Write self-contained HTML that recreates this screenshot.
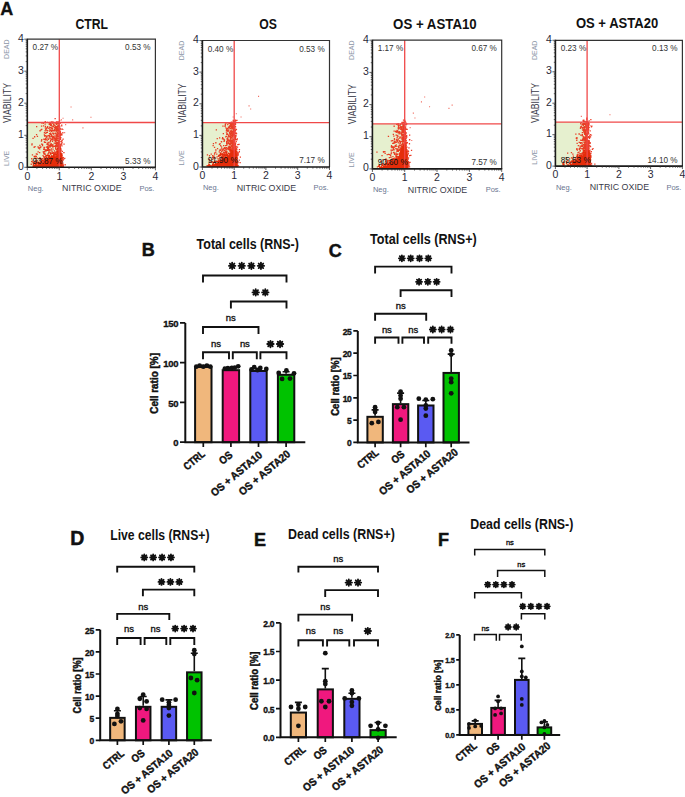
<!DOCTYPE html><html><head><meta charset="utf-8"><style>html,body{margin:0;padding:0;background:#fff;overflow:hidden;width:685px;height:797px;}svg{display:block;}</style></head><body>
<svg width="685" height="797" viewBox="0 0 685 797" font-family='"Liberation Sans", sans-serif'>
<rect width="685" height="797" fill="#fff"/>
<text x="0.3" y="14.6" font-size="18" font-weight="bold" fill="#111" stroke="#111" stroke-width="0.3">A</text>
<text x="75.4" y="28.9" textLength="32.6" lengthAdjust="spacingAndGlyphs" font-size="14.5" font-weight="bold" fill="#111">CTRL</text>
<rect x="27.3" y="122.5" width="32.0" height="44.8" fill="#e6f0cf"/>
<path d="M46.1 163.9h1.3v1.3h-1.3zM40.9 159.4h1.3v1.3h-1.3zM43.1 148.7h1.3v1.3h-1.3zM55.6 133.2h1.3v1.3h-1.3zM32.7 165.2h1.3v1.3h-1.3zM55.9 151.7h1.3v1.3h-1.3zM48.8 134.7h1.3v1.3h-1.3zM60.1 136.9h1.3v1.3h-1.3zM31.7 160.5h1.3v1.3h-1.3zM49.4 166.1h1.3v1.3h-1.3zM49.2 146.4h1.3v1.3h-1.3zM55.1 160.9h1.3v1.3h-1.3zM51.3 152.2h1.3v1.3h-1.3zM58.6 151.4h1.3v1.3h-1.3zM59.3 148.6h1.3v1.3h-1.3zM50.1 160.9h1.3v1.3h-1.3zM59.6 150.4h1.3v1.3h-1.3zM58.3 130.4h1.3v1.3h-1.3zM55.4 145.6h1.3v1.3h-1.3zM55.9 121.3h1.3v1.3h-1.3zM53.9 129.1h1.3v1.3h-1.3zM53.6 136.9h1.3v1.3h-1.3zM49.7 137.5h1.3v1.3h-1.3zM56.2 130.9h1.3v1.3h-1.3zM55.4 139.7h1.3v1.3h-1.3zM48.2 127.8h1.3v1.3h-1.3zM47.1 129.9h1.3v1.3h-1.3zM59.6 165.9h1.3v1.3h-1.3zM54.8 132.7h1.3v1.3h-1.3zM56.5 146.0h1.3v1.3h-1.3zM55.4 137.9h1.3v1.3h-1.3zM49.2 151.4h1.3v1.3h-1.3zM57.6 148.0h1.3v1.3h-1.3zM44.6 153.5h1.3v1.3h-1.3zM56.6 148.9h1.3v1.3h-1.3zM59.7 137.9h1.3v1.3h-1.3zM53.0 121.9h1.3v1.3h-1.3zM52.3 162.6h1.3v1.3h-1.3zM39.1 148.3h1.3v1.3h-1.3zM57.9 146.5h1.3v1.3h-1.3zM59.0 129.1h1.3v1.3h-1.3zM49.5 123.7h1.3v1.3h-1.3zM51.2 144.5h1.3v1.3h-1.3zM57.8 146.1h1.3v1.3h-1.3zM44.5 123.4h1.3v1.3h-1.3zM59.7 131.4h1.3v1.3h-1.3zM59.2 127.6h1.3v1.3h-1.3zM37.9 147.5h1.3v1.3h-1.3zM56.6 145.4h1.3v1.3h-1.3zM58.8 128.6h1.3v1.3h-1.3zM55.9 144.9h1.3v1.3h-1.3zM46.1 149.2h1.3v1.3h-1.3zM50.8 155.1h1.3v1.3h-1.3zM48.4 142.2h1.3v1.3h-1.3zM57.6 142.8h1.3v1.3h-1.3zM59.4 160.4h1.3v1.3h-1.3zM35.7 162.4h1.3v1.3h-1.3zM50.0 132.6h1.3v1.3h-1.3zM57.1 132.7h1.3v1.3h-1.3zM53.3 130.2h1.3v1.3h-1.3zM58.5 139.5h1.3v1.3h-1.3zM58.9 165.3h1.3v1.3h-1.3zM45.1 159.7h1.3v1.3h-1.3zM48.3 155.7h1.3v1.3h-1.3zM50.5 165.8h1.3v1.3h-1.3zM45.4 162.7h1.3v1.3h-1.3zM56.6 158.7h1.3v1.3h-1.3zM45.8 156.7h1.3v1.3h-1.3zM47.9 149.7h1.3v1.3h-1.3zM58.4 152.2h1.3v1.3h-1.3zM36.5 162.0h1.3v1.3h-1.3zM43.5 147.9h1.3v1.3h-1.3zM39.7 161.2h1.3v1.3h-1.3zM43.2 166.1h1.3v1.3h-1.3zM58.6 163.5h1.3v1.3h-1.3zM53.9 137.8h1.3v1.3h-1.3zM52.7 139.3h1.3v1.3h-1.3zM58.6 122.3h1.3v1.3h-1.3zM53.0 132.7h1.3v1.3h-1.3zM59.4 140.9h1.3v1.3h-1.3zM50.0 153.4h1.3v1.3h-1.3zM55.6 141.8h1.3v1.3h-1.3zM48.5 165.2h1.3v1.3h-1.3zM51.7 129.2h1.3v1.3h-1.3zM36.8 135.7h1.3v1.3h-1.3zM60.3 152.4h1.3v1.3h-1.3zM59.0 128.0h1.3v1.3h-1.3zM44.1 165.5h1.3v1.3h-1.3zM45.3 128.7h1.3v1.3h-1.3zM57.1 148.0h1.3v1.3h-1.3zM55.1 154.2h1.3v1.3h-1.3zM54.0 139.5h1.3v1.3h-1.3zM58.2 151.7h1.3v1.3h-1.3zM55.3 139.9h1.3v1.3h-1.3zM48.1 157.8h1.3v1.3h-1.3zM60.3 128.5h1.3v1.3h-1.3zM54.0 126.8h1.3v1.3h-1.3zM59.3 156.4h1.3v1.3h-1.3zM58.7 121.6h1.3v1.3h-1.3zM47.6 161.1h1.3v1.3h-1.3zM46.7 139.5h1.3v1.3h-1.3zM33.7 155.7h1.3v1.3h-1.3zM56.0 127.8h1.3v1.3h-1.3zM51.0 121.7h1.3v1.3h-1.3zM59.4 160.2h1.3v1.3h-1.3zM54.3 162.7h1.3v1.3h-1.3zM56.6 126.2h1.3v1.3h-1.3zM41.0 143.4h1.3v1.3h-1.3zM54.2 130.2h1.3v1.3h-1.3zM51.0 158.0h1.3v1.3h-1.3zM41.1 128.7h1.3v1.3h-1.3zM45.8 127.6h1.3v1.3h-1.3zM53.8 163.9h1.3v1.3h-1.3zM58.1 166.0h1.3v1.3h-1.3zM55.9 128.8h1.3v1.3h-1.3zM35.7 155.8h1.3v1.3h-1.3zM58.0 142.6h1.3v1.3h-1.3zM48.9 144.9h1.3v1.3h-1.3zM50.6 160.7h1.3v1.3h-1.3zM56.6 127.3h1.3v1.3h-1.3zM48.4 145.2h1.3v1.3h-1.3zM53.3 158.5h1.3v1.3h-1.3zM59.5 133.3h1.3v1.3h-1.3zM58.7 139.7h1.3v1.3h-1.3zM37.3 165.2h1.3v1.3h-1.3zM39.7 165.9h1.3v1.3h-1.3zM56.5 121.6h1.3v1.3h-1.3zM56.9 162.8h1.3v1.3h-1.3zM60.0 160.0h1.3v1.3h-1.3zM55.9 126.2h1.3v1.3h-1.3zM31.8 154.2h1.3v1.3h-1.3zM54.7 157.8h1.3v1.3h-1.3zM53.9 159.5h1.3v1.3h-1.3zM59.5 140.7h1.3v1.3h-1.3zM57.7 157.8h1.3v1.3h-1.3zM50.6 143.6h1.3v1.3h-1.3zM56.3 166.0h1.3v1.3h-1.3zM36.0 126.0h1.3v1.3h-1.3zM53.0 164.6h1.3v1.3h-1.3zM31.0 161.0h1.3v1.3h-1.3zM37.4 146.3h1.3v1.3h-1.3zM55.8 138.7h1.3v1.3h-1.3zM52.3 146.4h1.3v1.3h-1.3zM60.2 157.3h1.3v1.3h-1.3zM54.6 158.4h1.3v1.3h-1.3zM48.2 121.9h1.3v1.3h-1.3zM54.9 141.1h1.3v1.3h-1.3zM54.2 124.4h1.3v1.3h-1.3zM52.9 156.4h1.3v1.3h-1.3zM43.8 156.9h1.3v1.3h-1.3zM36.5 157.5h1.3v1.3h-1.3zM43.2 156.1h1.3v1.3h-1.3zM56.0 143.6h1.3v1.3h-1.3zM49.9 159.8h1.3v1.3h-1.3zM58.9 165.8h1.3v1.3h-1.3zM56.0 145.9h1.3v1.3h-1.3zM58.3 141.5h1.3v1.3h-1.3zM56.1 158.0h1.3v1.3h-1.3zM49.3 129.0h1.3v1.3h-1.3zM34.5 163.2h1.3v1.3h-1.3zM60.0 165.6h1.3v1.3h-1.3zM53.0 123.9h1.3v1.3h-1.3zM46.8 121.8h1.3v1.3h-1.3zM58.2 131.3h1.3v1.3h-1.3zM55.0 147.7h1.3v1.3h-1.3zM55.0 125.7h1.3v1.3h-1.3zM30.6 163.6h1.3v1.3h-1.3zM52.3 126.2h1.3v1.3h-1.3zM58.7 126.6h1.3v1.3h-1.3zM43.9 132.3h1.3v1.3h-1.3zM49.0 135.6h1.3v1.3h-1.3zM55.1 138.7h1.3v1.3h-1.3zM46.4 163.1h1.3v1.3h-1.3zM56.2 137.3h1.3v1.3h-1.3zM50.4 166.0h1.3v1.3h-1.3zM56.2 123.1h1.3v1.3h-1.3zM45.9 146.4h1.3v1.3h-1.3zM50.8 129.6h1.3v1.3h-1.3zM56.4 155.9h1.3v1.3h-1.3zM40.4 159.3h1.3v1.3h-1.3zM57.4 152.4h1.3v1.3h-1.3zM49.9 144.9h1.3v1.3h-1.3zM55.1 163.8h1.3v1.3h-1.3zM58.7 164.2h1.3v1.3h-1.3zM35.7 153.3h1.3v1.3h-1.3zM53.0 153.1h1.3v1.3h-1.3zM53.2 165.6h1.3v1.3h-1.3zM52.4 148.4h1.3v1.3h-1.3zM50.7 138.8h1.3v1.3h-1.3zM59.4 136.4h1.3v1.3h-1.3zM45.6 149.5h1.3v1.3h-1.3zM44.9 160.6h1.3v1.3h-1.3zM54.0 126.4h1.3v1.3h-1.3zM58.2 125.8h1.3v1.3h-1.3zM39.0 166.0h1.3v1.3h-1.3zM55.1 147.9h1.3v1.3h-1.3zM56.0 134.5h1.3v1.3h-1.3zM54.7 127.8h1.3v1.3h-1.3zM46.2 129.8h1.3v1.3h-1.3zM53.7 154.5h1.3v1.3h-1.3zM41.9 143.7h1.3v1.3h-1.3zM40.4 129.3h1.3v1.3h-1.3zM41.9 144.9h1.3v1.3h-1.3zM60.2 162.4h1.3v1.3h-1.3zM51.9 145.0h1.3v1.3h-1.3zM45.1 134.9h1.3v1.3h-1.3zM55.0 137.2h1.3v1.3h-1.3zM52.3 155.5h1.3v1.3h-1.3zM59.7 136.5h1.3v1.3h-1.3zM33.3 165.5h1.3v1.3h-1.3zM57.3 158.9h1.3v1.3h-1.3zM55.3 126.1h1.3v1.3h-1.3zM58.8 133.9h1.3v1.3h-1.3zM52.0 130.2h1.3v1.3h-1.3zM43.5 151.1h1.3v1.3h-1.3zM51.3 125.4h1.3v1.3h-1.3zM58.5 132.4h1.3v1.3h-1.3zM54.4 151.7h1.3v1.3h-1.3zM49.1 164.1h1.3v1.3h-1.3zM55.7 126.3h1.3v1.3h-1.3zM58.8 143.4h1.3v1.3h-1.3zM52.2 152.8h1.3v1.3h-1.3zM52.4 159.7h1.3v1.3h-1.3zM53.4 135.4h1.3v1.3h-1.3zM60.1 151.4h1.3v1.3h-1.3zM46.0 165.3h1.3v1.3h-1.3zM46.3 161.3h1.3v1.3h-1.3zM49.6 158.2h1.3v1.3h-1.3zM57.8 144.1h1.3v1.3h-1.3zM50.2 159.6h1.3v1.3h-1.3zM43.8 132.1h1.3v1.3h-1.3zM50.4 122.5h1.3v1.3h-1.3zM57.1 129.4h1.3v1.3h-1.3zM51.0 134.3h1.3v1.3h-1.3zM54.5 158.3h1.3v1.3h-1.3zM57.7 164.7h1.3v1.3h-1.3zM55.3 135.5h1.3v1.3h-1.3zM40.2 146.2h1.3v1.3h-1.3zM57.0 122.5h1.3v1.3h-1.3zM41.3 163.8h1.3v1.3h-1.3zM60.2 157.1h1.3v1.3h-1.3zM50.8 148.3h1.3v1.3h-1.3zM45.8 165.7h1.3v1.3h-1.3zM55.9 150.9h1.3v1.3h-1.3zM50.4 133.5h1.3v1.3h-1.3zM44.2 139.0h1.3v1.3h-1.3zM59.4 154.2h1.3v1.3h-1.3zM48.8 161.4h1.3v1.3h-1.3zM60.1 143.5h1.3v1.3h-1.3zM54.8 127.9h1.3v1.3h-1.3zM51.1 121.6h1.3v1.3h-1.3zM53.7 150.3h1.3v1.3h-1.3zM50.8 135.6h1.3v1.3h-1.3zM58.5 121.6h1.3v1.3h-1.3zM53.6 142.4h1.3v1.3h-1.3zM59.6 146.9h1.3v1.3h-1.3zM59.4 153.7h1.3v1.3h-1.3zM39.0 152.0h1.3v1.3h-1.3zM47.1 144.2h1.3v1.3h-1.3zM45.9 136.2h1.3v1.3h-1.3zM47.9 148.8h1.3v1.3h-1.3zM50.5 135.6h1.3v1.3h-1.3zM47.4 141.8h1.3v1.3h-1.3zM47.6 152.9h1.3v1.3h-1.3zM50.9 124.6h1.3v1.3h-1.3zM50.2 133.5h1.3v1.3h-1.3zM46.0 131.7h1.3v1.3h-1.3zM54.9 143.1h1.3v1.3h-1.3zM53.3 137.7h1.3v1.3h-1.3zM54.9 128.3h1.3v1.3h-1.3zM58.7 130.7h1.3v1.3h-1.3zM56.5 149.2h1.3v1.3h-1.3zM59.5 147.9h1.3v1.3h-1.3zM51.4 135.6h1.3v1.3h-1.3zM55.3 140.4h1.3v1.3h-1.3zM59.1 138.6h1.3v1.3h-1.3zM53.6 153.1h1.3v1.3h-1.3zM42.3 161.2h1.3v1.3h-1.3zM51.8 161.3h1.3v1.3h-1.3zM52.6 165.7h1.3v1.3h-1.3zM50.8 130.8h1.3v1.3h-1.3zM58.6 147.9h1.3v1.3h-1.3zM52.6 136.1h1.3v1.3h-1.3zM46.4 137.4h1.3v1.3h-1.3zM58.6 131.7h1.3v1.3h-1.3zM41.1 160.3h1.3v1.3h-1.3zM50.3 145.4h1.3v1.3h-1.3zM45.1 128.7h1.3v1.3h-1.3zM54.3 156.3h1.3v1.3h-1.3zM32.4 137.7h1.3v1.3h-1.3zM39.4 130.1h1.3v1.3h-1.3zM55.5 142.2h1.3v1.3h-1.3zM39.3 156.9h1.3v1.3h-1.3zM53.0 133.4h1.3v1.3h-1.3zM54.2 161.9h1.3v1.3h-1.3zM56.5 122.5h1.3v1.3h-1.3zM42.6 151.2h1.3v1.3h-1.3zM50.5 143.1h1.3v1.3h-1.3zM52.8 159.2h1.3v1.3h-1.3zM59.0 163.8h1.3v1.3h-1.3zM48.6 137.2h1.3v1.3h-1.3zM42.3 160.0h1.3v1.3h-1.3zM58.5 137.1h1.3v1.3h-1.3zM48.0 164.8h1.3v1.3h-1.3zM54.3 153.3h1.3v1.3h-1.3zM60.0 162.1h1.3v1.3h-1.3zM34.7 165.9h1.3v1.3h-1.3zM42.2 165.4h1.3v1.3h-1.3zM46.7 131.7h1.3v1.3h-1.3zM56.1 155.8h1.3v1.3h-1.3zM49.0 130.4h1.3v1.3h-1.3zM45.0 165.1h1.3v1.3h-1.3zM47.5 153.2h1.3v1.3h-1.3zM59.8 162.7h1.3v1.3h-1.3zM53.6 160.4h1.3v1.3h-1.3zM48.3 144.4h1.3v1.3h-1.3zM57.5 161.1h1.3v1.3h-1.3zM50.0 143.7h1.3v1.3h-1.3zM57.4 126.3h1.3v1.3h-1.3zM60.2 132.7h1.3v1.3h-1.3zM56.2 129.3h1.3v1.3h-1.3zM49.7 144.4h1.3v1.3h-1.3zM44.8 125.7h1.3v1.3h-1.3zM47.5 134.9h1.3v1.3h-1.3zM58.1 163.3h1.3v1.3h-1.3zM59.0 163.5h1.3v1.3h-1.3zM50.0 140.0h1.3v1.3h-1.3zM55.3 164.0h1.3v1.3h-1.3zM45.5 150.2h1.3v1.3h-1.3zM32.8 166.0h1.3v1.3h-1.3zM52.6 130.2h1.3v1.3h-1.3zM57.2 164.4h1.3v1.3h-1.3zM39.6 165.2h1.3v1.3h-1.3zM57.7 135.7h1.3v1.3h-1.3zM51.0 138.8h1.3v1.3h-1.3zM44.3 153.7h1.3v1.3h-1.3zM44.1 141.8h1.3v1.3h-1.3zM56.5 159.9h1.3v1.3h-1.3zM42.0 166.1h1.3v1.3h-1.3zM53.2 155.5h1.3v1.3h-1.3zM47.1 143.1h1.3v1.3h-1.3zM53.6 166.1h1.3v1.3h-1.3zM52.7 155.3h1.3v1.3h-1.3zM56.9 128.0h1.3v1.3h-1.3zM49.6 152.1h1.3v1.3h-1.3zM45.9 135.7h1.3v1.3h-1.3zM60.2 136.9h1.3v1.3h-1.3zM53.6 122.3h1.3v1.3h-1.3zM35.4 163.3h1.3v1.3h-1.3zM50.8 129.6h1.3v1.3h-1.3zM37.3 165.6h1.3v1.3h-1.3zM47.1 154.5h1.3v1.3h-1.3zM49.8 121.8h1.3v1.3h-1.3zM56.3 151.2h1.3v1.3h-1.3zM42.2 164.1h1.3v1.3h-1.3zM51.1 127.8h1.3v1.3h-1.3zM53.8 165.3h1.3v1.3h-1.3zM59.3 165.4h1.3v1.3h-1.3zM42.1 165.8h1.3v1.3h-1.3zM44.5 164.0h1.3v1.3h-1.3zM53.2 132.9h1.3v1.3h-1.3zM35.0 157.4h1.3v1.3h-1.3zM59.8 152.0h1.3v1.3h-1.3zM43.0 156.3h1.3v1.3h-1.3zM53.2 155.9h1.3v1.3h-1.3zM31.3 144.2h1.3v1.3h-1.3zM51.1 164.8h1.3v1.3h-1.3zM52.5 121.6h1.3v1.3h-1.3zM51.7 137.0h1.3v1.3h-1.3zM43.9 146.7h1.3v1.3h-1.3zM56.4 127.0h1.3v1.3h-1.3zM49.8 163.1h1.3v1.3h-1.3zM54.3 154.5h1.3v1.3h-1.3zM59.5 155.6h1.3v1.3h-1.3zM39.2 144.7h1.3v1.3h-1.3zM54.6 140.7h1.3v1.3h-1.3zM56.5 157.0h1.3v1.3h-1.3zM48.2 156.5h1.3v1.3h-1.3zM47.3 135.4h1.3v1.3h-1.3zM60.2 163.4h1.3v1.3h-1.3zM56.5 126.0h1.3v1.3h-1.3zM48.5 165.9h1.3v1.3h-1.3zM41.0 122.1h1.3v1.3h-1.3zM57.7 125.2h1.3v1.3h-1.3zM52.2 122.7h1.3v1.3h-1.3zM40.9 125.5h1.3v1.3h-1.3zM52.0 132.5h1.3v1.3h-1.3zM49.4 144.7h1.3v1.3h-1.3zM57.4 121.3h1.3v1.3h-1.3zM44.0 135.5h1.3v1.3h-1.3zM42.4 154.9h1.3v1.3h-1.3zM53.6 153.1h1.3v1.3h-1.3zM44.8 150.2h1.3v1.3h-1.3zM58.0 162.7h1.3v1.3h-1.3zM53.1 163.4h1.3v1.3h-1.3zM49.1 126.4h1.3v1.3h-1.3zM40.7 162.1h1.3v1.3h-1.3zM47.5 166.0h1.3v1.3h-1.3zM59.7 146.2h1.3v1.3h-1.3zM53.7 159.2h1.3v1.3h-1.3zM55.7 141.7h1.3v1.3h-1.3zM59.3 165.8h1.3v1.3h-1.3zM56.5 129.7h1.3v1.3h-1.3zM55.6 129.0h1.3v1.3h-1.3zM40.6 165.4h1.3v1.3h-1.3zM40.5 158.3h1.3v1.3h-1.3zM44.7 127.3h1.3v1.3h-1.3zM49.3 127.2h1.3v1.3h-1.3zM53.0 152.0h1.3v1.3h-1.3zM50.1 124.2h1.3v1.3h-1.3zM57.4 132.7h1.3v1.3h-1.3zM44.6 121.0h1.3v1.3h-1.3zM53.3 159.4h1.3v1.3h-1.3zM43.7 134.2h1.3v1.3h-1.3zM47.8 147.7h1.3v1.3h-1.3zM59.5 127.8h1.3v1.3h-1.3zM57.7 132.8h1.3v1.3h-1.3zM58.9 129.6h1.3v1.3h-1.3zM56.3 150.5h1.3v1.3h-1.3zM51.6 138.6h1.3v1.3h-1.3zM51.0 165.2h1.3v1.3h-1.3zM54.1 135.5h1.3v1.3h-1.3zM49.1 122.6h1.3v1.3h-1.3zM56.1 145.9h1.3v1.3h-1.3zM38.4 147.2h1.3v1.3h-1.3zM55.9 123.7h1.3v1.3h-1.3zM52.6 152.8h1.3v1.3h-1.3zM51.7 157.5h1.3v1.3h-1.3zM46.9 148.1h1.3v1.3h-1.3zM54.5 122.3h1.3v1.3h-1.3zM34.0 136.1h1.3v1.3h-1.3zM52.0 145.1h1.3v1.3h-1.3zM53.4 124.7h1.3v1.3h-1.3zM50.5 127.1h1.3v1.3h-1.3zM42.9 125.3h1.3v1.3h-1.3zM52.1 129.9h1.3v1.3h-1.3zM52.6 132.8h1.3v1.3h-1.3zM60.2 154.4h1.3v1.3h-1.3zM44.8 156.0h1.3v1.3h-1.3zM51.4 150.6h1.3v1.3h-1.3zM52.2 152.5h1.3v1.3h-1.3zM54.8 165.2h1.3v1.3h-1.3zM52.2 143.9h1.3v1.3h-1.3zM49.6 158.1h1.3v1.3h-1.3zM60.1 147.8h1.3v1.3h-1.3zM56.2 135.9h1.3v1.3h-1.3zM49.9 133.8h1.3v1.3h-1.3zM57.1 149.1h1.3v1.3h-1.3zM50.2 122.6h1.3v1.3h-1.3zM55.5 137.2h1.3v1.3h-1.3zM57.7 122.9h1.3v1.3h-1.3zM49.6 160.5h1.3v1.3h-1.3zM58.7 149.4h1.3v1.3h-1.3zM48.6 123.7h1.3v1.3h-1.3zM50.8 130.6h1.3v1.3h-1.3zM34.4 146.0h1.3v1.3h-1.3zM43.4 146.7h1.3v1.3h-1.3zM42.6 122.7h1.3v1.3h-1.3zM45.8 164.9h1.3v1.3h-1.3zM56.5 139.6h1.3v1.3h-1.3zM59.1 164.4h1.3v1.3h-1.3zM50.2 149.4h1.3v1.3h-1.3zM48.9 132.9h1.3v1.3h-1.3zM45.0 139.3h1.3v1.3h-1.3zM43.4 165.4h1.3v1.3h-1.3zM47.2 157.8h1.3v1.3h-1.3zM55.2 148.1h1.3v1.3h-1.3zM57.5 129.5h1.3v1.3h-1.3zM36.1 164.8h1.3v1.3h-1.3zM40.0 161.5h1.3v1.3h-1.3zM38.0 147.4h1.3v1.3h-1.3zM51.2 121.3h1.3v1.3h-1.3zM31.1 158.1h1.3v1.3h-1.3zM59.1 146.2h1.3v1.3h-1.3zM59.5 161.0h1.3v1.3h-1.3zM48.9 149.1h1.3v1.3h-1.3zM38.3 165.2h1.3v1.3h-1.3zM59.4 122.7h1.3v1.3h-1.3zM45.8 158.9h1.3v1.3h-1.3zM57.4 134.8h1.3v1.3h-1.3zM59.2 130.1h1.3v1.3h-1.3zM51.6 137.8h1.3v1.3h-1.3zM54.4 152.7h1.3v1.3h-1.3zM54.5 145.4h1.3v1.3h-1.3zM46.2 143.5h1.3v1.3h-1.3zM56.7 142.9h1.3v1.3h-1.3zM50.2 163.4h1.3v1.3h-1.3zM55.7 138.3h1.3v1.3h-1.3zM57.3 159.0h1.3v1.3h-1.3zM48.5 149.9h1.3v1.3h-1.3zM53.6 155.9h1.3v1.3h-1.3zM56.5 128.0h1.3v1.3h-1.3zM56.5 138.4h1.3v1.3h-1.3zM59.3 156.5h1.3v1.3h-1.3zM47.9 138.6h1.3v1.3h-1.3zM46.5 127.3h1.3v1.3h-1.3zM48.1 156.9h1.3v1.3h-1.3zM59.8 164.1h1.3v1.3h-1.3zM60.0 163.7h1.3v1.3h-1.3zM55.1 146.5h1.3v1.3h-1.3zM44.9 137.9h1.3v1.3h-1.3zM52.0 160.6h1.3v1.3h-1.3zM33.3 161.6h1.3v1.3h-1.3zM49.2 152.2h1.3v1.3h-1.3zM47.5 165.5h1.3v1.3h-1.3zM58.7 165.4h1.3v1.3h-1.3zM43.0 160.6h1.3v1.3h-1.3zM57.8 143.3h1.3v1.3h-1.3zM59.9 156.3h1.3v1.3h-1.3zM60.2 163.7h1.3v1.3h-1.3zM41.1 139.1h1.3v1.3h-1.3zM39.0 166.0h1.3v1.3h-1.3zM50.1 156.9h1.3v1.3h-1.3zM57.0 158.9h1.3v1.3h-1.3zM59.2 163.7h1.3v1.3h-1.3zM43.2 153.2h1.3v1.3h-1.3zM52.2 160.0h1.3v1.3h-1.3zM58.3 139.2h1.3v1.3h-1.3zM44.1 156.7h1.3v1.3h-1.3zM50.5 123.9h1.3v1.3h-1.3zM43.7 141.2h1.3v1.3h-1.3zM44.5 130.1h1.3v1.3h-1.3zM43.9 153.0h1.3v1.3h-1.3zM50.3 139.2h1.3v1.3h-1.3zM50.2 145.2h1.3v1.3h-1.3zM39.8 146.7h1.3v1.3h-1.3zM45.0 141.7h1.3v1.3h-1.3zM46.7 146.0h1.3v1.3h-1.3zM54.6 162.5h1.3v1.3h-1.3zM43.9 161.0h1.3v1.3h-1.3zM53.3 159.6h1.3v1.3h-1.3zM44.9 158.8h1.3v1.3h-1.3zM57.5 153.0h1.3v1.3h-1.3zM45.3 164.9h1.3v1.3h-1.3zM47.6 146.2h1.3v1.3h-1.3zM49.5 146.2h1.3v1.3h-1.3zM45.4 138.9h1.3v1.3h-1.3zM52.2 165.9h1.3v1.3h-1.3zM47.0 126.0h1.3v1.3h-1.3zM52.9 163.6h1.3v1.3h-1.3zM55.5 130.2h1.3v1.3h-1.3zM49.7 129.8h1.3v1.3h-1.3zM34.3 163.0h1.3v1.3h-1.3zM52.5 129.8h1.3v1.3h-1.3zM49.6 164.4h1.3v1.3h-1.3zM58.1 143.3h1.3v1.3h-1.3zM45.2 132.6h1.3v1.3h-1.3zM31.4 143.2h1.3v1.3h-1.3zM59.1 125.7h1.3v1.3h-1.3zM49.6 141.1h1.3v1.3h-1.3zM51.8 127.8h1.3v1.3h-1.3zM57.1 150.4h1.3v1.3h-1.3zM43.1 152.2h1.3v1.3h-1.3zM49.8 124.8h1.3v1.3h-1.3zM49.2 165.6h1.3v1.3h-1.3zM60.1 166.1h1.3v1.3h-1.3zM59.8 164.6h1.3v1.3h-1.3zM46.6 163.7h1.3v1.3h-1.3zM59.6 158.8h1.3v1.3h-1.3zM49.5 121.8h1.3v1.3h-1.3zM52.2 132.4h1.3v1.3h-1.3zM59.7 131.4h1.3v1.3h-1.3zM34.8 160.0h1.3v1.3h-1.3zM55.9 145.3h1.3v1.3h-1.3zM55.5 133.9h1.3v1.3h-1.3zM52.8 125.8h1.3v1.3h-1.3zM34.8 155.6h1.3v1.3h-1.3zM40.8 140.4h1.3v1.3h-1.3zM59.6 165.7h1.3v1.3h-1.3zM53.6 154.3h1.3v1.3h-1.3zM37.5 151.3h1.3v1.3h-1.3zM51.5 138.1h1.3v1.3h-1.3zM46.8 165.4h1.3v1.3h-1.3zM53.9 127.3h1.3v1.3h-1.3zM44.4 149.1h1.3v1.3h-1.3zM51.3 155.8h1.3v1.3h-1.3zM46.9 127.0h1.3v1.3h-1.3zM42.0 162.5h1.3v1.3h-1.3zM52.3 137.2h1.3v1.3h-1.3zM55.6 122.7h1.3v1.3h-1.3zM57.6 140.4h1.3v1.3h-1.3zM46.6 149.8h1.3v1.3h-1.3zM57.4 148.8h1.3v1.3h-1.3zM37.6 161.8h1.3v1.3h-1.3zM44.1 151.3h1.3v1.3h-1.3zM57.1 125.2h1.3v1.3h-1.3zM54.6 130.3h1.3v1.3h-1.3zM48.7 164.7h1.3v1.3h-1.3zM51.8 165.3h1.3v1.3h-1.3zM57.1 139.9h1.3v1.3h-1.3zM58.9 132.7h1.3v1.3h-1.3zM55.3 122.5h1.3v1.3h-1.3zM58.4 131.1h1.3v1.3h-1.3zM59.4 153.3h1.3v1.3h-1.3zM58.1 141.6h1.3v1.3h-1.3zM33.5 146.6h1.3v1.3h-1.3zM36.5 153.6h1.3v1.3h-1.3zM59.8 121.9h1.3v1.3h-1.3zM55.8 126.4h1.3v1.3h-1.3zM49.3 160.1h1.3v1.3h-1.3zM35.9 134.0h1.3v1.3h-1.3zM45.9 162.5h1.3v1.3h-1.3zM47.8 144.2h1.3v1.3h-1.3zM59.4 132.9h1.3v1.3h-1.3zM58.0 124.7h1.3v1.3h-1.3zM43.3 138.6h1.3v1.3h-1.3zM51.9 140.6h1.3v1.3h-1.3zM58.5 133.7h1.3v1.3h-1.3zM51.3 164.4h1.3v1.3h-1.3zM50.9 145.4h1.3v1.3h-1.3zM55.2 160.1h1.3v1.3h-1.3zM47.8 165.8h1.3v1.3h-1.3zM57.2 152.5h1.3v1.3h-1.3zM41.9 143.7h1.3v1.3h-1.3zM58.4 156.8h1.3v1.3h-1.3zM46.6 146.7h1.3v1.3h-1.3zM55.4 152.4h1.3v1.3h-1.3zM48.9 162.7h1.3v1.3h-1.3zM51.6 161.5h1.3v1.3h-1.3zM56.6 131.6h1.3v1.3h-1.3zM55.0 145.1h1.3v1.3h-1.3zM57.6 130.0h1.3v1.3h-1.3zM45.5 136.4h1.3v1.3h-1.3zM53.8 156.0h1.3v1.3h-1.3zM52.2 155.5h1.3v1.3h-1.3zM52.6 158.5h1.3v1.3h-1.3zM58.6 164.0h1.3v1.3h-1.3zM52.0 159.5h1.3v1.3h-1.3zM39.6 146.6h1.3v1.3h-1.3zM34.2 161.6h1.3v1.3h-1.3zM49.9 144.5h1.3v1.3h-1.3zM54.1 145.8h1.3v1.3h-1.3zM55.5 142.1h1.3v1.3h-1.3zM59.1 165.6h1.3v1.3h-1.3zM56.7 135.6h1.3v1.3h-1.3zM53.0 154.0h1.3v1.3h-1.3zM42.5 164.1h1.3v1.3h-1.3zM52.2 146.5h1.3v1.3h-1.3zM55.9 154.0h1.3v1.3h-1.3zM38.9 158.2h1.3v1.3h-1.3zM58.8 138.1h1.3v1.3h-1.3zM60.9 160.5h1.3v1.3h-1.3zM60.9 155.0h1.3v1.3h-1.3zM59.9 163.5h1.3v1.3h-1.3zM57.6 157.3h1.3v1.3h-1.3zM61.2 152.9h1.3v1.3h-1.3zM58.4 152.0h1.3v1.3h-1.3zM57.1 165.3h1.3v1.3h-1.3zM59.9 161.2h1.3v1.3h-1.3zM54.7 151.4h1.3v1.3h-1.3zM59.7 165.6h1.3v1.3h-1.3zM56.6 162.8h1.3v1.3h-1.3zM57.5 163.6h1.3v1.3h-1.3zM58.3 129.4h1.3v1.3h-1.3zM59.0 147.6h1.3v1.3h-1.3zM56.9 126.2h1.3v1.3h-1.3zM58.1 165.0h1.3v1.3h-1.3zM57.2 166.0h1.3v1.3h-1.3zM58.5 163.7h1.3v1.3h-1.3zM56.8 156.8h1.3v1.3h-1.3zM58.1 152.1h1.3v1.3h-1.3zM60.6 149.5h1.3v1.3h-1.3zM55.2 126.6h1.3v1.3h-1.3zM58.3 143.8h1.3v1.3h-1.3zM58.3 158.5h1.3v1.3h-1.3zM59.1 138.8h1.3v1.3h-1.3zM56.7 165.1h1.3v1.3h-1.3zM57.7 165.9h1.3v1.3h-1.3zM54.8 139.6h1.3v1.3h-1.3zM57.5 129.1h1.3v1.3h-1.3zM58.2 165.7h1.3v1.3h-1.3zM57.9 158.5h1.3v1.3h-1.3zM60.4 158.0h1.3v1.3h-1.3zM57.8 163.9h1.3v1.3h-1.3zM57.3 155.9h1.3v1.3h-1.3zM58.2 160.2h1.3v1.3h-1.3zM61.1 133.7h1.3v1.3h-1.3zM58.0 165.2h1.3v1.3h-1.3zM58.9 157.5h1.3v1.3h-1.3zM57.5 164.7h1.3v1.3h-1.3zM58.3 129.3h1.3v1.3h-1.3zM58.8 156.2h1.3v1.3h-1.3zM54.3 138.4h1.3v1.3h-1.3zM61.4 141.8h1.3v1.3h-1.3zM57.4 137.7h1.3v1.3h-1.3zM57.1 129.5h1.3v1.3h-1.3zM60.2 157.1h1.3v1.3h-1.3zM57.6 128.8h1.3v1.3h-1.3zM56.5 156.9h1.3v1.3h-1.3zM59.3 161.2h1.3v1.3h-1.3zM55.7 164.7h1.3v1.3h-1.3zM56.7 162.1h1.3v1.3h-1.3zM59.0 135.2h1.3v1.3h-1.3zM55.7 158.7h1.3v1.3h-1.3zM57.7 142.2h1.3v1.3h-1.3zM58.0 153.6h1.3v1.3h-1.3zM59.5 165.7h1.3v1.3h-1.3zM57.5 154.5h1.3v1.3h-1.3zM56.8 151.1h1.3v1.3h-1.3zM57.4 151.2h1.3v1.3h-1.3zM56.6 137.2h1.3v1.3h-1.3zM59.0 140.7h1.3v1.3h-1.3zM59.1 165.9h1.3v1.3h-1.3zM59.6 131.1h1.3v1.3h-1.3zM59.5 164.7h1.3v1.3h-1.3zM59.2 155.9h1.3v1.3h-1.3zM61.5 139.7h1.3v1.3h-1.3zM58.3 152.3h1.3v1.3h-1.3zM60.4 165.3h1.3v1.3h-1.3zM59.2 162.4h1.3v1.3h-1.3zM56.4 154.5h1.3v1.3h-1.3zM57.4 166.1h1.3v1.3h-1.3zM59.5 164.3h1.3v1.3h-1.3zM57.9 165.9h1.3v1.3h-1.3zM58.2 162.0h1.3v1.3h-1.3zM57.1 163.5h1.3v1.3h-1.3zM55.8 162.1h1.3v1.3h-1.3zM58.7 161.6h1.3v1.3h-1.3zM61.3 134.2h1.3v1.3h-1.3zM57.9 166.0h1.3v1.3h-1.3zM61.2 161.2h1.3v1.3h-1.3zM56.9 165.0h1.3v1.3h-1.3zM56.6 158.0h1.3v1.3h-1.3zM60.4 165.8h1.3v1.3h-1.3zM58.7 145.1h1.3v1.3h-1.3zM58.1 153.1h1.3v1.3h-1.3zM59.5 149.9h1.3v1.3h-1.3zM57.2 163.8h1.3v1.3h-1.3zM59.8 165.3h1.3v1.3h-1.3zM59.9 165.2h1.3v1.3h-1.3zM58.5 162.3h1.3v1.3h-1.3zM58.9 160.8h1.3v1.3h-1.3zM59.1 146.7h1.3v1.3h-1.3zM62.0 165.1h1.3v1.3h-1.3zM58.3 166.1h1.3v1.3h-1.3zM60.4 144.1h1.3v1.3h-1.3zM58.5 165.9h1.3v1.3h-1.3zM58.0 155.3h1.3v1.3h-1.3zM57.9 163.5h1.3v1.3h-1.3zM60.2 159.9h1.3v1.3h-1.3zM57.8 159.3h1.3v1.3h-1.3zM57.5 164.1h1.3v1.3h-1.3zM57.3 148.8h1.3v1.3h-1.3zM61.9 158.4h1.3v1.3h-1.3zM58.7 157.0h1.3v1.3h-1.3zM58.4 165.5h1.3v1.3h-1.3zM56.3 151.6h1.3v1.3h-1.3zM55.0 158.2h1.3v1.3h-1.3zM58.0 147.6h1.3v1.3h-1.3zM58.9 158.6h1.3v1.3h-1.3zM59.7 147.9h1.3v1.3h-1.3zM54.6 138.7h1.3v1.3h-1.3zM56.6 154.0h1.3v1.3h-1.3zM57.8 156.9h1.3v1.3h-1.3zM55.6 149.0h1.3v1.3h-1.3zM56.9 157.7h1.3v1.3h-1.3zM59.5 157.1h1.3v1.3h-1.3zM56.3 155.4h1.3v1.3h-1.3zM59.1 154.0h1.3v1.3h-1.3zM56.3 162.5h1.3v1.3h-1.3zM58.0 161.4h1.3v1.3h-1.3zM58.1 157.5h1.3v1.3h-1.3zM58.6 131.7h1.3v1.3h-1.3zM60.1 148.0h1.3v1.3h-1.3zM57.6 125.7h1.3v1.3h-1.3zM56.2 159.5h1.3v1.3h-1.3zM57.4 158.1h1.3v1.3h-1.3zM57.2 142.7h1.3v1.3h-1.3zM58.4 165.8h1.3v1.3h-1.3zM55.7 165.8h1.3v1.3h-1.3zM59.1 153.1h1.3v1.3h-1.3zM55.2 163.6h1.3v1.3h-1.3zM61.9 165.9h1.3v1.3h-1.3zM61.7 150.7h1.3v1.3h-1.3zM56.9 165.1h1.3v1.3h-1.3zM54.6 152.3h1.3v1.3h-1.3zM60.8 163.1h1.3v1.3h-1.3zM57.8 164.1h1.3v1.3h-1.3zM56.3 144.0h1.3v1.3h-1.3zM58.3 160.0h1.3v1.3h-1.3zM56.6 161.7h1.3v1.3h-1.3zM59.3 157.4h1.3v1.3h-1.3zM59.3 135.1h1.3v1.3h-1.3zM58.8 122.9h1.3v1.3h-1.3zM56.7 152.3h1.3v1.3h-1.3zM56.8 162.8h1.3v1.3h-1.3zM58.6 159.3h1.3v1.3h-1.3zM59.3 145.5h1.3v1.3h-1.3zM60.9 133.5h1.3v1.3h-1.3zM58.4 161.4h1.3v1.3h-1.3zM58.2 156.3h1.3v1.3h-1.3zM58.0 159.9h1.3v1.3h-1.3zM59.7 154.4h1.3v1.3h-1.3zM57.0 161.2h1.3v1.3h-1.3zM57.2 152.5h1.3v1.3h-1.3zM57.7 154.6h1.3v1.3h-1.3zM59.7 162.1h1.3v1.3h-1.3zM58.5 165.9h1.3v1.3h-1.3zM55.1 156.5h1.3v1.3h-1.3zM58.3 145.2h1.3v1.3h-1.3zM59.6 145.1h1.3v1.3h-1.3zM58.3 159.8h1.3v1.3h-1.3zM59.9 163.1h1.3v1.3h-1.3zM59.5 155.8h1.3v1.3h-1.3zM62.3 165.1h1.3v1.3h-1.3zM56.3 166.1h1.3v1.3h-1.3zM58.0 166.0h1.3v1.3h-1.3zM55.3 165.6h1.3v1.3h-1.3zM58.6 160.8h1.3v1.3h-1.3zM58.4 163.5h1.3v1.3h-1.3zM57.8 163.7h1.3v1.3h-1.3zM60.3 162.7h1.3v1.3h-1.3zM59.2 163.0h1.3v1.3h-1.3zM61.6 162.9h1.3v1.3h-1.3zM57.0 154.3h1.3v1.3h-1.3zM58.8 158.9h1.3v1.3h-1.3zM59.3 165.3h1.3v1.3h-1.3zM60.5 163.4h1.3v1.3h-1.3zM59.0 164.2h1.3v1.3h-1.3zM58.0 141.9h1.3v1.3h-1.3zM60.2 133.6h1.3v1.3h-1.3zM60.8 164.7h1.3v1.3h-1.3zM58.0 165.5h1.3v1.3h-1.3zM59.8 157.9h1.3v1.3h-1.3zM58.0 142.0h1.3v1.3h-1.3zM57.7 163.7h1.3v1.3h-1.3zM61.3 145.3h1.3v1.3h-1.3zM61.0 140.6h1.3v1.3h-1.3zM58.1 163.3h1.3v1.3h-1.3zM59.6 158.5h1.3v1.3h-1.3zM59.6 162.7h1.3v1.3h-1.3zM58.6 163.8h1.3v1.3h-1.3zM55.2 160.4h1.3v1.3h-1.3zM59.3 150.0h1.3v1.3h-1.3zM59.4 152.0h1.3v1.3h-1.3zM57.2 158.4h1.3v1.3h-1.3zM59.9 162.8h1.3v1.3h-1.3zM55.5 128.6h1.3v1.3h-1.3zM58.8 152.4h1.3v1.3h-1.3zM58.8 141.7h1.3v1.3h-1.3zM54.8 132.6h1.3v1.3h-1.3zM57.6 124.5h1.3v1.3h-1.3zM57.1 144.8h1.3v1.3h-1.3zM59.6 160.4h1.3v1.3h-1.3zM58.1 159.2h1.3v1.3h-1.3zM58.4 165.1h1.3v1.3h-1.3zM55.4 164.4h1.3v1.3h-1.3zM57.0 147.4h1.3v1.3h-1.3zM56.2 164.7h1.3v1.3h-1.3zM59.0 165.0h1.3v1.3h-1.3zM57.5 166.0h1.3v1.3h-1.3zM57.6 150.7h1.3v1.3h-1.3zM59.2 164.3h1.3v1.3h-1.3zM57.3 158.3h1.3v1.3h-1.3zM61.1 154.5h1.3v1.3h-1.3zM56.0 137.5h1.3v1.3h-1.3zM59.3 148.8h1.3v1.3h-1.3zM58.8 155.1h1.3v1.3h-1.3zM58.9 146.6h1.3v1.3h-1.3zM59.8 156.0h1.3v1.3h-1.3zM60.1 134.6h1.3v1.3h-1.3zM56.2 151.5h1.3v1.3h-1.3zM57.9 149.7h1.3v1.3h-1.3zM59.0 119.8h1.3v1.3h-1.3zM58.1 165.1h1.3v1.3h-1.3zM60.6 163.5h1.3v1.3h-1.3zM59.2 162.8h1.3v1.3h-1.3zM57.2 159.0h1.3v1.3h-1.3zM62.0 160.2h1.3v1.3h-1.3zM59.5 148.1h1.3v1.3h-1.3zM59.1 165.7h1.3v1.3h-1.3zM58.9 131.9h1.3v1.3h-1.3zM58.6 164.9h1.3v1.3h-1.3zM59.7 155.9h1.3v1.3h-1.3zM55.0 130.3h1.3v1.3h-1.3zM57.5 154.8h1.3v1.3h-1.3zM59.8 158.2h1.3v1.3h-1.3zM56.8 157.0h1.3v1.3h-1.3zM57.3 155.8h1.3v1.3h-1.3zM59.7 166.1h1.3v1.3h-1.3zM58.4 163.6h1.3v1.3h-1.3zM57.5 163.6h1.3v1.3h-1.3zM58.0 164.4h1.3v1.3h-1.3zM58.8 160.1h1.3v1.3h-1.3zM57.0 152.2h1.3v1.3h-1.3zM55.5 165.8h1.3v1.3h-1.3zM58.8 150.8h1.3v1.3h-1.3zM59.7 153.6h1.3v1.3h-1.3zM56.1 138.2h1.3v1.3h-1.3zM54.3 165.8h1.3v1.3h-1.3zM58.9 156.8h1.3v1.3h-1.3zM58.5 160.0h1.3v1.3h-1.3zM58.8 154.2h1.3v1.3h-1.3zM58.8 161.2h1.3v1.3h-1.3zM53.4 145.6h1.3v1.3h-1.3zM56.1 152.4h1.3v1.3h-1.3zM56.7 131.9h1.3v1.3h-1.3zM57.6 158.7h1.3v1.3h-1.3zM60.5 165.2h1.3v1.3h-1.3zM59.3 165.9h1.3v1.3h-1.3zM57.2 160.9h1.3v1.3h-1.3zM61.2 162.6h1.3v1.3h-1.3zM54.4 161.4h1.3v1.3h-1.3zM58.7 161.7h1.3v1.3h-1.3zM60.0 151.2h1.3v1.3h-1.3zM58.9 125.3h1.3v1.3h-1.3zM56.9 163.4h1.3v1.3h-1.3zM60.2 154.0h1.3v1.3h-1.3zM56.5 153.6h1.3v1.3h-1.3zM56.9 161.1h1.3v1.3h-1.3zM56.8 160.4h1.3v1.3h-1.3zM59.5 153.9h1.3v1.3h-1.3zM57.0 134.1h1.3v1.3h-1.3zM59.4 138.7h1.3v1.3h-1.3zM58.2 162.8h1.3v1.3h-1.3zM57.2 145.7h1.3v1.3h-1.3zM56.3 165.4h1.3v1.3h-1.3zM58.3 127.4h1.3v1.3h-1.3zM56.6 141.9h1.3v1.3h-1.3zM57.6 165.5h1.3v1.3h-1.3zM58.3 154.1h1.3v1.3h-1.3zM57.4 153.1h1.3v1.3h-1.3zM57.9 165.7h1.3v1.3h-1.3zM55.4 148.7h1.3v1.3h-1.3zM58.1 149.9h1.3v1.3h-1.3zM59.0 144.6h1.3v1.3h-1.3zM59.3 160.2h1.3v1.3h-1.3zM59.8 138.6h1.3v1.3h-1.3zM54.5 117.9h1.3v1.3h-1.3zM62.7 164.3h1.3v1.3h-1.3zM61.9 156.5h1.3v1.3h-1.3zM60.4 133.8h1.3v1.3h-1.3zM61.8 165.1h1.3v1.3h-1.3zM62.5 165.2h1.3v1.3h-1.3zM62.3 162.4h1.3v1.3h-1.3zM60.4 164.1h1.3v1.3h-1.3zM61.7 128.4h1.3v1.3h-1.3zM61.6 154.4h1.3v1.3h-1.3zM63.0 158.4h1.3v1.3h-1.3zM61.0 164.3h1.3v1.3h-1.3zM63.2 152.0h1.3v1.3h-1.3zM61.1 142.5h1.3v1.3h-1.3zM60.4 162.0h1.3v1.3h-1.3zM60.5 165.3h1.3v1.3h-1.3zM62.3 159.6h1.3v1.3h-1.3zM63.3 151.9h1.3v1.3h-1.3zM61.2 158.0h1.3v1.3h-1.3zM62.5 138.4h1.3v1.3h-1.3zM60.5 165.7h1.3v1.3h-1.3zM61.3 157.9h1.3v1.3h-1.3zM64.5 164.1h1.3v1.3h-1.3zM61.7 165.9h1.3v1.3h-1.3zM64.1 157.7h1.3v1.3h-1.3zM63.4 143.4h1.3v1.3h-1.3zM61.4 164.2h1.3v1.3h-1.3zM61.1 143.4h1.3v1.3h-1.3zM60.5 154.3h1.3v1.3h-1.3zM61.1 125.2h1.3v1.3h-1.3zM61.7 163.1h1.3v1.3h-1.3zM62.2 132.1h1.3v1.3h-1.3zM62.7 165.6h1.3v1.3h-1.3zM61.1 124.6h1.3v1.3h-1.3zM61.6 157.3h1.3v1.3h-1.3zM60.3 154.8h1.3v1.3h-1.3zM63.1 158.4h1.3v1.3h-1.3zM62.7 156.9h1.3v1.3h-1.3z" fill="#e8240c" opacity="0.88"/>
<path d="M62.5 117.7h1.1v1.1h-1.1zM65.1 124.1h1.1v1.1h-1.1zM70.5 106.5h1.1v1.1h-1.1zM72.1 119.3h1.1v1.1h-1.1zM82.4 127.3h1.1v1.1h-1.1zM90.4 116.7h1.1v1.1h-1.1zM60.9 119.3h1.1v1.1h-1.1zM62.5 128.9h1.1v1.1h-1.1zM64.1 132.1h1.1v1.1h-1.1z" fill="#ee4030" opacity="0.75"/>
<path d="M55.6 165.2h1.3v1.3h-1.3zM58.8 158.6h1.3v1.3h-1.3zM38.4 165.5h1.3v1.3h-1.3zM47.5 165.8h1.3v1.3h-1.3zM57.2 165.2h1.3v1.3h-1.3zM58.7 165.6h1.3v1.3h-1.3zM51.8 163.7h1.3v1.3h-1.3zM52.1 165.0h1.3v1.3h-1.3zM60.2 159.9h1.3v1.3h-1.3zM56.1 157.4h1.3v1.3h-1.3zM45.9 164.5h1.3v1.3h-1.3zM43.2 163.2h1.3v1.3h-1.3zM48.9 163.9h1.3v1.3h-1.3zM57.3 160.6h1.3v1.3h-1.3zM58.2 159.6h1.3v1.3h-1.3zM41.8 162.5h1.3v1.3h-1.3zM57.3 159.5h1.3v1.3h-1.3zM48.5 160.5h1.3v1.3h-1.3zM46.8 163.7h1.3v1.3h-1.3zM58.4 160.1h1.3v1.3h-1.3zM53.0 161.1h1.3v1.3h-1.3zM51.7 165.9h1.3v1.3h-1.3zM56.3 163.3h1.3v1.3h-1.3zM35.0 164.6h1.3v1.3h-1.3zM49.4 165.2h1.3v1.3h-1.3zM51.8 163.9h1.3v1.3h-1.3zM52.8 159.5h1.3v1.3h-1.3zM52.2 157.8h1.3v1.3h-1.3zM53.3 164.1h1.3v1.3h-1.3zM48.3 165.4h1.3v1.3h-1.3zM54.4 165.4h1.3v1.3h-1.3zM48.7 156.7h1.3v1.3h-1.3zM57.9 158.9h1.3v1.3h-1.3zM37.8 165.0h1.3v1.3h-1.3zM56.4 165.5h1.3v1.3h-1.3zM50.5 159.7h1.3v1.3h-1.3zM48.2 165.4h1.3v1.3h-1.3zM55.9 165.7h1.3v1.3h-1.3zM49.5 162.8h1.3v1.3h-1.3zM53.8 165.7h1.3v1.3h-1.3zM57.6 158.5h1.3v1.3h-1.3zM32.4 162.1h1.3v1.3h-1.3zM58.4 163.2h1.3v1.3h-1.3zM40.0 158.1h1.3v1.3h-1.3zM39.7 158.3h1.3v1.3h-1.3zM51.4 161.1h1.3v1.3h-1.3zM56.4 164.9h1.3v1.3h-1.3zM44.3 161.6h1.3v1.3h-1.3zM50.6 165.6h1.3v1.3h-1.3zM52.8 163.4h1.3v1.3h-1.3zM53.1 165.1h1.3v1.3h-1.3zM61.0 159.9h1.3v1.3h-1.3zM58.7 164.8h1.3v1.3h-1.3zM58.6 159.2h1.3v1.3h-1.3zM52.5 163.5h1.3v1.3h-1.3zM45.5 158.5h1.3v1.3h-1.3zM57.4 165.9h1.3v1.3h-1.3zM59.3 159.5h1.3v1.3h-1.3zM50.7 159.6h1.3v1.3h-1.3zM36.3 163.5h1.3v1.3h-1.3zM60.8 157.4h1.3v1.3h-1.3zM57.1 155.9h1.3v1.3h-1.3zM41.9 163.0h1.3v1.3h-1.3zM42.8 163.0h1.3v1.3h-1.3zM53.9 162.3h1.3v1.3h-1.3zM51.4 159.2h1.3v1.3h-1.3zM60.8 159.5h1.3v1.3h-1.3zM47.8 161.8h1.3v1.3h-1.3zM52.3 163.4h1.3v1.3h-1.3zM46.6 161.1h1.3v1.3h-1.3zM55.5 162.1h1.3v1.3h-1.3zM58.8 163.2h1.3v1.3h-1.3zM57.8 163.0h1.3v1.3h-1.3zM59.4 157.9h1.3v1.3h-1.3zM57.6 158.8h1.3v1.3h-1.3zM59.5 165.4h1.3v1.3h-1.3zM41.8 162.6h1.3v1.3h-1.3zM60.7 160.5h1.3v1.3h-1.3zM48.3 165.8h1.3v1.3h-1.3zM48.4 161.0h1.3v1.3h-1.3zM42.2 159.9h1.3v1.3h-1.3zM44.5 165.8h1.3v1.3h-1.3zM57.8 160.6h1.3v1.3h-1.3zM47.5 164.4h1.3v1.3h-1.3zM55.9 162.2h1.3v1.3h-1.3zM53.5 164.7h1.3v1.3h-1.3zM51.7 162.9h1.3v1.3h-1.3zM59.2 166.0h1.3v1.3h-1.3zM47.3 165.6h1.3v1.3h-1.3zM60.5 164.9h1.3v1.3h-1.3zM56.2 160.8h1.3v1.3h-1.3zM57.9 165.0h1.3v1.3h-1.3zM57.8 158.0h1.3v1.3h-1.3zM56.4 158.7h1.3v1.3h-1.3zM58.2 161.0h1.3v1.3h-1.3zM54.4 160.7h1.3v1.3h-1.3zM59.2 157.0h1.3v1.3h-1.3zM59.5 165.1h1.3v1.3h-1.3zM51.5 156.5h1.3v1.3h-1.3zM57.1 165.3h1.3v1.3h-1.3zM49.4 156.3h1.3v1.3h-1.3zM51.5 160.1h1.3v1.3h-1.3zM54.5 160.8h1.3v1.3h-1.3zM56.7 163.3h1.3v1.3h-1.3zM45.6 164.2h1.3v1.3h-1.3zM55.3 159.9h1.3v1.3h-1.3zM58.9 165.9h1.3v1.3h-1.3zM56.0 163.0h1.3v1.3h-1.3zM52.9 162.3h1.3v1.3h-1.3zM36.5 159.9h1.3v1.3h-1.3zM59.5 159.5h1.3v1.3h-1.3zM53.1 165.4h1.3v1.3h-1.3zM57.6 159.1h1.3v1.3h-1.3zM48.0 164.2h1.3v1.3h-1.3zM45.7 161.4h1.3v1.3h-1.3zM50.5 164.0h1.3v1.3h-1.3zM46.4 163.9h1.3v1.3h-1.3zM59.3 158.4h1.3v1.3h-1.3zM56.8 166.0h1.3v1.3h-1.3zM58.4 154.0h1.3v1.3h-1.3zM52.7 165.0h1.3v1.3h-1.3zM44.9 161.3h1.3v1.3h-1.3zM58.8 162.0h1.3v1.3h-1.3zM46.6 149.8h1.3v1.3h-1.3zM61.1 154.8h1.3v1.3h-1.3zM56.2 157.5h1.3v1.3h-1.3zM54.2 160.5h1.3v1.3h-1.3zM45.3 154.9h1.3v1.3h-1.3zM57.6 156.6h1.3v1.3h-1.3zM58.0 165.6h1.3v1.3h-1.3zM60.8 165.8h1.3v1.3h-1.3zM57.8 157.8h1.3v1.3h-1.3zM58.9 164.4h1.3v1.3h-1.3zM46.2 163.8h1.3v1.3h-1.3zM48.7 160.9h1.3v1.3h-1.3zM56.1 161.0h1.3v1.3h-1.3zM52.6 161.3h1.3v1.3h-1.3zM53.2 159.1h1.3v1.3h-1.3zM57.1 166.0h1.3v1.3h-1.3zM57.8 159.4h1.3v1.3h-1.3zM41.7 163.5h1.3v1.3h-1.3zM55.1 165.4h1.3v1.3h-1.3zM57.1 165.5h1.3v1.3h-1.3zM47.8 161.4h1.3v1.3h-1.3zM57.8 162.6h1.3v1.3h-1.3zM50.3 161.7h1.3v1.3h-1.3zM34.9 165.8h1.3v1.3h-1.3zM60.1 166.1h1.3v1.3h-1.3zM55.1 163.3h1.3v1.3h-1.3zM59.4 160.5h1.3v1.3h-1.3zM53.6 165.8h1.3v1.3h-1.3zM57.7 165.5h1.3v1.3h-1.3zM49.7 164.3h1.3v1.3h-1.3zM52.1 163.8h1.3v1.3h-1.3zM44.2 158.7h1.3v1.3h-1.3zM60.3 156.0h1.3v1.3h-1.3zM46.4 158.7h1.3v1.3h-1.3zM53.3 165.3h1.3v1.3h-1.3zM41.0 165.1h1.3v1.3h-1.3zM60.5 164.3h1.3v1.3h-1.3zM39.4 161.8h1.3v1.3h-1.3zM60.4 165.8h1.3v1.3h-1.3zM41.7 165.6h1.3v1.3h-1.3zM60.8 153.6h1.3v1.3h-1.3zM43.4 164.4h1.3v1.3h-1.3zM58.9 166.0h1.3v1.3h-1.3zM46.8 165.2h1.3v1.3h-1.3zM46.9 158.8h1.3v1.3h-1.3zM44.7 159.1h1.3v1.3h-1.3zM48.4 165.2h1.3v1.3h-1.3zM60.7 164.4h1.3v1.3h-1.3zM43.9 165.9h1.3v1.3h-1.3zM49.0 161.5h1.3v1.3h-1.3zM50.9 156.1h1.3v1.3h-1.3zM55.9 159.9h1.3v1.3h-1.3zM53.8 157.8h1.3v1.3h-1.3zM46.0 156.4h1.3v1.3h-1.3zM56.2 165.2h1.3v1.3h-1.3zM44.6 165.0h1.3v1.3h-1.3zM54.9 164.5h1.3v1.3h-1.3zM44.0 165.8h1.3v1.3h-1.3zM55.9 165.8h1.3v1.3h-1.3zM53.8 165.4h1.3v1.3h-1.3zM32.7 164.2h1.3v1.3h-1.3zM59.6 165.4h1.3v1.3h-1.3zM52.5 158.0h1.3v1.3h-1.3zM56.9 157.1h1.3v1.3h-1.3zM39.4 164.8h1.3v1.3h-1.3zM50.2 153.1h1.3v1.3h-1.3zM59.0 159.0h1.3v1.3h-1.3zM48.4 159.8h1.3v1.3h-1.3zM59.0 160.0h1.3v1.3h-1.3zM53.7 164.8h1.3v1.3h-1.3zM58.5 155.9h1.3v1.3h-1.3zM58.5 165.0h1.3v1.3h-1.3zM40.8 160.9h1.3v1.3h-1.3zM54.2 159.7h1.3v1.3h-1.3zM58.1 166.0h1.3v1.3h-1.3zM58.5 162.0h1.3v1.3h-1.3zM47.0 164.5h1.3v1.3h-1.3zM48.3 158.2h1.3v1.3h-1.3zM55.3 164.9h1.3v1.3h-1.3zM47.1 158.2h1.3v1.3h-1.3zM43.0 165.1h1.3v1.3h-1.3zM48.8 160.7h1.3v1.3h-1.3zM51.8 164.5h1.3v1.3h-1.3zM60.0 165.6h1.3v1.3h-1.3zM48.5 159.4h1.3v1.3h-1.3zM54.0 164.4h1.3v1.3h-1.3zM53.1 164.7h1.3v1.3h-1.3zM53.8 165.5h1.3v1.3h-1.3zM52.3 156.5h1.3v1.3h-1.3zM54.2 163.3h1.3v1.3h-1.3zM56.8 163.6h1.3v1.3h-1.3zM59.3 163.0h1.3v1.3h-1.3zM42.6 164.8h1.3v1.3h-1.3zM52.9 165.6h1.3v1.3h-1.3zM50.9 162.3h1.3v1.3h-1.3zM48.0 165.4h1.3v1.3h-1.3zM58.8 165.2h1.3v1.3h-1.3zM45.5 165.4h1.3v1.3h-1.3zM60.6 165.1h1.3v1.3h-1.3zM57.9 159.6h1.3v1.3h-1.3zM52.4 165.6h1.3v1.3h-1.3zM44.4 165.3h1.3v1.3h-1.3zM56.3 163.1h1.3v1.3h-1.3zM53.1 164.2h1.3v1.3h-1.3zM60.9 165.3h1.3v1.3h-1.3zM60.7 165.4h1.3v1.3h-1.3zM55.7 161.1h1.3v1.3h-1.3zM52.2 165.7h1.3v1.3h-1.3zM55.4 164.4h1.3v1.3h-1.3zM37.8 162.6h1.3v1.3h-1.3zM50.1 160.3h1.3v1.3h-1.3zM58.6 165.1h1.3v1.3h-1.3zM59.8 162.8h1.3v1.3h-1.3zM58.8 155.2h1.3v1.3h-1.3zM60.7 166.0h1.3v1.3h-1.3zM60.6 163.8h1.3v1.3h-1.3zM58.5 165.0h1.3v1.3h-1.3zM59.4 163.2h1.3v1.3h-1.3zM60.8 162.1h1.3v1.3h-1.3zM44.7 165.2h1.3v1.3h-1.3zM58.9 159.5h1.3v1.3h-1.3zM53.1 165.6h1.3v1.3h-1.3zM49.4 156.5h1.3v1.3h-1.3zM58.3 166.0h1.3v1.3h-1.3zM53.1 165.5h1.3v1.3h-1.3zM50.0 156.8h1.3v1.3h-1.3zM44.0 165.3h1.3v1.3h-1.3zM58.0 165.6h1.3v1.3h-1.3zM54.9 166.0h1.3v1.3h-1.3zM55.3 161.9h1.3v1.3h-1.3zM57.3 165.9h1.3v1.3h-1.3zM33.1 162.9h1.3v1.3h-1.3zM59.7 165.5h1.3v1.3h-1.3zM47.4 164.5h1.3v1.3h-1.3zM59.8 163.6h1.3v1.3h-1.3zM54.7 161.1h1.3v1.3h-1.3zM55.9 155.7h1.3v1.3h-1.3zM59.8 165.3h1.3v1.3h-1.3zM58.1 165.5h1.3v1.3h-1.3zM60.1 163.4h1.3v1.3h-1.3zM47.2 163.8h1.3v1.3h-1.3zM37.4 161.6h1.3v1.3h-1.3zM58.6 158.0h1.3v1.3h-1.3zM57.9 165.7h1.3v1.3h-1.3zM49.8 163.5h1.3v1.3h-1.3zM60.4 161.2h1.3v1.3h-1.3zM46.8 163.8h1.3v1.3h-1.3zM50.8 163.3h1.3v1.3h-1.3zM57.5 161.7h1.3v1.3h-1.3zM60.7 159.0h1.3v1.3h-1.3zM50.8 160.9h1.3v1.3h-1.3zM51.6 159.6h1.3v1.3h-1.3zM51.1 157.9h1.3v1.3h-1.3zM56.0 161.4h1.3v1.3h-1.3zM58.9 165.4h1.3v1.3h-1.3zM33.4 165.5h1.3v1.3h-1.3zM57.8 159.9h1.3v1.3h-1.3zM51.2 160.0h1.3v1.3h-1.3zM44.3 165.9h1.3v1.3h-1.3zM36.5 166.0h1.3v1.3h-1.3zM55.8 164.6h1.3v1.3h-1.3zM43.9 163.4h1.3v1.3h-1.3zM46.2 165.7h1.3v1.3h-1.3zM59.1 162.5h1.3v1.3h-1.3zM58.3 166.0h1.3v1.3h-1.3zM50.1 160.6h1.3v1.3h-1.3zM41.0 165.3h1.3v1.3h-1.3zM50.9 164.3h1.3v1.3h-1.3zM47.6 160.1h1.3v1.3h-1.3zM56.6 156.2h1.3v1.3h-1.3zM58.8 158.0h1.3v1.3h-1.3zM48.2 163.2h1.3v1.3h-1.3zM54.4 153.5h1.3v1.3h-1.3zM60.7 166.1h1.3v1.3h-1.3zM59.1 161.9h1.3v1.3h-1.3zM58.1 158.7h1.3v1.3h-1.3zM59.0 165.2h1.3v1.3h-1.3zM44.5 160.3h1.3v1.3h-1.3zM58.5 165.6h1.3v1.3h-1.3zM48.0 151.4h1.3v1.3h-1.3zM48.2 165.9h1.3v1.3h-1.3zM60.9 159.3h1.3v1.3h-1.3zM56.2 164.5h1.3v1.3h-1.3zM53.7 164.9h1.3v1.3h-1.3zM55.7 158.5h1.3v1.3h-1.3zM59.2 160.5h1.3v1.3h-1.3zM47.9 162.7h1.3v1.3h-1.3zM48.4 165.9h1.3v1.3h-1.3zM60.6 162.2h1.3v1.3h-1.3zM41.3 159.7h1.3v1.3h-1.3zM53.2 156.6h1.3v1.3h-1.3zM53.2 165.7h1.3v1.3h-1.3zM49.1 163.4h1.3v1.3h-1.3zM60.7 159.7h1.3v1.3h-1.3zM35.4 158.1h1.3v1.3h-1.3zM50.2 165.8h1.3v1.3h-1.3zM37.8 163.9h1.3v1.3h-1.3zM58.3 162.3h1.3v1.3h-1.3zM50.2 162.2h1.3v1.3h-1.3zM50.7 159.7h1.3v1.3h-1.3zM58.6 165.4h1.3v1.3h-1.3zM34.8 165.9h1.3v1.3h-1.3zM60.9 155.8h1.3v1.3h-1.3zM58.9 165.3h1.3v1.3h-1.3zM56.7 164.5h1.3v1.3h-1.3zM56.3 164.4h1.3v1.3h-1.3zM53.7 160.6h1.3v1.3h-1.3zM45.6 161.0h1.3v1.3h-1.3zM59.8 165.4h1.3v1.3h-1.3zM58.7 156.9h1.3v1.3h-1.3zM45.0 165.0h1.3v1.3h-1.3zM48.9 156.8h1.3v1.3h-1.3zM46.1 156.8h1.3v1.3h-1.3zM57.9 165.3h1.3v1.3h-1.3zM49.2 164.5h1.3v1.3h-1.3zM51.2 163.3h1.3v1.3h-1.3zM42.0 164.7h1.3v1.3h-1.3zM57.7 162.7h1.3v1.3h-1.3zM57.8 166.1h1.3v1.3h-1.3zM57.1 151.0h1.3v1.3h-1.3zM55.7 159.5h1.3v1.3h-1.3zM59.1 159.0h1.3v1.3h-1.3zM60.0 163.8h1.3v1.3h-1.3zM37.8 164.9h1.3v1.3h-1.3zM55.9 164.0h1.3v1.3h-1.3zM58.5 162.9h1.3v1.3h-1.3zM47.9 156.8h1.3v1.3h-1.3zM40.6 164.6h1.3v1.3h-1.3zM39.2 163.5h1.3v1.3h-1.3zM52.2 163.1h1.3v1.3h-1.3zM60.3 157.3h1.3v1.3h-1.3zM60.2 164.8h1.3v1.3h-1.3zM55.9 164.8h1.3v1.3h-1.3zM54.8 161.5h1.3v1.3h-1.3zM55.1 161.6h1.3v1.3h-1.3zM44.4 158.0h1.3v1.3h-1.3zM58.2 165.2h1.3v1.3h-1.3zM50.3 158.8h1.3v1.3h-1.3zM54.6 160.2h1.3v1.3h-1.3zM59.9 163.4h1.3v1.3h-1.3zM61.1 165.9h1.3v1.3h-1.3zM41.3 165.5h1.3v1.3h-1.3zM53.5 160.8h1.3v1.3h-1.3zM56.9 162.9h1.3v1.3h-1.3zM57.3 165.0h1.3v1.3h-1.3zM55.9 163.5h1.3v1.3h-1.3zM50.0 165.4h1.3v1.3h-1.3zM58.8 157.4h1.3v1.3h-1.3zM53.7 163.9h1.3v1.3h-1.3zM36.0 165.6h1.3v1.3h-1.3zM52.6 159.1h1.3v1.3h-1.3zM56.2 159.4h1.3v1.3h-1.3zM49.7 165.2h1.3v1.3h-1.3zM42.5 165.0h1.3v1.3h-1.3zM56.9 165.3h1.3v1.3h-1.3zM56.4 158.1h1.3v1.3h-1.3zM51.2 163.4h1.3v1.3h-1.3zM35.7 165.1h1.3v1.3h-1.3zM59.4 153.2h1.3v1.3h-1.3zM44.1 165.9h1.3v1.3h-1.3zM49.0 165.7h1.3v1.3h-1.3zM56.9 153.1h1.3v1.3h-1.3zM47.4 164.6h1.3v1.3h-1.3zM49.6 158.2h1.3v1.3h-1.3zM48.1 163.1h1.3v1.3h-1.3zM44.5 165.9h1.3v1.3h-1.3zM60.0 162.4h1.3v1.3h-1.3zM43.3 162.5h1.3v1.3h-1.3zM48.4 155.5h1.3v1.3h-1.3zM57.7 164.2h1.3v1.3h-1.3zM50.6 164.2h1.3v1.3h-1.3zM59.9 153.1h1.3v1.3h-1.3zM52.3 159.7h1.3v1.3h-1.3zM61.0 158.1h1.3v1.3h-1.3zM48.8 154.7h1.3v1.3h-1.3zM54.2 162.3h1.3v1.3h-1.3zM38.3 165.8h1.3v1.3h-1.3zM53.4 165.5h1.3v1.3h-1.3zM50.8 165.8h1.3v1.3h-1.3zM60.9 164.1h1.3v1.3h-1.3zM43.7 161.9h1.3v1.3h-1.3zM48.7 155.2h1.3v1.3h-1.3zM57.9 156.4h1.3v1.3h-1.3zM59.9 164.8h1.3v1.3h-1.3zM55.9 166.1h1.3v1.3h-1.3zM58.0 165.7h1.3v1.3h-1.3zM55.4 166.0h1.3v1.3h-1.3zM42.5 159.6h1.3v1.3h-1.3zM59.1 158.6h1.3v1.3h-1.3zM54.5 165.7h1.3v1.3h-1.3zM53.4 155.6h1.3v1.3h-1.3zM55.6 164.7h1.3v1.3h-1.3zM50.5 164.2h1.3v1.3h-1.3zM60.0 155.9h1.3v1.3h-1.3zM51.7 164.5h1.3v1.3h-1.3zM43.8 158.2h1.3v1.3h-1.3zM57.3 166.1h1.3v1.3h-1.3zM58.7 164.7h1.3v1.3h-1.3zM52.0 156.2h1.3v1.3h-1.3zM58.5 162.3h1.3v1.3h-1.3zM36.5 162.3h1.3v1.3h-1.3zM56.1 156.7h1.3v1.3h-1.3zM59.7 164.2h1.3v1.3h-1.3zM59.4 162.9h1.3v1.3h-1.3zM47.1 160.3h1.3v1.3h-1.3zM60.2 154.0h1.3v1.3h-1.3zM57.3 161.6h1.3v1.3h-1.3zM55.6 165.7h1.3v1.3h-1.3zM52.4 164.9h1.3v1.3h-1.3zM48.8 159.7h1.3v1.3h-1.3zM35.0 163.8h1.3v1.3h-1.3zM54.5 164.4h1.3v1.3h-1.3zM55.5 163.8h1.3v1.3h-1.3zM51.6 164.1h1.3v1.3h-1.3zM49.9 160.7h1.3v1.3h-1.3zM55.0 159.3h1.3v1.3h-1.3zM58.5 165.7h1.3v1.3h-1.3zM46.8 165.1h1.3v1.3h-1.3zM52.9 165.9h1.3v1.3h-1.3zM53.3 164.8h1.3v1.3h-1.3zM44.1 159.9h1.3v1.3h-1.3zM61.0 156.3h1.3v1.3h-1.3zM47.4 160.4h1.3v1.3h-1.3zM52.2 157.6h1.3v1.3h-1.3zM52.1 165.7h1.3v1.3h-1.3zM48.6 161.3h1.3v1.3h-1.3zM45.7 163.1h1.3v1.3h-1.3zM53.9 165.8h1.3v1.3h-1.3zM52.0 164.3h1.3v1.3h-1.3zM43.9 166.0h1.3v1.3h-1.3zM33.7 164.7h1.3v1.3h-1.3zM53.1 160.3h1.3v1.3h-1.3zM61.0 165.2h1.3v1.3h-1.3zM43.2 164.3h1.3v1.3h-1.3zM32.6 166.0h1.3v1.3h-1.3zM44.5 163.6h1.3v1.3h-1.3zM47.8 159.3h1.3v1.3h-1.3zM35.3 161.2h1.3v1.3h-1.3zM57.1 162.0h1.3v1.3h-1.3zM43.8 161.8h1.3v1.3h-1.3zM48.5 162.6h1.3v1.3h-1.3zM36.3 161.7h1.3v1.3h-1.3zM50.5 165.7h1.3v1.3h-1.3zM53.8 157.0h1.3v1.3h-1.3zM54.0 164.7h1.3v1.3h-1.3zM59.5 161.5h1.3v1.3h-1.3zM58.1 165.5h1.3v1.3h-1.3zM59.0 163.6h1.3v1.3h-1.3zM38.3 165.6h1.3v1.3h-1.3zM51.1 163.4h1.3v1.3h-1.3zM58.0 165.6h1.3v1.3h-1.3zM48.8 162.4h1.3v1.3h-1.3zM50.1 163.3h1.3v1.3h-1.3zM56.2 160.5h1.3v1.3h-1.3zM52.4 157.8h1.3v1.3h-1.3zM52.6 155.2h1.3v1.3h-1.3zM54.0 164.9h1.3v1.3h-1.3zM46.7 164.3h1.3v1.3h-1.3zM59.1 162.0h1.3v1.3h-1.3zM51.7 165.5h1.3v1.3h-1.3zM54.7 165.8h1.3v1.3h-1.3zM52.1 165.1h1.3v1.3h-1.3zM37.9 162.0h1.3v1.3h-1.3zM55.6 160.6h1.3v1.3h-1.3zM50.3 165.3h1.3v1.3h-1.3zM55.0 165.5h1.3v1.3h-1.3zM51.1 160.0h1.3v1.3h-1.3zM55.3 156.0h1.3v1.3h-1.3zM61.0 163.4h1.3v1.3h-1.3zM58.8 165.9h1.3v1.3h-1.3zM51.7 152.5h1.3v1.3h-1.3zM47.8 164.1h1.3v1.3h-1.3zM49.1 165.0h1.3v1.3h-1.3zM52.0 160.4h1.3v1.3h-1.3zM54.7 166.1h1.3v1.3h-1.3zM48.8 165.7h1.3v1.3h-1.3zM46.3 165.5h1.3v1.3h-1.3zM60.7 166.1h1.3v1.3h-1.3zM58.7 163.7h1.3v1.3h-1.3zM42.9 163.5h1.3v1.3h-1.3zM45.3 164.3h1.3v1.3h-1.3zM40.2 164.4h1.3v1.3h-1.3zM53.6 166.1h1.3v1.3h-1.3zM48.1 155.0h1.3v1.3h-1.3zM45.3 163.5h1.3v1.3h-1.3zM52.9 162.3h1.3v1.3h-1.3zM47.9 147.3h1.3v1.3h-1.3zM47.8 163.0h1.3v1.3h-1.3zM60.6 163.0h1.3v1.3h-1.3zM60.9 164.5h1.3v1.3h-1.3zM48.9 165.4h1.3v1.3h-1.3zM45.7 161.0h1.3v1.3h-1.3zM60.3 159.9h1.3v1.3h-1.3zM55.0 159.1h1.3v1.3h-1.3zM53.3 165.3h1.3v1.3h-1.3zM50.8 165.8h1.3v1.3h-1.3zM54.0 159.6h1.3v1.3h-1.3zM40.8 165.8h1.3v1.3h-1.3zM57.0 165.9h1.3v1.3h-1.3zM52.1 166.1h1.3v1.3h-1.3zM60.1 165.6h1.3v1.3h-1.3zM61.1 161.0h1.3v1.3h-1.3zM57.1 164.2h1.3v1.3h-1.3zM56.4 165.3h1.3v1.3h-1.3zM45.9 163.4h1.3v1.3h-1.3zM58.4 157.2h1.3v1.3h-1.3zM48.3 166.1h1.3v1.3h-1.3zM61.1 165.7h1.3v1.3h-1.3zM46.9 155.0h1.3v1.3h-1.3zM57.6 165.2h1.3v1.3h-1.3zM54.2 162.0h1.3v1.3h-1.3zM56.5 165.8h1.3v1.3h-1.3zM57.4 159.6h1.3v1.3h-1.3zM48.1 161.6h1.3v1.3h-1.3zM46.0 164.2h1.3v1.3h-1.3zM52.7 165.2h1.3v1.3h-1.3zM51.6 166.0h1.3v1.3h-1.3zM60.1 163.7h1.3v1.3h-1.3zM53.0 163.2h1.3v1.3h-1.3zM46.2 165.9h1.3v1.3h-1.3zM50.4 162.2h1.3v1.3h-1.3zM60.1 162.8h1.3v1.3h-1.3zM51.8 164.5h1.3v1.3h-1.3zM47.2 162.5h1.3v1.3h-1.3zM54.1 162.4h1.3v1.3h-1.3zM42.4 165.7h1.3v1.3h-1.3zM35.8 165.9h1.3v1.3h-1.3zM32.8 164.4h1.3v1.3h-1.3zM39.4 163.3h1.3v1.3h-1.3zM51.3 156.8h1.3v1.3h-1.3zM54.7 163.4h1.3v1.3h-1.3zM37.1 164.9h1.3v1.3h-1.3zM60.5 163.6h1.3v1.3h-1.3zM58.0 164.2h1.3v1.3h-1.3zM57.9 162.7h1.3v1.3h-1.3zM52.4 165.2h1.3v1.3h-1.3zM58.7 161.7h1.3v1.3h-1.3zM60.9 157.5h1.3v1.3h-1.3zM49.7 158.9h1.3v1.3h-1.3zM39.0 161.7h1.3v1.3h-1.3zM56.3 161.9h1.3v1.3h-1.3zM53.2 161.6h1.3v1.3h-1.3zM48.8 164.9h1.3v1.3h-1.3zM49.3 156.9h1.3v1.3h-1.3zM53.7 158.3h1.3v1.3h-1.3zM36.1 163.4h1.3v1.3h-1.3zM55.0 158.2h1.3v1.3h-1.3zM47.7 158.0h1.3v1.3h-1.3zM56.9 159.0h1.3v1.3h-1.3zM55.6 163.8h1.3v1.3h-1.3zM49.9 164.9h1.3v1.3h-1.3zM53.0 165.5h1.3v1.3h-1.3zM55.3 162.4h1.3v1.3h-1.3zM60.7 155.6h1.3v1.3h-1.3zM52.8 163.1h1.3v1.3h-1.3zM56.6 159.6h1.3v1.3h-1.3zM48.1 164.3h1.3v1.3h-1.3zM43.6 162.7h1.3v1.3h-1.3zM46.3 154.7h1.3v1.3h-1.3zM60.8 165.8h1.3v1.3h-1.3zM57.5 165.8h1.3v1.3h-1.3zM55.2 165.8h1.3v1.3h-1.3zM44.6 165.6h1.3v1.3h-1.3zM37.9 166.0h1.3v1.3h-1.3zM57.8 163.5h1.3v1.3h-1.3zM43.5 165.9h1.3v1.3h-1.3zM49.9 157.6h1.3v1.3h-1.3zM57.0 165.6h1.3v1.3h-1.3zM43.4 164.5h1.3v1.3h-1.3zM52.6 165.5h1.3v1.3h-1.3zM58.0 159.5h1.3v1.3h-1.3zM56.9 147.9h1.3v1.3h-1.3zM43.7 165.7h1.3v1.3h-1.3zM55.1 160.4h1.3v1.3h-1.3zM47.3 163.7h1.3v1.3h-1.3zM55.9 159.8h1.3v1.3h-1.3zM55.2 160.0h1.3v1.3h-1.3zM55.4 160.0h1.3v1.3h-1.3zM48.2 157.5h1.3v1.3h-1.3zM48.5 165.7h1.3v1.3h-1.3zM57.1 161.4h1.3v1.3h-1.3zM33.8 156.3h1.3v1.3h-1.3zM55.6 153.8h1.3v1.3h-1.3zM60.2 154.6h1.3v1.3h-1.3zM58.0 158.1h1.3v1.3h-1.3zM59.1 161.2h1.3v1.3h-1.3zM54.3 164.9h1.3v1.3h-1.3zM59.9 162.1h1.3v1.3h-1.3zM44.7 165.0h1.3v1.3h-1.3zM38.3 164.8h1.3v1.3h-1.3zM56.8 163.4h1.3v1.3h-1.3zM57.5 163.3h1.3v1.3h-1.3zM49.5 163.4h1.3v1.3h-1.3zM58.2 163.3h1.3v1.3h-1.3zM50.9 165.6h1.3v1.3h-1.3zM52.8 166.0h1.3v1.3h-1.3zM60.1 156.5h1.3v1.3h-1.3zM52.9 165.1h1.3v1.3h-1.3zM53.3 161.3h1.3v1.3h-1.3zM60.3 165.6h1.3v1.3h-1.3zM60.1 159.2h1.3v1.3h-1.3zM53.1 154.2h1.3v1.3h-1.3zM54.7 161.6h1.3v1.3h-1.3zM58.4 159.8h1.3v1.3h-1.3zM60.6 158.3h1.3v1.3h-1.3zM58.2 158.2h1.3v1.3h-1.3zM39.7 163.5h1.3v1.3h-1.3zM57.6 155.2h1.3v1.3h-1.3zM46.8 159.2h1.3v1.3h-1.3zM54.8 165.7h1.3v1.3h-1.3zM45.4 165.4h1.3v1.3h-1.3zM60.9 164.9h1.3v1.3h-1.3zM55.9 155.7h1.3v1.3h-1.3zM58.6 165.7h1.3v1.3h-1.3zM57.3 151.8h1.3v1.3h-1.3zM54.0 165.2h1.3v1.3h-1.3zM59.8 161.5h1.3v1.3h-1.3zM36.5 162.4h1.3v1.3h-1.3zM43.2 162.0h1.3v1.3h-1.3zM49.7 158.5h1.3v1.3h-1.3zM33.4 166.0h1.3v1.3h-1.3zM54.7 165.3h1.3v1.3h-1.3zM60.4 156.5h1.3v1.3h-1.3zM57.4 165.3h1.3v1.3h-1.3zM59.9 163.3h1.3v1.3h-1.3zM58.4 160.9h1.3v1.3h-1.3zM50.3 162.2h1.3v1.3h-1.3zM42.3 164.7h1.3v1.3h-1.3zM44.2 157.7h1.3v1.3h-1.3zM56.9 161.8h1.3v1.3h-1.3zM60.2 163.2h1.3v1.3h-1.3zM50.8 157.4h1.3v1.3h-1.3zM55.5 161.8h1.3v1.3h-1.3zM60.8 162.9h1.3v1.3h-1.3zM45.9 159.8h1.3v1.3h-1.3zM57.3 165.3h1.3v1.3h-1.3zM41.6 164.2h1.3v1.3h-1.3zM53.8 165.9h1.3v1.3h-1.3zM49.8 165.8h1.3v1.3h-1.3zM60.4 165.3h1.3v1.3h-1.3zM60.4 163.3h1.3v1.3h-1.3zM57.2 151.1h1.3v1.3h-1.3zM57.7 156.2h1.3v1.3h-1.3zM58.6 154.0h1.3v1.3h-1.3zM57.9 157.4h1.3v1.3h-1.3zM59.8 148.3h1.3v1.3h-1.3zM56.5 163.0h1.3v1.3h-1.3zM52.5 161.7h1.3v1.3h-1.3zM54.7 163.2h1.3v1.3h-1.3zM57.0 163.1h1.3v1.3h-1.3zM60.0 160.5h1.3v1.3h-1.3zM59.8 165.9h1.3v1.3h-1.3zM41.8 165.3h1.3v1.3h-1.3zM58.1 164.1h1.3v1.3h-1.3zM53.4 155.3h1.3v1.3h-1.3zM42.1 157.9h1.3v1.3h-1.3zM59.6 155.0h1.3v1.3h-1.3zM55.3 155.2h1.3v1.3h-1.3zM55.7 165.4h1.3v1.3h-1.3zM48.5 161.0h1.3v1.3h-1.3zM59.3 163.2h1.3v1.3h-1.3zM45.8 158.6h1.3v1.3h-1.3zM56.8 164.9h1.3v1.3h-1.3zM59.3 162.2h1.3v1.3h-1.3zM59.6 166.0h1.3v1.3h-1.3z" fill="#e52a08"/>
<polygon points="35.3,167.3 38.5,165.1 43.3,162.8 49.7,160.9 54.5,157.7 58.4,154.5 60.9,156.1 61.6,167.3" fill="#e52d0a"/>
<line x1="59.3" y1="39.2" x2="59.3" y2="167.3" stroke="#f04848" stroke-width="1.3"/>
<line x1="27.3" y1="122.5" x2="155.4" y2="122.5" stroke="#f04848" stroke-width="1.3"/>
<path d="M27.3 39.2H155.4V167.3" fill="none" stroke="#333" stroke-width="1.2"/>
<path d="M27.3 38.7V167.3H155.9" fill="none" stroke="#1a1a1a" stroke-width="1.6"/>
<path d="M24.3 167.3H27.3M27.3 167.3V170.3M24.3 135.3H27.3M59.3 167.3V170.3M24.3 103.2H27.3M91.3 167.3V170.3M24.3 71.2H27.3M123.4 167.3V170.3M24.3 39.2H27.3M155.4 167.3V170.3M25.7 157.7H27.3M36.9 167.3V168.9M25.7 152.0H27.3M42.6 167.3V168.9M25.7 148.0H27.3M46.6 167.3V168.9M25.7 144.9H27.3M49.7 167.3V168.9M25.7 142.4H27.3M52.2 167.3V168.9M25.7 140.2H27.3M54.4 167.3V168.9M25.7 138.4H27.3M56.2 167.3V168.9M25.7 136.7H27.3M57.9 167.3V168.9M25.7 125.6H27.3M69.0 167.3V168.9M25.7 120.0H27.3M74.6 167.3V168.9M25.7 116.0H27.3M78.6 167.3V168.9M25.7 112.9H27.3M81.7 167.3V168.9M25.7 110.4H27.3M84.2 167.3V168.9M25.7 108.2H27.3M86.4 167.3V168.9M25.7 106.4H27.3M88.2 167.3V168.9M25.7 104.7H27.3M89.9 167.3V168.9M25.7 93.6H27.3M101.0 167.3V168.9M25.7 88.0H27.3M106.6 167.3V168.9M25.7 84.0H27.3M110.6 167.3V168.9M25.7 80.9H27.3M113.7 167.3V168.9M25.7 78.3H27.3M116.3 167.3V168.9M25.7 76.2H27.3M118.4 167.3V168.9M25.7 74.3H27.3M120.3 167.3V168.9M25.7 72.7H27.3M121.9 167.3V168.9M25.7 61.6H27.3M133.0 167.3V168.9M25.7 55.9H27.3M138.7 167.3V168.9M25.7 51.9H27.3M142.7 167.3V168.9M25.7 48.8H27.3M145.8 167.3V168.9M25.7 46.3H27.3M148.3 167.3V168.9M25.7 44.2H27.3M150.4 167.3V168.9M25.7 42.3H27.3M152.3 167.3V168.9M25.7 40.7H27.3M153.9 167.3V168.9" stroke="#333" stroke-width="0.8" fill="none"/>
<text x="23.8" y="169.8" font-size="10.5" text-anchor="end" fill="#2a2a38">0</text>
<text x="27.3" y="179.6" font-size="10.5" text-anchor="middle" fill="#2a2a38">0</text>
<text x="23.8" y="137.8" font-size="10.5" text-anchor="end" fill="#2a2a38">1</text>
<text x="59.3" y="179.6" font-size="10.5" text-anchor="middle" fill="#2a2a38">1</text>
<text x="23.8" y="105.8" font-size="10.5" text-anchor="end" fill="#2a2a38">2</text>
<text x="91.3" y="179.6" font-size="10.5" text-anchor="middle" fill="#2a2a38">2</text>
<text x="23.8" y="73.7" font-size="10.5" text-anchor="end" fill="#2a2a38">3</text>
<text x="123.4" y="179.6" font-size="10.5" text-anchor="middle" fill="#2a2a38">3</text>
<text x="23.8" y="41.7" font-size="10.5" text-anchor="end" fill="#2a2a38">4</text>
<text x="155.4" y="179.6" font-size="10.5" text-anchor="middle" fill="#2a2a38">4</text>
<text transform="translate(10.8,103.1) rotate(-90)" font-size="10.5" text-anchor="middle" textLength="40" lengthAdjust="spacingAndGlyphs" fill="#3a3a48">VIABILITY</text>
<text transform="translate(8.8,49.2) rotate(-90)" font-size="7" text-anchor="middle" fill="#8c96a8">DEAD</text>
<text transform="translate(8.8,158.3) rotate(-90)" font-size="7" text-anchor="middle" fill="#8c96a8">LIVE</text>
<text x="27.8" y="190.7" font-size="7.5" fill="#6a7690">Neg.</text>
<text x="154.4" y="190.7" font-size="7.5" text-anchor="end" fill="#6a7690">Pos.</text>
<text x="91.8" y="190.9" font-size="9.8" text-anchor="middle" textLength="59.5" lengthAdjust="spacingAndGlyphs" fill="#3a3a48">NITRIC OXIDE</text>
<text x="32.6" y="50.2" font-size="8.2" fill="#333">0.27 %</text>
<text x="150.6" y="50.2" font-size="8.2" text-anchor="end" fill="#333">0.53 %</text>
<text x="32.6" y="163.7" font-size="8.2" fill="#111">93.87 %</text>
<text x="150.6" y="163.7" font-size="8.2" text-anchor="end" fill="#333">5.33 %</text>
<text x="259.2" y="28.9" textLength="17.6" lengthAdjust="spacingAndGlyphs" font-size="14.5" font-weight="bold" fill="#111">OS</text>
<rect x="202.4" y="122.7" width="31.8" height="44.3" fill="#e6f0cf"/>
<path d="M233.5 123.7h1.3v1.3h-1.3zM233.8 165.1h1.3v1.3h-1.3zM234.3 130.7h1.3v1.3h-1.3zM219.3 157.1h1.3v1.3h-1.3zM226.6 143.1h1.3v1.3h-1.3zM225.6 162.8h1.3v1.3h-1.3zM222.9 151.7h1.3v1.3h-1.3zM230.7 121.5h1.3v1.3h-1.3zM229.9 124.1h1.3v1.3h-1.3zM231.9 158.7h1.3v1.3h-1.3zM221.6 165.5h1.3v1.3h-1.3zM233.2 154.0h1.3v1.3h-1.3zM228.1 127.5h1.3v1.3h-1.3zM232.8 160.0h1.3v1.3h-1.3zM232.1 165.3h1.3v1.3h-1.3zM233.0 121.2h1.3v1.3h-1.3zM228.4 139.5h1.3v1.3h-1.3zM222.7 132.9h1.3v1.3h-1.3zM225.1 136.3h1.3v1.3h-1.3zM229.0 133.3h1.3v1.3h-1.3zM208.9 155.1h1.3v1.3h-1.3zM231.6 162.7h1.3v1.3h-1.3zM233.5 135.2h1.3v1.3h-1.3zM225.5 146.9h1.3v1.3h-1.3zM225.4 148.9h1.3v1.3h-1.3zM231.8 130.9h1.3v1.3h-1.3zM218.7 155.1h1.3v1.3h-1.3zM221.5 150.2h1.3v1.3h-1.3zM223.0 145.0h1.3v1.3h-1.3zM228.0 149.0h1.3v1.3h-1.3zM227.2 160.5h1.3v1.3h-1.3zM219.1 162.6h1.3v1.3h-1.3zM233.8 126.6h1.3v1.3h-1.3zM211.8 157.0h1.3v1.3h-1.3zM233.6 123.7h1.3v1.3h-1.3zM224.8 147.5h1.3v1.3h-1.3zM229.4 140.7h1.3v1.3h-1.3zM230.0 161.1h1.3v1.3h-1.3zM223.5 147.8h1.3v1.3h-1.3zM228.3 165.4h1.3v1.3h-1.3zM233.1 131.5h1.3v1.3h-1.3zM210.4 161.7h1.3v1.3h-1.3zM225.7 135.7h1.3v1.3h-1.3zM229.4 158.5h1.3v1.3h-1.3zM231.3 160.3h1.3v1.3h-1.3zM232.1 147.3h1.3v1.3h-1.3zM235.0 129.7h1.3v1.3h-1.3zM231.2 128.1h1.3v1.3h-1.3zM234.6 152.0h1.3v1.3h-1.3zM232.6 154.7h1.3v1.3h-1.3zM232.9 162.4h1.3v1.3h-1.3zM233.3 123.8h1.3v1.3h-1.3zM234.8 165.5h1.3v1.3h-1.3zM233.8 131.9h1.3v1.3h-1.3zM227.9 162.9h1.3v1.3h-1.3zM221.0 153.7h1.3v1.3h-1.3zM228.1 165.8h1.3v1.3h-1.3zM234.8 155.5h1.3v1.3h-1.3zM234.9 142.6h1.3v1.3h-1.3zM230.0 155.8h1.3v1.3h-1.3zM215.2 165.1h1.3v1.3h-1.3zM232.2 126.9h1.3v1.3h-1.3zM228.2 135.1h1.3v1.3h-1.3zM224.0 149.7h1.3v1.3h-1.3zM229.9 160.4h1.3v1.3h-1.3zM226.3 164.6h1.3v1.3h-1.3zM231.6 150.9h1.3v1.3h-1.3zM232.0 144.2h1.3v1.3h-1.3zM229.6 153.4h1.3v1.3h-1.3zM234.9 123.5h1.3v1.3h-1.3zM226.1 159.1h1.3v1.3h-1.3zM227.2 165.2h1.3v1.3h-1.3zM232.2 163.4h1.3v1.3h-1.3zM234.1 162.7h1.3v1.3h-1.3zM225.7 164.8h1.3v1.3h-1.3zM231.0 122.1h1.3v1.3h-1.3zM231.4 125.0h1.3v1.3h-1.3zM234.9 151.0h1.3v1.3h-1.3zM222.1 159.4h1.3v1.3h-1.3zM230.2 132.7h1.3v1.3h-1.3zM234.8 137.6h1.3v1.3h-1.3zM225.8 147.1h1.3v1.3h-1.3zM222.7 165.7h1.3v1.3h-1.3zM233.5 136.9h1.3v1.3h-1.3zM229.4 159.8h1.3v1.3h-1.3zM231.0 160.2h1.3v1.3h-1.3zM222.6 160.7h1.3v1.3h-1.3zM233.6 157.0h1.3v1.3h-1.3zM231.1 141.2h1.3v1.3h-1.3zM224.9 123.3h1.3v1.3h-1.3zM227.3 136.6h1.3v1.3h-1.3zM231.0 144.4h1.3v1.3h-1.3zM222.1 165.6h1.3v1.3h-1.3zM227.9 164.9h1.3v1.3h-1.3zM229.9 132.5h1.3v1.3h-1.3zM230.4 125.8h1.3v1.3h-1.3zM229.3 142.9h1.3v1.3h-1.3zM206.8 154.3h1.3v1.3h-1.3zM232.9 165.5h1.3v1.3h-1.3zM232.6 130.4h1.3v1.3h-1.3zM226.8 139.6h1.3v1.3h-1.3zM234.1 152.6h1.3v1.3h-1.3zM231.9 149.1h1.3v1.3h-1.3zM219.5 165.5h1.3v1.3h-1.3zM217.4 158.1h1.3v1.3h-1.3zM214.8 165.4h1.3v1.3h-1.3zM232.0 135.2h1.3v1.3h-1.3zM222.9 153.4h1.3v1.3h-1.3zM234.9 150.1h1.3v1.3h-1.3zM223.2 164.0h1.3v1.3h-1.3zM214.9 164.0h1.3v1.3h-1.3zM227.6 141.3h1.3v1.3h-1.3zM234.7 123.5h1.3v1.3h-1.3zM233.5 140.3h1.3v1.3h-1.3zM233.8 134.0h1.3v1.3h-1.3zM223.2 155.0h1.3v1.3h-1.3zM232.9 150.4h1.3v1.3h-1.3zM228.4 147.1h1.3v1.3h-1.3zM218.9 149.5h1.3v1.3h-1.3zM232.5 125.2h1.3v1.3h-1.3zM233.8 130.7h1.3v1.3h-1.3zM228.7 148.9h1.3v1.3h-1.3zM220.2 159.1h1.3v1.3h-1.3zM231.6 125.9h1.3v1.3h-1.3zM233.6 144.1h1.3v1.3h-1.3zM230.9 155.0h1.3v1.3h-1.3zM232.3 121.3h1.3v1.3h-1.3zM225.1 165.6h1.3v1.3h-1.3zM206.5 165.1h1.3v1.3h-1.3zM220.7 140.9h1.3v1.3h-1.3zM232.7 163.8h1.3v1.3h-1.3zM229.8 139.7h1.3v1.3h-1.3zM226.6 139.2h1.3v1.3h-1.3zM229.7 164.3h1.3v1.3h-1.3zM221.0 146.4h1.3v1.3h-1.3zM228.9 164.8h1.3v1.3h-1.3zM233.6 147.6h1.3v1.3h-1.3zM231.0 127.3h1.3v1.3h-1.3zM232.3 150.2h1.3v1.3h-1.3zM230.7 121.4h1.3v1.3h-1.3zM231.8 133.6h1.3v1.3h-1.3zM232.7 151.2h1.3v1.3h-1.3zM214.1 165.6h1.3v1.3h-1.3zM224.6 147.9h1.3v1.3h-1.3zM223.0 149.2h1.3v1.3h-1.3zM230.6 124.9h1.3v1.3h-1.3zM216.6 137.9h1.3v1.3h-1.3zM230.5 156.1h1.3v1.3h-1.3zM228.7 135.7h1.3v1.3h-1.3zM226.7 129.8h1.3v1.3h-1.3zM226.9 160.4h1.3v1.3h-1.3zM229.7 139.9h1.3v1.3h-1.3zM234.7 122.5h1.3v1.3h-1.3zM234.0 150.1h1.3v1.3h-1.3zM227.3 137.5h1.3v1.3h-1.3zM229.0 131.8h1.3v1.3h-1.3zM216.4 165.2h1.3v1.3h-1.3zM232.1 126.7h1.3v1.3h-1.3zM226.8 127.9h1.3v1.3h-1.3zM227.8 134.5h1.3v1.3h-1.3zM234.6 161.4h1.3v1.3h-1.3zM219.9 161.7h1.3v1.3h-1.3zM229.4 132.5h1.3v1.3h-1.3zM224.9 151.5h1.3v1.3h-1.3zM223.8 159.3h1.3v1.3h-1.3zM230.0 161.2h1.3v1.3h-1.3zM234.8 123.1h1.3v1.3h-1.3zM234.8 149.1h1.3v1.3h-1.3zM229.6 130.6h1.3v1.3h-1.3zM222.1 149.1h1.3v1.3h-1.3zM232.1 139.5h1.3v1.3h-1.3zM228.9 148.2h1.3v1.3h-1.3zM217.0 165.6h1.3v1.3h-1.3zM229.6 135.4h1.3v1.3h-1.3zM227.0 133.6h1.3v1.3h-1.3zM229.6 133.4h1.3v1.3h-1.3zM232.8 129.1h1.3v1.3h-1.3zM230.6 153.9h1.3v1.3h-1.3zM234.7 150.1h1.3v1.3h-1.3zM233.9 145.5h1.3v1.3h-1.3zM231.2 123.1h1.3v1.3h-1.3zM225.8 153.9h1.3v1.3h-1.3zM229.4 151.1h1.3v1.3h-1.3zM230.2 140.9h1.3v1.3h-1.3zM215.1 149.2h1.3v1.3h-1.3zM228.7 165.4h1.3v1.3h-1.3zM232.1 131.3h1.3v1.3h-1.3zM226.3 132.9h1.3v1.3h-1.3zM223.4 140.6h1.3v1.3h-1.3zM220.8 164.9h1.3v1.3h-1.3zM227.5 141.7h1.3v1.3h-1.3zM230.5 129.8h1.3v1.3h-1.3zM231.3 132.8h1.3v1.3h-1.3zM228.2 160.1h1.3v1.3h-1.3zM234.3 150.4h1.3v1.3h-1.3zM231.2 123.6h1.3v1.3h-1.3zM230.3 164.3h1.3v1.3h-1.3zM226.0 154.6h1.3v1.3h-1.3zM224.8 156.6h1.3v1.3h-1.3zM229.1 162.5h1.3v1.3h-1.3zM229.8 151.1h1.3v1.3h-1.3zM224.4 125.8h1.3v1.3h-1.3zM220.9 151.1h1.3v1.3h-1.3zM216.5 156.3h1.3v1.3h-1.3zM234.5 164.7h1.3v1.3h-1.3zM230.2 139.3h1.3v1.3h-1.3zM223.9 154.2h1.3v1.3h-1.3zM219.5 160.1h1.3v1.3h-1.3zM230.8 132.2h1.3v1.3h-1.3zM230.5 131.4h1.3v1.3h-1.3zM217.9 155.6h1.3v1.3h-1.3zM220.7 148.3h1.3v1.3h-1.3zM223.4 138.7h1.3v1.3h-1.3zM231.5 135.4h1.3v1.3h-1.3zM226.3 128.8h1.3v1.3h-1.3zM232.1 122.4h1.3v1.3h-1.3zM223.6 157.8h1.3v1.3h-1.3zM224.5 154.5h1.3v1.3h-1.3zM223.7 153.3h1.3v1.3h-1.3zM212.0 155.1h1.3v1.3h-1.3zM230.4 149.5h1.3v1.3h-1.3zM233.2 123.5h1.3v1.3h-1.3zM224.3 163.9h1.3v1.3h-1.3zM233.5 154.9h1.3v1.3h-1.3zM228.5 126.0h1.3v1.3h-1.3zM224.1 151.4h1.3v1.3h-1.3zM233.7 146.3h1.3v1.3h-1.3zM216.1 153.5h1.3v1.3h-1.3zM231.1 158.0h1.3v1.3h-1.3zM230.5 156.7h1.3v1.3h-1.3zM232.7 125.5h1.3v1.3h-1.3zM231.6 161.2h1.3v1.3h-1.3zM227.8 159.4h1.3v1.3h-1.3zM231.3 155.6h1.3v1.3h-1.3zM234.2 159.6h1.3v1.3h-1.3zM220.8 155.9h1.3v1.3h-1.3zM234.7 154.3h1.3v1.3h-1.3zM231.0 163.3h1.3v1.3h-1.3zM225.8 129.8h1.3v1.3h-1.3zM226.4 163.7h1.3v1.3h-1.3zM230.5 147.3h1.3v1.3h-1.3zM230.1 134.5h1.3v1.3h-1.3zM212.8 142.9h1.3v1.3h-1.3zM213.9 153.4h1.3v1.3h-1.3zM229.1 149.6h1.3v1.3h-1.3zM231.5 130.6h1.3v1.3h-1.3zM226.3 143.5h1.3v1.3h-1.3zM232.1 122.0h1.3v1.3h-1.3zM232.4 121.8h1.3v1.3h-1.3zM226.0 152.5h1.3v1.3h-1.3zM231.0 147.2h1.3v1.3h-1.3zM234.5 121.4h1.3v1.3h-1.3zM218.6 163.8h1.3v1.3h-1.3zM232.1 126.1h1.3v1.3h-1.3zM227.7 165.4h1.3v1.3h-1.3zM214.3 165.7h1.3v1.3h-1.3zM232.4 155.3h1.3v1.3h-1.3zM231.3 139.8h1.3v1.3h-1.3zM218.0 164.9h1.3v1.3h-1.3zM232.0 164.9h1.3v1.3h-1.3zM221.0 159.8h1.3v1.3h-1.3zM233.4 163.5h1.3v1.3h-1.3zM229.5 148.3h1.3v1.3h-1.3zM233.8 125.9h1.3v1.3h-1.3zM225.8 131.5h1.3v1.3h-1.3zM233.9 128.4h1.3v1.3h-1.3zM228.9 163.4h1.3v1.3h-1.3zM234.8 164.2h1.3v1.3h-1.3zM234.2 164.5h1.3v1.3h-1.3zM231.5 160.8h1.3v1.3h-1.3zM220.7 154.0h1.3v1.3h-1.3zM227.7 126.8h1.3v1.3h-1.3zM219.0 137.2h1.3v1.3h-1.3zM234.0 162.7h1.3v1.3h-1.3zM228.2 164.5h1.3v1.3h-1.3zM220.6 161.0h1.3v1.3h-1.3zM232.0 154.1h1.3v1.3h-1.3zM225.2 151.8h1.3v1.3h-1.3zM229.7 153.1h1.3v1.3h-1.3zM220.1 145.3h1.3v1.3h-1.3zM231.7 149.7h1.3v1.3h-1.3zM227.5 121.9h1.3v1.3h-1.3zM230.1 160.2h1.3v1.3h-1.3zM223.6 140.4h1.3v1.3h-1.3zM227.3 165.6h1.3v1.3h-1.3zM233.3 144.4h1.3v1.3h-1.3zM226.0 141.1h1.3v1.3h-1.3zM226.5 138.0h1.3v1.3h-1.3zM219.7 149.6h1.3v1.3h-1.3zM232.0 131.4h1.3v1.3h-1.3zM233.7 130.7h1.3v1.3h-1.3zM233.3 161.5h1.3v1.3h-1.3zM225.3 164.4h1.3v1.3h-1.3zM224.3 161.8h1.3v1.3h-1.3zM224.7 123.8h1.3v1.3h-1.3zM232.3 150.1h1.3v1.3h-1.3zM230.0 157.8h1.3v1.3h-1.3zM221.8 138.1h1.3v1.3h-1.3zM223.6 158.3h1.3v1.3h-1.3zM227.8 152.5h1.3v1.3h-1.3zM233.1 152.4h1.3v1.3h-1.3zM226.7 140.3h1.3v1.3h-1.3zM232.3 164.0h1.3v1.3h-1.3zM231.0 126.4h1.3v1.3h-1.3zM228.1 160.8h1.3v1.3h-1.3zM224.3 153.4h1.3v1.3h-1.3zM229.8 147.1h1.3v1.3h-1.3zM233.1 134.2h1.3v1.3h-1.3zM233.3 138.5h1.3v1.3h-1.3zM225.0 150.5h1.3v1.3h-1.3zM227.3 155.5h1.3v1.3h-1.3zM233.7 161.7h1.3v1.3h-1.3zM231.4 149.5h1.3v1.3h-1.3zM226.1 144.8h1.3v1.3h-1.3zM228.2 157.0h1.3v1.3h-1.3zM228.1 129.3h1.3v1.3h-1.3zM222.8 160.5h1.3v1.3h-1.3zM229.7 127.9h1.3v1.3h-1.3zM233.3 139.1h1.3v1.3h-1.3zM231.2 130.6h1.3v1.3h-1.3zM213.5 157.4h1.3v1.3h-1.3zM233.3 161.4h1.3v1.3h-1.3zM231.7 156.9h1.3v1.3h-1.3zM230.1 136.9h1.3v1.3h-1.3zM225.0 155.6h1.3v1.3h-1.3zM232.8 130.8h1.3v1.3h-1.3zM229.4 165.6h1.3v1.3h-1.3zM233.0 143.0h1.3v1.3h-1.3zM222.7 154.2h1.3v1.3h-1.3zM232.3 126.2h1.3v1.3h-1.3zM220.9 141.1h1.3v1.3h-1.3zM234.9 126.1h1.3v1.3h-1.3zM225.9 163.1h1.3v1.3h-1.3zM222.3 125.5h1.3v1.3h-1.3zM228.5 161.2h1.3v1.3h-1.3zM218.8 143.8h1.3v1.3h-1.3zM229.8 138.0h1.3v1.3h-1.3zM233.9 160.9h1.3v1.3h-1.3zM231.8 165.8h1.3v1.3h-1.3zM231.3 142.3h1.3v1.3h-1.3zM210.6 153.5h1.3v1.3h-1.3zM224.7 153.4h1.3v1.3h-1.3zM230.4 149.6h1.3v1.3h-1.3zM229.8 160.4h1.3v1.3h-1.3zM233.5 146.8h1.3v1.3h-1.3zM233.1 124.4h1.3v1.3h-1.3zM223.8 139.5h1.3v1.3h-1.3zM229.9 153.0h1.3v1.3h-1.3zM226.4 147.7h1.3v1.3h-1.3zM228.8 147.4h1.3v1.3h-1.3zM226.1 133.7h1.3v1.3h-1.3zM229.8 136.3h1.3v1.3h-1.3zM222.4 160.6h1.3v1.3h-1.3zM233.0 163.8h1.3v1.3h-1.3zM228.8 163.4h1.3v1.3h-1.3zM226.0 142.6h1.3v1.3h-1.3zM231.7 141.0h1.3v1.3h-1.3zM233.7 145.5h1.3v1.3h-1.3zM228.9 165.1h1.3v1.3h-1.3zM224.1 163.4h1.3v1.3h-1.3zM228.7 157.0h1.3v1.3h-1.3zM230.3 124.4h1.3v1.3h-1.3zM222.6 155.1h1.3v1.3h-1.3zM219.4 143.1h1.3v1.3h-1.3zM232.7 164.5h1.3v1.3h-1.3zM230.5 124.2h1.3v1.3h-1.3zM229.4 141.5h1.3v1.3h-1.3zM216.9 147.9h1.3v1.3h-1.3zM230.8 123.1h1.3v1.3h-1.3zM234.2 130.6h1.3v1.3h-1.3zM213.3 165.1h1.3v1.3h-1.3zM215.7 129.2h1.3v1.3h-1.3zM219.0 165.4h1.3v1.3h-1.3zM231.8 151.4h1.3v1.3h-1.3zM233.7 152.2h1.3v1.3h-1.3zM228.1 165.2h1.3v1.3h-1.3zM231.8 123.1h1.3v1.3h-1.3zM220.9 157.6h1.3v1.3h-1.3zM231.2 126.8h1.3v1.3h-1.3zM233.9 133.4h1.3v1.3h-1.3zM225.2 127.3h1.3v1.3h-1.3zM220.1 164.4h1.3v1.3h-1.3zM229.6 143.6h1.3v1.3h-1.3zM231.7 161.7h1.3v1.3h-1.3zM223.1 165.5h1.3v1.3h-1.3zM230.0 140.7h1.3v1.3h-1.3zM220.2 165.4h1.3v1.3h-1.3zM234.4 126.2h1.3v1.3h-1.3zM223.3 163.9h1.3v1.3h-1.3zM230.1 154.3h1.3v1.3h-1.3zM230.0 122.7h1.3v1.3h-1.3zM230.0 151.2h1.3v1.3h-1.3zM218.6 151.3h1.3v1.3h-1.3zM230.9 140.9h1.3v1.3h-1.3zM230.1 162.7h1.3v1.3h-1.3zM232.1 155.2h1.3v1.3h-1.3zM225.7 165.2h1.3v1.3h-1.3zM212.5 144.9h1.3v1.3h-1.3zM223.5 159.4h1.3v1.3h-1.3zM231.3 152.0h1.3v1.3h-1.3zM231.6 158.7h1.3v1.3h-1.3zM227.1 124.0h1.3v1.3h-1.3zM234.1 131.5h1.3v1.3h-1.3zM233.4 157.3h1.3v1.3h-1.3zM227.6 130.4h1.3v1.3h-1.3zM233.3 145.0h1.3v1.3h-1.3zM234.9 138.9h1.3v1.3h-1.3zM219.0 154.6h1.3v1.3h-1.3zM226.5 130.0h1.3v1.3h-1.3zM232.1 145.6h1.3v1.3h-1.3zM213.9 146.7h1.3v1.3h-1.3zM231.0 135.2h1.3v1.3h-1.3zM214.2 152.2h1.3v1.3h-1.3zM234.6 135.6h1.3v1.3h-1.3zM231.4 140.6h1.3v1.3h-1.3zM234.1 143.5h1.3v1.3h-1.3zM215.2 142.1h1.3v1.3h-1.3zM231.7 123.1h1.3v1.3h-1.3zM222.4 153.5h1.3v1.3h-1.3zM226.7 138.4h1.3v1.3h-1.3zM232.3 154.7h1.3v1.3h-1.3zM224.8 163.2h1.3v1.3h-1.3zM230.4 140.0h1.3v1.3h-1.3zM227.5 148.4h1.3v1.3h-1.3zM233.5 121.9h1.3v1.3h-1.3zM230.0 126.3h1.3v1.3h-1.3zM224.9 144.9h1.3v1.3h-1.3zM229.8 133.6h1.3v1.3h-1.3zM231.2 127.2h1.3v1.3h-1.3zM222.1 153.0h1.3v1.3h-1.3zM229.3 164.9h1.3v1.3h-1.3zM233.7 154.7h1.3v1.3h-1.3zM234.6 143.1h1.3v1.3h-1.3zM231.3 130.8h1.3v1.3h-1.3zM222.6 156.3h1.3v1.3h-1.3zM228.6 153.0h1.3v1.3h-1.3zM232.9 125.9h1.3v1.3h-1.3zM233.3 165.8h1.3v1.3h-1.3zM234.5 148.7h1.3v1.3h-1.3zM231.8 156.2h1.3v1.3h-1.3zM215.3 149.4h1.3v1.3h-1.3zM226.0 128.4h1.3v1.3h-1.3zM230.1 141.4h1.3v1.3h-1.3zM232.5 142.8h1.3v1.3h-1.3zM227.9 162.6h1.3v1.3h-1.3zM219.9 145.0h1.3v1.3h-1.3zM229.5 136.7h1.3v1.3h-1.3zM233.5 148.2h1.3v1.3h-1.3zM234.3 144.8h1.3v1.3h-1.3zM226.2 122.3h1.3v1.3h-1.3zM234.1 162.0h1.3v1.3h-1.3zM222.0 137.0h1.3v1.3h-1.3zM228.0 160.4h1.3v1.3h-1.3zM232.9 129.1h1.3v1.3h-1.3zM230.1 144.0h1.3v1.3h-1.3zM234.7 152.8h1.3v1.3h-1.3zM231.3 149.7h1.3v1.3h-1.3zM229.6 161.4h1.3v1.3h-1.3zM222.4 138.1h1.3v1.3h-1.3zM228.0 142.6h1.3v1.3h-1.3zM232.1 133.2h1.3v1.3h-1.3zM231.4 138.0h1.3v1.3h-1.3zM216.5 165.6h1.3v1.3h-1.3zM225.1 161.9h1.3v1.3h-1.3zM234.4 153.3h1.3v1.3h-1.3zM234.4 128.3h1.3v1.3h-1.3zM224.2 157.2h1.3v1.3h-1.3zM229.3 164.0h1.3v1.3h-1.3zM231.2 123.6h1.3v1.3h-1.3zM226.0 128.2h1.3v1.3h-1.3zM231.8 150.6h1.3v1.3h-1.3zM234.1 163.2h1.3v1.3h-1.3zM220.1 149.2h1.3v1.3h-1.3zM227.8 147.1h1.3v1.3h-1.3zM234.8 132.8h1.3v1.3h-1.3zM233.9 127.6h1.3v1.3h-1.3zM230.0 161.0h1.3v1.3h-1.3zM233.0 144.1h1.3v1.3h-1.3zM234.3 150.1h1.3v1.3h-1.3zM232.3 155.8h1.3v1.3h-1.3zM232.4 133.6h1.3v1.3h-1.3zM230.3 142.4h1.3v1.3h-1.3zM231.3 141.6h1.3v1.3h-1.3zM227.0 129.9h1.3v1.3h-1.3zM232.6 162.9h1.3v1.3h-1.3zM233.8 164.1h1.3v1.3h-1.3zM232.9 164.6h1.3v1.3h-1.3zM229.0 125.8h1.3v1.3h-1.3zM228.9 122.6h1.3v1.3h-1.3zM230.9 155.2h1.3v1.3h-1.3zM234.8 123.7h1.3v1.3h-1.3zM229.4 145.8h1.3v1.3h-1.3zM217.6 165.1h1.3v1.3h-1.3zM234.2 129.2h1.3v1.3h-1.3zM227.8 135.3h1.3v1.3h-1.3zM229.4 122.3h1.3v1.3h-1.3zM228.8 139.4h1.3v1.3h-1.3zM233.9 165.7h1.3v1.3h-1.3zM231.3 142.1h1.3v1.3h-1.3zM234.4 131.5h1.3v1.3h-1.3zM228.8 127.1h1.3v1.3h-1.3zM217.0 162.9h1.3v1.3h-1.3zM215.0 157.4h1.3v1.3h-1.3zM227.7 146.6h1.3v1.3h-1.3zM220.9 165.0h1.3v1.3h-1.3zM231.4 133.9h1.3v1.3h-1.3zM232.7 160.2h1.3v1.3h-1.3zM230.8 161.8h1.3v1.3h-1.3zM223.1 151.4h1.3v1.3h-1.3zM230.4 130.8h1.3v1.3h-1.3zM221.5 156.0h1.3v1.3h-1.3zM228.3 155.5h1.3v1.3h-1.3zM218.9 161.9h1.3v1.3h-1.3zM230.2 165.1h1.3v1.3h-1.3zM219.9 154.1h1.3v1.3h-1.3zM226.0 160.5h1.3v1.3h-1.3zM212.1 158.7h1.3v1.3h-1.3zM228.6 165.1h1.3v1.3h-1.3zM234.4 130.8h1.3v1.3h-1.3zM230.4 140.2h1.3v1.3h-1.3zM232.6 142.3h1.3v1.3h-1.3zM222.4 156.8h1.3v1.3h-1.3zM234.4 148.3h1.3v1.3h-1.3zM224.2 152.8h1.3v1.3h-1.3zM233.9 164.5h1.3v1.3h-1.3zM226.0 153.4h1.3v1.3h-1.3zM235.0 145.3h1.3v1.3h-1.3zM228.4 145.7h1.3v1.3h-1.3zM234.3 155.8h1.3v1.3h-1.3zM232.5 123.5h1.3v1.3h-1.3zM233.6 125.1h1.3v1.3h-1.3zM228.9 163.1h1.3v1.3h-1.3zM231.2 164.6h1.3v1.3h-1.3zM222.7 165.4h1.3v1.3h-1.3zM232.7 138.7h1.3v1.3h-1.3zM228.2 165.0h1.3v1.3h-1.3zM232.8 154.0h1.3v1.3h-1.3zM229.3 158.7h1.3v1.3h-1.3zM234.8 158.8h1.3v1.3h-1.3zM228.6 147.5h1.3v1.3h-1.3zM232.8 132.0h1.3v1.3h-1.3zM226.1 149.2h1.3v1.3h-1.3zM233.3 130.3h1.3v1.3h-1.3zM232.8 132.4h1.3v1.3h-1.3zM223.9 147.1h1.3v1.3h-1.3zM233.7 144.7h1.3v1.3h-1.3zM230.8 164.9h1.3v1.3h-1.3zM232.8 127.8h1.3v1.3h-1.3zM234.5 130.5h1.3v1.3h-1.3zM222.3 148.3h1.3v1.3h-1.3zM232.0 162.8h1.3v1.3h-1.3zM227.9 160.6h1.3v1.3h-1.3zM228.2 122.1h1.3v1.3h-1.3zM215.1 151.5h1.3v1.3h-1.3zM231.8 148.0h1.3v1.3h-1.3zM234.0 127.5h1.3v1.3h-1.3zM233.1 131.9h1.3v1.3h-1.3zM216.0 163.4h1.3v1.3h-1.3zM233.9 139.3h1.3v1.3h-1.3zM234.4 160.6h1.3v1.3h-1.3zM232.6 145.3h1.3v1.3h-1.3zM230.7 127.1h1.3v1.3h-1.3zM234.0 121.3h1.3v1.3h-1.3zM231.2 136.7h1.3v1.3h-1.3zM224.6 125.0h1.3v1.3h-1.3zM230.6 144.7h1.3v1.3h-1.3zM223.5 159.2h1.3v1.3h-1.3zM234.9 158.3h1.3v1.3h-1.3zM233.3 142.4h1.3v1.3h-1.3zM232.4 153.1h1.3v1.3h-1.3zM234.0 133.6h1.3v1.3h-1.3zM230.9 161.5h1.3v1.3h-1.3zM231.5 123.7h1.3v1.3h-1.3zM230.2 141.0h1.3v1.3h-1.3zM233.5 165.4h1.3v1.3h-1.3zM228.5 122.7h1.3v1.3h-1.3zM232.2 128.1h1.3v1.3h-1.3zM229.6 165.6h1.3v1.3h-1.3zM225.6 153.8h1.3v1.3h-1.3zM227.4 139.1h1.3v1.3h-1.3zM222.7 157.6h1.3v1.3h-1.3zM228.8 140.4h1.3v1.3h-1.3zM219.7 152.2h1.3v1.3h-1.3zM227.2 130.9h1.3v1.3h-1.3zM231.8 165.4h1.3v1.3h-1.3zM230.6 122.6h1.3v1.3h-1.3zM222.2 149.5h1.3v1.3h-1.3zM229.3 124.7h1.3v1.3h-1.3zM228.7 143.9h1.3v1.3h-1.3zM227.0 164.6h1.3v1.3h-1.3zM234.9 137.0h1.3v1.3h-1.3zM233.6 130.0h1.3v1.3h-1.3zM209.6 165.8h1.3v1.3h-1.3zM220.6 159.2h1.3v1.3h-1.3zM234.3 125.3h1.3v1.3h-1.3zM228.8 127.1h1.3v1.3h-1.3zM228.1 139.7h1.3v1.3h-1.3zM230.3 140.4h1.3v1.3h-1.3zM233.0 127.8h1.3v1.3h-1.3zM232.8 130.0h1.3v1.3h-1.3zM231.3 165.5h1.3v1.3h-1.3zM233.3 162.7h1.3v1.3h-1.3zM234.3 149.6h1.3v1.3h-1.3zM234.8 149.0h1.3v1.3h-1.3zM236.3 164.8h1.3v1.3h-1.3zM232.4 153.2h1.3v1.3h-1.3zM232.2 148.4h1.3v1.3h-1.3zM233.5 133.9h1.3v1.3h-1.3zM234.0 142.5h1.3v1.3h-1.3zM234.7 162.5h1.3v1.3h-1.3zM234.4 163.7h1.3v1.3h-1.3zM233.1 163.2h1.3v1.3h-1.3zM233.9 140.0h1.3v1.3h-1.3zM232.5 153.8h1.3v1.3h-1.3zM232.1 143.4h1.3v1.3h-1.3zM233.0 165.3h1.3v1.3h-1.3zM233.9 150.1h1.3v1.3h-1.3zM230.7 152.2h1.3v1.3h-1.3zM236.5 151.5h1.3v1.3h-1.3zM232.8 158.2h1.3v1.3h-1.3zM232.6 154.9h1.3v1.3h-1.3zM233.5 150.6h1.3v1.3h-1.3zM235.4 164.8h1.3v1.3h-1.3zM231.8 157.2h1.3v1.3h-1.3zM232.1 164.4h1.3v1.3h-1.3zM231.6 163.7h1.3v1.3h-1.3zM234.9 158.0h1.3v1.3h-1.3zM232.5 163.5h1.3v1.3h-1.3zM234.4 164.7h1.3v1.3h-1.3zM231.8 152.9h1.3v1.3h-1.3zM233.5 164.9h1.3v1.3h-1.3zM234.2 165.0h1.3v1.3h-1.3zM234.1 123.4h1.3v1.3h-1.3zM234.0 144.5h1.3v1.3h-1.3zM236.1 165.7h1.3v1.3h-1.3zM231.3 165.1h1.3v1.3h-1.3zM232.4 151.4h1.3v1.3h-1.3zM233.3 120.2h1.3v1.3h-1.3zM230.6 164.0h1.3v1.3h-1.3zM235.8 128.8h1.3v1.3h-1.3zM231.8 165.7h1.3v1.3h-1.3zM231.3 147.2h1.3v1.3h-1.3zM233.0 162.1h1.3v1.3h-1.3zM234.2 143.6h1.3v1.3h-1.3zM230.7 161.3h1.3v1.3h-1.3zM235.3 145.9h1.3v1.3h-1.3zM234.5 165.8h1.3v1.3h-1.3zM230.6 165.3h1.3v1.3h-1.3zM229.5 157.0h1.3v1.3h-1.3zM230.6 150.6h1.3v1.3h-1.3zM231.6 140.1h1.3v1.3h-1.3zM236.2 160.6h1.3v1.3h-1.3zM234.7 161.8h1.3v1.3h-1.3zM233.9 144.5h1.3v1.3h-1.3zM232.5 163.6h1.3v1.3h-1.3zM235.0 158.3h1.3v1.3h-1.3zM230.6 162.0h1.3v1.3h-1.3zM234.3 151.6h1.3v1.3h-1.3zM232.1 153.0h1.3v1.3h-1.3zM234.3 163.0h1.3v1.3h-1.3zM231.9 156.5h1.3v1.3h-1.3zM232.0 150.1h1.3v1.3h-1.3zM235.9 157.3h1.3v1.3h-1.3zM232.9 158.1h1.3v1.3h-1.3zM230.9 147.4h1.3v1.3h-1.3zM233.8 134.1h1.3v1.3h-1.3zM231.7 150.7h1.3v1.3h-1.3zM235.4 135.5h1.3v1.3h-1.3zM234.0 155.1h1.3v1.3h-1.3zM234.2 158.8h1.3v1.3h-1.3zM234.1 145.1h1.3v1.3h-1.3zM235.9 132.9h1.3v1.3h-1.3zM233.0 133.5h1.3v1.3h-1.3zM234.5 139.3h1.3v1.3h-1.3zM235.3 134.8h1.3v1.3h-1.3zM232.8 145.0h1.3v1.3h-1.3zM235.7 159.2h1.3v1.3h-1.3zM232.9 158.0h1.3v1.3h-1.3zM230.9 164.7h1.3v1.3h-1.3zM234.2 150.8h1.3v1.3h-1.3zM233.6 139.5h1.3v1.3h-1.3zM233.2 128.4h1.3v1.3h-1.3zM235.9 163.8h1.3v1.3h-1.3zM232.8 156.1h1.3v1.3h-1.3zM233.8 158.0h1.3v1.3h-1.3zM233.7 154.3h1.3v1.3h-1.3zM232.6 161.6h1.3v1.3h-1.3zM233.5 165.0h1.3v1.3h-1.3zM234.4 122.9h1.3v1.3h-1.3zM231.3 163.2h1.3v1.3h-1.3zM233.4 156.3h1.3v1.3h-1.3zM234.8 119.6h1.3v1.3h-1.3zM233.6 155.1h1.3v1.3h-1.3zM230.3 150.4h1.3v1.3h-1.3zM232.7 165.4h1.3v1.3h-1.3zM233.7 157.2h1.3v1.3h-1.3zM232.4 164.0h1.3v1.3h-1.3zM234.4 151.8h1.3v1.3h-1.3zM234.8 164.9h1.3v1.3h-1.3zM231.8 163.7h1.3v1.3h-1.3zM235.6 152.1h1.3v1.3h-1.3zM232.1 152.2h1.3v1.3h-1.3zM232.1 152.7h1.3v1.3h-1.3zM234.3 151.3h1.3v1.3h-1.3zM233.7 153.1h1.3v1.3h-1.3zM235.9 147.8h1.3v1.3h-1.3zM234.2 163.2h1.3v1.3h-1.3zM233.4 152.7h1.3v1.3h-1.3zM233.7 143.6h1.3v1.3h-1.3zM231.3 156.5h1.3v1.3h-1.3zM231.7 152.8h1.3v1.3h-1.3zM232.4 158.5h1.3v1.3h-1.3zM235.0 162.5h1.3v1.3h-1.3zM233.8 162.2h1.3v1.3h-1.3zM231.9 146.8h1.3v1.3h-1.3zM230.5 149.0h1.3v1.3h-1.3zM233.8 160.7h1.3v1.3h-1.3zM234.8 165.1h1.3v1.3h-1.3zM231.1 127.0h1.3v1.3h-1.3zM231.3 158.7h1.3v1.3h-1.3zM234.2 134.5h1.3v1.3h-1.3zM233.4 161.8h1.3v1.3h-1.3zM229.2 162.4h1.3v1.3h-1.3zM234.4 165.6h1.3v1.3h-1.3zM235.2 120.2h1.3v1.3h-1.3zM234.4 165.5h1.3v1.3h-1.3zM232.3 127.0h1.3v1.3h-1.3zM235.0 160.5h1.3v1.3h-1.3zM234.8 161.4h1.3v1.3h-1.3zM233.8 122.5h1.3v1.3h-1.3zM232.1 156.3h1.3v1.3h-1.3zM233.4 154.4h1.3v1.3h-1.3zM232.0 153.8h1.3v1.3h-1.3zM231.5 155.4h1.3v1.3h-1.3zM232.2 158.0h1.3v1.3h-1.3zM229.2 159.3h1.3v1.3h-1.3zM236.4 155.3h1.3v1.3h-1.3zM231.1 165.2h1.3v1.3h-1.3zM234.9 148.9h1.3v1.3h-1.3zM231.7 165.7h1.3v1.3h-1.3zM234.1 137.5h1.3v1.3h-1.3zM235.7 162.1h1.3v1.3h-1.3zM231.8 165.3h1.3v1.3h-1.3zM231.0 155.0h1.3v1.3h-1.3zM230.8 163.4h1.3v1.3h-1.3zM236.2 139.1h1.3v1.3h-1.3zM233.4 162.2h1.3v1.3h-1.3zM234.8 165.1h1.3v1.3h-1.3zM229.3 143.2h1.3v1.3h-1.3zM233.3 159.0h1.3v1.3h-1.3zM235.6 140.9h1.3v1.3h-1.3zM232.3 162.1h1.3v1.3h-1.3zM234.1 162.1h1.3v1.3h-1.3zM233.6 135.2h1.3v1.3h-1.3zM233.2 163.8h1.3v1.3h-1.3zM230.8 142.7h1.3v1.3h-1.3zM232.1 148.2h1.3v1.3h-1.3zM232.9 132.4h1.3v1.3h-1.3zM233.0 165.3h1.3v1.3h-1.3zM234.2 158.6h1.3v1.3h-1.3zM234.1 161.9h1.3v1.3h-1.3zM231.8 149.3h1.3v1.3h-1.3zM234.0 165.3h1.3v1.3h-1.3zM230.4 164.6h1.3v1.3h-1.3zM232.6 158.9h1.3v1.3h-1.3zM234.6 147.6h1.3v1.3h-1.3zM230.0 158.2h1.3v1.3h-1.3zM234.7 162.7h1.3v1.3h-1.3zM232.0 162.0h1.3v1.3h-1.3zM236.2 148.8h1.3v1.3h-1.3zM229.8 159.5h1.3v1.3h-1.3zM233.2 162.1h1.3v1.3h-1.3zM234.6 163.1h1.3v1.3h-1.3zM232.9 127.1h1.3v1.3h-1.3zM232.8 165.4h1.3v1.3h-1.3zM234.6 163.8h1.3v1.3h-1.3zM232.9 141.0h1.3v1.3h-1.3zM234.5 163.0h1.3v1.3h-1.3zM236.8 165.8h1.3v1.3h-1.3zM231.8 156.0h1.3v1.3h-1.3zM233.0 144.7h1.3v1.3h-1.3zM233.4 136.5h1.3v1.3h-1.3zM234.6 156.5h1.3v1.3h-1.3zM231.4 156.7h1.3v1.3h-1.3zM231.2 160.4h1.3v1.3h-1.3zM232.9 122.4h1.3v1.3h-1.3zM233.3 158.3h1.3v1.3h-1.3zM234.6 155.1h1.3v1.3h-1.3zM236.2 152.6h1.3v1.3h-1.3zM233.0 155.4h1.3v1.3h-1.3zM234.1 161.9h1.3v1.3h-1.3zM232.2 150.8h1.3v1.3h-1.3zM231.0 165.0h1.3v1.3h-1.3zM232.4 148.2h1.3v1.3h-1.3zM231.5 136.6h1.3v1.3h-1.3zM231.4 153.2h1.3v1.3h-1.3zM234.0 141.5h1.3v1.3h-1.3zM233.4 149.1h1.3v1.3h-1.3zM231.9 152.4h1.3v1.3h-1.3zM233.0 162.7h1.3v1.3h-1.3zM233.1 154.9h1.3v1.3h-1.3zM234.8 146.4h1.3v1.3h-1.3zM232.2 134.4h1.3v1.3h-1.3zM235.2 163.5h1.3v1.3h-1.3zM233.4 160.3h1.3v1.3h-1.3zM231.1 159.0h1.3v1.3h-1.3zM231.7 135.6h1.3v1.3h-1.3zM231.3 160.8h1.3v1.3h-1.3zM232.1 148.7h1.3v1.3h-1.3zM230.4 153.1h1.3v1.3h-1.3zM233.8 165.0h1.3v1.3h-1.3zM234.2 164.1h1.3v1.3h-1.3zM235.4 157.4h1.3v1.3h-1.3zM233.7 160.4h1.3v1.3h-1.3zM233.5 162.1h1.3v1.3h-1.3zM232.9 165.4h1.3v1.3h-1.3zM232.2 159.4h1.3v1.3h-1.3zM232.4 158.4h1.3v1.3h-1.3zM230.4 151.2h1.3v1.3h-1.3zM234.5 163.1h1.3v1.3h-1.3zM234.8 159.8h1.3v1.3h-1.3zM233.7 146.6h1.3v1.3h-1.3zM235.6 160.0h1.3v1.3h-1.3zM234.3 161.8h1.3v1.3h-1.3zM235.6 155.9h1.3v1.3h-1.3zM233.4 154.6h1.3v1.3h-1.3zM232.9 154.5h1.3v1.3h-1.3zM233.3 160.7h1.3v1.3h-1.3zM236.2 162.6h1.3v1.3h-1.3zM232.4 158.7h1.3v1.3h-1.3zM233.6 161.1h1.3v1.3h-1.3zM231.0 164.8h1.3v1.3h-1.3zM233.2 160.6h1.3v1.3h-1.3zM234.4 165.3h1.3v1.3h-1.3zM234.8 148.8h1.3v1.3h-1.3zM234.8 152.8h1.3v1.3h-1.3zM233.6 156.3h1.3v1.3h-1.3zM233.4 159.3h1.3v1.3h-1.3zM230.6 165.6h1.3v1.3h-1.3zM232.3 157.1h1.3v1.3h-1.3zM230.6 149.8h1.3v1.3h-1.3zM230.9 145.7h1.3v1.3h-1.3zM235.1 152.0h1.3v1.3h-1.3zM231.0 152.6h1.3v1.3h-1.3zM231.7 147.5h1.3v1.3h-1.3zM233.6 157.3h1.3v1.3h-1.3zM231.6 145.7h1.3v1.3h-1.3zM232.3 128.1h1.3v1.3h-1.3zM233.1 129.6h1.3v1.3h-1.3zM233.3 163.2h1.3v1.3h-1.3zM233.7 158.4h1.3v1.3h-1.3zM233.6 158.9h1.3v1.3h-1.3zM232.3 159.5h1.3v1.3h-1.3zM234.8 143.8h1.3v1.3h-1.3zM233.5 164.5h1.3v1.3h-1.3zM233.0 143.7h1.3v1.3h-1.3zM234.1 165.1h1.3v1.3h-1.3zM233.0 163.3h1.3v1.3h-1.3zM232.5 165.6h1.3v1.3h-1.3zM232.9 165.3h1.3v1.3h-1.3zM230.6 160.6h1.3v1.3h-1.3zM233.0 165.3h1.3v1.3h-1.3zM232.1 162.7h1.3v1.3h-1.3zM231.4 148.6h1.3v1.3h-1.3zM234.0 158.8h1.3v1.3h-1.3zM232.8 147.9h1.3v1.3h-1.3zM233.2 139.9h1.3v1.3h-1.3zM232.1 162.7h1.3v1.3h-1.3zM234.7 152.7h1.3v1.3h-1.3zM234.4 144.6h1.3v1.3h-1.3zM234.3 151.7h1.3v1.3h-1.3zM233.3 156.9h1.3v1.3h-1.3zM236.1 150.6h1.3v1.3h-1.3zM234.2 154.9h1.3v1.3h-1.3zM234.7 142.7h1.3v1.3h-1.3zM231.6 161.0h1.3v1.3h-1.3zM233.9 161.2h1.3v1.3h-1.3zM232.2 151.9h1.3v1.3h-1.3zM236.7 138.2h1.3v1.3h-1.3zM233.5 161.2h1.3v1.3h-1.3zM233.4 140.4h1.3v1.3h-1.3zM233.6 158.3h1.3v1.3h-1.3zM233.6 143.0h1.3v1.3h-1.3zM234.5 163.4h1.3v1.3h-1.3zM232.5 151.4h1.3v1.3h-1.3zM232.7 160.3h1.3v1.3h-1.3zM232.5 162.1h1.3v1.3h-1.3zM235.1 164.9h1.3v1.3h-1.3zM234.0 164.9h1.3v1.3h-1.3zM233.4 161.6h1.3v1.3h-1.3zM233.6 160.2h1.3v1.3h-1.3zM231.5 165.6h1.3v1.3h-1.3zM233.3 164.1h1.3v1.3h-1.3zM230.9 133.0h1.3v1.3h-1.3zM231.9 162.7h1.3v1.3h-1.3zM232.3 146.8h1.3v1.3h-1.3zM230.6 163.8h1.3v1.3h-1.3zM232.6 119.8h1.3v1.3h-1.3zM233.4 126.7h1.3v1.3h-1.3zM234.1 161.2h1.3v1.3h-1.3zM232.6 165.3h1.3v1.3h-1.3zM232.2 154.4h1.3v1.3h-1.3zM231.2 159.9h1.3v1.3h-1.3zM232.3 144.4h1.3v1.3h-1.3zM233.1 153.1h1.3v1.3h-1.3zM232.3 160.1h1.3v1.3h-1.3zM233.0 162.4h1.3v1.3h-1.3zM233.0 162.1h1.3v1.3h-1.3zM232.9 158.5h1.3v1.3h-1.3zM233.8 158.9h1.3v1.3h-1.3zM232.6 155.6h1.3v1.3h-1.3zM229.9 140.7h1.3v1.3h-1.3zM235.4 162.4h1.3v1.3h-1.3zM232.8 156.2h1.3v1.3h-1.3zM234.4 165.0h1.3v1.3h-1.3zM234.2 150.2h1.3v1.3h-1.3zM231.7 163.8h1.3v1.3h-1.3zM235.1 149.9h1.3v1.3h-1.3zM232.4 162.2h1.3v1.3h-1.3zM235.0 155.3h1.3v1.3h-1.3zM230.9 151.4h1.3v1.3h-1.3zM234.1 145.6h1.3v1.3h-1.3zM233.4 165.3h1.3v1.3h-1.3zM236.1 156.4h1.3v1.3h-1.3zM233.5 154.5h1.3v1.3h-1.3zM235.9 146.2h1.3v1.3h-1.3zM232.6 145.3h1.3v1.3h-1.3zM230.5 150.9h1.3v1.3h-1.3zM232.8 142.9h1.3v1.3h-1.3zM233.5 161.4h1.3v1.3h-1.3zM232.4 155.0h1.3v1.3h-1.3zM233.9 127.0h1.3v1.3h-1.3zM239.7 156.5h1.3v1.3h-1.3zM235.5 146.3h1.3v1.3h-1.3zM235.7 162.4h1.3v1.3h-1.3zM237.4 152.7h1.3v1.3h-1.3zM236.9 155.3h1.3v1.3h-1.3zM238.6 159.4h1.3v1.3h-1.3zM235.1 135.1h1.3v1.3h-1.3zM236.1 160.3h1.3v1.3h-1.3zM237.0 162.4h1.3v1.3h-1.3zM237.6 165.3h1.3v1.3h-1.3zM236.8 157.6h1.3v1.3h-1.3zM238.4 143.8h1.3v1.3h-1.3zM236.1 154.2h1.3v1.3h-1.3zM236.3 119.7h1.3v1.3h-1.3zM237.2 143.9h1.3v1.3h-1.3zM235.7 161.5h1.3v1.3h-1.3zM237.0 164.4h1.3v1.3h-1.3zM236.9 154.5h1.3v1.3h-1.3zM235.8 162.0h1.3v1.3h-1.3zM235.7 155.9h1.3v1.3h-1.3zM237.4 154.4h1.3v1.3h-1.3zM237.2 161.7h1.3v1.3h-1.3zM238.8 148.9h1.3v1.3h-1.3zM237.5 161.3h1.3v1.3h-1.3zM236.7 165.2h1.3v1.3h-1.3zM236.2 148.7h1.3v1.3h-1.3zM235.4 154.8h1.3v1.3h-1.3zM236.6 153.2h1.3v1.3h-1.3zM239.5 162.0h1.3v1.3h-1.3zM237.8 165.2h1.3v1.3h-1.3zM235.7 132.5h1.3v1.3h-1.3zM237.6 152.3h1.3v1.3h-1.3zM236.9 146.5h1.3v1.3h-1.3zM238.7 151.1h1.3v1.3h-1.3zM236.2 158.5h1.3v1.3h-1.3zM235.9 163.3h1.3v1.3h-1.3zM237.5 154.1h1.3v1.3h-1.3z" fill="#e8240c" opacity="0.88"/>
<path d="M248.5 105.3h1.1v1.1h-1.1zM250.1 108.5h1.1v1.1h-1.1zM258.0 95.8h1.1v1.1h-1.1zM240.5 116.4h1.1v1.1h-1.1zM235.8 113.2h1.1v1.1h-1.1zM232.6 116.4h1.1v1.1h-1.1z" fill="#ee4030" opacity="0.75"/>
<path d="M223.4 164.4h1.3v1.3h-1.3zM233.7 160.7h1.3v1.3h-1.3zM235.4 159.3h1.3v1.3h-1.3zM228.5 164.4h1.3v1.3h-1.3zM227.3 164.9h1.3v1.3h-1.3zM230.2 152.3h1.3v1.3h-1.3zM225.5 159.3h1.3v1.3h-1.3zM212.6 163.4h1.3v1.3h-1.3zM235.7 163.4h1.3v1.3h-1.3zM232.7 163.7h1.3v1.3h-1.3zM223.2 157.8h1.3v1.3h-1.3zM227.5 157.8h1.3v1.3h-1.3zM226.5 160.2h1.3v1.3h-1.3zM234.0 164.2h1.3v1.3h-1.3zM230.9 157.2h1.3v1.3h-1.3zM234.0 165.8h1.3v1.3h-1.3zM225.8 164.1h1.3v1.3h-1.3zM227.6 158.9h1.3v1.3h-1.3zM224.7 159.2h1.3v1.3h-1.3zM216.7 163.7h1.3v1.3h-1.3zM215.3 165.1h1.3v1.3h-1.3zM229.1 159.1h1.3v1.3h-1.3zM235.8 160.1h1.3v1.3h-1.3zM220.1 160.7h1.3v1.3h-1.3zM214.8 162.6h1.3v1.3h-1.3zM235.0 164.8h1.3v1.3h-1.3zM212.2 163.8h1.3v1.3h-1.3zM231.5 160.9h1.3v1.3h-1.3zM227.5 165.3h1.3v1.3h-1.3zM230.6 158.5h1.3v1.3h-1.3zM229.3 164.7h1.3v1.3h-1.3zM222.0 165.4h1.3v1.3h-1.3zM221.1 163.5h1.3v1.3h-1.3zM218.2 162.3h1.3v1.3h-1.3zM225.8 164.5h1.3v1.3h-1.3zM232.2 158.6h1.3v1.3h-1.3zM234.9 165.1h1.3v1.3h-1.3zM228.8 161.2h1.3v1.3h-1.3zM234.1 165.2h1.3v1.3h-1.3zM230.5 161.5h1.3v1.3h-1.3zM227.6 163.2h1.3v1.3h-1.3zM227.5 165.5h1.3v1.3h-1.3zM230.1 161.4h1.3v1.3h-1.3zM226.7 153.9h1.3v1.3h-1.3zM235.0 158.9h1.3v1.3h-1.3zM226.2 161.6h1.3v1.3h-1.3zM215.8 164.8h1.3v1.3h-1.3zM229.9 162.0h1.3v1.3h-1.3zM219.5 154.9h1.3v1.3h-1.3zM235.0 163.9h1.3v1.3h-1.3zM229.4 165.3h1.3v1.3h-1.3zM213.9 164.9h1.3v1.3h-1.3zM230.6 162.3h1.3v1.3h-1.3zM235.2 161.6h1.3v1.3h-1.3zM227.2 164.9h1.3v1.3h-1.3zM233.0 163.3h1.3v1.3h-1.3zM221.3 161.0h1.3v1.3h-1.3zM226.2 165.3h1.3v1.3h-1.3zM219.4 163.1h1.3v1.3h-1.3zM234.4 165.0h1.3v1.3h-1.3zM225.9 164.0h1.3v1.3h-1.3zM226.2 151.1h1.3v1.3h-1.3zM232.9 155.3h1.3v1.3h-1.3zM220.5 161.0h1.3v1.3h-1.3zM229.2 164.5h1.3v1.3h-1.3zM219.7 154.3h1.3v1.3h-1.3zM224.9 163.6h1.3v1.3h-1.3zM221.9 158.6h1.3v1.3h-1.3zM234.6 163.6h1.3v1.3h-1.3zM225.2 160.6h1.3v1.3h-1.3zM235.2 165.6h1.3v1.3h-1.3zM226.7 164.9h1.3v1.3h-1.3zM233.1 158.4h1.3v1.3h-1.3zM222.2 162.9h1.3v1.3h-1.3zM234.6 165.1h1.3v1.3h-1.3zM236.0 165.2h1.3v1.3h-1.3zM230.0 160.8h1.3v1.3h-1.3zM227.2 165.4h1.3v1.3h-1.3zM225.9 165.2h1.3v1.3h-1.3zM231.0 157.7h1.3v1.3h-1.3zM222.2 164.8h1.3v1.3h-1.3zM227.9 165.0h1.3v1.3h-1.3zM228.5 161.1h1.3v1.3h-1.3zM228.2 164.8h1.3v1.3h-1.3zM230.9 163.7h1.3v1.3h-1.3zM230.3 165.4h1.3v1.3h-1.3zM233.8 165.7h1.3v1.3h-1.3zM234.9 159.7h1.3v1.3h-1.3zM230.3 165.0h1.3v1.3h-1.3zM232.7 165.5h1.3v1.3h-1.3zM234.7 164.9h1.3v1.3h-1.3zM234.2 162.9h1.3v1.3h-1.3zM228.2 165.8h1.3v1.3h-1.3zM234.2 159.4h1.3v1.3h-1.3zM227.6 161.6h1.3v1.3h-1.3zM224.7 163.9h1.3v1.3h-1.3zM233.2 165.4h1.3v1.3h-1.3zM231.5 165.7h1.3v1.3h-1.3zM233.5 155.0h1.3v1.3h-1.3zM235.6 158.5h1.3v1.3h-1.3zM217.3 163.1h1.3v1.3h-1.3zM224.9 162.4h1.3v1.3h-1.3zM223.4 163.1h1.3v1.3h-1.3zM227.8 164.9h1.3v1.3h-1.3zM227.4 163.7h1.3v1.3h-1.3zM225.8 155.2h1.3v1.3h-1.3zM229.6 163.3h1.3v1.3h-1.3zM226.3 165.4h1.3v1.3h-1.3zM208.7 158.8h1.3v1.3h-1.3zM224.0 165.6h1.3v1.3h-1.3zM235.5 153.8h1.3v1.3h-1.3zM231.5 165.1h1.3v1.3h-1.3zM229.0 163.8h1.3v1.3h-1.3zM235.6 161.8h1.3v1.3h-1.3zM230.1 158.3h1.3v1.3h-1.3zM220.8 162.2h1.3v1.3h-1.3zM210.2 165.4h1.3v1.3h-1.3zM233.2 152.7h1.3v1.3h-1.3zM226.1 159.7h1.3v1.3h-1.3zM219.5 154.6h1.3v1.3h-1.3zM208.2 163.6h1.3v1.3h-1.3zM230.9 162.3h1.3v1.3h-1.3zM223.4 164.9h1.3v1.3h-1.3zM227.8 164.8h1.3v1.3h-1.3zM227.6 158.5h1.3v1.3h-1.3zM231.4 160.9h1.3v1.3h-1.3zM221.1 160.9h1.3v1.3h-1.3zM226.3 163.2h1.3v1.3h-1.3zM234.3 161.0h1.3v1.3h-1.3zM233.0 157.9h1.3v1.3h-1.3zM231.5 161.9h1.3v1.3h-1.3zM233.0 158.5h1.3v1.3h-1.3zM231.9 155.2h1.3v1.3h-1.3zM219.6 164.9h1.3v1.3h-1.3zM217.8 160.7h1.3v1.3h-1.3zM233.5 158.1h1.3v1.3h-1.3zM226.5 164.8h1.3v1.3h-1.3zM222.5 164.7h1.3v1.3h-1.3zM224.7 154.5h1.3v1.3h-1.3zM235.3 162.0h1.3v1.3h-1.3zM233.3 165.6h1.3v1.3h-1.3zM226.0 165.3h1.3v1.3h-1.3zM231.8 165.5h1.3v1.3h-1.3zM224.4 160.9h1.3v1.3h-1.3zM221.2 163.7h1.3v1.3h-1.3zM224.6 162.6h1.3v1.3h-1.3zM232.3 162.8h1.3v1.3h-1.3zM227.6 165.6h1.3v1.3h-1.3zM221.5 164.4h1.3v1.3h-1.3zM223.5 163.1h1.3v1.3h-1.3zM221.3 164.1h1.3v1.3h-1.3zM231.2 157.3h1.3v1.3h-1.3zM232.5 161.7h1.3v1.3h-1.3zM228.3 162.9h1.3v1.3h-1.3zM235.4 158.6h1.3v1.3h-1.3zM228.1 165.7h1.3v1.3h-1.3zM232.4 155.0h1.3v1.3h-1.3zM213.4 161.8h1.3v1.3h-1.3zM211.5 165.6h1.3v1.3h-1.3zM212.6 164.1h1.3v1.3h-1.3zM225.4 161.7h1.3v1.3h-1.3zM218.8 162.5h1.3v1.3h-1.3zM228.1 163.2h1.3v1.3h-1.3zM209.0 165.3h1.3v1.3h-1.3zM232.5 154.8h1.3v1.3h-1.3zM226.5 162.6h1.3v1.3h-1.3zM226.3 164.6h1.3v1.3h-1.3zM215.0 164.3h1.3v1.3h-1.3zM223.8 165.2h1.3v1.3h-1.3zM227.1 161.4h1.3v1.3h-1.3zM232.6 155.8h1.3v1.3h-1.3zM223.7 164.1h1.3v1.3h-1.3zM226.8 158.2h1.3v1.3h-1.3zM233.6 165.6h1.3v1.3h-1.3zM221.7 153.7h1.3v1.3h-1.3zM228.6 165.1h1.3v1.3h-1.3zM216.6 165.0h1.3v1.3h-1.3zM232.8 154.0h1.3v1.3h-1.3zM234.0 165.6h1.3v1.3h-1.3zM234.8 164.8h1.3v1.3h-1.3zM229.2 159.2h1.3v1.3h-1.3zM210.4 165.4h1.3v1.3h-1.3zM234.1 165.0h1.3v1.3h-1.3zM217.4 161.4h1.3v1.3h-1.3zM224.4 158.4h1.3v1.3h-1.3zM230.5 159.7h1.3v1.3h-1.3zM229.1 165.0h1.3v1.3h-1.3zM225.3 158.1h1.3v1.3h-1.3zM207.6 165.1h1.3v1.3h-1.3zM221.6 162.7h1.3v1.3h-1.3zM214.5 165.4h1.3v1.3h-1.3zM227.8 165.1h1.3v1.3h-1.3zM227.5 162.3h1.3v1.3h-1.3zM230.9 165.7h1.3v1.3h-1.3zM228.7 157.4h1.3v1.3h-1.3zM232.1 163.8h1.3v1.3h-1.3zM235.9 163.4h1.3v1.3h-1.3zM232.7 165.0h1.3v1.3h-1.3zM229.8 164.7h1.3v1.3h-1.3zM227.4 165.5h1.3v1.3h-1.3zM216.2 163.9h1.3v1.3h-1.3zM235.1 162.3h1.3v1.3h-1.3zM235.9 162.3h1.3v1.3h-1.3zM234.0 160.1h1.3v1.3h-1.3zM231.7 162.0h1.3v1.3h-1.3zM229.2 154.5h1.3v1.3h-1.3zM224.5 157.9h1.3v1.3h-1.3zM229.5 148.8h1.3v1.3h-1.3zM235.2 161.8h1.3v1.3h-1.3zM226.7 156.9h1.3v1.3h-1.3zM221.4 160.1h1.3v1.3h-1.3zM228.1 165.5h1.3v1.3h-1.3zM215.7 161.0h1.3v1.3h-1.3zM227.4 165.0h1.3v1.3h-1.3zM218.8 165.3h1.3v1.3h-1.3zM222.0 165.0h1.3v1.3h-1.3zM229.2 165.0h1.3v1.3h-1.3zM226.2 165.2h1.3v1.3h-1.3zM232.7 161.3h1.3v1.3h-1.3zM226.0 164.4h1.3v1.3h-1.3zM231.5 153.5h1.3v1.3h-1.3zM229.9 159.9h1.3v1.3h-1.3zM225.7 164.7h1.3v1.3h-1.3zM231.4 156.1h1.3v1.3h-1.3zM226.2 157.5h1.3v1.3h-1.3zM208.5 164.0h1.3v1.3h-1.3zM225.5 165.2h1.3v1.3h-1.3zM235.1 164.1h1.3v1.3h-1.3zM234.4 151.8h1.3v1.3h-1.3zM221.6 154.8h1.3v1.3h-1.3zM231.3 163.0h1.3v1.3h-1.3zM234.7 164.3h1.3v1.3h-1.3zM219.9 161.6h1.3v1.3h-1.3zM217.3 163.9h1.3v1.3h-1.3zM215.7 164.9h1.3v1.3h-1.3zM219.8 165.4h1.3v1.3h-1.3zM234.1 162.6h1.3v1.3h-1.3zM228.2 161.0h1.3v1.3h-1.3zM219.4 160.2h1.3v1.3h-1.3zM232.6 165.0h1.3v1.3h-1.3zM223.4 163.0h1.3v1.3h-1.3zM217.7 165.5h1.3v1.3h-1.3zM229.1 158.8h1.3v1.3h-1.3zM224.6 158.7h1.3v1.3h-1.3zM222.0 157.3h1.3v1.3h-1.3zM231.6 160.5h1.3v1.3h-1.3zM231.5 165.1h1.3v1.3h-1.3zM224.0 162.0h1.3v1.3h-1.3zM231.5 165.5h1.3v1.3h-1.3zM227.5 163.7h1.3v1.3h-1.3zM222.5 156.2h1.3v1.3h-1.3zM233.6 159.0h1.3v1.3h-1.3zM230.7 161.3h1.3v1.3h-1.3zM229.9 158.4h1.3v1.3h-1.3zM235.4 162.7h1.3v1.3h-1.3zM233.4 164.9h1.3v1.3h-1.3zM232.0 155.4h1.3v1.3h-1.3zM236.1 163.6h1.3v1.3h-1.3zM235.1 162.6h1.3v1.3h-1.3zM235.5 165.1h1.3v1.3h-1.3zM220.8 164.8h1.3v1.3h-1.3zM222.7 161.4h1.3v1.3h-1.3zM223.3 154.1h1.3v1.3h-1.3zM229.5 161.4h1.3v1.3h-1.3zM227.1 165.4h1.3v1.3h-1.3zM229.8 158.5h1.3v1.3h-1.3zM236.0 157.9h1.3v1.3h-1.3zM225.7 160.3h1.3v1.3h-1.3zM229.0 162.7h1.3v1.3h-1.3zM231.2 159.4h1.3v1.3h-1.3zM235.4 157.5h1.3v1.3h-1.3zM231.6 164.4h1.3v1.3h-1.3zM230.1 162.1h1.3v1.3h-1.3zM233.7 159.2h1.3v1.3h-1.3zM231.4 162.5h1.3v1.3h-1.3zM218.4 162.8h1.3v1.3h-1.3zM233.1 165.6h1.3v1.3h-1.3zM231.3 165.5h1.3v1.3h-1.3zM226.6 165.7h1.3v1.3h-1.3zM235.4 161.1h1.3v1.3h-1.3zM230.6 165.4h1.3v1.3h-1.3zM224.7 165.6h1.3v1.3h-1.3zM233.2 164.2h1.3v1.3h-1.3zM231.0 165.3h1.3v1.3h-1.3zM217.9 160.9h1.3v1.3h-1.3zM233.6 158.9h1.3v1.3h-1.3zM226.3 159.5h1.3v1.3h-1.3zM224.2 165.1h1.3v1.3h-1.3zM213.4 155.5h1.3v1.3h-1.3zM236.1 165.3h1.3v1.3h-1.3zM230.4 164.3h1.3v1.3h-1.3zM231.4 159.5h1.3v1.3h-1.3zM234.6 165.1h1.3v1.3h-1.3zM228.6 158.4h1.3v1.3h-1.3zM230.8 158.7h1.3v1.3h-1.3zM234.8 162.0h1.3v1.3h-1.3zM233.2 153.7h1.3v1.3h-1.3zM232.6 162.6h1.3v1.3h-1.3zM214.5 164.8h1.3v1.3h-1.3zM224.5 159.1h1.3v1.3h-1.3zM230.7 164.0h1.3v1.3h-1.3zM232.4 155.6h1.3v1.3h-1.3zM222.6 157.9h1.3v1.3h-1.3zM230.7 165.2h1.3v1.3h-1.3zM211.7 165.3h1.3v1.3h-1.3zM230.8 156.5h1.3v1.3h-1.3zM234.8 165.5h1.3v1.3h-1.3zM232.4 162.9h1.3v1.3h-1.3zM223.4 156.2h1.3v1.3h-1.3zM221.6 165.5h1.3v1.3h-1.3zM227.8 153.0h1.3v1.3h-1.3zM224.9 164.1h1.3v1.3h-1.3zM231.3 162.8h1.3v1.3h-1.3zM219.9 153.0h1.3v1.3h-1.3zM228.3 165.8h1.3v1.3h-1.3zM223.5 162.2h1.3v1.3h-1.3zM236.0 158.6h1.3v1.3h-1.3zM227.7 165.2h1.3v1.3h-1.3zM225.8 152.1h1.3v1.3h-1.3zM231.9 163.2h1.3v1.3h-1.3zM216.3 165.5h1.3v1.3h-1.3zM226.1 165.2h1.3v1.3h-1.3zM214.3 160.4h1.3v1.3h-1.3zM232.3 164.9h1.3v1.3h-1.3zM232.1 162.7h1.3v1.3h-1.3zM235.5 160.7h1.3v1.3h-1.3zM236.1 160.1h1.3v1.3h-1.3zM231.4 161.7h1.3v1.3h-1.3zM229.6 160.8h1.3v1.3h-1.3zM226.6 160.5h1.3v1.3h-1.3zM232.1 153.2h1.3v1.3h-1.3zM221.3 163.3h1.3v1.3h-1.3zM223.9 165.2h1.3v1.3h-1.3zM220.7 163.7h1.3v1.3h-1.3zM216.9 160.8h1.3v1.3h-1.3zM216.1 160.5h1.3v1.3h-1.3zM234.7 152.3h1.3v1.3h-1.3zM235.1 159.5h1.3v1.3h-1.3zM224.7 165.2h1.3v1.3h-1.3zM234.8 165.5h1.3v1.3h-1.3zM212.6 156.4h1.3v1.3h-1.3zM227.6 158.5h1.3v1.3h-1.3zM215.3 165.2h1.3v1.3h-1.3zM225.2 157.4h1.3v1.3h-1.3zM235.4 150.6h1.3v1.3h-1.3zM231.0 161.2h1.3v1.3h-1.3zM219.4 164.7h1.3v1.3h-1.3zM232.9 161.9h1.3v1.3h-1.3zM234.2 160.5h1.3v1.3h-1.3zM231.5 164.8h1.3v1.3h-1.3zM230.6 160.3h1.3v1.3h-1.3zM235.2 165.5h1.3v1.3h-1.3zM234.0 163.9h1.3v1.3h-1.3zM217.1 163.2h1.3v1.3h-1.3zM235.2 162.7h1.3v1.3h-1.3zM234.9 155.3h1.3v1.3h-1.3zM221.2 165.4h1.3v1.3h-1.3zM235.1 155.5h1.3v1.3h-1.3zM232.3 156.3h1.3v1.3h-1.3zM233.8 164.0h1.3v1.3h-1.3zM232.2 163.2h1.3v1.3h-1.3zM229.8 158.4h1.3v1.3h-1.3zM235.7 161.0h1.3v1.3h-1.3zM231.8 160.7h1.3v1.3h-1.3zM229.9 160.1h1.3v1.3h-1.3zM234.5 164.7h1.3v1.3h-1.3zM226.5 162.6h1.3v1.3h-1.3zM231.1 165.8h1.3v1.3h-1.3zM231.6 160.8h1.3v1.3h-1.3zM234.1 160.2h1.3v1.3h-1.3zM232.0 162.7h1.3v1.3h-1.3zM221.4 164.7h1.3v1.3h-1.3zM224.6 163.9h1.3v1.3h-1.3zM234.8 160.3h1.3v1.3h-1.3zM232.4 164.5h1.3v1.3h-1.3zM233.4 161.1h1.3v1.3h-1.3zM229.3 165.6h1.3v1.3h-1.3zM234.0 161.7h1.3v1.3h-1.3zM234.2 159.8h1.3v1.3h-1.3zM230.3 163.4h1.3v1.3h-1.3zM235.4 160.4h1.3v1.3h-1.3zM230.8 165.5h1.3v1.3h-1.3zM234.2 161.9h1.3v1.3h-1.3zM225.3 159.5h1.3v1.3h-1.3zM236.0 164.4h1.3v1.3h-1.3zM226.7 156.4h1.3v1.3h-1.3zM225.4 164.0h1.3v1.3h-1.3zM209.3 160.5h1.3v1.3h-1.3zM234.2 156.6h1.3v1.3h-1.3zM224.4 158.5h1.3v1.3h-1.3zM234.7 162.6h1.3v1.3h-1.3zM232.6 158.4h1.3v1.3h-1.3zM223.7 162.2h1.3v1.3h-1.3zM233.3 161.0h1.3v1.3h-1.3zM235.2 161.0h1.3v1.3h-1.3zM218.2 154.8h1.3v1.3h-1.3zM223.7 163.9h1.3v1.3h-1.3zM235.8 161.7h1.3v1.3h-1.3zM222.7 164.3h1.3v1.3h-1.3zM213.9 161.3h1.3v1.3h-1.3zM211.0 161.4h1.3v1.3h-1.3zM229.9 164.2h1.3v1.3h-1.3zM234.1 165.2h1.3v1.3h-1.3zM227.0 158.7h1.3v1.3h-1.3zM226.9 160.8h1.3v1.3h-1.3zM226.7 165.5h1.3v1.3h-1.3zM232.7 164.1h1.3v1.3h-1.3zM230.0 165.0h1.3v1.3h-1.3zM211.4 165.8h1.3v1.3h-1.3zM235.3 165.2h1.3v1.3h-1.3zM229.4 158.7h1.3v1.3h-1.3zM235.4 165.7h1.3v1.3h-1.3zM236.0 157.1h1.3v1.3h-1.3zM235.1 163.3h1.3v1.3h-1.3zM235.3 165.6h1.3v1.3h-1.3zM226.2 164.4h1.3v1.3h-1.3zM234.9 161.0h1.3v1.3h-1.3zM231.8 164.0h1.3v1.3h-1.3zM224.4 164.9h1.3v1.3h-1.3zM224.8 162.7h1.3v1.3h-1.3zM227.6 162.9h1.3v1.3h-1.3zM228.2 162.7h1.3v1.3h-1.3zM235.4 165.0h1.3v1.3h-1.3zM233.6 162.7h1.3v1.3h-1.3zM231.5 165.0h1.3v1.3h-1.3zM224.0 155.0h1.3v1.3h-1.3zM232.1 163.5h1.3v1.3h-1.3zM230.1 164.9h1.3v1.3h-1.3zM227.8 161.1h1.3v1.3h-1.3zM219.5 163.8h1.3v1.3h-1.3zM234.5 161.3h1.3v1.3h-1.3zM232.8 153.5h1.3v1.3h-1.3zM212.7 161.8h1.3v1.3h-1.3zM227.6 162.0h1.3v1.3h-1.3zM232.4 164.4h1.3v1.3h-1.3zM222.5 161.1h1.3v1.3h-1.3zM224.2 162.3h1.3v1.3h-1.3zM231.3 159.2h1.3v1.3h-1.3zM223.4 161.9h1.3v1.3h-1.3zM231.4 165.3h1.3v1.3h-1.3zM211.4 164.9h1.3v1.3h-1.3zM229.8 157.2h1.3v1.3h-1.3zM232.7 160.6h1.3v1.3h-1.3zM231.8 154.8h1.3v1.3h-1.3zM225.5 154.4h1.3v1.3h-1.3zM230.4 161.1h1.3v1.3h-1.3zM233.7 155.8h1.3v1.3h-1.3zM222.5 163.8h1.3v1.3h-1.3zM220.0 165.2h1.3v1.3h-1.3zM226.9 165.4h1.3v1.3h-1.3zM235.5 165.1h1.3v1.3h-1.3zM230.6 163.3h1.3v1.3h-1.3zM218.7 163.1h1.3v1.3h-1.3zM218.9 165.5h1.3v1.3h-1.3zM228.2 164.3h1.3v1.3h-1.3zM232.8 155.7h1.3v1.3h-1.3zM235.1 154.4h1.3v1.3h-1.3zM224.1 163.8h1.3v1.3h-1.3zM230.2 163.0h1.3v1.3h-1.3zM235.0 164.4h1.3v1.3h-1.3zM228.0 164.7h1.3v1.3h-1.3zM233.1 163.9h1.3v1.3h-1.3zM227.3 163.7h1.3v1.3h-1.3zM229.0 162.8h1.3v1.3h-1.3zM221.9 165.5h1.3v1.3h-1.3zM235.5 159.4h1.3v1.3h-1.3zM226.8 161.1h1.3v1.3h-1.3zM235.0 161.1h1.3v1.3h-1.3zM223.3 165.0h1.3v1.3h-1.3zM223.7 165.5h1.3v1.3h-1.3zM216.5 164.4h1.3v1.3h-1.3zM231.5 157.9h1.3v1.3h-1.3zM229.1 165.7h1.3v1.3h-1.3zM212.7 165.5h1.3v1.3h-1.3zM230.5 161.3h1.3v1.3h-1.3zM228.4 165.2h1.3v1.3h-1.3zM235.1 159.5h1.3v1.3h-1.3zM234.8 161.0h1.3v1.3h-1.3zM235.2 163.7h1.3v1.3h-1.3zM223.9 165.5h1.3v1.3h-1.3zM219.4 163.2h1.3v1.3h-1.3zM229.2 158.1h1.3v1.3h-1.3zM223.6 160.4h1.3v1.3h-1.3zM229.9 159.1h1.3v1.3h-1.3zM224.3 163.9h1.3v1.3h-1.3zM229.4 161.2h1.3v1.3h-1.3zM234.1 158.9h1.3v1.3h-1.3zM235.4 158.3h1.3v1.3h-1.3zM229.4 146.8h1.3v1.3h-1.3zM222.4 162.1h1.3v1.3h-1.3zM213.0 165.6h1.3v1.3h-1.3zM215.6 165.2h1.3v1.3h-1.3zM217.7 161.8h1.3v1.3h-1.3zM233.0 162.4h1.3v1.3h-1.3zM234.5 162.7h1.3v1.3h-1.3zM219.6 165.6h1.3v1.3h-1.3zM225.0 154.4h1.3v1.3h-1.3zM222.7 158.8h1.3v1.3h-1.3zM230.8 165.5h1.3v1.3h-1.3zM234.9 158.5h1.3v1.3h-1.3zM211.9 163.8h1.3v1.3h-1.3zM235.4 156.9h1.3v1.3h-1.3zM230.1 163.4h1.3v1.3h-1.3zM221.1 164.1h1.3v1.3h-1.3zM234.0 165.8h1.3v1.3h-1.3zM212.9 164.6h1.3v1.3h-1.3zM227.8 161.7h1.3v1.3h-1.3zM231.9 162.1h1.3v1.3h-1.3zM226.0 163.7h1.3v1.3h-1.3zM215.9 165.2h1.3v1.3h-1.3zM232.4 164.8h1.3v1.3h-1.3zM220.9 164.9h1.3v1.3h-1.3zM219.6 165.4h1.3v1.3h-1.3zM217.9 165.3h1.3v1.3h-1.3zM225.9 164.8h1.3v1.3h-1.3zM230.1 150.1h1.3v1.3h-1.3zM230.9 163.9h1.3v1.3h-1.3zM231.1 156.8h1.3v1.3h-1.3zM234.3 165.6h1.3v1.3h-1.3zM233.1 159.4h1.3v1.3h-1.3zM230.5 159.5h1.3v1.3h-1.3zM209.4 164.7h1.3v1.3h-1.3zM225.4 159.6h1.3v1.3h-1.3zM226.6 160.0h1.3v1.3h-1.3zM235.4 165.7h1.3v1.3h-1.3zM224.9 164.0h1.3v1.3h-1.3zM225.8 165.1h1.3v1.3h-1.3zM232.4 158.8h1.3v1.3h-1.3zM221.7 160.7h1.3v1.3h-1.3zM231.6 161.6h1.3v1.3h-1.3zM220.9 163.9h1.3v1.3h-1.3zM224.4 163.3h1.3v1.3h-1.3zM226.6 165.0h1.3v1.3h-1.3zM229.4 161.6h1.3v1.3h-1.3zM231.1 155.7h1.3v1.3h-1.3zM230.5 158.8h1.3v1.3h-1.3zM232.0 165.3h1.3v1.3h-1.3zM235.5 162.9h1.3v1.3h-1.3zM233.0 164.9h1.3v1.3h-1.3zM233.1 164.5h1.3v1.3h-1.3zM230.7 152.8h1.3v1.3h-1.3zM226.2 162.9h1.3v1.3h-1.3zM231.9 165.0h1.3v1.3h-1.3zM235.1 158.1h1.3v1.3h-1.3zM232.8 160.3h1.3v1.3h-1.3zM221.1 165.0h1.3v1.3h-1.3zM228.9 163.8h1.3v1.3h-1.3zM230.8 162.7h1.3v1.3h-1.3zM226.9 165.7h1.3v1.3h-1.3zM224.2 164.8h1.3v1.3h-1.3zM226.7 158.8h1.3v1.3h-1.3zM215.9 164.0h1.3v1.3h-1.3zM230.4 157.7h1.3v1.3h-1.3zM223.8 165.1h1.3v1.3h-1.3zM232.2 155.0h1.3v1.3h-1.3zM208.8 164.3h1.3v1.3h-1.3zM230.0 164.8h1.3v1.3h-1.3zM227.8 164.9h1.3v1.3h-1.3zM217.4 160.9h1.3v1.3h-1.3zM231.9 162.3h1.3v1.3h-1.3zM231.2 165.1h1.3v1.3h-1.3zM227.5 160.6h1.3v1.3h-1.3zM227.7 164.9h1.3v1.3h-1.3zM224.6 159.7h1.3v1.3h-1.3zM232.7 165.0h1.3v1.3h-1.3zM231.1 163.7h1.3v1.3h-1.3zM220.9 165.4h1.3v1.3h-1.3zM211.8 161.3h1.3v1.3h-1.3zM230.2 160.5h1.3v1.3h-1.3zM223.3 159.2h1.3v1.3h-1.3zM234.1 158.2h1.3v1.3h-1.3zM228.0 164.0h1.3v1.3h-1.3zM233.9 165.3h1.3v1.3h-1.3zM227.0 154.6h1.3v1.3h-1.3zM234.8 163.7h1.3v1.3h-1.3zM222.3 164.0h1.3v1.3h-1.3zM235.5 163.8h1.3v1.3h-1.3zM227.3 164.0h1.3v1.3h-1.3zM234.4 163.4h1.3v1.3h-1.3zM208.9 164.8h1.3v1.3h-1.3zM217.5 165.8h1.3v1.3h-1.3zM231.8 162.2h1.3v1.3h-1.3zM232.7 165.2h1.3v1.3h-1.3zM229.1 164.0h1.3v1.3h-1.3zM226.6 155.1h1.3v1.3h-1.3zM223.4 161.3h1.3v1.3h-1.3zM227.0 160.7h1.3v1.3h-1.3zM234.6 156.7h1.3v1.3h-1.3zM220.3 163.2h1.3v1.3h-1.3zM224.1 163.4h1.3v1.3h-1.3zM225.9 159.1h1.3v1.3h-1.3zM226.8 165.0h1.3v1.3h-1.3zM234.8 164.8h1.3v1.3h-1.3zM231.2 157.9h1.3v1.3h-1.3zM216.3 162.9h1.3v1.3h-1.3zM223.6 164.1h1.3v1.3h-1.3zM234.5 164.9h1.3v1.3h-1.3zM234.9 164.4h1.3v1.3h-1.3zM234.7 164.9h1.3v1.3h-1.3zM235.3 164.6h1.3v1.3h-1.3zM236.0 160.7h1.3v1.3h-1.3zM209.4 165.8h1.3v1.3h-1.3zM234.4 164.8h1.3v1.3h-1.3zM229.6 163.8h1.3v1.3h-1.3zM231.5 165.8h1.3v1.3h-1.3zM225.5 165.2h1.3v1.3h-1.3zM218.1 159.6h1.3v1.3h-1.3zM231.7 164.2h1.3v1.3h-1.3zM227.7 163.1h1.3v1.3h-1.3zM230.7 158.4h1.3v1.3h-1.3zM224.2 160.6h1.3v1.3h-1.3zM234.5 164.9h1.3v1.3h-1.3zM235.3 156.5h1.3v1.3h-1.3zM232.7 164.0h1.3v1.3h-1.3zM224.9 162.3h1.3v1.3h-1.3zM231.6 165.1h1.3v1.3h-1.3zM231.2 156.1h1.3v1.3h-1.3zM229.2 164.8h1.3v1.3h-1.3zM224.5 160.4h1.3v1.3h-1.3zM207.5 165.5h1.3v1.3h-1.3zM231.4 160.4h1.3v1.3h-1.3zM227.6 158.8h1.3v1.3h-1.3zM222.8 164.9h1.3v1.3h-1.3zM231.6 160.6h1.3v1.3h-1.3zM235.3 161.9h1.3v1.3h-1.3zM216.0 160.9h1.3v1.3h-1.3zM219.1 160.8h1.3v1.3h-1.3zM236.0 157.3h1.3v1.3h-1.3zM218.0 165.6h1.3v1.3h-1.3zM235.3 165.1h1.3v1.3h-1.3zM230.0 165.1h1.3v1.3h-1.3zM231.3 150.2h1.3v1.3h-1.3zM231.3 165.7h1.3v1.3h-1.3zM235.4 161.6h1.3v1.3h-1.3zM225.3 164.7h1.3v1.3h-1.3zM235.0 161.8h1.3v1.3h-1.3zM216.4 164.9h1.3v1.3h-1.3zM236.0 158.9h1.3v1.3h-1.3zM232.6 161.9h1.3v1.3h-1.3zM235.2 157.9h1.3v1.3h-1.3zM227.9 165.0h1.3v1.3h-1.3zM235.9 162.4h1.3v1.3h-1.3zM235.4 164.7h1.3v1.3h-1.3zM231.7 154.7h1.3v1.3h-1.3zM221.9 164.4h1.3v1.3h-1.3zM231.6 155.7h1.3v1.3h-1.3zM223.6 165.1h1.3v1.3h-1.3zM226.9 163.7h1.3v1.3h-1.3zM235.6 165.0h1.3v1.3h-1.3zM212.4 165.0h1.3v1.3h-1.3zM228.4 158.5h1.3v1.3h-1.3zM230.7 162.9h1.3v1.3h-1.3zM234.2 164.1h1.3v1.3h-1.3zM219.8 162.7h1.3v1.3h-1.3zM232.2 157.5h1.3v1.3h-1.3zM231.8 164.8h1.3v1.3h-1.3zM235.4 159.7h1.3v1.3h-1.3zM235.2 165.0h1.3v1.3h-1.3zM227.1 165.7h1.3v1.3h-1.3zM226.5 157.7h1.3v1.3h-1.3zM221.8 163.3h1.3v1.3h-1.3zM228.7 165.4h1.3v1.3h-1.3zM232.8 163.9h1.3v1.3h-1.3zM222.7 164.7h1.3v1.3h-1.3zM229.0 161.6h1.3v1.3h-1.3zM229.2 161.5h1.3v1.3h-1.3zM230.4 156.7h1.3v1.3h-1.3zM233.9 165.2h1.3v1.3h-1.3zM230.3 164.9h1.3v1.3h-1.3zM225.0 163.1h1.3v1.3h-1.3zM208.2 165.5h1.3v1.3h-1.3zM212.6 162.1h1.3v1.3h-1.3zM233.9 165.0h1.3v1.3h-1.3zM234.1 165.7h1.3v1.3h-1.3zM224.3 158.9h1.3v1.3h-1.3zM227.3 159.2h1.3v1.3h-1.3zM235.7 161.9h1.3v1.3h-1.3zM220.6 153.3h1.3v1.3h-1.3zM214.1 163.9h1.3v1.3h-1.3zM227.7 159.1h1.3v1.3h-1.3zM233.0 156.7h1.3v1.3h-1.3zM234.3 157.2h1.3v1.3h-1.3zM224.9 157.0h1.3v1.3h-1.3zM233.5 157.5h1.3v1.3h-1.3zM220.6 164.9h1.3v1.3h-1.3zM226.3 165.7h1.3v1.3h-1.3zM209.6 164.9h1.3v1.3h-1.3zM226.9 164.1h1.3v1.3h-1.3z" fill="#e52a08"/>
<polygon points="210.3,167.0 216.7,164.5 223.1,160.7 227.8,155.9 231.6,151.2 235.8,149.6 237.4,157.5 237.4,167.0" fill="#e52d0a"/>
<line x1="234.2" y1="40.5" x2="234.2" y2="167.0" stroke="#f04848" stroke-width="1.3"/>
<line x1="202.4" y1="122.7" x2="329.5" y2="122.7" stroke="#f04848" stroke-width="1.3"/>
<path d="M202.4 40.5H329.5V167.0" fill="none" stroke="#333" stroke-width="1.2"/>
<path d="M202.4 40.0V167.0H330.0" fill="none" stroke="#1a1a1a" stroke-width="1.6"/>
<path d="M199.4 167.0H202.4M202.4 167.0V170.0M199.4 135.4H202.4M234.2 167.0V170.0M199.4 103.8H202.4M265.9 167.0V170.0M199.4 72.1H202.4M297.7 167.0V170.0M199.4 40.5H202.4M329.5 167.0V170.0M200.8 157.5H202.4M212.0 167.0V168.6M200.8 151.9H202.4M217.6 167.0V168.6M200.8 148.0H202.4M221.5 167.0V168.6M200.8 144.9H202.4M224.6 167.0V168.6M200.8 142.4H202.4M227.1 167.0V168.6M200.8 140.3H202.4M229.3 167.0V168.6M200.8 138.4H202.4M231.1 167.0V168.6M200.8 136.8H202.4M232.7 167.0V168.6M200.8 125.9H202.4M243.7 167.0V168.6M200.8 120.3H202.4M249.3 167.0V168.6M200.8 116.3H202.4M253.3 167.0V168.6M200.8 113.3H202.4M256.4 167.0V168.6M200.8 110.8H202.4M258.9 167.0V168.6M200.8 108.6H202.4M261.0 167.0V168.6M200.8 106.8H202.4M262.9 167.0V168.6M200.8 105.2H202.4M264.5 167.0V168.6M200.8 94.2H202.4M275.5 167.0V168.6M200.8 88.7H202.4M281.1 167.0V168.6M200.8 84.7H202.4M285.1 167.0V168.6M200.8 81.6H202.4M288.2 167.0V168.6M200.8 79.1H202.4M290.7 167.0V168.6M200.8 77.0H202.4M292.8 167.0V168.6M200.8 75.2H202.4M294.6 167.0V168.6M200.8 73.6H202.4M296.3 167.0V168.6M200.8 62.6H202.4M307.3 167.0V168.6M200.8 57.0H202.4M312.9 167.0V168.6M200.8 53.1H202.4M316.9 167.0V168.6M200.8 50.0H202.4M319.9 167.0V168.6M200.8 47.5H202.4M322.5 167.0V168.6M200.8 45.4H202.4M324.6 167.0V168.6M200.8 43.6H202.4M326.4 167.0V168.6M200.8 41.9H202.4M328.0 167.0V168.6" stroke="#333" stroke-width="0.8" fill="none"/>
<text x="198.9" y="169.5" font-size="10.5" text-anchor="end" fill="#2a2a38">0</text>
<text x="202.4" y="179.3" font-size="10.5" text-anchor="middle" fill="#2a2a38">0</text>
<text x="198.9" y="137.9" font-size="10.5" text-anchor="end" fill="#2a2a38">1</text>
<text x="234.2" y="179.3" font-size="10.5" text-anchor="middle" fill="#2a2a38">1</text>
<text x="198.9" y="106.2" font-size="10.5" text-anchor="end" fill="#2a2a38">2</text>
<text x="265.9" y="179.3" font-size="10.5" text-anchor="middle" fill="#2a2a38">2</text>
<text x="198.9" y="74.6" font-size="10.5" text-anchor="end" fill="#2a2a38">3</text>
<text x="297.7" y="179.3" font-size="10.5" text-anchor="middle" fill="#2a2a38">3</text>
<text x="198.9" y="43.0" font-size="10.5" text-anchor="end" fill="#2a2a38">4</text>
<text x="329.5" y="179.3" font-size="10.5" text-anchor="middle" fill="#2a2a38">4</text>
<text transform="translate(185.9,103.5) rotate(-90)" font-size="10.5" text-anchor="middle" textLength="40" lengthAdjust="spacingAndGlyphs" fill="#3a3a48">VIABILITY</text>
<text transform="translate(183.9,50.5) rotate(-90)" font-size="7" text-anchor="middle" fill="#8c96a8">DEAD</text>
<text transform="translate(183.9,158.0) rotate(-90)" font-size="7" text-anchor="middle" fill="#8c96a8">LIVE</text>
<text x="202.9" y="190.4" font-size="7.5" fill="#6a7690">Neg.</text>
<text x="328.5" y="190.4" font-size="7.5" text-anchor="end" fill="#6a7690">Pos.</text>
<text x="266.4" y="190.6" font-size="9.8" text-anchor="middle" textLength="59.5" lengthAdjust="spacingAndGlyphs" fill="#3a3a48">NITRIC OXIDE</text>
<text x="207.7" y="51.5" font-size="8.2" fill="#333">0.40 %</text>
<text x="324.7" y="51.5" font-size="8.2" text-anchor="end" fill="#333">0.53 %</text>
<text x="207.7" y="163.4" font-size="8.2" fill="#111">91.90 %</text>
<text x="324.7" y="163.4" font-size="8.2" text-anchor="end" fill="#333">7.17 %</text>
<text x="393.1" y="28.6" textLength="83.6" lengthAdjust="spacingAndGlyphs" font-size="14.5" font-weight="bold" fill="#111">OS + ASTA10</text>
<rect x="372.4" y="123.9" width="32.3" height="45.0" fill="#e6f0cf"/>
<path d="M396.0 161.7h1.3v1.3h-1.3zM403.6 144.7h1.3v1.3h-1.3zM404.5 143.5h1.3v1.3h-1.3zM405.3 131.9h1.3v1.3h-1.3zM402.3 160.8h1.3v1.3h-1.3zM376.3 151.4h1.3v1.3h-1.3zM397.2 131.9h1.3v1.3h-1.3zM403.4 164.9h1.3v1.3h-1.3zM399.4 143.1h1.3v1.3h-1.3zM399.6 137.3h1.3v1.3h-1.3zM394.2 141.1h1.3v1.3h-1.3zM400.4 145.3h1.3v1.3h-1.3zM385.8 159.1h1.3v1.3h-1.3zM402.2 151.3h1.3v1.3h-1.3zM397.7 138.5h1.3v1.3h-1.3zM400.0 127.0h1.3v1.3h-1.3zM402.5 155.0h1.3v1.3h-1.3zM400.4 126.1h1.3v1.3h-1.3zM403.2 129.5h1.3v1.3h-1.3zM402.4 162.5h1.3v1.3h-1.3zM399.4 124.3h1.3v1.3h-1.3zM400.1 159.1h1.3v1.3h-1.3zM399.6 149.6h1.3v1.3h-1.3zM400.7 145.7h1.3v1.3h-1.3zM395.6 145.7h1.3v1.3h-1.3zM401.3 126.5h1.3v1.3h-1.3zM397.0 130.8h1.3v1.3h-1.3zM404.8 164.5h1.3v1.3h-1.3zM393.5 130.5h1.3v1.3h-1.3zM401.8 146.5h1.3v1.3h-1.3zM402.5 138.8h1.3v1.3h-1.3zM390.7 146.3h1.3v1.3h-1.3zM387.2 159.8h1.3v1.3h-1.3zM402.2 122.9h1.3v1.3h-1.3zM402.1 166.9h1.3v1.3h-1.3zM394.9 164.9h1.3v1.3h-1.3zM403.3 159.4h1.3v1.3h-1.3zM382.5 167.1h1.3v1.3h-1.3zM403.7 166.8h1.3v1.3h-1.3zM401.6 123.4h1.3v1.3h-1.3zM398.2 149.7h1.3v1.3h-1.3zM405.6 167.2h1.3v1.3h-1.3zM400.5 144.9h1.3v1.3h-1.3zM404.5 154.4h1.3v1.3h-1.3zM404.4 144.3h1.3v1.3h-1.3zM404.3 130.1h1.3v1.3h-1.3zM385.0 158.6h1.3v1.3h-1.3zM400.4 155.7h1.3v1.3h-1.3zM392.8 151.9h1.3v1.3h-1.3zM404.2 145.1h1.3v1.3h-1.3zM391.3 147.0h1.3v1.3h-1.3zM391.5 149.6h1.3v1.3h-1.3zM404.4 153.3h1.3v1.3h-1.3zM398.4 159.1h1.3v1.3h-1.3zM399.8 123.6h1.3v1.3h-1.3zM403.8 167.3h1.3v1.3h-1.3zM394.5 145.9h1.3v1.3h-1.3zM404.4 143.2h1.3v1.3h-1.3zM396.8 167.7h1.3v1.3h-1.3zM399.8 140.7h1.3v1.3h-1.3zM401.4 156.9h1.3v1.3h-1.3zM387.4 167.6h1.3v1.3h-1.3zM400.2 140.9h1.3v1.3h-1.3zM404.1 152.1h1.3v1.3h-1.3zM402.4 145.3h1.3v1.3h-1.3zM397.0 158.6h1.3v1.3h-1.3zM398.9 156.1h1.3v1.3h-1.3zM401.1 155.8h1.3v1.3h-1.3zM397.3 135.6h1.3v1.3h-1.3zM404.2 137.6h1.3v1.3h-1.3zM402.6 158.7h1.3v1.3h-1.3zM387.0 161.7h1.3v1.3h-1.3zM390.3 163.6h1.3v1.3h-1.3zM398.8 166.5h1.3v1.3h-1.3zM396.2 158.2h1.3v1.3h-1.3zM390.6 152.9h1.3v1.3h-1.3zM403.1 130.8h1.3v1.3h-1.3zM399.7 142.2h1.3v1.3h-1.3zM401.9 129.1h1.3v1.3h-1.3zM403.3 165.9h1.3v1.3h-1.3zM400.1 148.5h1.3v1.3h-1.3zM395.6 131.8h1.3v1.3h-1.3zM402.2 163.7h1.3v1.3h-1.3zM392.1 142.7h1.3v1.3h-1.3zM403.8 133.6h1.3v1.3h-1.3zM401.3 159.5h1.3v1.3h-1.3zM404.9 134.3h1.3v1.3h-1.3zM397.1 153.9h1.3v1.3h-1.3zM388.0 153.8h1.3v1.3h-1.3zM392.4 164.7h1.3v1.3h-1.3zM383.3 166.7h1.3v1.3h-1.3zM399.1 153.1h1.3v1.3h-1.3zM402.5 125.2h1.3v1.3h-1.3zM403.6 137.1h1.3v1.3h-1.3zM401.9 131.9h1.3v1.3h-1.3zM395.1 159.6h1.3v1.3h-1.3zM405.2 157.4h1.3v1.3h-1.3zM402.7 145.5h1.3v1.3h-1.3zM404.5 159.7h1.3v1.3h-1.3zM404.2 128.0h1.3v1.3h-1.3zM392.0 139.9h1.3v1.3h-1.3zM400.4 128.2h1.3v1.3h-1.3zM392.2 146.1h1.3v1.3h-1.3zM404.2 164.2h1.3v1.3h-1.3zM399.2 159.2h1.3v1.3h-1.3zM395.9 154.1h1.3v1.3h-1.3zM402.2 125.9h1.3v1.3h-1.3zM399.5 161.1h1.3v1.3h-1.3zM395.7 130.5h1.3v1.3h-1.3zM403.2 156.9h1.3v1.3h-1.3zM386.3 163.2h1.3v1.3h-1.3zM401.4 164.2h1.3v1.3h-1.3zM395.5 134.5h1.3v1.3h-1.3zM400.5 132.7h1.3v1.3h-1.3zM389.7 167.7h1.3v1.3h-1.3zM390.8 160.3h1.3v1.3h-1.3zM395.0 160.5h1.3v1.3h-1.3zM404.1 151.3h1.3v1.3h-1.3zM403.5 135.3h1.3v1.3h-1.3zM405.7 165.7h1.3v1.3h-1.3zM378.2 165.8h1.3v1.3h-1.3zM399.1 130.9h1.3v1.3h-1.3zM395.8 167.0h1.3v1.3h-1.3zM405.6 158.5h1.3v1.3h-1.3zM397.8 156.9h1.3v1.3h-1.3zM395.4 156.5h1.3v1.3h-1.3zM403.1 163.5h1.3v1.3h-1.3zM401.9 147.2h1.3v1.3h-1.3zM403.6 138.7h1.3v1.3h-1.3zM402.7 163.9h1.3v1.3h-1.3zM392.3 155.9h1.3v1.3h-1.3zM395.4 155.6h1.3v1.3h-1.3zM400.9 133.9h1.3v1.3h-1.3zM398.5 156.0h1.3v1.3h-1.3zM403.0 150.1h1.3v1.3h-1.3zM398.5 139.9h1.3v1.3h-1.3zM405.3 151.9h1.3v1.3h-1.3zM396.8 139.8h1.3v1.3h-1.3zM395.0 167.4h1.3v1.3h-1.3zM403.0 129.4h1.3v1.3h-1.3zM398.0 126.1h1.3v1.3h-1.3zM396.0 134.5h1.3v1.3h-1.3zM400.5 160.7h1.3v1.3h-1.3zM405.0 133.2h1.3v1.3h-1.3zM395.6 141.6h1.3v1.3h-1.3zM397.1 141.3h1.3v1.3h-1.3zM402.7 137.7h1.3v1.3h-1.3zM404.2 145.5h1.3v1.3h-1.3zM393.2 167.7h1.3v1.3h-1.3zM390.4 166.8h1.3v1.3h-1.3zM400.5 166.6h1.3v1.3h-1.3zM400.7 166.9h1.3v1.3h-1.3zM396.4 165.9h1.3v1.3h-1.3zM398.2 131.9h1.3v1.3h-1.3zM397.9 125.1h1.3v1.3h-1.3zM395.8 166.9h1.3v1.3h-1.3zM404.8 149.4h1.3v1.3h-1.3zM402.6 136.9h1.3v1.3h-1.3zM401.5 126.2h1.3v1.3h-1.3zM403.0 146.7h1.3v1.3h-1.3zM405.5 132.4h1.3v1.3h-1.3zM399.1 161.2h1.3v1.3h-1.3zM405.5 144.1h1.3v1.3h-1.3zM396.0 156.2h1.3v1.3h-1.3zM399.9 154.9h1.3v1.3h-1.3zM396.1 167.1h1.3v1.3h-1.3zM396.8 149.9h1.3v1.3h-1.3zM404.5 136.9h1.3v1.3h-1.3zM399.0 164.6h1.3v1.3h-1.3zM394.1 141.0h1.3v1.3h-1.3zM393.4 149.1h1.3v1.3h-1.3zM404.9 128.4h1.3v1.3h-1.3zM390.6 165.0h1.3v1.3h-1.3zM400.7 127.2h1.3v1.3h-1.3zM392.8 149.1h1.3v1.3h-1.3zM399.6 163.7h1.3v1.3h-1.3zM401.4 160.5h1.3v1.3h-1.3zM393.0 158.5h1.3v1.3h-1.3zM396.2 161.9h1.3v1.3h-1.3zM382.2 159.3h1.3v1.3h-1.3zM393.8 139.3h1.3v1.3h-1.3zM397.5 145.7h1.3v1.3h-1.3zM405.2 160.5h1.3v1.3h-1.3zM403.8 151.0h1.3v1.3h-1.3zM401.4 155.5h1.3v1.3h-1.3zM397.3 158.2h1.3v1.3h-1.3zM393.2 135.4h1.3v1.3h-1.3zM384.2 151.0h1.3v1.3h-1.3zM390.9 144.9h1.3v1.3h-1.3zM403.4 132.8h1.3v1.3h-1.3zM392.5 147.1h1.3v1.3h-1.3zM404.6 130.7h1.3v1.3h-1.3zM403.2 154.7h1.3v1.3h-1.3zM383.0 151.5h1.3v1.3h-1.3zM404.1 162.0h1.3v1.3h-1.3zM394.0 140.9h1.3v1.3h-1.3zM403.5 124.7h1.3v1.3h-1.3zM399.3 163.5h1.3v1.3h-1.3zM399.4 160.9h1.3v1.3h-1.3zM397.3 130.6h1.3v1.3h-1.3zM405.4 128.2h1.3v1.3h-1.3zM385.6 158.6h1.3v1.3h-1.3zM405.2 153.6h1.3v1.3h-1.3zM400.9 166.8h1.3v1.3h-1.3zM404.2 132.1h1.3v1.3h-1.3zM398.3 145.9h1.3v1.3h-1.3zM399.0 140.9h1.3v1.3h-1.3zM405.3 153.0h1.3v1.3h-1.3zM402.8 150.6h1.3v1.3h-1.3zM399.4 124.9h1.3v1.3h-1.3zM401.1 155.1h1.3v1.3h-1.3zM404.3 160.2h1.3v1.3h-1.3zM393.9 141.4h1.3v1.3h-1.3zM398.4 127.7h1.3v1.3h-1.3zM395.5 166.7h1.3v1.3h-1.3zM403.4 135.6h1.3v1.3h-1.3zM402.9 136.4h1.3v1.3h-1.3zM394.8 142.0h1.3v1.3h-1.3zM404.7 133.6h1.3v1.3h-1.3zM397.6 124.6h1.3v1.3h-1.3zM402.2 141.0h1.3v1.3h-1.3zM404.7 150.3h1.3v1.3h-1.3zM402.8 156.9h1.3v1.3h-1.3zM393.5 146.6h1.3v1.3h-1.3zM396.3 163.8h1.3v1.3h-1.3zM393.5 163.9h1.3v1.3h-1.3zM404.1 128.8h1.3v1.3h-1.3zM403.5 126.3h1.3v1.3h-1.3zM397.0 165.2h1.3v1.3h-1.3zM394.6 145.0h1.3v1.3h-1.3zM400.2 147.2h1.3v1.3h-1.3zM396.8 158.6h1.3v1.3h-1.3zM390.0 164.0h1.3v1.3h-1.3zM401.3 136.6h1.3v1.3h-1.3zM405.2 147.8h1.3v1.3h-1.3zM395.9 160.6h1.3v1.3h-1.3zM403.7 155.5h1.3v1.3h-1.3zM403.9 149.7h1.3v1.3h-1.3zM404.5 161.3h1.3v1.3h-1.3zM396.5 157.7h1.3v1.3h-1.3zM390.0 154.6h1.3v1.3h-1.3zM401.4 156.9h1.3v1.3h-1.3zM402.1 131.3h1.3v1.3h-1.3zM399.9 166.6h1.3v1.3h-1.3zM402.4 166.2h1.3v1.3h-1.3zM388.5 163.7h1.3v1.3h-1.3zM390.2 163.5h1.3v1.3h-1.3zM400.6 133.1h1.3v1.3h-1.3zM402.5 136.9h1.3v1.3h-1.3zM402.8 154.8h1.3v1.3h-1.3zM391.9 163.4h1.3v1.3h-1.3zM403.3 163.1h1.3v1.3h-1.3zM405.2 161.2h1.3v1.3h-1.3zM404.2 133.8h1.3v1.3h-1.3zM400.5 128.7h1.3v1.3h-1.3zM403.1 147.3h1.3v1.3h-1.3zM390.8 145.8h1.3v1.3h-1.3zM390.8 140.3h1.3v1.3h-1.3zM398.2 159.2h1.3v1.3h-1.3zM398.6 144.8h1.3v1.3h-1.3zM393.8 138.1h1.3v1.3h-1.3zM405.5 141.6h1.3v1.3h-1.3zM396.0 150.4h1.3v1.3h-1.3zM403.9 163.4h1.3v1.3h-1.3zM395.9 148.5h1.3v1.3h-1.3zM403.6 142.5h1.3v1.3h-1.3zM384.5 152.7h1.3v1.3h-1.3zM400.1 128.7h1.3v1.3h-1.3zM401.6 165.4h1.3v1.3h-1.3zM390.2 167.3h1.3v1.3h-1.3zM394.1 161.9h1.3v1.3h-1.3zM402.7 126.5h1.3v1.3h-1.3zM395.1 158.2h1.3v1.3h-1.3zM393.3 165.5h1.3v1.3h-1.3zM395.0 130.7h1.3v1.3h-1.3zM396.1 138.7h1.3v1.3h-1.3zM398.8 137.4h1.3v1.3h-1.3zM397.9 126.3h1.3v1.3h-1.3zM396.7 130.5h1.3v1.3h-1.3zM400.0 150.7h1.3v1.3h-1.3zM401.3 166.3h1.3v1.3h-1.3zM404.5 163.1h1.3v1.3h-1.3zM388.7 164.6h1.3v1.3h-1.3zM405.5 148.1h1.3v1.3h-1.3zM401.0 153.7h1.3v1.3h-1.3zM399.5 151.7h1.3v1.3h-1.3zM402.3 136.4h1.3v1.3h-1.3zM403.7 128.3h1.3v1.3h-1.3zM401.2 138.5h1.3v1.3h-1.3zM399.6 148.5h1.3v1.3h-1.3zM405.6 145.1h1.3v1.3h-1.3zM404.9 162.8h1.3v1.3h-1.3zM401.2 134.9h1.3v1.3h-1.3zM396.3 163.3h1.3v1.3h-1.3zM400.5 162.8h1.3v1.3h-1.3zM395.9 164.3h1.3v1.3h-1.3zM400.3 167.2h1.3v1.3h-1.3zM401.3 167.7h1.3v1.3h-1.3zM393.8 152.5h1.3v1.3h-1.3zM395.9 167.3h1.3v1.3h-1.3zM381.4 154.9h1.3v1.3h-1.3zM401.1 162.4h1.3v1.3h-1.3zM399.0 166.7h1.3v1.3h-1.3zM405.0 143.7h1.3v1.3h-1.3zM403.4 157.1h1.3v1.3h-1.3zM404.1 138.0h1.3v1.3h-1.3zM403.0 160.2h1.3v1.3h-1.3zM400.1 126.3h1.3v1.3h-1.3zM405.7 159.1h1.3v1.3h-1.3zM400.8 133.2h1.3v1.3h-1.3zM403.8 143.4h1.3v1.3h-1.3zM403.0 140.5h1.3v1.3h-1.3zM405.4 124.1h1.3v1.3h-1.3zM405.2 167.6h1.3v1.3h-1.3zM402.2 164.2h1.3v1.3h-1.3zM405.1 142.0h1.3v1.3h-1.3zM401.2 128.2h1.3v1.3h-1.3zM382.8 151.1h1.3v1.3h-1.3zM392.7 133.8h1.3v1.3h-1.3zM392.1 167.4h1.3v1.3h-1.3zM402.5 144.5h1.3v1.3h-1.3zM404.3 159.4h1.3v1.3h-1.3zM401.3 131.1h1.3v1.3h-1.3zM399.2 157.7h1.3v1.3h-1.3zM401.6 140.6h1.3v1.3h-1.3zM403.9 137.4h1.3v1.3h-1.3zM401.2 137.7h1.3v1.3h-1.3zM400.0 126.8h1.3v1.3h-1.3zM399.7 156.4h1.3v1.3h-1.3zM403.3 135.2h1.3v1.3h-1.3zM405.0 150.9h1.3v1.3h-1.3zM401.5 138.4h1.3v1.3h-1.3zM403.8 144.6h1.3v1.3h-1.3zM397.2 150.6h1.3v1.3h-1.3zM405.1 164.8h1.3v1.3h-1.3zM403.8 151.6h1.3v1.3h-1.3zM404.4 136.3h1.3v1.3h-1.3zM401.4 161.7h1.3v1.3h-1.3zM398.1 131.5h1.3v1.3h-1.3zM396.6 129.8h1.3v1.3h-1.3zM393.9 152.4h1.3v1.3h-1.3zM396.0 157.7h1.3v1.3h-1.3zM396.9 156.1h1.3v1.3h-1.3zM403.5 124.9h1.3v1.3h-1.3zM400.8 166.4h1.3v1.3h-1.3zM403.4 167.1h1.3v1.3h-1.3zM405.6 142.3h1.3v1.3h-1.3zM402.2 164.8h1.3v1.3h-1.3zM404.7 142.5h1.3v1.3h-1.3zM404.9 162.0h1.3v1.3h-1.3zM404.5 124.2h1.3v1.3h-1.3zM393.9 153.8h1.3v1.3h-1.3zM396.6 135.1h1.3v1.3h-1.3zM396.6 148.2h1.3v1.3h-1.3zM403.8 163.6h1.3v1.3h-1.3zM403.5 132.5h1.3v1.3h-1.3zM376.8 166.2h1.3v1.3h-1.3zM401.5 163.2h1.3v1.3h-1.3zM400.4 128.6h1.3v1.3h-1.3zM399.6 162.3h1.3v1.3h-1.3zM399.2 132.3h1.3v1.3h-1.3zM399.4 136.2h1.3v1.3h-1.3zM401.3 129.9h1.3v1.3h-1.3zM395.5 152.6h1.3v1.3h-1.3zM398.0 166.2h1.3v1.3h-1.3zM398.5 133.2h1.3v1.3h-1.3zM394.1 162.9h1.3v1.3h-1.3zM403.8 138.0h1.3v1.3h-1.3zM398.3 167.2h1.3v1.3h-1.3zM394.9 167.4h1.3v1.3h-1.3zM404.9 147.3h1.3v1.3h-1.3zM397.8 142.3h1.3v1.3h-1.3zM404.0 144.6h1.3v1.3h-1.3zM401.6 122.5h1.3v1.3h-1.3zM401.9 157.6h1.3v1.3h-1.3zM403.8 162.5h1.3v1.3h-1.3zM389.7 164.4h1.3v1.3h-1.3zM401.9 129.7h1.3v1.3h-1.3zM397.5 123.1h1.3v1.3h-1.3zM393.0 148.2h1.3v1.3h-1.3zM386.6 153.9h1.3v1.3h-1.3zM402.2 125.3h1.3v1.3h-1.3zM404.4 150.7h1.3v1.3h-1.3zM401.1 122.4h1.3v1.3h-1.3zM402.5 127.0h1.3v1.3h-1.3zM381.3 163.7h1.3v1.3h-1.3zM404.1 166.7h1.3v1.3h-1.3zM398.6 149.0h1.3v1.3h-1.3zM393.4 142.8h1.3v1.3h-1.3zM401.4 160.1h1.3v1.3h-1.3zM397.2 153.2h1.3v1.3h-1.3zM396.5 137.0h1.3v1.3h-1.3zM398.8 159.7h1.3v1.3h-1.3zM400.9 154.2h1.3v1.3h-1.3zM394.7 167.2h1.3v1.3h-1.3zM395.7 139.5h1.3v1.3h-1.3zM396.1 123.7h1.3v1.3h-1.3zM403.2 156.0h1.3v1.3h-1.3zM401.1 164.5h1.3v1.3h-1.3zM396.9 148.7h1.3v1.3h-1.3zM395.2 147.9h1.3v1.3h-1.3zM390.2 159.8h1.3v1.3h-1.3zM393.3 151.7h1.3v1.3h-1.3zM393.7 159.3h1.3v1.3h-1.3zM405.2 161.5h1.3v1.3h-1.3zM404.2 165.6h1.3v1.3h-1.3zM400.7 148.4h1.3v1.3h-1.3zM404.2 167.5h1.3v1.3h-1.3zM387.8 135.7h1.3v1.3h-1.3zM401.9 134.8h1.3v1.3h-1.3zM402.8 123.5h1.3v1.3h-1.3zM404.1 167.3h1.3v1.3h-1.3zM393.9 157.5h1.3v1.3h-1.3zM401.2 166.7h1.3v1.3h-1.3zM405.4 158.7h1.3v1.3h-1.3zM388.9 153.9h1.3v1.3h-1.3zM395.1 160.8h1.3v1.3h-1.3zM403.5 143.4h1.3v1.3h-1.3zM394.3 140.9h1.3v1.3h-1.3zM395.7 161.3h1.3v1.3h-1.3zM404.7 165.4h1.3v1.3h-1.3zM390.4 149.5h1.3v1.3h-1.3zM401.1 132.2h1.3v1.3h-1.3zM402.9 164.3h1.3v1.3h-1.3zM390.3 166.8h1.3v1.3h-1.3zM390.7 151.5h1.3v1.3h-1.3zM393.4 141.4h1.3v1.3h-1.3zM399.4 144.7h1.3v1.3h-1.3zM400.0 154.1h1.3v1.3h-1.3zM404.9 163.8h1.3v1.3h-1.3zM396.5 140.4h1.3v1.3h-1.3zM405.1 154.3h1.3v1.3h-1.3zM388.7 156.9h1.3v1.3h-1.3zM401.1 152.3h1.3v1.3h-1.3zM403.3 124.7h1.3v1.3h-1.3zM399.5 148.9h1.3v1.3h-1.3zM395.2 154.2h1.3v1.3h-1.3zM397.9 126.4h1.3v1.3h-1.3zM395.6 144.2h1.3v1.3h-1.3zM403.6 147.5h1.3v1.3h-1.3zM403.1 150.6h1.3v1.3h-1.3zM397.5 127.5h1.3v1.3h-1.3zM400.4 166.5h1.3v1.3h-1.3zM398.4 149.2h1.3v1.3h-1.3zM398.1 128.5h1.3v1.3h-1.3zM401.9 163.3h1.3v1.3h-1.3zM403.5 127.0h1.3v1.3h-1.3zM400.3 132.4h1.3v1.3h-1.3zM402.5 158.5h1.3v1.3h-1.3zM393.5 125.6h1.3v1.3h-1.3zM402.7 161.5h1.3v1.3h-1.3zM404.6 166.2h1.3v1.3h-1.3zM404.4 163.3h1.3v1.3h-1.3zM403.7 163.9h1.3v1.3h-1.3zM405.5 164.6h1.3v1.3h-1.3zM404.7 142.7h1.3v1.3h-1.3zM401.7 133.7h1.3v1.3h-1.3zM401.6 167.4h1.3v1.3h-1.3zM403.6 167.5h1.3v1.3h-1.3zM405.6 162.9h1.3v1.3h-1.3zM404.9 153.7h1.3v1.3h-1.3zM404.1 165.9h1.3v1.3h-1.3zM406.0 123.4h1.3v1.3h-1.3zM408.3 147.2h1.3v1.3h-1.3zM404.1 148.8h1.3v1.3h-1.3zM404.2 141.4h1.3v1.3h-1.3zM404.9 165.2h1.3v1.3h-1.3zM406.5 128.8h1.3v1.3h-1.3zM405.7 167.3h1.3v1.3h-1.3zM403.3 166.7h1.3v1.3h-1.3zM405.1 159.4h1.3v1.3h-1.3zM403.7 166.2h1.3v1.3h-1.3zM404.8 165.9h1.3v1.3h-1.3zM404.8 121.3h1.3v1.3h-1.3zM405.1 167.4h1.3v1.3h-1.3zM407.3 163.5h1.3v1.3h-1.3zM405.5 160.5h1.3v1.3h-1.3zM403.2 145.4h1.3v1.3h-1.3zM405.2 161.6h1.3v1.3h-1.3zM404.0 142.3h1.3v1.3h-1.3zM402.1 139.5h1.3v1.3h-1.3zM403.0 154.0h1.3v1.3h-1.3zM400.8 157.6h1.3v1.3h-1.3zM403.1 164.6h1.3v1.3h-1.3zM406.6 151.5h1.3v1.3h-1.3zM402.5 165.1h1.3v1.3h-1.3zM404.4 133.5h1.3v1.3h-1.3zM404.9 164.5h1.3v1.3h-1.3zM405.4 166.8h1.3v1.3h-1.3zM403.5 166.6h1.3v1.3h-1.3zM405.7 166.7h1.3v1.3h-1.3zM401.7 146.6h1.3v1.3h-1.3zM403.8 154.5h1.3v1.3h-1.3zM403.0 153.9h1.3v1.3h-1.3zM405.1 157.7h1.3v1.3h-1.3zM405.5 161.4h1.3v1.3h-1.3zM402.8 155.3h1.3v1.3h-1.3zM404.8 160.3h1.3v1.3h-1.3zM407.5 151.2h1.3v1.3h-1.3zM403.3 130.6h1.3v1.3h-1.3zM402.7 134.1h1.3v1.3h-1.3zM408.1 162.8h1.3v1.3h-1.3zM401.1 166.4h1.3v1.3h-1.3zM403.7 160.8h1.3v1.3h-1.3zM402.9 148.9h1.3v1.3h-1.3zM407.9 157.3h1.3v1.3h-1.3zM400.5 156.4h1.3v1.3h-1.3zM403.1 154.4h1.3v1.3h-1.3zM403.3 157.7h1.3v1.3h-1.3zM403.3 158.2h1.3v1.3h-1.3zM403.9 132.6h1.3v1.3h-1.3zM403.2 131.7h1.3v1.3h-1.3zM405.3 159.5h1.3v1.3h-1.3zM403.6 164.2h1.3v1.3h-1.3zM405.0 153.5h1.3v1.3h-1.3zM402.6 129.9h1.3v1.3h-1.3zM402.9 144.9h1.3v1.3h-1.3zM404.8 155.3h1.3v1.3h-1.3zM402.1 159.1h1.3v1.3h-1.3zM405.4 128.7h1.3v1.3h-1.3zM404.4 151.9h1.3v1.3h-1.3zM404.7 160.0h1.3v1.3h-1.3zM404.2 150.5h1.3v1.3h-1.3zM404.3 161.4h1.3v1.3h-1.3zM405.7 162.5h1.3v1.3h-1.3zM404.1 119.8h1.3v1.3h-1.3zM403.5 154.1h1.3v1.3h-1.3zM400.7 133.8h1.3v1.3h-1.3zM401.5 121.7h1.3v1.3h-1.3zM404.6 166.4h1.3v1.3h-1.3zM402.4 128.0h1.3v1.3h-1.3zM405.0 126.2h1.3v1.3h-1.3zM404.9 162.4h1.3v1.3h-1.3zM406.6 151.3h1.3v1.3h-1.3zM405.2 167.2h1.3v1.3h-1.3zM404.0 166.9h1.3v1.3h-1.3zM403.5 165.0h1.3v1.3h-1.3zM405.3 155.1h1.3v1.3h-1.3zM402.1 158.0h1.3v1.3h-1.3zM402.0 157.8h1.3v1.3h-1.3zM406.2 166.9h1.3v1.3h-1.3zM403.4 167.2h1.3v1.3h-1.3zM403.9 157.6h1.3v1.3h-1.3zM398.7 167.6h1.3v1.3h-1.3zM402.1 166.8h1.3v1.3h-1.3zM404.0 135.1h1.3v1.3h-1.3zM401.9 161.1h1.3v1.3h-1.3zM404.8 127.3h1.3v1.3h-1.3zM403.2 164.5h1.3v1.3h-1.3zM404.2 149.1h1.3v1.3h-1.3zM405.6 167.1h1.3v1.3h-1.3zM403.0 167.2h1.3v1.3h-1.3zM400.6 163.8h1.3v1.3h-1.3zM404.4 153.9h1.3v1.3h-1.3zM406.1 162.4h1.3v1.3h-1.3zM403.5 154.4h1.3v1.3h-1.3zM402.7 164.5h1.3v1.3h-1.3zM407.1 166.1h1.3v1.3h-1.3zM402.7 154.3h1.3v1.3h-1.3zM402.7 140.6h1.3v1.3h-1.3zM405.4 122.4h1.3v1.3h-1.3zM401.7 164.5h1.3v1.3h-1.3zM402.5 167.5h1.3v1.3h-1.3zM404.3 129.3h1.3v1.3h-1.3zM405.4 164.2h1.3v1.3h-1.3zM400.3 166.4h1.3v1.3h-1.3zM402.9 121.6h1.3v1.3h-1.3zM404.4 164.9h1.3v1.3h-1.3zM402.2 166.8h1.3v1.3h-1.3zM403.8 134.3h1.3v1.3h-1.3zM402.4 167.5h1.3v1.3h-1.3zM404.7 163.3h1.3v1.3h-1.3zM403.2 163.0h1.3v1.3h-1.3zM402.4 166.6h1.3v1.3h-1.3zM401.8 164.1h1.3v1.3h-1.3zM404.5 163.5h1.3v1.3h-1.3zM404.3 145.7h1.3v1.3h-1.3zM406.1 150.8h1.3v1.3h-1.3zM403.8 165.2h1.3v1.3h-1.3zM402.1 153.9h1.3v1.3h-1.3zM402.5 151.3h1.3v1.3h-1.3zM402.5 166.9h1.3v1.3h-1.3zM401.6 131.0h1.3v1.3h-1.3zM403.9 162.9h1.3v1.3h-1.3zM403.3 124.7h1.3v1.3h-1.3zM402.7 136.1h1.3v1.3h-1.3zM405.6 160.7h1.3v1.3h-1.3zM403.7 165.1h1.3v1.3h-1.3zM402.4 144.5h1.3v1.3h-1.3zM406.0 152.0h1.3v1.3h-1.3zM400.7 166.7h1.3v1.3h-1.3zM403.2 156.4h1.3v1.3h-1.3zM404.9 153.9h1.3v1.3h-1.3zM402.4 155.8h1.3v1.3h-1.3zM404.2 152.0h1.3v1.3h-1.3zM402.8 167.0h1.3v1.3h-1.3zM402.5 141.3h1.3v1.3h-1.3zM403.3 125.9h1.3v1.3h-1.3zM399.1 127.2h1.3v1.3h-1.3zM402.5 134.0h1.3v1.3h-1.3zM403.7 142.3h1.3v1.3h-1.3zM404.0 147.0h1.3v1.3h-1.3zM402.7 143.3h1.3v1.3h-1.3zM405.2 152.7h1.3v1.3h-1.3zM403.1 163.4h1.3v1.3h-1.3zM401.8 159.5h1.3v1.3h-1.3zM402.4 166.7h1.3v1.3h-1.3zM403.3 144.0h1.3v1.3h-1.3zM402.9 165.2h1.3v1.3h-1.3zM404.4 158.8h1.3v1.3h-1.3zM404.2 152.3h1.3v1.3h-1.3zM404.1 156.2h1.3v1.3h-1.3zM402.8 164.6h1.3v1.3h-1.3zM403.7 166.8h1.3v1.3h-1.3zM406.6 154.0h1.3v1.3h-1.3zM402.2 154.9h1.3v1.3h-1.3zM404.9 159.1h1.3v1.3h-1.3zM404.3 161.6h1.3v1.3h-1.3zM405.5 166.5h1.3v1.3h-1.3zM403.2 157.9h1.3v1.3h-1.3zM404.8 163.0h1.3v1.3h-1.3zM403.5 152.5h1.3v1.3h-1.3zM404.1 155.1h1.3v1.3h-1.3zM404.8 138.7h1.3v1.3h-1.3zM404.4 143.4h1.3v1.3h-1.3zM403.3 145.4h1.3v1.3h-1.3zM404.0 142.1h1.3v1.3h-1.3zM405.5 161.3h1.3v1.3h-1.3zM405.0 141.2h1.3v1.3h-1.3zM405.8 162.8h1.3v1.3h-1.3zM401.5 155.2h1.3v1.3h-1.3zM406.1 142.5h1.3v1.3h-1.3zM403.1 155.4h1.3v1.3h-1.3zM402.2 137.4h1.3v1.3h-1.3zM401.7 163.2h1.3v1.3h-1.3zM403.2 159.4h1.3v1.3h-1.3zM404.9 167.5h1.3v1.3h-1.3zM405.8 141.5h1.3v1.3h-1.3zM406.8 155.3h1.3v1.3h-1.3zM402.8 143.8h1.3v1.3h-1.3zM405.7 159.9h1.3v1.3h-1.3zM404.3 142.5h1.3v1.3h-1.3zM404.0 119.9h1.3v1.3h-1.3zM404.7 142.9h1.3v1.3h-1.3zM403.7 156.1h1.3v1.3h-1.3zM402.8 153.7h1.3v1.3h-1.3zM403.0 147.6h1.3v1.3h-1.3zM403.2 166.1h1.3v1.3h-1.3zM404.4 150.0h1.3v1.3h-1.3zM403.2 167.6h1.3v1.3h-1.3zM402.4 139.2h1.3v1.3h-1.3zM404.9 150.7h1.3v1.3h-1.3zM403.7 163.0h1.3v1.3h-1.3zM403.7 162.5h1.3v1.3h-1.3zM404.0 145.7h1.3v1.3h-1.3zM404.1 154.8h1.3v1.3h-1.3zM404.5 161.2h1.3v1.3h-1.3zM403.6 137.6h1.3v1.3h-1.3zM404.4 159.4h1.3v1.3h-1.3zM402.1 147.6h1.3v1.3h-1.3zM404.0 161.3h1.3v1.3h-1.3zM405.5 137.8h1.3v1.3h-1.3zM404.0 160.7h1.3v1.3h-1.3zM405.4 167.0h1.3v1.3h-1.3zM401.9 161.6h1.3v1.3h-1.3zM402.9 151.3h1.3v1.3h-1.3zM404.1 162.3h1.3v1.3h-1.3zM403.8 160.9h1.3v1.3h-1.3zM402.6 164.7h1.3v1.3h-1.3zM403.2 141.2h1.3v1.3h-1.3zM402.4 151.1h1.3v1.3h-1.3zM401.5 154.7h1.3v1.3h-1.3zM403.5 158.2h1.3v1.3h-1.3zM404.3 138.4h1.3v1.3h-1.3zM406.7 155.5h1.3v1.3h-1.3zM405.9 152.1h1.3v1.3h-1.3zM403.0 150.0h1.3v1.3h-1.3zM404.1 165.3h1.3v1.3h-1.3zM404.6 160.1h1.3v1.3h-1.3zM403.8 155.5h1.3v1.3h-1.3zM403.8 156.3h1.3v1.3h-1.3zM407.4 158.6h1.3v1.3h-1.3zM403.6 167.0h1.3v1.3h-1.3zM403.8 129.7h1.3v1.3h-1.3zM406.1 123.3h1.3v1.3h-1.3zM404.5 161.9h1.3v1.3h-1.3zM403.3 156.5h1.3v1.3h-1.3zM405.1 166.2h1.3v1.3h-1.3zM407.3 149.9h1.3v1.3h-1.3zM406.0 166.7h1.3v1.3h-1.3zM406.1 164.8h1.3v1.3h-1.3zM405.1 154.3h1.3v1.3h-1.3zM401.5 140.6h1.3v1.3h-1.3zM403.6 167.2h1.3v1.3h-1.3zM399.6 147.3h1.3v1.3h-1.3zM403.4 167.6h1.3v1.3h-1.3zM405.3 147.1h1.3v1.3h-1.3zM403.0 144.9h1.3v1.3h-1.3zM402.4 153.0h1.3v1.3h-1.3zM404.9 151.1h1.3v1.3h-1.3zM402.8 167.4h1.3v1.3h-1.3zM406.2 156.5h1.3v1.3h-1.3zM402.3 163.2h1.3v1.3h-1.3zM405.6 142.6h1.3v1.3h-1.3zM404.2 156.4h1.3v1.3h-1.3zM405.2 167.5h1.3v1.3h-1.3zM402.8 151.9h1.3v1.3h-1.3zM403.0 165.0h1.3v1.3h-1.3zM404.6 166.9h1.3v1.3h-1.3zM405.5 163.2h1.3v1.3h-1.3zM402.4 127.4h1.3v1.3h-1.3zM403.2 158.0h1.3v1.3h-1.3zM403.5 167.3h1.3v1.3h-1.3zM401.1 143.9h1.3v1.3h-1.3zM404.0 162.8h1.3v1.3h-1.3zM404.9 164.7h1.3v1.3h-1.3zM402.1 150.9h1.3v1.3h-1.3zM401.7 166.8h1.3v1.3h-1.3zM402.2 140.8h1.3v1.3h-1.3zM404.0 155.4h1.3v1.3h-1.3zM404.3 158.0h1.3v1.3h-1.3zM405.3 148.8h1.3v1.3h-1.3zM404.7 144.7h1.3v1.3h-1.3zM403.2 126.1h1.3v1.3h-1.3zM402.7 137.8h1.3v1.3h-1.3zM399.4 166.0h1.3v1.3h-1.3zM404.4 140.0h1.3v1.3h-1.3zM403.3 151.5h1.3v1.3h-1.3zM405.9 162.2h1.3v1.3h-1.3zM401.0 157.9h1.3v1.3h-1.3zM404.4 165.9h1.3v1.3h-1.3zM406.7 158.3h1.3v1.3h-1.3zM400.3 161.6h1.3v1.3h-1.3zM405.1 163.2h1.3v1.3h-1.3zM405.1 167.3h1.3v1.3h-1.3zM403.3 162.5h1.3v1.3h-1.3zM404.7 167.2h1.3v1.3h-1.3zM403.0 164.1h1.3v1.3h-1.3zM404.9 163.9h1.3v1.3h-1.3zM402.9 161.9h1.3v1.3h-1.3zM401.8 164.2h1.3v1.3h-1.3zM403.2 159.1h1.3v1.3h-1.3zM402.8 155.2h1.3v1.3h-1.3zM406.7 141.9h1.3v1.3h-1.3zM404.9 135.8h1.3v1.3h-1.3zM404.3 164.5h1.3v1.3h-1.3zM407.2 165.7h1.3v1.3h-1.3zM403.1 121.5h1.3v1.3h-1.3zM405.0 153.1h1.3v1.3h-1.3zM404.9 166.8h1.3v1.3h-1.3zM402.8 162.9h1.3v1.3h-1.3zM407.5 164.6h1.3v1.3h-1.3zM402.9 119.5h1.3v1.3h-1.3zM406.0 166.7h1.3v1.3h-1.3zM402.6 124.8h1.3v1.3h-1.3zM404.6 148.4h1.3v1.3h-1.3zM403.8 151.5h1.3v1.3h-1.3zM404.6 152.4h1.3v1.3h-1.3zM404.8 167.5h1.3v1.3h-1.3zM402.7 161.2h1.3v1.3h-1.3zM402.9 166.6h1.3v1.3h-1.3zM405.6 158.8h1.3v1.3h-1.3zM403.3 161.0h1.3v1.3h-1.3zM405.6 139.8h1.3v1.3h-1.3zM404.0 157.8h1.3v1.3h-1.3zM401.9 166.4h1.3v1.3h-1.3zM404.8 165.3h1.3v1.3h-1.3zM402.2 159.6h1.3v1.3h-1.3zM404.6 154.9h1.3v1.3h-1.3zM402.5 160.2h1.3v1.3h-1.3zM405.8 160.1h1.3v1.3h-1.3zM403.9 156.3h1.3v1.3h-1.3zM402.0 155.7h1.3v1.3h-1.3zM404.3 144.6h1.3v1.3h-1.3zM404.5 164.9h1.3v1.3h-1.3zM403.7 130.1h1.3v1.3h-1.3zM404.1 165.2h1.3v1.3h-1.3zM402.5 167.3h1.3v1.3h-1.3zM405.4 153.9h1.3v1.3h-1.3zM401.1 128.4h1.3v1.3h-1.3zM403.2 166.9h1.3v1.3h-1.3zM404.3 157.3h1.3v1.3h-1.3zM405.5 142.6h1.3v1.3h-1.3zM398.0 147.1h1.3v1.3h-1.3zM403.1 128.7h1.3v1.3h-1.3zM403.6 126.1h1.3v1.3h-1.3zM406.4 167.1h1.3v1.3h-1.3zM405.3 162.5h1.3v1.3h-1.3zM404.8 147.9h1.3v1.3h-1.3zM404.0 144.6h1.3v1.3h-1.3zM400.0 167.5h1.3v1.3h-1.3zM403.5 145.3h1.3v1.3h-1.3zM401.7 142.6h1.3v1.3h-1.3zM401.9 145.8h1.3v1.3h-1.3zM404.5 166.7h1.3v1.3h-1.3zM405.6 164.2h1.3v1.3h-1.3zM405.9 151.8h1.3v1.3h-1.3zM406.0 157.5h1.3v1.3h-1.3zM403.3 154.7h1.3v1.3h-1.3zM403.0 143.7h1.3v1.3h-1.3zM404.6 137.8h1.3v1.3h-1.3zM402.7 163.7h1.3v1.3h-1.3zM405.2 165.4h1.3v1.3h-1.3zM402.7 159.4h1.3v1.3h-1.3zM403.3 154.7h1.3v1.3h-1.3zM402.4 161.0h1.3v1.3h-1.3zM404.0 140.8h1.3v1.3h-1.3zM402.4 167.4h1.3v1.3h-1.3zM402.4 143.6h1.3v1.3h-1.3zM402.8 158.0h1.3v1.3h-1.3zM405.0 164.2h1.3v1.3h-1.3zM404.6 151.2h1.3v1.3h-1.3zM406.0 160.1h1.3v1.3h-1.3zM403.0 157.1h1.3v1.3h-1.3zM402.0 148.1h1.3v1.3h-1.3zM402.4 155.7h1.3v1.3h-1.3zM400.7 154.6h1.3v1.3h-1.3zM403.9 164.8h1.3v1.3h-1.3zM402.8 139.2h1.3v1.3h-1.3zM406.8 167.4h1.3v1.3h-1.3zM401.4 156.1h1.3v1.3h-1.3zM404.6 164.5h1.3v1.3h-1.3zM405.1 163.0h1.3v1.3h-1.3zM405.3 152.3h1.3v1.3h-1.3zM404.2 166.7h1.3v1.3h-1.3zM404.7 157.2h1.3v1.3h-1.3zM403.2 152.8h1.3v1.3h-1.3zM406.1 136.5h1.3v1.3h-1.3zM405.5 147.4h1.3v1.3h-1.3zM405.7 158.1h1.3v1.3h-1.3zM406.2 167.4h1.3v1.3h-1.3zM407.6 153.1h1.3v1.3h-1.3zM410.2 154.8h1.3v1.3h-1.3zM405.8 157.1h1.3v1.3h-1.3zM408.3 162.1h1.3v1.3h-1.3zM406.8 161.6h1.3v1.3h-1.3zM405.8 156.5h1.3v1.3h-1.3zM405.9 167.5h1.3v1.3h-1.3zM407.5 167.3h1.3v1.3h-1.3zM408.1 164.5h1.3v1.3h-1.3zM406.2 148.9h1.3v1.3h-1.3zM406.3 146.5h1.3v1.3h-1.3zM406.9 164.7h1.3v1.3h-1.3zM405.7 163.5h1.3v1.3h-1.3zM408.4 164.3h1.3v1.3h-1.3zM408.9 155.0h1.3v1.3h-1.3zM408.9 166.3h1.3v1.3h-1.3zM407.2 166.8h1.3v1.3h-1.3zM408.9 139.3h1.3v1.3h-1.3zM407.2 153.4h1.3v1.3h-1.3zM406.1 163.9h1.3v1.3h-1.3zM406.8 165.7h1.3v1.3h-1.3zM408.8 143.1h1.3v1.3h-1.3zM407.8 160.8h1.3v1.3h-1.3zM405.9 135.1h1.3v1.3h-1.3zM409.1 138.9h1.3v1.3h-1.3zM405.9 167.3h1.3v1.3h-1.3zM407.9 151.0h1.3v1.3h-1.3zM406.0 134.9h1.3v1.3h-1.3zM410.9 149.7h1.3v1.3h-1.3zM409.4 161.8h1.3v1.3h-1.3zM405.9 141.8h1.3v1.3h-1.3zM407.6 161.5h1.3v1.3h-1.3zM408.2 164.7h1.3v1.3h-1.3zM409.0 134.4h1.3v1.3h-1.3zM405.7 158.2h1.3v1.3h-1.3zM408.0 165.4h1.3v1.3h-1.3z" fill="#e8240c" opacity="0.88"/>
<path d="M424.1 96.5h1.1v1.1h-1.1zM420.9 101.3h1.1v1.1h-1.1zM429.0 106.2h1.1v1.1h-1.1zM448.4 107.8h1.1v1.1h-1.1zM451.6 104.6h1.1v1.1h-1.1zM412.8 112.6h1.1v1.1h-1.1zM414.4 117.4h1.1v1.1h-1.1zM411.2 139.9h1.1v1.1h-1.1zM409.6 127.1h1.1v1.1h-1.1z" fill="#ee4030" opacity="0.75"/>
<path d="M394.3 166.3h1.3v1.3h-1.3zM390.1 164.1h1.3v1.3h-1.3zM397.0 160.7h1.3v1.3h-1.3zM391.6 160.1h1.3v1.3h-1.3zM406.2 154.4h1.3v1.3h-1.3zM402.2 163.5h1.3v1.3h-1.3zM402.4 161.2h1.3v1.3h-1.3zM390.3 160.0h1.3v1.3h-1.3zM400.5 164.3h1.3v1.3h-1.3zM392.0 165.3h1.3v1.3h-1.3zM395.9 164.3h1.3v1.3h-1.3zM391.5 164.0h1.3v1.3h-1.3zM396.7 165.8h1.3v1.3h-1.3zM379.1 166.9h1.3v1.3h-1.3zM405.2 167.4h1.3v1.3h-1.3zM404.0 165.4h1.3v1.3h-1.3zM403.0 158.8h1.3v1.3h-1.3zM403.9 165.8h1.3v1.3h-1.3zM396.6 162.4h1.3v1.3h-1.3zM391.1 163.7h1.3v1.3h-1.3zM406.3 166.4h1.3v1.3h-1.3zM399.7 153.3h1.3v1.3h-1.3zM390.6 164.3h1.3v1.3h-1.3zM385.3 166.2h1.3v1.3h-1.3zM386.8 163.8h1.3v1.3h-1.3zM394.6 167.0h1.3v1.3h-1.3zM400.7 163.8h1.3v1.3h-1.3zM397.5 161.8h1.3v1.3h-1.3zM405.4 164.2h1.3v1.3h-1.3zM403.5 156.2h1.3v1.3h-1.3zM406.3 163.1h1.3v1.3h-1.3zM400.0 163.5h1.3v1.3h-1.3zM392.4 166.9h1.3v1.3h-1.3zM389.8 161.7h1.3v1.3h-1.3zM391.9 163.8h1.3v1.3h-1.3zM402.0 167.3h1.3v1.3h-1.3zM392.3 167.4h1.3v1.3h-1.3zM402.4 163.9h1.3v1.3h-1.3zM397.3 164.2h1.3v1.3h-1.3zM378.0 165.6h1.3v1.3h-1.3zM399.3 162.1h1.3v1.3h-1.3zM405.8 167.1h1.3v1.3h-1.3zM383.0 166.2h1.3v1.3h-1.3zM397.0 165.9h1.3v1.3h-1.3zM405.5 166.2h1.3v1.3h-1.3zM395.2 158.7h1.3v1.3h-1.3zM401.3 165.2h1.3v1.3h-1.3zM397.9 167.5h1.3v1.3h-1.3zM404.2 167.5h1.3v1.3h-1.3zM405.9 165.4h1.3v1.3h-1.3zM393.4 165.6h1.3v1.3h-1.3zM387.0 167.5h1.3v1.3h-1.3zM404.1 162.9h1.3v1.3h-1.3zM406.1 163.4h1.3v1.3h-1.3zM401.9 167.2h1.3v1.3h-1.3zM400.0 162.2h1.3v1.3h-1.3zM403.3 159.1h1.3v1.3h-1.3zM397.8 163.3h1.3v1.3h-1.3zM395.7 166.3h1.3v1.3h-1.3zM401.7 164.6h1.3v1.3h-1.3zM400.6 165.6h1.3v1.3h-1.3zM403.4 165.4h1.3v1.3h-1.3zM394.3 167.6h1.3v1.3h-1.3zM402.1 163.3h1.3v1.3h-1.3zM400.2 164.3h1.3v1.3h-1.3zM404.6 167.5h1.3v1.3h-1.3zM388.9 166.8h1.3v1.3h-1.3zM393.7 162.8h1.3v1.3h-1.3zM387.2 160.7h1.3v1.3h-1.3zM401.7 165.1h1.3v1.3h-1.3zM404.5 162.3h1.3v1.3h-1.3zM398.1 167.2h1.3v1.3h-1.3zM382.4 166.7h1.3v1.3h-1.3zM393.0 158.9h1.3v1.3h-1.3zM400.0 164.7h1.3v1.3h-1.3zM382.8 166.5h1.3v1.3h-1.3zM406.1 159.9h1.3v1.3h-1.3zM398.6 166.1h1.3v1.3h-1.3zM403.9 158.0h1.3v1.3h-1.3zM402.2 163.6h1.3v1.3h-1.3zM405.4 167.3h1.3v1.3h-1.3zM406.5 163.2h1.3v1.3h-1.3zM403.9 166.5h1.3v1.3h-1.3zM397.0 166.9h1.3v1.3h-1.3zM393.0 167.2h1.3v1.3h-1.3zM404.5 156.5h1.3v1.3h-1.3zM403.9 164.6h1.3v1.3h-1.3zM394.1 166.6h1.3v1.3h-1.3zM381.3 164.0h1.3v1.3h-1.3zM404.9 164.0h1.3v1.3h-1.3zM406.5 167.0h1.3v1.3h-1.3zM402.7 167.6h1.3v1.3h-1.3zM392.6 160.5h1.3v1.3h-1.3zM391.6 167.0h1.3v1.3h-1.3zM400.9 160.8h1.3v1.3h-1.3zM398.0 166.1h1.3v1.3h-1.3zM401.5 163.2h1.3v1.3h-1.3zM401.1 160.3h1.3v1.3h-1.3zM392.1 162.4h1.3v1.3h-1.3zM401.2 166.7h1.3v1.3h-1.3zM403.5 165.4h1.3v1.3h-1.3zM391.8 165.4h1.3v1.3h-1.3zM390.4 156.4h1.3v1.3h-1.3zM388.9 159.9h1.3v1.3h-1.3zM390.3 160.2h1.3v1.3h-1.3zM403.2 167.4h1.3v1.3h-1.3zM390.7 165.6h1.3v1.3h-1.3zM387.7 166.8h1.3v1.3h-1.3zM400.1 167.1h1.3v1.3h-1.3zM397.5 159.3h1.3v1.3h-1.3zM389.0 162.2h1.3v1.3h-1.3zM400.7 159.6h1.3v1.3h-1.3zM393.7 167.0h1.3v1.3h-1.3zM395.5 167.3h1.3v1.3h-1.3zM387.6 162.9h1.3v1.3h-1.3zM400.0 166.9h1.3v1.3h-1.3zM393.4 160.8h1.3v1.3h-1.3zM403.3 163.4h1.3v1.3h-1.3zM389.3 167.4h1.3v1.3h-1.3zM405.8 167.4h1.3v1.3h-1.3zM400.1 162.8h1.3v1.3h-1.3zM396.2 166.6h1.3v1.3h-1.3zM402.5 161.6h1.3v1.3h-1.3zM397.1 166.5h1.3v1.3h-1.3zM387.5 165.5h1.3v1.3h-1.3zM400.1 167.1h1.3v1.3h-1.3zM402.4 160.4h1.3v1.3h-1.3zM395.1 159.6h1.3v1.3h-1.3zM405.3 165.6h1.3v1.3h-1.3zM391.1 167.4h1.3v1.3h-1.3zM396.9 166.8h1.3v1.3h-1.3zM405.2 165.5h1.3v1.3h-1.3zM401.3 167.5h1.3v1.3h-1.3zM404.2 167.5h1.3v1.3h-1.3zM393.8 165.7h1.3v1.3h-1.3zM397.0 163.0h1.3v1.3h-1.3zM388.4 162.5h1.3v1.3h-1.3zM394.7 165.8h1.3v1.3h-1.3zM400.8 163.4h1.3v1.3h-1.3zM398.4 161.6h1.3v1.3h-1.3zM388.2 163.0h1.3v1.3h-1.3zM400.7 166.7h1.3v1.3h-1.3zM399.2 160.6h1.3v1.3h-1.3zM401.2 166.9h1.3v1.3h-1.3zM402.2 167.1h1.3v1.3h-1.3zM381.1 167.4h1.3v1.3h-1.3zM381.3 167.6h1.3v1.3h-1.3zM401.3 163.5h1.3v1.3h-1.3zM406.4 167.1h1.3v1.3h-1.3zM401.1 166.5h1.3v1.3h-1.3zM400.5 167.7h1.3v1.3h-1.3zM400.8 165.7h1.3v1.3h-1.3zM395.6 163.6h1.3v1.3h-1.3zM395.6 167.1h1.3v1.3h-1.3zM381.3 167.3h1.3v1.3h-1.3zM406.3 167.3h1.3v1.3h-1.3zM401.2 165.5h1.3v1.3h-1.3zM389.5 164.8h1.3v1.3h-1.3zM399.8 162.5h1.3v1.3h-1.3zM386.9 165.4h1.3v1.3h-1.3zM397.4 162.3h1.3v1.3h-1.3zM402.6 167.1h1.3v1.3h-1.3zM402.2 165.4h1.3v1.3h-1.3zM389.9 166.8h1.3v1.3h-1.3zM392.0 166.3h1.3v1.3h-1.3zM399.8 166.9h1.3v1.3h-1.3zM393.6 166.8h1.3v1.3h-1.3zM406.4 164.6h1.3v1.3h-1.3zM405.1 156.8h1.3v1.3h-1.3zM390.4 165.7h1.3v1.3h-1.3zM402.1 161.6h1.3v1.3h-1.3zM399.1 167.4h1.3v1.3h-1.3zM383.0 166.9h1.3v1.3h-1.3zM383.6 167.3h1.3v1.3h-1.3zM386.4 164.0h1.3v1.3h-1.3zM402.9 167.2h1.3v1.3h-1.3zM396.9 167.4h1.3v1.3h-1.3zM404.3 166.0h1.3v1.3h-1.3zM384.8 163.1h1.3v1.3h-1.3zM393.3 167.5h1.3v1.3h-1.3zM401.2 162.2h1.3v1.3h-1.3zM392.8 162.3h1.3v1.3h-1.3zM403.7 166.8h1.3v1.3h-1.3zM402.8 165.5h1.3v1.3h-1.3zM391.6 167.0h1.3v1.3h-1.3zM401.3 167.6h1.3v1.3h-1.3zM395.7 164.5h1.3v1.3h-1.3zM403.4 159.9h1.3v1.3h-1.3zM400.6 157.0h1.3v1.3h-1.3zM402.5 157.9h1.3v1.3h-1.3zM402.2 163.6h1.3v1.3h-1.3zM394.7 166.7h1.3v1.3h-1.3zM397.7 167.4h1.3v1.3h-1.3zM394.4 167.6h1.3v1.3h-1.3zM391.2 158.4h1.3v1.3h-1.3zM398.9 163.5h1.3v1.3h-1.3zM400.5 167.1h1.3v1.3h-1.3zM405.0 167.3h1.3v1.3h-1.3zM399.9 167.4h1.3v1.3h-1.3zM405.2 165.4h1.3v1.3h-1.3zM388.0 166.8h1.3v1.3h-1.3zM392.9 167.6h1.3v1.3h-1.3zM387.7 165.4h1.3v1.3h-1.3zM398.3 162.5h1.3v1.3h-1.3zM392.2 167.6h1.3v1.3h-1.3zM399.0 163.0h1.3v1.3h-1.3zM395.7 167.5h1.3v1.3h-1.3zM404.1 164.4h1.3v1.3h-1.3zM405.9 161.0h1.3v1.3h-1.3zM403.0 157.0h1.3v1.3h-1.3zM401.0 165.8h1.3v1.3h-1.3zM400.9 167.6h1.3v1.3h-1.3zM398.3 157.8h1.3v1.3h-1.3zM405.8 165.3h1.3v1.3h-1.3zM400.1 164.9h1.3v1.3h-1.3zM406.1 163.2h1.3v1.3h-1.3zM404.7 163.9h1.3v1.3h-1.3zM406.6 164.9h1.3v1.3h-1.3zM395.6 161.5h1.3v1.3h-1.3zM392.1 166.8h1.3v1.3h-1.3zM385.2 163.5h1.3v1.3h-1.3zM395.1 167.4h1.3v1.3h-1.3zM385.4 167.3h1.3v1.3h-1.3zM393.3 166.5h1.3v1.3h-1.3zM394.8 167.6h1.3v1.3h-1.3zM398.0 166.9h1.3v1.3h-1.3zM405.5 167.0h1.3v1.3h-1.3zM401.3 162.2h1.3v1.3h-1.3zM402.9 159.0h1.3v1.3h-1.3zM405.9 167.3h1.3v1.3h-1.3zM381.1 167.1h1.3v1.3h-1.3zM403.1 161.9h1.3v1.3h-1.3zM406.1 166.3h1.3v1.3h-1.3zM394.7 165.2h1.3v1.3h-1.3zM393.8 163.3h1.3v1.3h-1.3zM389.3 166.9h1.3v1.3h-1.3zM393.6 165.3h1.3v1.3h-1.3zM404.9 164.4h1.3v1.3h-1.3zM404.3 162.9h1.3v1.3h-1.3zM391.4 167.6h1.3v1.3h-1.3zM402.6 166.9h1.3v1.3h-1.3zM402.1 165.1h1.3v1.3h-1.3zM403.4 166.0h1.3v1.3h-1.3zM398.6 162.4h1.3v1.3h-1.3zM402.9 165.9h1.3v1.3h-1.3zM390.3 165.5h1.3v1.3h-1.3zM391.4 167.4h1.3v1.3h-1.3zM378.8 165.0h1.3v1.3h-1.3zM393.2 167.2h1.3v1.3h-1.3zM403.7 162.7h1.3v1.3h-1.3zM387.0 166.7h1.3v1.3h-1.3zM403.4 160.5h1.3v1.3h-1.3zM393.6 161.3h1.3v1.3h-1.3zM398.1 166.8h1.3v1.3h-1.3zM401.1 161.8h1.3v1.3h-1.3zM402.7 165.2h1.3v1.3h-1.3zM398.2 162.3h1.3v1.3h-1.3zM391.2 166.2h1.3v1.3h-1.3zM401.8 160.7h1.3v1.3h-1.3zM404.2 162.7h1.3v1.3h-1.3zM404.4 165.5h1.3v1.3h-1.3zM392.3 166.2h1.3v1.3h-1.3zM405.4 164.5h1.3v1.3h-1.3zM395.7 165.4h1.3v1.3h-1.3zM404.9 165.3h1.3v1.3h-1.3zM397.2 166.6h1.3v1.3h-1.3zM388.6 164.8h1.3v1.3h-1.3zM396.3 165.6h1.3v1.3h-1.3zM403.1 165.2h1.3v1.3h-1.3zM398.3 163.0h1.3v1.3h-1.3zM403.6 167.6h1.3v1.3h-1.3zM399.6 166.4h1.3v1.3h-1.3zM391.3 164.6h1.3v1.3h-1.3zM404.4 167.5h1.3v1.3h-1.3zM406.6 164.2h1.3v1.3h-1.3zM400.0 167.1h1.3v1.3h-1.3zM400.1 165.0h1.3v1.3h-1.3zM397.0 160.3h1.3v1.3h-1.3zM397.4 163.7h1.3v1.3h-1.3zM405.6 159.6h1.3v1.3h-1.3zM405.5 165.3h1.3v1.3h-1.3zM406.2 155.8h1.3v1.3h-1.3zM378.5 165.4h1.3v1.3h-1.3zM393.5 163.0h1.3v1.3h-1.3zM399.1 162.0h1.3v1.3h-1.3zM404.6 167.1h1.3v1.3h-1.3zM403.4 164.4h1.3v1.3h-1.3zM401.1 162.6h1.3v1.3h-1.3zM394.7 167.4h1.3v1.3h-1.3zM402.2 162.0h1.3v1.3h-1.3zM404.0 167.0h1.3v1.3h-1.3zM397.7 150.5h1.3v1.3h-1.3zM399.3 163.4h1.3v1.3h-1.3zM384.6 164.9h1.3v1.3h-1.3zM384.1 165.6h1.3v1.3h-1.3zM401.2 166.8h1.3v1.3h-1.3zM404.4 159.9h1.3v1.3h-1.3zM405.8 167.4h1.3v1.3h-1.3zM397.7 167.5h1.3v1.3h-1.3zM396.8 166.6h1.3v1.3h-1.3zM390.2 166.0h1.3v1.3h-1.3zM401.9 167.4h1.3v1.3h-1.3zM379.6 167.1h1.3v1.3h-1.3zM395.4 163.0h1.3v1.3h-1.3zM384.9 160.6h1.3v1.3h-1.3zM397.3 167.3h1.3v1.3h-1.3zM406.4 162.2h1.3v1.3h-1.3zM405.1 164.3h1.3v1.3h-1.3zM404.6 164.8h1.3v1.3h-1.3zM400.9 162.9h1.3v1.3h-1.3zM396.3 164.7h1.3v1.3h-1.3zM386.3 166.7h1.3v1.3h-1.3zM393.9 163.1h1.3v1.3h-1.3zM399.8 161.3h1.3v1.3h-1.3zM396.2 158.5h1.3v1.3h-1.3zM401.4 166.5h1.3v1.3h-1.3zM405.4 167.0h1.3v1.3h-1.3zM395.5 157.9h1.3v1.3h-1.3zM393.1 166.7h1.3v1.3h-1.3zM402.3 164.0h1.3v1.3h-1.3zM397.6 161.7h1.3v1.3h-1.3zM401.9 162.5h1.3v1.3h-1.3zM403.6 165.6h1.3v1.3h-1.3zM400.6 156.4h1.3v1.3h-1.3zM405.9 165.1h1.3v1.3h-1.3zM395.5 158.9h1.3v1.3h-1.3zM401.2 162.4h1.3v1.3h-1.3zM386.5 166.5h1.3v1.3h-1.3zM406.6 167.6h1.3v1.3h-1.3zM403.0 167.3h1.3v1.3h-1.3zM405.8 165.5h1.3v1.3h-1.3zM393.5 165.4h1.3v1.3h-1.3zM392.8 165.4h1.3v1.3h-1.3zM395.7 160.2h1.3v1.3h-1.3zM400.3 166.4h1.3v1.3h-1.3zM395.5 164.1h1.3v1.3h-1.3zM406.5 156.5h1.3v1.3h-1.3zM391.9 162.0h1.3v1.3h-1.3zM405.2 167.2h1.3v1.3h-1.3zM402.0 166.9h1.3v1.3h-1.3zM394.2 167.4h1.3v1.3h-1.3zM383.9 167.4h1.3v1.3h-1.3zM400.1 166.7h1.3v1.3h-1.3zM402.7 157.8h1.3v1.3h-1.3zM388.7 162.1h1.3v1.3h-1.3zM396.2 166.3h1.3v1.3h-1.3zM402.3 159.6h1.3v1.3h-1.3zM394.9 158.9h1.3v1.3h-1.3zM398.5 166.8h1.3v1.3h-1.3zM398.4 166.8h1.3v1.3h-1.3zM395.3 164.2h1.3v1.3h-1.3zM399.0 162.3h1.3v1.3h-1.3zM400.5 163.5h1.3v1.3h-1.3zM401.2 157.1h1.3v1.3h-1.3zM402.3 167.5h1.3v1.3h-1.3zM405.3 167.0h1.3v1.3h-1.3zM396.9 164.1h1.3v1.3h-1.3zM392.1 160.1h1.3v1.3h-1.3zM400.8 166.8h1.3v1.3h-1.3zM394.4 160.8h1.3v1.3h-1.3zM391.0 161.3h1.3v1.3h-1.3zM401.8 161.7h1.3v1.3h-1.3zM399.9 167.4h1.3v1.3h-1.3zM390.0 156.5h1.3v1.3h-1.3zM397.8 166.9h1.3v1.3h-1.3zM395.2 160.0h1.3v1.3h-1.3zM398.9 167.7h1.3v1.3h-1.3zM398.0 167.2h1.3v1.3h-1.3zM402.4 163.2h1.3v1.3h-1.3zM402.5 167.3h1.3v1.3h-1.3zM392.4 167.0h1.3v1.3h-1.3zM387.5 167.3h1.3v1.3h-1.3zM401.9 158.6h1.3v1.3h-1.3zM396.5 163.7h1.3v1.3h-1.3zM404.9 159.6h1.3v1.3h-1.3zM384.5 162.4h1.3v1.3h-1.3zM405.9 155.5h1.3v1.3h-1.3zM399.6 165.2h1.3v1.3h-1.3zM400.2 164.7h1.3v1.3h-1.3zM406.3 165.8h1.3v1.3h-1.3zM399.3 165.5h1.3v1.3h-1.3zM399.6 166.2h1.3v1.3h-1.3zM406.1 161.1h1.3v1.3h-1.3zM400.8 162.3h1.3v1.3h-1.3zM389.8 165.8h1.3v1.3h-1.3zM396.5 167.4h1.3v1.3h-1.3zM399.5 167.1h1.3v1.3h-1.3zM382.1 163.1h1.3v1.3h-1.3zM402.0 167.2h1.3v1.3h-1.3zM402.8 162.7h1.3v1.3h-1.3zM396.3 163.2h1.3v1.3h-1.3zM401.2 167.3h1.3v1.3h-1.3zM401.9 153.0h1.3v1.3h-1.3zM384.2 167.6h1.3v1.3h-1.3zM403.7 159.3h1.3v1.3h-1.3zM391.6 167.3h1.3v1.3h-1.3zM384.8 167.3h1.3v1.3h-1.3zM390.2 162.3h1.3v1.3h-1.3zM391.9 167.4h1.3v1.3h-1.3zM402.3 165.2h1.3v1.3h-1.3zM400.0 164.7h1.3v1.3h-1.3zM403.4 164.7h1.3v1.3h-1.3zM385.9 166.9h1.3v1.3h-1.3zM399.6 162.5h1.3v1.3h-1.3zM387.1 164.1h1.3v1.3h-1.3zM401.7 166.3h1.3v1.3h-1.3zM386.6 162.7h1.3v1.3h-1.3zM406.1 165.7h1.3v1.3h-1.3zM383.7 167.5h1.3v1.3h-1.3zM402.6 162.5h1.3v1.3h-1.3zM404.3 166.8h1.3v1.3h-1.3zM397.5 161.3h1.3v1.3h-1.3zM396.5 165.3h1.3v1.3h-1.3zM405.7 166.1h1.3v1.3h-1.3zM403.9 158.3h1.3v1.3h-1.3zM406.2 159.8h1.3v1.3h-1.3zM395.3 161.5h1.3v1.3h-1.3zM405.5 165.1h1.3v1.3h-1.3zM404.7 160.5h1.3v1.3h-1.3zM403.9 161.0h1.3v1.3h-1.3zM399.0 163.0h1.3v1.3h-1.3zM391.5 166.0h1.3v1.3h-1.3zM400.3 166.6h1.3v1.3h-1.3zM403.6 166.8h1.3v1.3h-1.3zM393.2 166.5h1.3v1.3h-1.3zM398.0 167.7h1.3v1.3h-1.3zM400.0 158.7h1.3v1.3h-1.3zM393.9 167.2h1.3v1.3h-1.3zM383.3 165.6h1.3v1.3h-1.3zM405.3 166.2h1.3v1.3h-1.3zM403.8 164.5h1.3v1.3h-1.3zM404.3 165.1h1.3v1.3h-1.3zM395.8 164.5h1.3v1.3h-1.3zM405.4 166.8h1.3v1.3h-1.3zM397.8 156.2h1.3v1.3h-1.3zM404.7 163.0h1.3v1.3h-1.3zM401.5 160.2h1.3v1.3h-1.3zM405.7 166.8h1.3v1.3h-1.3zM397.7 160.9h1.3v1.3h-1.3zM389.4 162.4h1.3v1.3h-1.3zM381.3 165.0h1.3v1.3h-1.3zM395.2 160.3h1.3v1.3h-1.3zM405.4 163.4h1.3v1.3h-1.3zM400.5 165.9h1.3v1.3h-1.3zM406.1 166.6h1.3v1.3h-1.3zM401.7 167.6h1.3v1.3h-1.3zM392.7 158.5h1.3v1.3h-1.3zM400.2 163.8h1.3v1.3h-1.3zM390.4 167.1h1.3v1.3h-1.3zM403.7 159.4h1.3v1.3h-1.3zM395.6 166.0h1.3v1.3h-1.3zM405.4 166.9h1.3v1.3h-1.3zM401.5 160.7h1.3v1.3h-1.3zM399.9 165.7h1.3v1.3h-1.3zM402.6 163.2h1.3v1.3h-1.3zM392.8 161.0h1.3v1.3h-1.3zM406.2 159.9h1.3v1.3h-1.3zM406.2 163.0h1.3v1.3h-1.3zM403.3 160.8h1.3v1.3h-1.3zM392.5 166.1h1.3v1.3h-1.3zM406.6 162.8h1.3v1.3h-1.3zM402.2 164.2h1.3v1.3h-1.3zM394.8 166.9h1.3v1.3h-1.3zM404.1 165.5h1.3v1.3h-1.3zM398.9 167.5h1.3v1.3h-1.3zM404.9 165.3h1.3v1.3h-1.3zM391.0 164.4h1.3v1.3h-1.3zM405.6 159.4h1.3v1.3h-1.3zM404.2 154.7h1.3v1.3h-1.3zM405.0 164.1h1.3v1.3h-1.3zM400.9 163.8h1.3v1.3h-1.3zM403.6 163.8h1.3v1.3h-1.3zM392.6 164.4h1.3v1.3h-1.3zM402.8 166.3h1.3v1.3h-1.3zM394.3 163.0h1.3v1.3h-1.3zM387.5 165.6h1.3v1.3h-1.3zM400.5 166.7h1.3v1.3h-1.3zM394.0 166.8h1.3v1.3h-1.3zM396.4 167.6h1.3v1.3h-1.3zM389.7 162.9h1.3v1.3h-1.3zM403.2 159.2h1.3v1.3h-1.3zM404.1 164.8h1.3v1.3h-1.3zM404.8 162.2h1.3v1.3h-1.3zM397.5 161.6h1.3v1.3h-1.3zM405.0 166.3h1.3v1.3h-1.3zM395.0 164.8h1.3v1.3h-1.3zM398.8 161.6h1.3v1.3h-1.3zM392.5 157.9h1.3v1.3h-1.3zM394.8 161.4h1.3v1.3h-1.3zM406.4 167.6h1.3v1.3h-1.3zM398.1 167.0h1.3v1.3h-1.3zM380.1 167.2h1.3v1.3h-1.3zM385.2 162.7h1.3v1.3h-1.3zM405.7 162.9h1.3v1.3h-1.3zM403.1 164.7h1.3v1.3h-1.3zM403.6 161.1h1.3v1.3h-1.3zM406.6 165.4h1.3v1.3h-1.3zM388.5 162.4h1.3v1.3h-1.3zM402.9 165.3h1.3v1.3h-1.3zM392.0 166.3h1.3v1.3h-1.3zM395.8 165.4h1.3v1.3h-1.3zM403.1 165.8h1.3v1.3h-1.3zM405.5 163.1h1.3v1.3h-1.3zM389.0 165.0h1.3v1.3h-1.3zM404.8 167.3h1.3v1.3h-1.3zM392.2 167.5h1.3v1.3h-1.3zM406.3 167.6h1.3v1.3h-1.3zM403.8 164.2h1.3v1.3h-1.3zM397.4 162.6h1.3v1.3h-1.3zM389.4 163.7h1.3v1.3h-1.3zM401.0 166.2h1.3v1.3h-1.3zM401.4 166.8h1.3v1.3h-1.3zM387.3 165.5h1.3v1.3h-1.3zM405.5 167.6h1.3v1.3h-1.3zM398.2 166.0h1.3v1.3h-1.3zM404.7 159.5h1.3v1.3h-1.3zM382.9 167.0h1.3v1.3h-1.3zM393.0 167.4h1.3v1.3h-1.3zM406.2 163.0h1.3v1.3h-1.3zM405.6 166.8h1.3v1.3h-1.3zM400.9 153.8h1.3v1.3h-1.3zM402.1 165.0h1.3v1.3h-1.3zM401.7 167.2h1.3v1.3h-1.3zM403.9 161.2h1.3v1.3h-1.3zM400.9 166.8h1.3v1.3h-1.3zM384.1 163.9h1.3v1.3h-1.3zM402.9 166.9h1.3v1.3h-1.3zM405.8 165.0h1.3v1.3h-1.3zM403.5 164.4h1.3v1.3h-1.3zM399.3 163.9h1.3v1.3h-1.3zM386.5 161.4h1.3v1.3h-1.3zM399.1 165.2h1.3v1.3h-1.3zM398.1 159.2h1.3v1.3h-1.3zM392.6 164.1h1.3v1.3h-1.3zM401.8 166.5h1.3v1.3h-1.3zM395.0 167.3h1.3v1.3h-1.3zM400.5 163.1h1.3v1.3h-1.3zM404.4 163.5h1.3v1.3h-1.3zM405.3 164.7h1.3v1.3h-1.3zM405.4 162.4h1.3v1.3h-1.3zM394.5 167.0h1.3v1.3h-1.3zM405.0 166.9h1.3v1.3h-1.3zM406.3 166.9h1.3v1.3h-1.3zM401.9 165.3h1.3v1.3h-1.3zM405.6 153.7h1.3v1.3h-1.3zM392.6 165.6h1.3v1.3h-1.3zM383.7 167.0h1.3v1.3h-1.3zM402.5 166.8h1.3v1.3h-1.3zM406.5 167.5h1.3v1.3h-1.3zM391.9 164.9h1.3v1.3h-1.3zM403.0 164.7h1.3v1.3h-1.3zM390.7 165.0h1.3v1.3h-1.3zM405.1 167.5h1.3v1.3h-1.3zM406.5 166.2h1.3v1.3h-1.3zM387.4 160.3h1.3v1.3h-1.3zM403.9 156.6h1.3v1.3h-1.3zM395.4 160.4h1.3v1.3h-1.3zM395.8 156.0h1.3v1.3h-1.3zM383.3 166.1h1.3v1.3h-1.3zM403.6 167.5h1.3v1.3h-1.3zM387.7 166.3h1.3v1.3h-1.3zM395.4 161.1h1.3v1.3h-1.3zM396.4 167.2h1.3v1.3h-1.3zM389.5 164.2h1.3v1.3h-1.3zM385.6 165.5h1.3v1.3h-1.3zM393.8 163.3h1.3v1.3h-1.3zM406.7 159.8h1.3v1.3h-1.3zM386.1 165.5h1.3v1.3h-1.3zM397.4 163.9h1.3v1.3h-1.3zM401.6 163.3h1.3v1.3h-1.3zM402.2 159.0h1.3v1.3h-1.3zM404.6 164.4h1.3v1.3h-1.3zM393.4 166.7h1.3v1.3h-1.3zM400.5 167.3h1.3v1.3h-1.3zM403.4 166.8h1.3v1.3h-1.3zM405.7 157.6h1.3v1.3h-1.3zM397.5 166.8h1.3v1.3h-1.3zM386.6 164.4h1.3v1.3h-1.3zM402.7 167.2h1.3v1.3h-1.3zM403.2 159.5h1.3v1.3h-1.3zM399.5 165.1h1.3v1.3h-1.3zM406.1 163.9h1.3v1.3h-1.3zM398.3 167.4h1.3v1.3h-1.3zM401.8 167.0h1.3v1.3h-1.3zM404.8 160.1h1.3v1.3h-1.3zM405.8 167.6h1.3v1.3h-1.3zM406.3 164.6h1.3v1.3h-1.3zM406.3 157.0h1.3v1.3h-1.3zM396.8 162.0h1.3v1.3h-1.3zM402.7 164.6h1.3v1.3h-1.3zM380.7 166.3h1.3v1.3h-1.3zM403.6 166.9h1.3v1.3h-1.3zM401.8 165.7h1.3v1.3h-1.3zM406.4 166.1h1.3v1.3h-1.3zM402.0 163.6h1.3v1.3h-1.3zM394.4 162.5h1.3v1.3h-1.3zM404.6 165.4h1.3v1.3h-1.3zM396.6 167.5h1.3v1.3h-1.3zM400.3 167.3h1.3v1.3h-1.3zM399.4 154.1h1.3v1.3h-1.3zM405.0 162.2h1.3v1.3h-1.3zM399.5 163.0h1.3v1.3h-1.3zM388.5 163.7h1.3v1.3h-1.3zM397.8 167.2h1.3v1.3h-1.3zM390.5 164.0h1.3v1.3h-1.3zM404.9 165.4h1.3v1.3h-1.3zM401.7 162.8h1.3v1.3h-1.3zM398.9 167.1h1.3v1.3h-1.3zM400.2 155.4h1.3v1.3h-1.3zM395.3 166.1h1.3v1.3h-1.3zM402.4 167.4h1.3v1.3h-1.3zM403.0 155.7h1.3v1.3h-1.3zM406.0 166.1h1.3v1.3h-1.3zM396.3 166.9h1.3v1.3h-1.3zM405.5 163.3h1.3v1.3h-1.3zM404.7 167.2h1.3v1.3h-1.3zM392.6 166.7h1.3v1.3h-1.3zM401.0 165.7h1.3v1.3h-1.3zM404.1 165.7h1.3v1.3h-1.3zM391.7 163.7h1.3v1.3h-1.3zM391.0 159.6h1.3v1.3h-1.3zM403.4 166.8h1.3v1.3h-1.3zM403.6 160.9h1.3v1.3h-1.3zM403.9 155.3h1.3v1.3h-1.3zM396.2 160.4h1.3v1.3h-1.3zM395.1 166.7h1.3v1.3h-1.3zM380.2 166.6h1.3v1.3h-1.3zM403.6 164.1h1.3v1.3h-1.3zM397.1 167.4h1.3v1.3h-1.3zM387.3 163.4h1.3v1.3h-1.3zM394.6 165.3h1.3v1.3h-1.3zM402.8 158.4h1.3v1.3h-1.3zM386.0 166.3h1.3v1.3h-1.3zM394.4 164.2h1.3v1.3h-1.3zM406.5 164.9h1.3v1.3h-1.3zM405.9 162.2h1.3v1.3h-1.3zM404.5 163.7h1.3v1.3h-1.3zM385.6 167.5h1.3v1.3h-1.3zM404.1 165.1h1.3v1.3h-1.3zM398.1 167.0h1.3v1.3h-1.3zM396.3 162.3h1.3v1.3h-1.3zM402.3 166.4h1.3v1.3h-1.3zM401.5 164.5h1.3v1.3h-1.3zM397.5 167.6h1.3v1.3h-1.3zM391.6 166.7h1.3v1.3h-1.3zM397.7 166.1h1.3v1.3h-1.3zM405.4 164.7h1.3v1.3h-1.3zM382.3 165.0h1.3v1.3h-1.3zM391.5 162.9h1.3v1.3h-1.3zM380.1 160.8h1.3v1.3h-1.3zM400.2 165.5h1.3v1.3h-1.3zM400.0 166.7h1.3v1.3h-1.3zM401.3 167.2h1.3v1.3h-1.3zM392.9 166.9h1.3v1.3h-1.3zM392.1 164.3h1.3v1.3h-1.3zM394.6 163.4h1.3v1.3h-1.3zM397.6 156.6h1.3v1.3h-1.3zM390.1 162.9h1.3v1.3h-1.3zM405.0 159.9h1.3v1.3h-1.3zM388.2 165.3h1.3v1.3h-1.3zM400.9 164.3h1.3v1.3h-1.3zM400.0 163.4h1.3v1.3h-1.3zM397.3 166.4h1.3v1.3h-1.3zM402.5 165.1h1.3v1.3h-1.3zM403.1 160.9h1.3v1.3h-1.3zM398.4 161.1h1.3v1.3h-1.3zM405.4 161.6h1.3v1.3h-1.3zM386.4 167.4h1.3v1.3h-1.3zM403.5 167.1h1.3v1.3h-1.3zM400.3 160.0h1.3v1.3h-1.3zM400.9 165.1h1.3v1.3h-1.3zM399.0 164.2h1.3v1.3h-1.3zM404.6 165.7h1.3v1.3h-1.3zM405.7 158.1h1.3v1.3h-1.3zM406.4 166.8h1.3v1.3h-1.3zM405.8 159.7h1.3v1.3h-1.3zM398.8 167.6h1.3v1.3h-1.3zM406.4 164.0h1.3v1.3h-1.3zM394.8 162.4h1.3v1.3h-1.3zM397.4 160.4h1.3v1.3h-1.3zM394.0 158.8h1.3v1.3h-1.3zM391.0 162.3h1.3v1.3h-1.3zM402.8 167.6h1.3v1.3h-1.3zM402.5 161.4h1.3v1.3h-1.3zM385.0 166.3h1.3v1.3h-1.3zM395.9 164.5h1.3v1.3h-1.3zM403.4 159.4h1.3v1.3h-1.3zM395.5 166.8h1.3v1.3h-1.3zM394.5 167.2h1.3v1.3h-1.3zM386.2 165.7h1.3v1.3h-1.3zM400.2 166.2h1.3v1.3h-1.3zM401.1 167.2h1.3v1.3h-1.3z" fill="#e52a08"/>
<polygon points="382.1,168.9 388.6,166.3 395.0,162.5 398.9,156.0 401.5,146.4 405.4,143.2 407.3,152.8 408.0,168.9" fill="#e52d0a"/>
<line x1="404.7" y1="40.2" x2="404.7" y2="168.9" stroke="#f04848" stroke-width="1.3"/>
<line x1="372.4" y1="123.9" x2="501.7" y2="123.9" stroke="#f04848" stroke-width="1.3"/>
<path d="M372.4 40.2H501.7V168.9" fill="none" stroke="#333" stroke-width="1.2"/>
<path d="M372.4 39.7V168.9H502.2" fill="none" stroke="#1a1a1a" stroke-width="1.6"/>
<path d="M369.4 168.9H372.4M372.4 168.9V171.9M369.4 136.7H372.4M404.7 168.9V171.9M369.4 104.6H372.4M437.0 168.9V171.9M369.4 72.4H372.4M469.4 168.9V171.9M369.4 40.2H372.4M501.7 168.9V171.9M370.8 159.2H372.4M382.1 168.9V170.5M370.8 153.5H372.4M387.8 168.9V170.5M370.8 149.5H372.4M391.9 168.9V170.5M370.8 146.4H372.4M395.0 168.9V170.5M370.8 143.9H372.4M397.6 168.9V170.5M370.8 141.7H372.4M399.7 168.9V170.5M370.8 139.8H372.4M401.6 168.9V170.5M370.8 138.2H372.4M403.2 168.9V170.5M370.8 127.0H372.4M414.5 168.9V170.5M370.8 121.4H372.4M420.1 168.9V170.5M370.8 117.4H372.4M424.2 168.9V170.5M370.8 114.2H372.4M427.3 168.9V170.5M370.8 111.7H372.4M429.9 168.9V170.5M370.8 109.5H372.4M432.0 168.9V170.5M370.8 107.7H372.4M433.9 168.9V170.5M370.8 106.0H372.4M435.6 168.9V170.5M370.8 94.9H372.4M446.8 168.9V170.5M370.8 89.2H372.4M452.5 168.9V170.5M370.8 85.2H372.4M456.5 168.9V170.5M370.8 82.1H372.4M459.6 168.9V170.5M370.8 79.5H372.4M462.2 168.9V170.5M370.8 77.4H372.4M464.4 168.9V170.5M370.8 75.5H372.4M466.2 168.9V170.5M370.8 73.8H372.4M467.9 168.9V170.5M370.8 62.7H372.4M479.1 168.9V170.5M370.8 57.0H372.4M484.8 168.9V170.5M370.8 53.0H372.4M488.8 168.9V170.5M370.8 49.9H372.4M492.0 168.9V170.5M370.8 47.3H372.4M494.5 168.9V170.5M370.8 45.2H372.4M496.7 168.9V170.5M370.8 43.3H372.4M498.6 168.9V170.5M370.8 41.7H372.4M500.2 168.9V170.5" stroke="#333" stroke-width="0.8" fill="none"/>
<text x="368.9" y="171.4" font-size="10.5" text-anchor="end" fill="#2a2a38">0</text>
<text x="372.4" y="181.2" font-size="10.5" text-anchor="middle" fill="#2a2a38">0</text>
<text x="368.9" y="139.2" font-size="10.5" text-anchor="end" fill="#2a2a38">1</text>
<text x="404.7" y="181.2" font-size="10.5" text-anchor="middle" fill="#2a2a38">1</text>
<text x="368.9" y="107.1" font-size="10.5" text-anchor="end" fill="#2a2a38">2</text>
<text x="437.0" y="181.2" font-size="10.5" text-anchor="middle" fill="#2a2a38">2</text>
<text x="368.9" y="74.9" font-size="10.5" text-anchor="end" fill="#2a2a38">3</text>
<text x="469.4" y="181.2" font-size="10.5" text-anchor="middle" fill="#2a2a38">3</text>
<text x="368.9" y="42.7" font-size="10.5" text-anchor="end" fill="#2a2a38">4</text>
<text x="501.7" y="181.2" font-size="10.5" text-anchor="middle" fill="#2a2a38">4</text>
<text transform="translate(355.9,104.3) rotate(-90)" font-size="10.5" text-anchor="middle" textLength="40" lengthAdjust="spacingAndGlyphs" fill="#3a3a48">VIABILITY</text>
<text transform="translate(353.9,50.2) rotate(-90)" font-size="7" text-anchor="middle" fill="#8c96a8">DEAD</text>
<text transform="translate(353.9,159.9) rotate(-90)" font-size="7" text-anchor="middle" fill="#8c96a8">LIVE</text>
<text x="372.9" y="192.3" font-size="7.5" fill="#6a7690">Neg.</text>
<text x="500.7" y="192.3" font-size="7.5" text-anchor="end" fill="#6a7690">Pos.</text>
<text x="437.5" y="192.5" font-size="9.8" text-anchor="middle" textLength="59.5" lengthAdjust="spacingAndGlyphs" fill="#3a3a48">NITRIC OXIDE</text>
<text x="377.7" y="51.2" font-size="8.2" fill="#333">1.17 %</text>
<text x="496.9" y="51.2" font-size="8.2" text-anchor="end" fill="#333">0.67 %</text>
<text x="377.7" y="165.3" font-size="8.2" fill="#111">90.60 %</text>
<text x="496.9" y="165.3" font-size="8.2" text-anchor="end" fill="#333">7.57 %</text>
<text x="575.9" y="27.6" textLength="82.3" lengthAdjust="spacingAndGlyphs" font-size="14.5" font-weight="bold" fill="#111">OS + ASTA20</text>
<rect x="555.4" y="122.1" width="31.8" height="44.0" fill="#e6f0cf"/>
<path d="M580.8 159.1h1.3v1.3h-1.3zM582.3 162.1h1.3v1.3h-1.3zM570.0 164.8h1.3v1.3h-1.3zM581.7 132.0h1.3v1.3h-1.3zM587.0 133.9h1.3v1.3h-1.3zM577.3 157.5h1.3v1.3h-1.3zM582.9 161.5h1.3v1.3h-1.3zM586.5 124.7h1.3v1.3h-1.3zM585.2 130.4h1.3v1.3h-1.3zM572.4 160.7h1.3v1.3h-1.3zM578.3 156.2h1.3v1.3h-1.3zM582.9 128.9h1.3v1.3h-1.3zM583.1 127.5h1.3v1.3h-1.3zM583.9 138.9h1.3v1.3h-1.3zM584.5 147.3h1.3v1.3h-1.3zM578.1 164.1h1.3v1.3h-1.3zM585.0 124.3h1.3v1.3h-1.3zM579.9 156.6h1.3v1.3h-1.3zM580.7 125.8h1.3v1.3h-1.3zM584.0 129.3h1.3v1.3h-1.3zM579.7 147.2h1.3v1.3h-1.3zM582.7 150.8h1.3v1.3h-1.3zM582.2 161.8h1.3v1.3h-1.3zM570.8 164.9h1.3v1.3h-1.3zM586.6 141.3h1.3v1.3h-1.3zM579.0 149.0h1.3v1.3h-1.3zM582.5 154.8h1.3v1.3h-1.3zM588.0 151.7h1.3v1.3h-1.3zM583.1 160.4h1.3v1.3h-1.3zM583.1 154.2h1.3v1.3h-1.3zM585.1 134.9h1.3v1.3h-1.3zM583.4 126.1h1.3v1.3h-1.3zM581.6 163.8h1.3v1.3h-1.3zM586.7 133.9h1.3v1.3h-1.3zM587.6 141.8h1.3v1.3h-1.3zM579.7 161.3h1.3v1.3h-1.3zM576.7 149.5h1.3v1.3h-1.3zM586.4 126.6h1.3v1.3h-1.3zM587.2 123.2h1.3v1.3h-1.3zM562.5 164.6h1.3v1.3h-1.3zM587.5 122.5h1.3v1.3h-1.3zM584.4 123.8h1.3v1.3h-1.3zM585.9 141.6h1.3v1.3h-1.3zM581.0 160.8h1.3v1.3h-1.3zM583.1 150.2h1.3v1.3h-1.3zM585.5 122.7h1.3v1.3h-1.3zM585.5 155.3h1.3v1.3h-1.3zM587.9 161.6h1.3v1.3h-1.3zM585.4 132.9h1.3v1.3h-1.3zM581.9 163.9h1.3v1.3h-1.3zM586.1 121.6h1.3v1.3h-1.3zM585.0 164.8h1.3v1.3h-1.3zM585.7 161.6h1.3v1.3h-1.3zM583.0 164.4h1.3v1.3h-1.3zM583.5 158.6h1.3v1.3h-1.3zM588.0 146.2h1.3v1.3h-1.3zM575.2 133.4h1.3v1.3h-1.3zM576.1 148.6h1.3v1.3h-1.3zM586.0 158.9h1.3v1.3h-1.3zM587.0 151.3h1.3v1.3h-1.3zM575.0 158.6h1.3v1.3h-1.3zM579.2 147.6h1.3v1.3h-1.3zM587.9 164.7h1.3v1.3h-1.3zM581.3 159.3h1.3v1.3h-1.3zM587.2 128.1h1.3v1.3h-1.3zM587.1 124.7h1.3v1.3h-1.3zM581.2 144.4h1.3v1.3h-1.3zM587.9 126.3h1.3v1.3h-1.3zM585.5 139.8h1.3v1.3h-1.3zM576.3 147.9h1.3v1.3h-1.3zM583.2 164.0h1.3v1.3h-1.3zM580.1 126.3h1.3v1.3h-1.3zM585.2 124.9h1.3v1.3h-1.3zM581.9 132.0h1.3v1.3h-1.3zM585.1 140.4h1.3v1.3h-1.3zM581.2 139.8h1.3v1.3h-1.3zM586.6 138.2h1.3v1.3h-1.3zM580.1 123.1h1.3v1.3h-1.3zM563.2 164.5h1.3v1.3h-1.3zM585.3 139.1h1.3v1.3h-1.3zM583.9 163.9h1.3v1.3h-1.3zM586.2 139.2h1.3v1.3h-1.3zM581.1 164.3h1.3v1.3h-1.3zM581.5 134.9h1.3v1.3h-1.3zM588.0 124.7h1.3v1.3h-1.3zM587.8 125.0h1.3v1.3h-1.3zM584.5 164.1h1.3v1.3h-1.3zM586.3 132.9h1.3v1.3h-1.3zM579.8 127.6h1.3v1.3h-1.3zM582.1 160.4h1.3v1.3h-1.3zM582.0 138.9h1.3v1.3h-1.3zM578.6 133.4h1.3v1.3h-1.3zM586.4 148.9h1.3v1.3h-1.3zM587.7 164.3h1.3v1.3h-1.3zM581.4 148.1h1.3v1.3h-1.3zM578.2 162.6h1.3v1.3h-1.3zM587.0 153.9h1.3v1.3h-1.3zM575.8 164.1h1.3v1.3h-1.3zM583.0 130.4h1.3v1.3h-1.3zM582.9 153.1h1.3v1.3h-1.3zM586.7 132.7h1.3v1.3h-1.3zM583.1 148.2h1.3v1.3h-1.3zM586.7 122.5h1.3v1.3h-1.3zM586.3 141.6h1.3v1.3h-1.3zM583.6 127.2h1.3v1.3h-1.3zM587.7 128.7h1.3v1.3h-1.3zM578.4 133.3h1.3v1.3h-1.3zM580.2 160.6h1.3v1.3h-1.3zM583.4 156.5h1.3v1.3h-1.3zM583.7 132.1h1.3v1.3h-1.3zM583.9 161.6h1.3v1.3h-1.3zM583.9 162.3h1.3v1.3h-1.3zM583.2 147.9h1.3v1.3h-1.3zM583.8 126.1h1.3v1.3h-1.3zM583.2 136.9h1.3v1.3h-1.3zM587.9 145.4h1.3v1.3h-1.3zM586.3 148.2h1.3v1.3h-1.3zM577.0 164.5h1.3v1.3h-1.3zM583.2 158.8h1.3v1.3h-1.3zM584.1 133.8h1.3v1.3h-1.3zM584.6 121.3h1.3v1.3h-1.3zM581.1 142.1h1.3v1.3h-1.3zM579.9 156.0h1.3v1.3h-1.3zM585.8 125.7h1.3v1.3h-1.3zM577.8 156.3h1.3v1.3h-1.3zM579.7 142.0h1.3v1.3h-1.3zM579.7 150.3h1.3v1.3h-1.3zM577.1 153.9h1.3v1.3h-1.3zM586.4 139.4h1.3v1.3h-1.3zM585.1 162.4h1.3v1.3h-1.3zM583.5 131.5h1.3v1.3h-1.3zM572.2 153.5h1.3v1.3h-1.3zM582.6 143.8h1.3v1.3h-1.3zM577.0 164.0h1.3v1.3h-1.3zM583.5 152.1h1.3v1.3h-1.3zM586.6 139.8h1.3v1.3h-1.3zM587.5 155.5h1.3v1.3h-1.3zM586.0 164.0h1.3v1.3h-1.3zM585.4 130.3h1.3v1.3h-1.3zM581.9 123.2h1.3v1.3h-1.3zM578.5 161.9h1.3v1.3h-1.3zM584.1 143.9h1.3v1.3h-1.3zM587.5 124.1h1.3v1.3h-1.3zM562.6 163.3h1.3v1.3h-1.3zM583.5 140.0h1.3v1.3h-1.3zM578.6 141.7h1.3v1.3h-1.3zM584.6 130.2h1.3v1.3h-1.3zM570.8 152.0h1.3v1.3h-1.3zM579.9 142.7h1.3v1.3h-1.3zM580.0 156.2h1.3v1.3h-1.3zM582.2 159.3h1.3v1.3h-1.3zM584.1 120.7h1.3v1.3h-1.3zM584.8 126.4h1.3v1.3h-1.3zM585.3 131.0h1.3v1.3h-1.3zM586.9 157.2h1.3v1.3h-1.3zM587.3 161.1h1.3v1.3h-1.3zM584.7 145.6h1.3v1.3h-1.3zM577.4 153.8h1.3v1.3h-1.3zM586.6 123.4h1.3v1.3h-1.3zM584.1 164.7h1.3v1.3h-1.3zM580.5 122.0h1.3v1.3h-1.3zM587.0 142.4h1.3v1.3h-1.3zM582.5 156.1h1.3v1.3h-1.3zM584.3 159.6h1.3v1.3h-1.3zM582.9 124.7h1.3v1.3h-1.3zM577.7 162.3h1.3v1.3h-1.3zM581.4 159.0h1.3v1.3h-1.3zM566.1 161.8h1.3v1.3h-1.3zM585.4 132.5h1.3v1.3h-1.3zM584.1 122.9h1.3v1.3h-1.3zM582.9 158.1h1.3v1.3h-1.3zM587.2 163.9h1.3v1.3h-1.3zM586.0 164.8h1.3v1.3h-1.3zM586.6 120.9h1.3v1.3h-1.3zM577.6 157.0h1.3v1.3h-1.3zM582.6 135.7h1.3v1.3h-1.3zM576.1 139.8h1.3v1.3h-1.3zM584.7 136.4h1.3v1.3h-1.3zM584.3 144.6h1.3v1.3h-1.3zM577.7 145.0h1.3v1.3h-1.3zM580.1 147.5h1.3v1.3h-1.3zM576.3 148.3h1.3v1.3h-1.3zM578.1 164.7h1.3v1.3h-1.3zM572.2 158.3h1.3v1.3h-1.3zM581.4 152.6h1.3v1.3h-1.3zM572.7 155.4h1.3v1.3h-1.3zM586.4 152.8h1.3v1.3h-1.3zM587.6 127.7h1.3v1.3h-1.3zM582.5 164.7h1.3v1.3h-1.3zM587.5 129.3h1.3v1.3h-1.3zM587.4 130.7h1.3v1.3h-1.3zM578.6 148.7h1.3v1.3h-1.3zM583.9 136.4h1.3v1.3h-1.3zM582.6 120.7h1.3v1.3h-1.3zM576.3 137.1h1.3v1.3h-1.3zM579.0 153.2h1.3v1.3h-1.3zM585.1 129.3h1.3v1.3h-1.3zM576.9 163.6h1.3v1.3h-1.3zM583.4 141.6h1.3v1.3h-1.3zM585.3 140.2h1.3v1.3h-1.3zM587.2 126.5h1.3v1.3h-1.3zM587.1 141.0h1.3v1.3h-1.3zM579.8 158.4h1.3v1.3h-1.3zM578.2 156.3h1.3v1.3h-1.3zM585.5 126.6h1.3v1.3h-1.3zM585.1 130.1h1.3v1.3h-1.3zM581.4 126.8h1.3v1.3h-1.3zM580.2 139.6h1.3v1.3h-1.3zM582.5 137.5h1.3v1.3h-1.3zM585.6 121.2h1.3v1.3h-1.3zM576.6 154.3h1.3v1.3h-1.3zM582.4 147.7h1.3v1.3h-1.3zM583.8 145.4h1.3v1.3h-1.3zM584.0 160.4h1.3v1.3h-1.3zM583.8 164.6h1.3v1.3h-1.3zM575.7 137.6h1.3v1.3h-1.3zM570.0 163.3h1.3v1.3h-1.3zM586.3 147.1h1.3v1.3h-1.3zM580.2 164.3h1.3v1.3h-1.3zM576.3 164.2h1.3v1.3h-1.3zM582.5 164.5h1.3v1.3h-1.3zM587.8 126.9h1.3v1.3h-1.3zM586.3 134.8h1.3v1.3h-1.3zM581.9 152.8h1.3v1.3h-1.3zM581.5 142.4h1.3v1.3h-1.3zM587.4 122.0h1.3v1.3h-1.3zM585.2 134.5h1.3v1.3h-1.3zM584.4 137.9h1.3v1.3h-1.3zM586.6 132.6h1.3v1.3h-1.3zM578.4 161.4h1.3v1.3h-1.3zM570.3 164.6h1.3v1.3h-1.3zM580.1 134.4h1.3v1.3h-1.3zM577.4 151.9h1.3v1.3h-1.3zM576.3 155.7h1.3v1.3h-1.3zM587.8 141.6h1.3v1.3h-1.3zM576.0 164.6h1.3v1.3h-1.3zM584.1 157.1h1.3v1.3h-1.3zM586.7 134.3h1.3v1.3h-1.3zM582.2 164.2h1.3v1.3h-1.3zM587.6 164.0h1.3v1.3h-1.3zM575.6 160.0h1.3v1.3h-1.3zM585.6 126.9h1.3v1.3h-1.3zM583.1 147.6h1.3v1.3h-1.3zM583.5 149.7h1.3v1.3h-1.3zM586.9 121.1h1.3v1.3h-1.3zM585.1 129.6h1.3v1.3h-1.3zM580.1 163.4h1.3v1.3h-1.3zM587.1 144.3h1.3v1.3h-1.3zM586.1 139.5h1.3v1.3h-1.3zM587.1 129.4h1.3v1.3h-1.3zM587.7 161.2h1.3v1.3h-1.3zM586.9 133.8h1.3v1.3h-1.3zM587.4 161.2h1.3v1.3h-1.3zM585.9 155.5h1.3v1.3h-1.3zM576.5 155.4h1.3v1.3h-1.3zM586.9 153.8h1.3v1.3h-1.3zM587.0 121.1h1.3v1.3h-1.3zM585.9 123.1h1.3v1.3h-1.3zM584.1 123.4h1.3v1.3h-1.3zM562.7 164.0h1.3v1.3h-1.3zM582.7 137.2h1.3v1.3h-1.3zM571.7 163.7h1.3v1.3h-1.3zM581.2 160.5h1.3v1.3h-1.3zM582.0 145.3h1.3v1.3h-1.3zM580.6 145.6h1.3v1.3h-1.3zM582.3 129.8h1.3v1.3h-1.3zM585.1 134.3h1.3v1.3h-1.3zM586.9 159.8h1.3v1.3h-1.3zM582.8 159.0h1.3v1.3h-1.3zM586.2 141.4h1.3v1.3h-1.3zM579.5 154.7h1.3v1.3h-1.3zM583.7 123.8h1.3v1.3h-1.3zM572.8 160.8h1.3v1.3h-1.3zM566.8 160.0h1.3v1.3h-1.3zM581.3 164.2h1.3v1.3h-1.3zM581.6 124.1h1.3v1.3h-1.3zM582.0 147.7h1.3v1.3h-1.3zM586.9 136.4h1.3v1.3h-1.3zM583.1 152.6h1.3v1.3h-1.3zM582.4 149.3h1.3v1.3h-1.3zM583.8 154.2h1.3v1.3h-1.3zM586.3 164.1h1.3v1.3h-1.3zM585.7 135.7h1.3v1.3h-1.3zM586.0 156.8h1.3v1.3h-1.3zM581.9 144.7h1.3v1.3h-1.3zM585.7 122.0h1.3v1.3h-1.3zM584.0 146.3h1.3v1.3h-1.3zM579.9 142.6h1.3v1.3h-1.3zM587.9 142.7h1.3v1.3h-1.3zM586.5 150.6h1.3v1.3h-1.3zM587.2 132.0h1.3v1.3h-1.3zM586.0 161.1h1.3v1.3h-1.3zM581.1 157.2h1.3v1.3h-1.3zM585.9 140.9h1.3v1.3h-1.3zM580.1 161.5h1.3v1.3h-1.3zM579.4 145.4h1.3v1.3h-1.3zM585.6 122.9h1.3v1.3h-1.3zM585.5 155.1h1.3v1.3h-1.3zM581.6 145.7h1.3v1.3h-1.3zM587.0 128.5h1.3v1.3h-1.3zM583.5 160.6h1.3v1.3h-1.3zM587.7 127.3h1.3v1.3h-1.3zM584.4 142.8h1.3v1.3h-1.3zM587.9 136.8h1.3v1.3h-1.3zM576.5 142.8h1.3v1.3h-1.3zM585.6 127.8h1.3v1.3h-1.3zM571.9 164.4h1.3v1.3h-1.3zM584.0 142.4h1.3v1.3h-1.3zM587.9 145.4h1.3v1.3h-1.3zM585.5 148.8h1.3v1.3h-1.3zM586.8 128.3h1.3v1.3h-1.3zM578.5 157.3h1.3v1.3h-1.3zM576.3 137.9h1.3v1.3h-1.3zM583.5 157.1h1.3v1.3h-1.3zM578.4 151.5h1.3v1.3h-1.3zM588.0 129.0h1.3v1.3h-1.3zM583.7 129.5h1.3v1.3h-1.3zM583.5 164.4h1.3v1.3h-1.3zM582.6 151.1h1.3v1.3h-1.3zM586.2 129.4h1.3v1.3h-1.3zM587.1 123.1h1.3v1.3h-1.3zM585.7 125.3h1.3v1.3h-1.3zM587.5 125.0h1.3v1.3h-1.3zM588.1 164.6h1.3v1.3h-1.3zM585.3 146.7h1.3v1.3h-1.3zM586.8 140.5h1.3v1.3h-1.3zM583.2 139.1h1.3v1.3h-1.3zM582.0 145.2h1.3v1.3h-1.3zM582.3 138.0h1.3v1.3h-1.3zM584.0 162.7h1.3v1.3h-1.3zM587.4 163.7h1.3v1.3h-1.3zM580.6 154.9h1.3v1.3h-1.3zM584.3 157.5h1.3v1.3h-1.3zM586.5 140.5h1.3v1.3h-1.3zM582.5 164.7h1.3v1.3h-1.3zM587.3 133.8h1.3v1.3h-1.3zM582.8 145.4h1.3v1.3h-1.3zM584.9 154.0h1.3v1.3h-1.3zM581.6 134.2h1.3v1.3h-1.3zM586.4 158.7h1.3v1.3h-1.3zM584.6 141.4h1.3v1.3h-1.3zM581.9 140.0h1.3v1.3h-1.3zM580.2 145.4h1.3v1.3h-1.3zM582.2 160.7h1.3v1.3h-1.3zM585.8 123.0h1.3v1.3h-1.3zM582.8 123.1h1.3v1.3h-1.3zM584.9 149.9h1.3v1.3h-1.3zM581.8 155.9h1.3v1.3h-1.3zM585.7 156.6h1.3v1.3h-1.3zM583.4 148.3h1.3v1.3h-1.3zM579.4 156.9h1.3v1.3h-1.3zM578.8 155.9h1.3v1.3h-1.3zM587.0 128.4h1.3v1.3h-1.3zM584.1 130.1h1.3v1.3h-1.3zM562.9 161.3h1.3v1.3h-1.3zM569.6 164.9h1.3v1.3h-1.3zM581.7 128.2h1.3v1.3h-1.3zM587.9 144.8h1.3v1.3h-1.3zM587.4 159.6h1.3v1.3h-1.3zM567.0 152.5h1.3v1.3h-1.3zM574.4 158.9h1.3v1.3h-1.3zM583.0 157.0h1.3v1.3h-1.3zM587.0 164.1h1.3v1.3h-1.3zM583.8 164.9h1.3v1.3h-1.3zM583.3 120.9h1.3v1.3h-1.3zM583.6 144.8h1.3v1.3h-1.3zM586.4 122.0h1.3v1.3h-1.3zM583.5 138.4h1.3v1.3h-1.3zM576.9 164.3h1.3v1.3h-1.3zM578.7 148.1h1.3v1.3h-1.3zM582.6 124.2h1.3v1.3h-1.3zM582.7 152.6h1.3v1.3h-1.3zM582.9 164.2h1.3v1.3h-1.3zM583.6 164.6h1.3v1.3h-1.3zM572.8 163.0h1.3v1.3h-1.3zM585.8 134.3h1.3v1.3h-1.3zM585.5 127.3h1.3v1.3h-1.3zM582.5 127.0h1.3v1.3h-1.3zM584.9 152.4h1.3v1.3h-1.3zM587.2 125.1h1.3v1.3h-1.3zM589.2 136.0h1.3v1.3h-1.3zM585.8 148.5h1.3v1.3h-1.3zM585.5 158.0h1.3v1.3h-1.3zM583.0 154.0h1.3v1.3h-1.3zM587.4 152.3h1.3v1.3h-1.3zM585.6 160.3h1.3v1.3h-1.3zM587.8 164.2h1.3v1.3h-1.3zM584.6 162.3h1.3v1.3h-1.3zM583.0 163.2h1.3v1.3h-1.3zM586.6 159.9h1.3v1.3h-1.3zM583.5 158.3h1.3v1.3h-1.3zM587.7 164.2h1.3v1.3h-1.3zM588.7 137.7h1.3v1.3h-1.3zM586.4 145.7h1.3v1.3h-1.3zM586.1 157.1h1.3v1.3h-1.3zM584.9 163.9h1.3v1.3h-1.3zM586.0 159.8h1.3v1.3h-1.3zM588.7 154.3h1.3v1.3h-1.3zM588.9 150.8h1.3v1.3h-1.3zM585.8 143.9h1.3v1.3h-1.3zM586.1 128.7h1.3v1.3h-1.3zM584.7 156.1h1.3v1.3h-1.3zM587.0 146.2h1.3v1.3h-1.3zM582.9 146.9h1.3v1.3h-1.3zM586.1 150.5h1.3v1.3h-1.3zM588.4 163.2h1.3v1.3h-1.3zM586.3 151.4h1.3v1.3h-1.3zM586.5 122.1h1.3v1.3h-1.3zM586.0 137.2h1.3v1.3h-1.3zM586.7 141.9h1.3v1.3h-1.3zM587.8 145.2h1.3v1.3h-1.3zM588.6 140.3h1.3v1.3h-1.3zM586.1 154.0h1.3v1.3h-1.3zM586.7 164.5h1.3v1.3h-1.3zM585.5 148.0h1.3v1.3h-1.3zM585.3 143.5h1.3v1.3h-1.3zM585.5 164.9h1.3v1.3h-1.3zM585.6 163.1h1.3v1.3h-1.3zM586.2 143.6h1.3v1.3h-1.3zM586.5 156.8h1.3v1.3h-1.3zM584.3 160.0h1.3v1.3h-1.3zM585.3 148.7h1.3v1.3h-1.3zM585.0 131.1h1.3v1.3h-1.3zM588.1 164.3h1.3v1.3h-1.3zM588.8 162.0h1.3v1.3h-1.3zM588.0 160.3h1.3v1.3h-1.3zM587.3 148.6h1.3v1.3h-1.3zM585.1 162.8h1.3v1.3h-1.3zM584.6 162.1h1.3v1.3h-1.3zM586.3 164.0h1.3v1.3h-1.3zM588.3 151.7h1.3v1.3h-1.3zM584.0 147.8h1.3v1.3h-1.3zM585.7 141.5h1.3v1.3h-1.3zM584.6 141.9h1.3v1.3h-1.3zM586.9 130.7h1.3v1.3h-1.3zM586.8 163.5h1.3v1.3h-1.3zM587.5 157.5h1.3v1.3h-1.3zM584.7 138.7h1.3v1.3h-1.3zM585.1 159.6h1.3v1.3h-1.3zM585.7 151.6h1.3v1.3h-1.3zM587.8 161.6h1.3v1.3h-1.3zM586.3 154.4h1.3v1.3h-1.3zM585.4 136.0h1.3v1.3h-1.3zM589.7 142.5h1.3v1.3h-1.3zM586.9 163.7h1.3v1.3h-1.3zM582.5 119.8h1.3v1.3h-1.3zM584.7 149.4h1.3v1.3h-1.3zM587.5 151.2h1.3v1.3h-1.3zM587.4 152.7h1.3v1.3h-1.3zM589.3 155.1h1.3v1.3h-1.3zM586.0 164.4h1.3v1.3h-1.3zM586.8 164.7h1.3v1.3h-1.3zM585.7 155.4h1.3v1.3h-1.3zM589.1 145.4h1.3v1.3h-1.3zM587.0 163.2h1.3v1.3h-1.3zM584.3 161.6h1.3v1.3h-1.3zM587.8 131.8h1.3v1.3h-1.3zM586.3 153.2h1.3v1.3h-1.3zM582.9 163.6h1.3v1.3h-1.3zM586.4 160.1h1.3v1.3h-1.3zM587.8 148.6h1.3v1.3h-1.3zM590.2 119.0h1.3v1.3h-1.3zM586.3 163.5h1.3v1.3h-1.3zM584.8 164.7h1.3v1.3h-1.3zM584.3 147.6h1.3v1.3h-1.3zM586.6 164.2h1.3v1.3h-1.3zM584.9 163.4h1.3v1.3h-1.3zM587.6 141.8h1.3v1.3h-1.3zM584.5 157.7h1.3v1.3h-1.3zM589.3 149.5h1.3v1.3h-1.3zM586.8 146.1h1.3v1.3h-1.3zM584.5 161.8h1.3v1.3h-1.3zM584.7 164.4h1.3v1.3h-1.3zM584.0 133.2h1.3v1.3h-1.3zM584.4 130.5h1.3v1.3h-1.3zM586.2 118.7h1.3v1.3h-1.3zM584.8 164.8h1.3v1.3h-1.3zM587.6 153.1h1.3v1.3h-1.3zM587.2 152.7h1.3v1.3h-1.3zM587.8 163.4h1.3v1.3h-1.3zM586.8 159.2h1.3v1.3h-1.3zM587.5 152.1h1.3v1.3h-1.3zM587.1 158.9h1.3v1.3h-1.3zM587.8 150.4h1.3v1.3h-1.3zM586.0 161.0h1.3v1.3h-1.3zM587.9 149.3h1.3v1.3h-1.3zM585.9 164.0h1.3v1.3h-1.3zM585.7 163.1h1.3v1.3h-1.3zM588.0 141.5h1.3v1.3h-1.3zM586.6 161.9h1.3v1.3h-1.3zM586.3 144.9h1.3v1.3h-1.3zM585.4 164.2h1.3v1.3h-1.3zM585.2 158.4h1.3v1.3h-1.3zM587.3 159.6h1.3v1.3h-1.3zM585.6 153.9h1.3v1.3h-1.3zM586.7 157.1h1.3v1.3h-1.3zM585.5 145.5h1.3v1.3h-1.3zM582.6 157.8h1.3v1.3h-1.3zM586.4 159.7h1.3v1.3h-1.3zM585.5 145.5h1.3v1.3h-1.3zM584.8 163.8h1.3v1.3h-1.3zM584.9 145.2h1.3v1.3h-1.3zM584.8 164.9h1.3v1.3h-1.3zM583.6 149.8h1.3v1.3h-1.3zM586.0 161.5h1.3v1.3h-1.3zM581.8 164.5h1.3v1.3h-1.3zM589.8 156.3h1.3v1.3h-1.3zM585.8 164.8h1.3v1.3h-1.3zM587.1 158.7h1.3v1.3h-1.3zM583.6 154.6h1.3v1.3h-1.3zM587.6 130.1h1.3v1.3h-1.3zM583.3 151.9h1.3v1.3h-1.3zM586.0 161.9h1.3v1.3h-1.3zM583.7 128.9h1.3v1.3h-1.3zM587.6 163.4h1.3v1.3h-1.3zM586.4 161.9h1.3v1.3h-1.3zM588.2 159.2h1.3v1.3h-1.3zM587.0 158.2h1.3v1.3h-1.3zM587.9 161.7h1.3v1.3h-1.3zM587.4 164.6h1.3v1.3h-1.3zM585.6 138.2h1.3v1.3h-1.3zM589.5 164.2h1.3v1.3h-1.3zM586.5 159.1h1.3v1.3h-1.3zM584.3 157.7h1.3v1.3h-1.3zM587.8 136.0h1.3v1.3h-1.3zM588.9 155.9h1.3v1.3h-1.3zM585.4 161.3h1.3v1.3h-1.3zM587.2 151.9h1.3v1.3h-1.3zM583.9 157.9h1.3v1.3h-1.3zM585.9 138.3h1.3v1.3h-1.3zM585.5 149.1h1.3v1.3h-1.3zM588.5 149.4h1.3v1.3h-1.3zM584.7 132.3h1.3v1.3h-1.3zM587.5 146.1h1.3v1.3h-1.3zM585.2 160.3h1.3v1.3h-1.3zM588.2 159.5h1.3v1.3h-1.3zM585.6 139.5h1.3v1.3h-1.3zM587.1 152.8h1.3v1.3h-1.3zM590.0 153.2h1.3v1.3h-1.3zM586.0 158.4h1.3v1.3h-1.3zM585.1 157.7h1.3v1.3h-1.3zM584.7 153.6h1.3v1.3h-1.3zM588.3 158.8h1.3v1.3h-1.3zM583.6 144.0h1.3v1.3h-1.3zM587.1 146.5h1.3v1.3h-1.3zM585.4 125.9h1.3v1.3h-1.3zM587.7 162.9h1.3v1.3h-1.3zM587.3 163.7h1.3v1.3h-1.3zM585.5 161.9h1.3v1.3h-1.3zM585.6 158.9h1.3v1.3h-1.3zM586.8 159.6h1.3v1.3h-1.3zM586.0 156.0h1.3v1.3h-1.3zM587.0 157.2h1.3v1.3h-1.3zM587.4 159.7h1.3v1.3h-1.3zM584.3 159.8h1.3v1.3h-1.3zM585.5 157.2h1.3v1.3h-1.3zM584.8 157.9h1.3v1.3h-1.3zM585.0 164.2h1.3v1.3h-1.3zM583.6 151.0h1.3v1.3h-1.3zM587.9 164.1h1.3v1.3h-1.3zM585.5 154.9h1.3v1.3h-1.3zM588.3 142.0h1.3v1.3h-1.3zM582.9 151.3h1.3v1.3h-1.3zM584.6 162.5h1.3v1.3h-1.3zM585.6 157.9h1.3v1.3h-1.3zM585.6 164.7h1.3v1.3h-1.3zM586.4 155.0h1.3v1.3h-1.3zM589.0 163.7h1.3v1.3h-1.3zM588.2 150.7h1.3v1.3h-1.3zM584.8 129.9h1.3v1.3h-1.3zM586.5 141.5h1.3v1.3h-1.3zM585.8 156.0h1.3v1.3h-1.3zM583.8 161.1h1.3v1.3h-1.3zM587.2 147.5h1.3v1.3h-1.3zM586.5 162.9h1.3v1.3h-1.3zM586.7 147.1h1.3v1.3h-1.3zM586.9 141.6h1.3v1.3h-1.3zM586.7 164.0h1.3v1.3h-1.3zM583.3 164.7h1.3v1.3h-1.3zM584.7 149.8h1.3v1.3h-1.3zM585.1 160.2h1.3v1.3h-1.3zM584.8 163.8h1.3v1.3h-1.3zM581.7 133.9h1.3v1.3h-1.3zM586.2 153.3h1.3v1.3h-1.3zM585.9 120.7h1.3v1.3h-1.3zM585.7 163.9h1.3v1.3h-1.3zM587.0 150.6h1.3v1.3h-1.3zM583.3 159.8h1.3v1.3h-1.3zM585.9 148.8h1.3v1.3h-1.3zM585.8 155.1h1.3v1.3h-1.3zM583.6 128.5h1.3v1.3h-1.3zM585.2 164.5h1.3v1.3h-1.3zM583.3 156.1h1.3v1.3h-1.3zM585.2 156.6h1.3v1.3h-1.3zM583.8 154.3h1.3v1.3h-1.3zM585.9 153.8h1.3v1.3h-1.3zM585.5 159.0h1.3v1.3h-1.3zM589.3 159.9h1.3v1.3h-1.3zM585.6 148.4h1.3v1.3h-1.3zM590.9 162.7h1.3v1.3h-1.3zM584.0 158.4h1.3v1.3h-1.3zM588.6 147.5h1.3v1.3h-1.3zM586.3 161.8h1.3v1.3h-1.3zM588.8 157.7h1.3v1.3h-1.3zM588.1 163.3h1.3v1.3h-1.3zM587.9 150.8h1.3v1.3h-1.3zM587.8 142.9h1.3v1.3h-1.3zM587.0 163.9h1.3v1.3h-1.3zM586.3 154.2h1.3v1.3h-1.3zM587.3 154.5h1.3v1.3h-1.3zM586.5 163.6h1.3v1.3h-1.3zM585.3 161.7h1.3v1.3h-1.3zM586.1 146.2h1.3v1.3h-1.3zM587.5 144.4h1.3v1.3h-1.3zM587.4 154.4h1.3v1.3h-1.3zM583.2 119.4h1.3v1.3h-1.3zM584.8 164.8h1.3v1.3h-1.3zM587.3 161.3h1.3v1.3h-1.3zM583.3 137.5h1.3v1.3h-1.3zM588.4 164.5h1.3v1.3h-1.3zM586.6 152.1h1.3v1.3h-1.3zM584.4 133.6h1.3v1.3h-1.3zM585.6 161.1h1.3v1.3h-1.3zM587.0 163.1h1.3v1.3h-1.3zM586.1 156.7h1.3v1.3h-1.3zM585.2 156.6h1.3v1.3h-1.3zM588.0 158.1h1.3v1.3h-1.3zM586.0 142.7h1.3v1.3h-1.3zM586.5 162.3h1.3v1.3h-1.3zM586.0 163.8h1.3v1.3h-1.3zM584.3 151.9h1.3v1.3h-1.3zM585.8 152.3h1.3v1.3h-1.3zM585.4 160.0h1.3v1.3h-1.3zM584.8 153.6h1.3v1.3h-1.3zM585.2 148.4h1.3v1.3h-1.3zM588.7 141.4h1.3v1.3h-1.3zM585.3 164.7h1.3v1.3h-1.3zM586.6 157.0h1.3v1.3h-1.3zM588.2 144.8h1.3v1.3h-1.3zM588.2 139.8h1.3v1.3h-1.3zM586.2 117.6h1.3v1.3h-1.3zM585.1 148.2h1.3v1.3h-1.3zM585.8 154.0h1.3v1.3h-1.3zM589.0 160.4h1.3v1.3h-1.3zM587.4 140.1h1.3v1.3h-1.3zM585.1 164.0h1.3v1.3h-1.3zM586.6 142.2h1.3v1.3h-1.3zM586.9 136.5h1.3v1.3h-1.3zM586.1 162.3h1.3v1.3h-1.3zM587.8 147.9h1.3v1.3h-1.3zM586.0 163.0h1.3v1.3h-1.3zM586.7 161.9h1.3v1.3h-1.3zM584.8 146.7h1.3v1.3h-1.3zM584.6 133.8h1.3v1.3h-1.3zM585.8 164.5h1.3v1.3h-1.3zM588.4 162.5h1.3v1.3h-1.3zM585.9 120.6h1.3v1.3h-1.3zM583.8 125.9h1.3v1.3h-1.3zM585.3 158.1h1.3v1.3h-1.3zM587.6 147.3h1.3v1.3h-1.3zM584.3 141.7h1.3v1.3h-1.3zM584.1 150.6h1.3v1.3h-1.3zM588.3 144.8h1.3v1.3h-1.3zM588.4 155.3h1.3v1.3h-1.3zM587.7 160.5h1.3v1.3h-1.3zM587.8 162.6h1.3v1.3h-1.3zM585.2 159.7h1.3v1.3h-1.3zM585.9 162.4h1.3v1.3h-1.3zM584.5 164.7h1.3v1.3h-1.3zM588.6 161.7h1.3v1.3h-1.3zM584.2 164.1h1.3v1.3h-1.3zM584.6 163.2h1.3v1.3h-1.3zM587.0 141.8h1.3v1.3h-1.3zM586.2 164.7h1.3v1.3h-1.3zM588.4 144.2h1.3v1.3h-1.3zM587.5 162.8h1.3v1.3h-1.3zM588.5 161.1h1.3v1.3h-1.3zM587.9 159.5h1.3v1.3h-1.3zM585.5 128.5h1.3v1.3h-1.3zM584.3 157.4h1.3v1.3h-1.3zM582.5 154.4h1.3v1.3h-1.3zM584.2 162.6h1.3v1.3h-1.3zM588.6 163.3h1.3v1.3h-1.3zM586.2 152.0h1.3v1.3h-1.3zM587.3 157.1h1.3v1.3h-1.3zM586.3 143.2h1.3v1.3h-1.3zM584.7 161.6h1.3v1.3h-1.3zM585.1 163.4h1.3v1.3h-1.3zM588.5 164.7h1.3v1.3h-1.3zM587.2 156.0h1.3v1.3h-1.3zM586.3 153.9h1.3v1.3h-1.3zM585.3 158.2h1.3v1.3h-1.3zM585.3 146.2h1.3v1.3h-1.3zM584.6 151.6h1.3v1.3h-1.3zM587.6 144.2h1.3v1.3h-1.3zM584.8 164.6h1.3v1.3h-1.3zM585.0 164.1h1.3v1.3h-1.3zM584.1 157.8h1.3v1.3h-1.3zM586.5 149.2h1.3v1.3h-1.3zM587.8 159.3h1.3v1.3h-1.3zM587.4 146.5h1.3v1.3h-1.3zM585.9 164.6h1.3v1.3h-1.3zM589.6 159.6h1.3v1.3h-1.3zM582.4 164.6h1.3v1.3h-1.3zM587.8 156.9h1.3v1.3h-1.3zM584.9 158.2h1.3v1.3h-1.3zM588.5 147.4h1.3v1.3h-1.3zM584.5 149.8h1.3v1.3h-1.3zM583.8 144.6h1.3v1.3h-1.3zM586.1 126.8h1.3v1.3h-1.3zM588.1 124.3h1.3v1.3h-1.3zM584.8 156.5h1.3v1.3h-1.3zM583.2 158.5h1.3v1.3h-1.3zM588.7 150.6h1.3v1.3h-1.3zM585.8 143.4h1.3v1.3h-1.3zM585.6 157.7h1.3v1.3h-1.3zM588.6 160.0h1.3v1.3h-1.3zM585.7 159.7h1.3v1.3h-1.3zM587.7 155.9h1.3v1.3h-1.3zM585.0 148.8h1.3v1.3h-1.3zM583.8 159.7h1.3v1.3h-1.3zM587.4 163.0h1.3v1.3h-1.3zM589.0 150.2h1.3v1.3h-1.3zM581.8 155.5h1.3v1.3h-1.3zM589.0 152.6h1.3v1.3h-1.3zM586.1 137.3h1.3v1.3h-1.3zM588.2 155.5h1.3v1.3h-1.3zM588.4 164.7h1.3v1.3h-1.3zM585.5 148.4h1.3v1.3h-1.3zM589.0 151.6h1.3v1.3h-1.3zM584.9 156.0h1.3v1.3h-1.3zM586.4 154.6h1.3v1.3h-1.3zM586.5 120.7h1.3v1.3h-1.3zM586.4 163.4h1.3v1.3h-1.3zM587.0 160.7h1.3v1.3h-1.3zM586.1 155.7h1.3v1.3h-1.3zM585.8 138.7h1.3v1.3h-1.3zM587.4 162.7h1.3v1.3h-1.3zM584.4 164.7h1.3v1.3h-1.3zM585.2 154.4h1.3v1.3h-1.3zM585.8 156.2h1.3v1.3h-1.3zM585.1 162.5h1.3v1.3h-1.3zM585.2 136.5h1.3v1.3h-1.3zM583.7 160.1h1.3v1.3h-1.3zM584.5 153.7h1.3v1.3h-1.3zM587.8 121.9h1.3v1.3h-1.3zM583.8 156.6h1.3v1.3h-1.3zM586.9 156.4h1.3v1.3h-1.3zM589.1 159.6h1.3v1.3h-1.3zM586.6 156.0h1.3v1.3h-1.3zM584.4 139.5h1.3v1.3h-1.3zM588.9 142.8h1.3v1.3h-1.3zM586.3 162.3h1.3v1.3h-1.3zM585.7 151.5h1.3v1.3h-1.3zM586.0 144.7h1.3v1.3h-1.3zM584.9 160.0h1.3v1.3h-1.3zM587.9 163.3h1.3v1.3h-1.3zM584.9 144.6h1.3v1.3h-1.3zM582.7 156.6h1.3v1.3h-1.3zM587.8 127.2h1.3v1.3h-1.3zM584.2 146.9h1.3v1.3h-1.3zM583.5 160.6h1.3v1.3h-1.3zM586.8 160.6h1.3v1.3h-1.3zM583.9 145.6h1.3v1.3h-1.3zM585.6 148.3h1.3v1.3h-1.3zM586.7 145.1h1.3v1.3h-1.3zM584.8 137.2h1.3v1.3h-1.3zM585.9 139.6h1.3v1.3h-1.3zM586.9 163.1h1.3v1.3h-1.3zM588.1 156.9h1.3v1.3h-1.3zM589.9 145.9h1.3v1.3h-1.3zM588.6 160.9h1.3v1.3h-1.3zM590.2 155.3h1.3v1.3h-1.3zM588.5 155.0h1.3v1.3h-1.3zM588.5 120.2h1.3v1.3h-1.3zM589.2 134.6h1.3v1.3h-1.3zM590.8 126.1h1.3v1.3h-1.3zM588.1 132.7h1.3v1.3h-1.3zM590.4 156.4h1.3v1.3h-1.3zM588.8 161.7h1.3v1.3h-1.3zM588.7 161.1h1.3v1.3h-1.3zM588.7 156.3h1.3v1.3h-1.3zM588.9 142.3h1.3v1.3h-1.3zM588.9 159.0h1.3v1.3h-1.3zM590.0 134.0h1.3v1.3h-1.3zM588.6 163.0h1.3v1.3h-1.3zM589.0 137.3h1.3v1.3h-1.3zM591.2 125.4h1.3v1.3h-1.3zM588.9 161.5h1.3v1.3h-1.3zM590.9 164.7h1.3v1.3h-1.3zM590.2 155.0h1.3v1.3h-1.3zM589.2 144.9h1.3v1.3h-1.3zM591.7 148.8h1.3v1.3h-1.3zM590.1 163.7h1.3v1.3h-1.3zM588.4 163.0h1.3v1.3h-1.3zM589.5 130.3h1.3v1.3h-1.3zM589.9 136.2h1.3v1.3h-1.3zM589.5 136.2h1.3v1.3h-1.3zM588.6 123.3h1.3v1.3h-1.3zM592.4 147.9h1.3v1.3h-1.3zM588.9 164.4h1.3v1.3h-1.3zM589.6 153.1h1.3v1.3h-1.3zM588.5 126.9h1.3v1.3h-1.3zM594.2 163.5h1.3v1.3h-1.3zM589.3 141.9h1.3v1.3h-1.3zM590.7 151.0h1.3v1.3h-1.3zM591.0 164.6h1.3v1.3h-1.3zM589.6 164.6h1.3v1.3h-1.3zM588.2 151.5h1.3v1.3h-1.3zM589.5 161.8h1.3v1.3h-1.3zM590.2 152.8h1.3v1.3h-1.3z" fill="#e8240c" opacity="0.88"/>
<path d="M609.4 114.2h1.1v1.1h-1.1zM580.8 115.8h1.1v1.1h-1.1zM589.7 125.2h1.1v1.1h-1.1zM591.0 134.7h1.1v1.1h-1.1z" fill="#ee4030" opacity="0.75"/>
<path d="M584.0 164.3h1.3v1.3h-1.3zM584.3 163.4h1.3v1.3h-1.3zM584.1 164.0h1.3v1.3h-1.3zM577.0 159.6h1.3v1.3h-1.3zM585.6 153.6h1.3v1.3h-1.3zM581.3 164.1h1.3v1.3h-1.3zM588.3 164.8h1.3v1.3h-1.3zM583.9 163.9h1.3v1.3h-1.3zM585.4 160.2h1.3v1.3h-1.3zM583.1 160.0h1.3v1.3h-1.3zM570.8 161.2h1.3v1.3h-1.3zM580.7 160.7h1.3v1.3h-1.3zM579.2 161.3h1.3v1.3h-1.3zM575.9 164.5h1.3v1.3h-1.3zM580.6 162.9h1.3v1.3h-1.3zM586.6 153.6h1.3v1.3h-1.3zM570.9 157.3h1.3v1.3h-1.3zM575.1 164.1h1.3v1.3h-1.3zM579.3 157.3h1.3v1.3h-1.3zM585.5 164.6h1.3v1.3h-1.3zM586.3 163.9h1.3v1.3h-1.3zM579.1 160.9h1.3v1.3h-1.3zM578.3 163.8h1.3v1.3h-1.3zM573.4 162.1h1.3v1.3h-1.3zM580.7 163.6h1.3v1.3h-1.3zM580.4 164.8h1.3v1.3h-1.3zM585.9 163.2h1.3v1.3h-1.3zM588.8 163.1h1.3v1.3h-1.3zM568.7 162.5h1.3v1.3h-1.3zM565.6 157.3h1.3v1.3h-1.3zM589.0 154.3h1.3v1.3h-1.3zM586.0 160.8h1.3v1.3h-1.3zM575.6 163.5h1.3v1.3h-1.3zM585.7 160.7h1.3v1.3h-1.3zM585.7 162.8h1.3v1.3h-1.3zM583.0 164.9h1.3v1.3h-1.3zM579.5 159.9h1.3v1.3h-1.3zM588.8 161.0h1.3v1.3h-1.3zM587.6 164.4h1.3v1.3h-1.3zM588.9 164.0h1.3v1.3h-1.3zM582.1 164.2h1.3v1.3h-1.3zM586.0 161.2h1.3v1.3h-1.3zM585.0 162.8h1.3v1.3h-1.3zM582.1 160.8h1.3v1.3h-1.3zM585.5 164.3h1.3v1.3h-1.3zM588.4 161.7h1.3v1.3h-1.3zM583.5 156.8h1.3v1.3h-1.3zM587.2 157.3h1.3v1.3h-1.3zM580.1 161.2h1.3v1.3h-1.3zM586.3 163.9h1.3v1.3h-1.3zM587.3 164.7h1.3v1.3h-1.3zM583.6 160.1h1.3v1.3h-1.3zM583.4 164.5h1.3v1.3h-1.3zM586.2 161.8h1.3v1.3h-1.3zM583.4 163.2h1.3v1.3h-1.3zM580.7 160.1h1.3v1.3h-1.3zM583.4 160.6h1.3v1.3h-1.3zM582.5 163.3h1.3v1.3h-1.3zM583.0 161.0h1.3v1.3h-1.3zM579.2 161.4h1.3v1.3h-1.3zM587.9 161.9h1.3v1.3h-1.3zM585.5 161.2h1.3v1.3h-1.3zM585.7 161.3h1.3v1.3h-1.3zM579.5 164.7h1.3v1.3h-1.3zM574.6 164.3h1.3v1.3h-1.3zM575.2 162.6h1.3v1.3h-1.3zM587.1 163.3h1.3v1.3h-1.3zM583.9 162.6h1.3v1.3h-1.3zM587.5 159.7h1.3v1.3h-1.3zM586.8 160.9h1.3v1.3h-1.3zM586.2 164.8h1.3v1.3h-1.3zM580.7 163.9h1.3v1.3h-1.3zM584.2 161.2h1.3v1.3h-1.3zM579.3 162.9h1.3v1.3h-1.3zM585.0 161.3h1.3v1.3h-1.3zM587.4 155.5h1.3v1.3h-1.3zM588.3 158.8h1.3v1.3h-1.3zM586.6 162.5h1.3v1.3h-1.3zM580.3 162.2h1.3v1.3h-1.3zM571.9 162.5h1.3v1.3h-1.3zM584.4 163.7h1.3v1.3h-1.3zM576.6 162.7h1.3v1.3h-1.3zM583.4 164.4h1.3v1.3h-1.3zM583.8 163.7h1.3v1.3h-1.3zM587.4 159.3h1.3v1.3h-1.3zM581.3 159.4h1.3v1.3h-1.3zM586.8 163.3h1.3v1.3h-1.3zM583.6 154.5h1.3v1.3h-1.3zM576.4 163.1h1.3v1.3h-1.3zM585.2 161.2h1.3v1.3h-1.3zM579.3 163.8h1.3v1.3h-1.3zM577.3 164.8h1.3v1.3h-1.3zM584.9 164.7h1.3v1.3h-1.3zM583.6 160.5h1.3v1.3h-1.3zM580.7 162.7h1.3v1.3h-1.3zM570.4 160.7h1.3v1.3h-1.3zM582.2 164.5h1.3v1.3h-1.3zM577.4 164.2h1.3v1.3h-1.3zM574.3 163.2h1.3v1.3h-1.3zM581.5 164.3h1.3v1.3h-1.3zM576.2 164.6h1.3v1.3h-1.3zM587.4 154.2h1.3v1.3h-1.3zM585.0 162.9h1.3v1.3h-1.3zM586.1 164.2h1.3v1.3h-1.3zM580.2 160.4h1.3v1.3h-1.3zM586.5 163.4h1.3v1.3h-1.3zM574.1 164.2h1.3v1.3h-1.3zM586.5 152.8h1.3v1.3h-1.3zM580.6 164.4h1.3v1.3h-1.3zM586.3 160.3h1.3v1.3h-1.3zM578.9 160.6h1.3v1.3h-1.3zM584.0 161.9h1.3v1.3h-1.3zM585.6 161.7h1.3v1.3h-1.3zM563.3 163.8h1.3v1.3h-1.3zM575.6 163.8h1.3v1.3h-1.3zM578.3 164.8h1.3v1.3h-1.3zM587.6 163.2h1.3v1.3h-1.3zM587.5 159.5h1.3v1.3h-1.3zM586.0 164.5h1.3v1.3h-1.3zM580.8 155.8h1.3v1.3h-1.3zM583.1 164.8h1.3v1.3h-1.3zM588.2 161.8h1.3v1.3h-1.3zM578.8 157.0h1.3v1.3h-1.3zM577.5 164.0h1.3v1.3h-1.3zM585.1 164.0h1.3v1.3h-1.3zM582.7 161.9h1.3v1.3h-1.3zM588.9 158.3h1.3v1.3h-1.3zM588.4 164.5h1.3v1.3h-1.3zM584.3 159.1h1.3v1.3h-1.3zM568.1 164.7h1.3v1.3h-1.3zM581.3 163.2h1.3v1.3h-1.3zM587.1 158.1h1.3v1.3h-1.3zM585.2 161.1h1.3v1.3h-1.3zM585.7 164.2h1.3v1.3h-1.3zM582.5 156.0h1.3v1.3h-1.3zM575.5 161.5h1.3v1.3h-1.3zM586.3 160.9h1.3v1.3h-1.3zM578.9 163.9h1.3v1.3h-1.3zM587.0 160.6h1.3v1.3h-1.3zM582.2 164.3h1.3v1.3h-1.3zM586.8 158.3h1.3v1.3h-1.3zM588.1 164.6h1.3v1.3h-1.3zM586.2 162.1h1.3v1.3h-1.3zM583.2 158.8h1.3v1.3h-1.3zM587.0 161.6h1.3v1.3h-1.3zM581.3 159.5h1.3v1.3h-1.3zM579.0 161.3h1.3v1.3h-1.3zM583.8 160.5h1.3v1.3h-1.3zM569.7 164.3h1.3v1.3h-1.3zM588.6 161.7h1.3v1.3h-1.3zM585.8 162.5h1.3v1.3h-1.3zM585.8 159.0h1.3v1.3h-1.3zM584.7 164.8h1.3v1.3h-1.3zM582.9 159.4h1.3v1.3h-1.3zM588.7 164.3h1.3v1.3h-1.3zM587.4 158.5h1.3v1.3h-1.3zM576.4 160.8h1.3v1.3h-1.3zM578.3 163.9h1.3v1.3h-1.3zM583.0 158.8h1.3v1.3h-1.3zM584.6 164.9h1.3v1.3h-1.3zM579.8 164.8h1.3v1.3h-1.3zM579.4 161.2h1.3v1.3h-1.3zM582.1 157.1h1.3v1.3h-1.3zM578.8 155.0h1.3v1.3h-1.3zM588.2 155.3h1.3v1.3h-1.3zM587.9 164.2h1.3v1.3h-1.3zM575.6 162.5h1.3v1.3h-1.3zM584.6 162.9h1.3v1.3h-1.3zM579.8 158.1h1.3v1.3h-1.3zM588.7 160.4h1.3v1.3h-1.3zM585.7 159.5h1.3v1.3h-1.3zM578.8 161.4h1.3v1.3h-1.3zM581.1 157.8h1.3v1.3h-1.3zM577.0 157.3h1.3v1.3h-1.3zM586.0 163.0h1.3v1.3h-1.3zM580.0 161.5h1.3v1.3h-1.3zM583.3 158.0h1.3v1.3h-1.3zM577.8 160.9h1.3v1.3h-1.3zM586.9 164.3h1.3v1.3h-1.3zM585.4 160.8h1.3v1.3h-1.3zM575.4 164.9h1.3v1.3h-1.3zM577.9 162.5h1.3v1.3h-1.3zM586.2 155.0h1.3v1.3h-1.3zM571.0 164.5h1.3v1.3h-1.3zM585.3 159.3h1.3v1.3h-1.3zM584.0 163.2h1.3v1.3h-1.3zM584.7 164.5h1.3v1.3h-1.3zM579.6 164.6h1.3v1.3h-1.3zM580.3 159.5h1.3v1.3h-1.3zM582.4 157.5h1.3v1.3h-1.3zM588.5 158.5h1.3v1.3h-1.3zM587.6 161.6h1.3v1.3h-1.3zM582.8 164.3h1.3v1.3h-1.3zM582.7 158.3h1.3v1.3h-1.3zM580.0 153.3h1.3v1.3h-1.3zM568.9 162.8h1.3v1.3h-1.3zM584.6 162.0h1.3v1.3h-1.3zM587.7 160.7h1.3v1.3h-1.3zM573.8 159.3h1.3v1.3h-1.3zM585.4 160.1h1.3v1.3h-1.3zM587.9 164.0h1.3v1.3h-1.3zM584.5 164.9h1.3v1.3h-1.3zM581.1 164.5h1.3v1.3h-1.3zM582.4 164.8h1.3v1.3h-1.3zM578.2 162.3h1.3v1.3h-1.3zM588.4 155.2h1.3v1.3h-1.3zM582.3 161.0h1.3v1.3h-1.3zM583.9 157.5h1.3v1.3h-1.3zM572.1 161.7h1.3v1.3h-1.3zM581.2 160.8h1.3v1.3h-1.3zM578.0 164.8h1.3v1.3h-1.3zM585.8 160.2h1.3v1.3h-1.3zM582.7 164.3h1.3v1.3h-1.3zM587.5 164.7h1.3v1.3h-1.3zM586.6 164.5h1.3v1.3h-1.3zM579.2 164.5h1.3v1.3h-1.3zM581.7 162.3h1.3v1.3h-1.3zM586.1 164.4h1.3v1.3h-1.3zM577.0 155.1h1.3v1.3h-1.3zM581.4 160.9h1.3v1.3h-1.3zM587.0 162.2h1.3v1.3h-1.3zM586.2 158.2h1.3v1.3h-1.3zM587.5 153.5h1.3v1.3h-1.3zM586.4 158.8h1.3v1.3h-1.3zM587.8 164.4h1.3v1.3h-1.3zM585.7 159.7h1.3v1.3h-1.3zM588.3 159.4h1.3v1.3h-1.3zM586.5 163.4h1.3v1.3h-1.3zM582.7 157.7h1.3v1.3h-1.3zM587.8 162.9h1.3v1.3h-1.3zM577.4 163.1h1.3v1.3h-1.3zM587.1 161.1h1.3v1.3h-1.3zM572.2 161.4h1.3v1.3h-1.3zM570.1 164.4h1.3v1.3h-1.3zM573.2 164.7h1.3v1.3h-1.3zM585.3 158.5h1.3v1.3h-1.3zM579.5 164.9h1.3v1.3h-1.3zM587.4 163.6h1.3v1.3h-1.3zM582.5 163.3h1.3v1.3h-1.3zM586.4 163.1h1.3v1.3h-1.3zM588.4 164.5h1.3v1.3h-1.3zM583.9 164.8h1.3v1.3h-1.3zM586.1 162.1h1.3v1.3h-1.3zM579.5 161.6h1.3v1.3h-1.3zM580.3 155.5h1.3v1.3h-1.3zM588.6 164.9h1.3v1.3h-1.3zM582.4 152.2h1.3v1.3h-1.3zM577.5 164.0h1.3v1.3h-1.3zM585.0 164.8h1.3v1.3h-1.3zM587.6 164.5h1.3v1.3h-1.3zM576.1 164.4h1.3v1.3h-1.3zM580.0 159.6h1.3v1.3h-1.3zM586.7 164.4h1.3v1.3h-1.3zM575.9 164.0h1.3v1.3h-1.3zM573.8 161.7h1.3v1.3h-1.3zM580.5 160.3h1.3v1.3h-1.3zM576.2 164.6h1.3v1.3h-1.3zM577.2 160.3h1.3v1.3h-1.3zM583.2 164.2h1.3v1.3h-1.3zM586.3 164.0h1.3v1.3h-1.3zM562.1 163.3h1.3v1.3h-1.3zM579.7 164.3h1.3v1.3h-1.3zM588.4 164.3h1.3v1.3h-1.3zM584.4 162.1h1.3v1.3h-1.3zM576.4 161.4h1.3v1.3h-1.3zM583.0 162.3h1.3v1.3h-1.3zM573.0 159.9h1.3v1.3h-1.3zM587.2 163.8h1.3v1.3h-1.3zM576.5 156.9h1.3v1.3h-1.3zM578.6 161.7h1.3v1.3h-1.3zM585.7 157.0h1.3v1.3h-1.3zM586.1 163.6h1.3v1.3h-1.3zM587.1 156.6h1.3v1.3h-1.3zM586.5 164.7h1.3v1.3h-1.3zM584.6 154.7h1.3v1.3h-1.3zM589.0 164.8h1.3v1.3h-1.3zM580.2 161.9h1.3v1.3h-1.3zM588.4 158.5h1.3v1.3h-1.3zM586.7 156.8h1.3v1.3h-1.3zM579.3 162.1h1.3v1.3h-1.3zM581.1 161.4h1.3v1.3h-1.3zM585.7 163.9h1.3v1.3h-1.3zM582.3 162.9h1.3v1.3h-1.3zM579.9 161.8h1.3v1.3h-1.3zM570.5 164.1h1.3v1.3h-1.3zM581.7 161.0h1.3v1.3h-1.3zM576.9 164.1h1.3v1.3h-1.3zM575.1 161.5h1.3v1.3h-1.3zM588.6 162.0h1.3v1.3h-1.3zM582.6 161.2h1.3v1.3h-1.3zM582.0 160.6h1.3v1.3h-1.3zM587.1 159.2h1.3v1.3h-1.3zM586.4 162.3h1.3v1.3h-1.3zM583.3 160.9h1.3v1.3h-1.3zM585.3 159.3h1.3v1.3h-1.3zM582.7 161.1h1.3v1.3h-1.3zM588.2 159.1h1.3v1.3h-1.3zM588.8 162.3h1.3v1.3h-1.3zM572.9 163.6h1.3v1.3h-1.3zM588.4 164.8h1.3v1.3h-1.3zM571.4 164.9h1.3v1.3h-1.3zM585.5 163.9h1.3v1.3h-1.3zM586.1 157.0h1.3v1.3h-1.3zM571.5 160.1h1.3v1.3h-1.3zM585.6 158.7h1.3v1.3h-1.3zM584.7 157.3h1.3v1.3h-1.3zM572.8 164.9h1.3v1.3h-1.3zM573.4 163.0h1.3v1.3h-1.3zM577.2 158.4h1.3v1.3h-1.3zM587.1 163.8h1.3v1.3h-1.3zM584.1 161.5h1.3v1.3h-1.3zM570.3 164.7h1.3v1.3h-1.3zM580.5 160.7h1.3v1.3h-1.3zM582.6 162.8h1.3v1.3h-1.3zM581.5 158.5h1.3v1.3h-1.3zM575.2 164.0h1.3v1.3h-1.3zM587.1 164.6h1.3v1.3h-1.3zM588.7 162.6h1.3v1.3h-1.3zM584.7 161.8h1.3v1.3h-1.3zM584.6 164.9h1.3v1.3h-1.3zM575.7 160.4h1.3v1.3h-1.3zM587.2 158.3h1.3v1.3h-1.3zM583.6 158.7h1.3v1.3h-1.3zM580.2 158.3h1.3v1.3h-1.3zM584.0 164.5h1.3v1.3h-1.3zM584.2 157.4h1.3v1.3h-1.3zM583.4 161.4h1.3v1.3h-1.3zM586.5 164.8h1.3v1.3h-1.3zM586.7 158.5h1.3v1.3h-1.3zM580.9 164.7h1.3v1.3h-1.3zM588.5 164.7h1.3v1.3h-1.3zM588.9 164.7h1.3v1.3h-1.3zM578.3 164.4h1.3v1.3h-1.3zM587.6 159.4h1.3v1.3h-1.3zM583.3 151.6h1.3v1.3h-1.3zM588.1 161.0h1.3v1.3h-1.3zM576.7 160.6h1.3v1.3h-1.3zM580.1 161.9h1.3v1.3h-1.3zM584.2 159.6h1.3v1.3h-1.3zM581.0 160.7h1.3v1.3h-1.3zM588.1 164.3h1.3v1.3h-1.3zM569.8 163.9h1.3v1.3h-1.3zM565.9 161.1h1.3v1.3h-1.3zM580.9 159.1h1.3v1.3h-1.3zM576.8 163.2h1.3v1.3h-1.3zM579.9 164.2h1.3v1.3h-1.3zM575.4 160.9h1.3v1.3h-1.3zM580.7 153.5h1.3v1.3h-1.3zM579.3 158.9h1.3v1.3h-1.3zM587.8 160.5h1.3v1.3h-1.3zM570.3 163.7h1.3v1.3h-1.3zM572.8 162.2h1.3v1.3h-1.3zM581.0 164.0h1.3v1.3h-1.3zM585.5 161.1h1.3v1.3h-1.3zM584.4 164.3h1.3v1.3h-1.3zM581.3 162.6h1.3v1.3h-1.3zM577.5 158.9h1.3v1.3h-1.3zM579.4 162.0h1.3v1.3h-1.3zM585.6 158.3h1.3v1.3h-1.3zM580.5 164.4h1.3v1.3h-1.3zM582.6 162.8h1.3v1.3h-1.3zM587.2 162.9h1.3v1.3h-1.3zM584.2 161.6h1.3v1.3h-1.3zM584.3 160.2h1.3v1.3h-1.3zM584.8 164.1h1.3v1.3h-1.3zM580.1 157.8h1.3v1.3h-1.3zM579.8 162.6h1.3v1.3h-1.3zM580.4 156.8h1.3v1.3h-1.3zM582.0 163.5h1.3v1.3h-1.3zM583.6 164.5h1.3v1.3h-1.3zM581.1 162.9h1.3v1.3h-1.3zM587.0 157.8h1.3v1.3h-1.3zM584.0 163.4h1.3v1.3h-1.3zM588.7 163.7h1.3v1.3h-1.3zM571.9 164.9h1.3v1.3h-1.3zM587.1 159.8h1.3v1.3h-1.3zM584.7 157.8h1.3v1.3h-1.3zM587.2 151.8h1.3v1.3h-1.3zM579.9 159.8h1.3v1.3h-1.3zM579.8 162.0h1.3v1.3h-1.3zM584.7 161.8h1.3v1.3h-1.3zM588.5 164.4h1.3v1.3h-1.3zM588.3 164.4h1.3v1.3h-1.3zM580.8 159.3h1.3v1.3h-1.3zM588.1 161.4h1.3v1.3h-1.3zM583.3 158.7h1.3v1.3h-1.3zM588.2 160.2h1.3v1.3h-1.3zM585.7 164.6h1.3v1.3h-1.3zM589.0 158.7h1.3v1.3h-1.3zM588.6 154.3h1.3v1.3h-1.3zM574.6 163.8h1.3v1.3h-1.3zM586.6 159.7h1.3v1.3h-1.3zM582.5 164.4h1.3v1.3h-1.3zM573.0 164.2h1.3v1.3h-1.3zM585.1 159.5h1.3v1.3h-1.3zM585.9 163.9h1.3v1.3h-1.3zM584.7 156.0h1.3v1.3h-1.3zM583.6 149.7h1.3v1.3h-1.3zM576.8 159.1h1.3v1.3h-1.3zM585.3 163.8h1.3v1.3h-1.3zM585.0 163.9h1.3v1.3h-1.3zM585.6 162.3h1.3v1.3h-1.3zM588.7 159.0h1.3v1.3h-1.3zM587.5 160.2h1.3v1.3h-1.3zM576.9 164.7h1.3v1.3h-1.3zM587.4 163.8h1.3v1.3h-1.3zM581.6 164.3h1.3v1.3h-1.3zM589.0 164.0h1.3v1.3h-1.3zM583.1 151.8h1.3v1.3h-1.3zM579.2 160.8h1.3v1.3h-1.3zM579.9 164.6h1.3v1.3h-1.3zM573.9 164.3h1.3v1.3h-1.3zM582.7 161.8h1.3v1.3h-1.3zM588.9 164.6h1.3v1.3h-1.3zM582.1 161.5h1.3v1.3h-1.3zM587.0 159.2h1.3v1.3h-1.3zM582.6 164.7h1.3v1.3h-1.3zM578.2 160.0h1.3v1.3h-1.3zM579.2 163.4h1.3v1.3h-1.3zM589.0 161.6h1.3v1.3h-1.3zM573.7 164.2h1.3v1.3h-1.3zM587.7 163.1h1.3v1.3h-1.3zM588.4 162.7h1.3v1.3h-1.3zM585.5 161.8h1.3v1.3h-1.3zM578.4 162.5h1.3v1.3h-1.3zM585.4 159.3h1.3v1.3h-1.3zM586.2 159.4h1.3v1.3h-1.3zM585.5 162.3h1.3v1.3h-1.3zM584.3 158.8h1.3v1.3h-1.3zM587.1 164.7h1.3v1.3h-1.3zM579.7 164.6h1.3v1.3h-1.3zM588.4 153.8h1.3v1.3h-1.3zM582.7 163.6h1.3v1.3h-1.3zM587.3 161.7h1.3v1.3h-1.3zM573.9 161.4h1.3v1.3h-1.3zM582.8 164.1h1.3v1.3h-1.3zM570.1 163.9h1.3v1.3h-1.3zM585.2 159.0h1.3v1.3h-1.3zM588.5 163.6h1.3v1.3h-1.3zM580.3 161.2h1.3v1.3h-1.3zM586.7 161.5h1.3v1.3h-1.3zM588.7 164.1h1.3v1.3h-1.3zM582.4 161.7h1.3v1.3h-1.3zM580.2 161.7h1.3v1.3h-1.3zM582.6 156.3h1.3v1.3h-1.3zM580.2 164.1h1.3v1.3h-1.3zM582.8 157.8h1.3v1.3h-1.3zM580.1 162.7h1.3v1.3h-1.3zM581.1 163.9h1.3v1.3h-1.3zM581.2 164.0h1.3v1.3h-1.3zM574.6 157.2h1.3v1.3h-1.3zM574.5 164.8h1.3v1.3h-1.3zM576.6 161.3h1.3v1.3h-1.3zM583.1 161.8h1.3v1.3h-1.3zM569.7 162.3h1.3v1.3h-1.3zM576.3 162.8h1.3v1.3h-1.3zM581.9 154.2h1.3v1.3h-1.3zM583.9 164.2h1.3v1.3h-1.3zM581.3 162.6h1.3v1.3h-1.3zM587.8 164.0h1.3v1.3h-1.3zM584.7 161.9h1.3v1.3h-1.3zM586.7 164.3h1.3v1.3h-1.3zM587.4 162.8h1.3v1.3h-1.3zM587.6 161.1h1.3v1.3h-1.3zM586.5 163.2h1.3v1.3h-1.3zM584.7 164.2h1.3v1.3h-1.3zM576.2 158.6h1.3v1.3h-1.3zM578.7 163.5h1.3v1.3h-1.3zM578.8 162.0h1.3v1.3h-1.3zM581.0 160.2h1.3v1.3h-1.3zM583.0 161.1h1.3v1.3h-1.3zM583.5 164.4h1.3v1.3h-1.3zM585.9 159.1h1.3v1.3h-1.3zM586.6 164.7h1.3v1.3h-1.3zM587.8 160.1h1.3v1.3h-1.3zM584.4 164.4h1.3v1.3h-1.3zM580.1 163.4h1.3v1.3h-1.3zM587.8 164.6h1.3v1.3h-1.3zM585.4 163.8h1.3v1.3h-1.3zM572.8 164.3h1.3v1.3h-1.3zM574.5 161.5h1.3v1.3h-1.3zM586.3 164.5h1.3v1.3h-1.3zM579.8 164.3h1.3v1.3h-1.3zM568.9 158.2h1.3v1.3h-1.3zM581.9 161.3h1.3v1.3h-1.3zM581.1 156.9h1.3v1.3h-1.3zM585.8 164.2h1.3v1.3h-1.3zM573.7 164.7h1.3v1.3h-1.3zM563.2 162.2h1.3v1.3h-1.3zM582.5 160.0h1.3v1.3h-1.3zM575.6 164.7h1.3v1.3h-1.3zM577.7 161.2h1.3v1.3h-1.3zM583.0 160.3h1.3v1.3h-1.3zM586.5 164.8h1.3v1.3h-1.3zM584.3 163.8h1.3v1.3h-1.3zM584.3 163.8h1.3v1.3h-1.3zM577.8 159.5h1.3v1.3h-1.3zM588.2 164.8h1.3v1.3h-1.3zM566.8 164.4h1.3v1.3h-1.3zM586.5 164.9h1.3v1.3h-1.3zM585.2 163.8h1.3v1.3h-1.3zM574.9 163.1h1.3v1.3h-1.3zM588.2 163.5h1.3v1.3h-1.3zM579.7 158.6h1.3v1.3h-1.3zM582.8 161.6h1.3v1.3h-1.3zM584.4 162.7h1.3v1.3h-1.3zM586.3 161.3h1.3v1.3h-1.3zM567.4 164.2h1.3v1.3h-1.3zM581.4 164.0h1.3v1.3h-1.3zM584.5 159.2h1.3v1.3h-1.3zM585.1 159.5h1.3v1.3h-1.3zM576.5 164.6h1.3v1.3h-1.3zM578.2 157.1h1.3v1.3h-1.3zM589.0 164.8h1.3v1.3h-1.3zM569.6 161.7h1.3v1.3h-1.3zM578.7 163.3h1.3v1.3h-1.3zM583.9 161.6h1.3v1.3h-1.3zM586.8 160.5h1.3v1.3h-1.3zM584.6 158.6h1.3v1.3h-1.3zM580.8 164.1h1.3v1.3h-1.3zM583.6 164.9h1.3v1.3h-1.3zM585.5 157.5h1.3v1.3h-1.3zM583.5 163.6h1.3v1.3h-1.3zM586.0 164.9h1.3v1.3h-1.3zM586.6 160.4h1.3v1.3h-1.3zM574.6 164.1h1.3v1.3h-1.3zM587.4 164.4h1.3v1.3h-1.3zM577.6 164.8h1.3v1.3h-1.3zM580.7 164.3h1.3v1.3h-1.3zM588.6 157.2h1.3v1.3h-1.3zM584.7 159.4h1.3v1.3h-1.3zM586.1 159.9h1.3v1.3h-1.3zM574.5 160.9h1.3v1.3h-1.3zM581.2 160.2h1.3v1.3h-1.3zM578.1 161.5h1.3v1.3h-1.3zM588.2 159.0h1.3v1.3h-1.3zM576.3 156.5h1.3v1.3h-1.3zM582.1 164.7h1.3v1.3h-1.3zM581.0 161.7h1.3v1.3h-1.3zM583.5 161.0h1.3v1.3h-1.3zM582.6 164.6h1.3v1.3h-1.3zM579.3 164.3h1.3v1.3h-1.3zM574.9 162.5h1.3v1.3h-1.3zM576.3 162.2h1.3v1.3h-1.3zM582.1 158.0h1.3v1.3h-1.3zM578.3 162.6h1.3v1.3h-1.3zM586.7 157.0h1.3v1.3h-1.3zM586.4 160.6h1.3v1.3h-1.3zM575.7 164.2h1.3v1.3h-1.3zM582.5 159.7h1.3v1.3h-1.3zM580.6 154.9h1.3v1.3h-1.3zM574.5 163.1h1.3v1.3h-1.3zM576.7 158.9h1.3v1.3h-1.3zM580.9 164.8h1.3v1.3h-1.3zM586.3 164.0h1.3v1.3h-1.3zM585.4 163.7h1.3v1.3h-1.3zM587.4 164.5h1.3v1.3h-1.3zM572.0 160.8h1.3v1.3h-1.3zM581.3 163.9h1.3v1.3h-1.3zM583.7 157.1h1.3v1.3h-1.3zM579.4 161.3h1.3v1.3h-1.3zM585.8 156.9h1.3v1.3h-1.3zM583.0 164.1h1.3v1.3h-1.3zM577.3 164.3h1.3v1.3h-1.3zM579.1 164.2h1.3v1.3h-1.3zM584.6 160.4h1.3v1.3h-1.3zM581.9 156.2h1.3v1.3h-1.3zM587.5 163.9h1.3v1.3h-1.3zM583.7 164.9h1.3v1.3h-1.3zM587.1 159.3h1.3v1.3h-1.3zM588.1 164.2h1.3v1.3h-1.3zM574.2 164.3h1.3v1.3h-1.3zM583.8 164.8h1.3v1.3h-1.3zM585.3 164.4h1.3v1.3h-1.3zM583.2 164.8h1.3v1.3h-1.3zM581.2 158.3h1.3v1.3h-1.3zM565.9 163.0h1.3v1.3h-1.3zM584.2 153.7h1.3v1.3h-1.3zM576.4 156.2h1.3v1.3h-1.3zM576.5 159.2h1.3v1.3h-1.3zM572.4 162.9h1.3v1.3h-1.3zM580.3 163.9h1.3v1.3h-1.3zM585.3 157.0h1.3v1.3h-1.3zM583.0 163.9h1.3v1.3h-1.3zM584.3 164.0h1.3v1.3h-1.3zM578.7 160.5h1.3v1.3h-1.3zM579.5 164.7h1.3v1.3h-1.3zM587.4 158.3h1.3v1.3h-1.3zM586.1 159.2h1.3v1.3h-1.3zM583.3 160.4h1.3v1.3h-1.3zM584.0 164.6h1.3v1.3h-1.3zM587.8 164.9h1.3v1.3h-1.3zM585.4 164.5h1.3v1.3h-1.3zM586.0 164.6h1.3v1.3h-1.3zM587.1 164.7h1.3v1.3h-1.3zM576.5 164.4h1.3v1.3h-1.3zM587.6 163.0h1.3v1.3h-1.3zM581.5 164.5h1.3v1.3h-1.3zM580.0 161.8h1.3v1.3h-1.3zM572.6 164.1h1.3v1.3h-1.3zM583.8 162.7h1.3v1.3h-1.3zM586.9 164.5h1.3v1.3h-1.3zM587.6 163.8h1.3v1.3h-1.3zM588.8 161.5h1.3v1.3h-1.3zM579.5 161.2h1.3v1.3h-1.3zM579.0 164.2h1.3v1.3h-1.3zM568.0 164.6h1.3v1.3h-1.3zM582.8 154.2h1.3v1.3h-1.3zM585.5 159.2h1.3v1.3h-1.3zM586.8 160.8h1.3v1.3h-1.3zM583.9 163.7h1.3v1.3h-1.3zM583.8 159.2h1.3v1.3h-1.3zM588.9 164.1h1.3v1.3h-1.3zM586.6 164.8h1.3v1.3h-1.3zM587.7 164.8h1.3v1.3h-1.3zM575.3 164.5h1.3v1.3h-1.3zM587.0 164.7h1.3v1.3h-1.3zM583.2 155.2h1.3v1.3h-1.3zM587.9 163.9h1.3v1.3h-1.3zM586.6 163.7h1.3v1.3h-1.3zM588.6 158.8h1.3v1.3h-1.3zM581.4 164.5h1.3v1.3h-1.3zM583.4 159.1h1.3v1.3h-1.3zM588.2 161.7h1.3v1.3h-1.3zM581.0 158.3h1.3v1.3h-1.3zM587.9 161.9h1.3v1.3h-1.3zM573.7 161.1h1.3v1.3h-1.3zM582.1 164.0h1.3v1.3h-1.3zM570.8 164.6h1.3v1.3h-1.3zM581.8 160.2h1.3v1.3h-1.3zM586.7 162.2h1.3v1.3h-1.3zM582.9 163.7h1.3v1.3h-1.3zM581.5 157.0h1.3v1.3h-1.3zM588.0 158.9h1.3v1.3h-1.3zM573.5 162.7h1.3v1.3h-1.3zM585.0 164.3h1.3v1.3h-1.3zM570.2 164.3h1.3v1.3h-1.3zM585.5 162.1h1.3v1.3h-1.3zM587.5 163.3h1.3v1.3h-1.3zM588.0 159.8h1.3v1.3h-1.3zM577.9 162.1h1.3v1.3h-1.3zM585.1 164.9h1.3v1.3h-1.3zM587.2 163.8h1.3v1.3h-1.3zM578.1 160.5h1.3v1.3h-1.3zM584.0 159.8h1.3v1.3h-1.3zM583.1 159.1h1.3v1.3h-1.3zM587.9 163.9h1.3v1.3h-1.3zM588.6 163.8h1.3v1.3h-1.3zM582.7 161.7h1.3v1.3h-1.3zM583.8 163.5h1.3v1.3h-1.3z" fill="#e52a08"/>
<polygon points="569.7,166.1 575.1,163.9 579.2,160.4 582.4,158.2 584.9,151.9 587.8,148.8 590.3,153.5 591.3,159.8 590.3,166.1" fill="#e52d0a"/>
<line x1="587.1" y1="40.3" x2="587.1" y2="166.1" stroke="#f04848" stroke-width="1.3"/>
<line x1="555.4" y1="122.1" x2="682.4" y2="122.1" stroke="#f04848" stroke-width="1.3"/>
<path d="M555.4 40.3H682.4V166.1" fill="none" stroke="#333" stroke-width="1.2"/>
<path d="M555.4 39.8V166.1H682.9" fill="none" stroke="#1a1a1a" stroke-width="1.6"/>
<path d="M552.4 166.1H555.4M555.4 166.1V169.1M552.4 134.7H555.4M587.1 166.1V169.1M552.4 103.2H555.4M618.9 166.1V169.1M552.4 71.8H555.4M650.6 166.1V169.1M552.4 40.3H555.4M682.4 166.1V169.1M553.8 156.6H555.4M565.0 166.1V167.7M553.8 151.1H555.4M570.5 166.1V167.7M553.8 147.2H555.4M574.5 166.1V167.7M553.8 144.1H555.4M577.6 166.1V167.7M553.8 141.6H555.4M580.1 166.1V167.7M553.8 139.5H555.4M582.2 166.1V167.7M553.8 137.7H555.4M584.1 166.1V167.7M553.8 136.1H555.4M585.7 166.1V167.7M553.8 125.2H555.4M596.7 166.1V167.7M553.8 119.6H555.4M602.3 166.1V167.7M553.8 115.7H555.4M606.3 166.1V167.7M553.8 112.7H555.4M609.3 166.1V167.7M553.8 110.2H555.4M611.9 166.1V167.7M553.8 108.1H555.4M614.0 166.1V167.7M553.8 106.2H555.4M615.8 166.1V167.7M553.8 104.6H555.4M617.4 166.1V167.7M553.8 93.7H555.4M628.5 166.1V167.7M553.8 88.2H555.4M634.0 166.1V167.7M553.8 84.3H555.4M638.0 166.1V167.7M553.8 81.2H555.4M641.1 166.1V167.7M553.8 78.7H555.4M643.6 166.1V167.7M553.8 76.6H555.4M645.7 166.1V167.7M553.8 74.8H555.4M647.6 166.1V167.7M553.8 73.2H555.4M649.2 166.1V167.7M553.8 62.3H555.4M660.2 166.1V167.7M553.8 56.7H555.4M665.8 166.1V167.7M553.8 52.8H555.4M669.8 166.1V167.7M553.8 49.8H555.4M672.8 166.1V167.7M553.8 47.3H555.4M675.4 166.1V167.7M553.8 45.2H555.4M677.5 166.1V167.7M553.8 43.3H555.4M679.3 166.1V167.7M553.8 41.7H555.4M680.9 166.1V167.7" stroke="#333" stroke-width="0.8" fill="none"/>
<text x="551.9" y="168.6" font-size="10.5" text-anchor="end" fill="#2a2a38">0</text>
<text x="555.4" y="178.4" font-size="10.5" text-anchor="middle" fill="#2a2a38">0</text>
<text x="551.9" y="137.2" font-size="10.5" text-anchor="end" fill="#2a2a38">1</text>
<text x="587.1" y="178.4" font-size="10.5" text-anchor="middle" fill="#2a2a38">1</text>
<text x="551.9" y="105.7" font-size="10.5" text-anchor="end" fill="#2a2a38">2</text>
<text x="618.9" y="178.4" font-size="10.5" text-anchor="middle" fill="#2a2a38">2</text>
<text x="551.9" y="74.2" font-size="10.5" text-anchor="end" fill="#2a2a38">3</text>
<text x="650.6" y="178.4" font-size="10.5" text-anchor="middle" fill="#2a2a38">3</text>
<text x="551.9" y="42.8" font-size="10.5" text-anchor="end" fill="#2a2a38">4</text>
<text x="682.4" y="178.4" font-size="10.5" text-anchor="middle" fill="#2a2a38">4</text>
<text transform="translate(538.9,103.0) rotate(-90)" font-size="10.5" text-anchor="middle" textLength="40" lengthAdjust="spacingAndGlyphs" fill="#3a3a48">VIABILITY</text>
<text transform="translate(536.9,50.3) rotate(-90)" font-size="7" text-anchor="middle" fill="#8c96a8">DEAD</text>
<text transform="translate(536.9,157.1) rotate(-90)" font-size="7" text-anchor="middle" fill="#8c96a8">LIVE</text>
<text x="555.9" y="189.5" font-size="7.5" fill="#6a7690">Neg.</text>
<text x="681.4" y="189.5" font-size="7.5" text-anchor="end" fill="#6a7690">Pos.</text>
<text x="619.4" y="189.7" font-size="9.8" text-anchor="middle" textLength="59.5" lengthAdjust="spacingAndGlyphs" fill="#3a3a48">NITRIC OXIDE</text>
<text x="560.7" y="51.3" font-size="8.2" fill="#333">0.23 %</text>
<text x="677.6" y="51.3" font-size="8.2" text-anchor="end" fill="#333">0.13 %</text>
<text x="560.7" y="162.5" font-size="8.2" fill="#111">85.53 %</text>
<text x="677.6" y="162.5" font-size="8.2" text-anchor="end" fill="#333">14.10 %</text>
<text x="141.8" y="255.6" font-size="18" font-weight="bold" fill="#111" stroke="#111" stroke-width="0.5">B</text>
<text x="196.6" y="248.6" textLength="102.2" lengthAdjust="spacingAndGlyphs" font-size="14.5" font-weight="bold" fill="#111">Total cells (RNS-)</text>
<rect x="195.10" y="366.99" width="16.40" height="75.21" fill="#f0b77c" stroke="#111" stroke-width="2.0"/>
<rect x="222.70" y="370.17" width="16.40" height="72.03" fill="#f0187e" stroke="#111" stroke-width="2.0"/>
<rect x="250.30" y="370.97" width="16.40" height="71.23" fill="#5a5af2" stroke="#111" stroke-width="2.0"/>
<rect x="277.90" y="374.79" width="16.40" height="67.41" fill="#00c200" stroke="#111" stroke-width="2.0"/>
<path d="M203.30 365.99V365.43M199.80 365.43H206.80" stroke="#111" stroke-width="1.60" fill="none"/>
<path d="M230.90 369.17V367.82M227.40 367.82H234.40" stroke="#111" stroke-width="1.60" fill="none"/>
<path d="M258.50 369.97V368.62M255.00 368.62H262.00" stroke="#111" stroke-width="1.60" fill="none"/>
<path d="M286.10 373.79V371.80M282.60 371.80H289.60" stroke="#111" stroke-width="1.60" fill="none"/>
<circle cx="199.60" cy="365.59" r="2.4" fill="#111"/>
<circle cx="206.90" cy="365.59" r="2.4" fill="#111"/>
<circle cx="196.30" cy="366.63" r="2.4" fill="#111"/>
<circle cx="210.30" cy="366.63" r="2.4" fill="#111"/>
<circle cx="203.30" cy="366.63" r="2.4" fill="#111"/>
<circle cx="238.20" cy="366.31" r="2.4" fill="#111"/>
<circle cx="227.90" cy="368.22" r="2.4" fill="#111"/>
<circle cx="231.90" cy="367.90" r="2.4" fill="#111"/>
<circle cx="234.90" cy="367.58" r="2.4" fill="#111"/>
<circle cx="224.90" cy="368.62" r="2.4" fill="#111"/>
<circle cx="254.20" cy="367.18" r="2.4" fill="#111"/>
<circle cx="260.30" cy="367.98" r="2.4" fill="#111"/>
<circle cx="266.30" cy="369.01" r="2.4" fill="#111"/>
<circle cx="251.50" cy="369.41" r="2.4" fill="#111"/>
<circle cx="257.50" cy="370.21" r="2.4" fill="#111"/>
<circle cx="278.70" cy="372.99" r="2.4" fill="#111"/>
<circle cx="294.00" cy="373.31" r="2.4" fill="#111"/>
<circle cx="286.40" cy="370.45" r="2.4" fill="#111"/>
<circle cx="282.10" cy="378.96" r="2.4" fill="#111"/>
<circle cx="290.00" cy="378.56" r="2.4" fill="#111"/>
<path d="M185.30 322.88V442.20H305.30" stroke="#111" stroke-width="2.0" fill="none"/>
<path d="M180.00 442.20H185.30M180.00 402.43H185.30M180.00 362.65H185.30M180.00 322.88H185.30M203.30 442.20V447.00M230.90 442.20V447.00M258.50 442.20V447.00M286.10 442.20V447.00" stroke="#111" stroke-width="1.70" fill="none"/>
<text x="178.20" y="446.42" font-size="9.5" font-weight="bold" text-anchor="end" fill="#111" stroke="#111" stroke-width="0.35" letter-spacing="-0.3">0</text>
<text x="178.20" y="406.65" font-size="9.5" font-weight="bold" text-anchor="end" fill="#111" stroke="#111" stroke-width="0.35" letter-spacing="-0.3">50</text>
<text x="178.20" y="366.87" font-size="9.5" font-weight="bold" text-anchor="end" fill="#111" stroke="#111" stroke-width="0.35" letter-spacing="-0.3">100</text>
<text x="178.20" y="327.10" font-size="9.5" font-weight="bold" text-anchor="end" fill="#111" stroke="#111" stroke-width="0.35" letter-spacing="-0.3">150</text>
<text transform="translate(158.3,383.4) rotate(-90)" font-size="10" font-weight="bold" text-anchor="middle" textLength="60.7" lengthAdjust="spacingAndGlyphs" fill="#111" stroke="#111" stroke-width="0.45">Cell ratio [%]</text>
<text transform="translate(205.70,455.20) rotate(-40)" font-size="10.8" font-weight="bold" text-anchor="end" textLength="24.0" lengthAdjust="spacingAndGlyphs" fill="#111" stroke="#111" stroke-width="0.4">CTRL</text>
<text transform="translate(233.30,456.20) rotate(-40)" font-size="10.8" font-weight="bold" text-anchor="end" textLength="13.8" lengthAdjust="spacingAndGlyphs" fill="#111" stroke="#111" stroke-width="0.4">OS</text>
<text transform="translate(263.10,456.20) rotate(-40)" font-size="10.8" font-weight="bold" text-anchor="end" textLength="63.5" lengthAdjust="spacingAndGlyphs" fill="#111" stroke="#111" stroke-width="0.4">OS + ASTA10</text>
<text transform="translate(291.10,455.20) rotate(-40)" font-size="10.8" font-weight="bold" text-anchor="end" textLength="63.5" lengthAdjust="spacingAndGlyphs" fill="#111" stroke="#111" stroke-width="0.4">OS + ASTA20</text>
<path d="M203.00 282.50V275.50H286.50V282.50" stroke="#111" stroke-width="1.9" fill="none"/>
<path d="M228.95 265.80L235.35 265.80M229.89 263.54L234.41 268.06M232.15 262.60L232.15 269.00M234.41 263.54L229.89 268.06" stroke="#111" stroke-width="1.85" stroke-linecap="round"/><circle cx="232.15" cy="265.80" r="1.75" fill="#111"/><path d="M238.55 265.80L244.95 265.80M239.49 263.54L244.01 268.06M241.75 262.60L241.75 269.00M244.01 263.54L239.49 268.06" stroke="#111" stroke-width="1.85" stroke-linecap="round"/><circle cx="241.75" cy="265.80" r="1.75" fill="#111"/><path d="M248.15 265.80L254.55 265.80M249.09 263.54L253.61 268.06M251.35 262.60L251.35 269.00M253.61 263.54L249.09 268.06" stroke="#111" stroke-width="1.85" stroke-linecap="round"/><circle cx="251.35" cy="265.80" r="1.75" fill="#111"/><path d="M257.75 265.80L264.15 265.80M258.69 263.54L263.21 268.06M260.95 262.60L260.95 269.00M263.21 263.54L258.69 268.06" stroke="#111" stroke-width="1.85" stroke-linecap="round"/><circle cx="260.95" cy="265.80" r="1.75" fill="#111"/>
<path d="M230.90 308.50V301.50H286.50V308.50" stroke="#111" stroke-width="1.9" fill="none"/>
<path d="M252.50 292.40L258.90 292.40M253.44 290.14L257.96 294.66M255.70 289.20L255.70 295.60M257.96 290.14L253.44 294.66" stroke="#111" stroke-width="1.85" stroke-linecap="round"/><circle cx="255.70" cy="292.40" r="1.75" fill="#111"/><path d="M262.10 292.40L268.50 292.40M263.04 290.14L267.56 294.66M265.30 289.20L265.30 295.60M267.56 290.14L263.04 294.66" stroke="#111" stroke-width="1.85" stroke-linecap="round"/><circle cx="265.30" cy="292.40" r="1.75" fill="#111"/>
<path d="M203.00 334.00V327.00H258.50V334.00" stroke="#111" stroke-width="1.9" fill="none"/>
<text x="230.75" y="321.27" font-size="9.5" text-anchor="middle" fill="#111" stroke="#111" stroke-width="0.35" letter-spacing="-0.1">ns</text>
<path d="M203.00 359.20V352.20H229.00V359.20" stroke="#111" stroke-width="1.9" fill="none"/>
<text x="216.00" y="347.27" font-size="9.5" text-anchor="middle" fill="#111" stroke="#111" stroke-width="0.35" letter-spacing="-0.1">ns</text>
<path d="M232.80 359.20V352.20H256.80V359.20" stroke="#111" stroke-width="1.9" fill="none"/>
<text x="244.80" y="347.27" font-size="9.5" text-anchor="middle" fill="#111" stroke="#111" stroke-width="0.35" letter-spacing="-0.1">ns</text>
<path d="M260.40 359.20V352.20H286.50V359.20" stroke="#111" stroke-width="1.9" fill="none"/>
<path d="M267.25 344.00L273.65 344.00M268.19 341.74L272.71 346.26M270.45 340.80L270.45 347.20M272.71 341.74L268.19 346.26" stroke="#111" stroke-width="1.85" stroke-linecap="round"/><circle cx="270.45" cy="344.00" r="1.75" fill="#111"/><path d="M276.85 344.00L283.25 344.00M277.79 341.74L282.31 346.26M280.05 340.80L280.05 347.20M282.31 341.74L277.79 346.26" stroke="#111" stroke-width="1.85" stroke-linecap="round"/><circle cx="280.05" cy="344.00" r="1.75" fill="#111"/>
<text x="328.7" y="257.1" font-size="18" font-weight="bold" fill="#111" stroke="#111" stroke-width="0.5">C</text>
<text x="370" y="243.5" textLength="106.7" lengthAdjust="spacingAndGlyphs" font-size="14.5" font-weight="bold" fill="#111">Total cells (RNS+)</text>
<rect x="367.40" y="416.82" width="15.40" height="25.58" fill="#f0b77c" stroke="#111" stroke-width="2.0"/>
<rect x="392.90" y="404.15" width="15.40" height="38.25" fill="#f0187e" stroke="#111" stroke-width="2.0"/>
<rect x="418.10" y="405.49" width="15.40" height="36.91" fill="#5a5af2" stroke="#111" stroke-width="2.0"/>
<rect x="443.50" y="372.93" width="15.40" height="69.47" fill="#00c200" stroke="#111" stroke-width="2.0"/>
<path d="M375.10 415.82V409.84M371.60 409.84H378.60" stroke="#111" stroke-width="1.60" fill="none"/>
<path d="M400.60 403.15V393.12M397.10 393.12H404.10" stroke="#111" stroke-width="1.60" fill="none"/>
<path d="M425.80 404.49V400.48M422.30 400.48H429.30" stroke="#111" stroke-width="1.60" fill="none"/>
<path d="M451.20 371.93V354.09M447.70 354.09H454.70" stroke="#111" stroke-width="1.60" fill="none"/>
<circle cx="375.10" cy="407.17" r="2.4" fill="#111"/>
<circle cx="375.10" cy="409.84" r="2.4" fill="#111"/>
<circle cx="375.10" cy="412.07" r="2.4" fill="#111"/>
<circle cx="371.80" cy="423.22" r="2.4" fill="#111"/>
<circle cx="378.40" cy="421.88" r="2.4" fill="#111"/>
<circle cx="400.60" cy="391.56" r="2.4" fill="#111"/>
<circle cx="400.60" cy="395.57" r="2.4" fill="#111"/>
<circle cx="400.60" cy="398.69" r="2.4" fill="#111"/>
<circle cx="397.30" cy="407.17" r="2.4" fill="#111"/>
<circle cx="403.90" cy="407.17" r="2.4" fill="#111"/>
<circle cx="400.60" cy="419.65" r="2.4" fill="#111"/>
<circle cx="418.80" cy="398.69" r="2.4" fill="#111"/>
<circle cx="425.80" cy="399.58" r="2.4" fill="#111"/>
<circle cx="432.80" cy="399.14" r="2.4" fill="#111"/>
<circle cx="425.80" cy="408.50" r="2.4" fill="#111"/>
<circle cx="425.80" cy="415.64" r="2.4" fill="#111"/>
<circle cx="425.80" cy="405.38" r="2.4" fill="#111"/>
<circle cx="451.20" cy="350.52" r="2.4" fill="#111"/>
<circle cx="451.20" cy="354.54" r="2.4" fill="#111"/>
<circle cx="451.20" cy="378.62" r="2.4" fill="#111"/>
<circle cx="451.20" cy="382.19" r="2.4" fill="#111"/>
<circle cx="451.20" cy="393.34" r="2.4" fill="#111"/>
<path d="M357.80 330.90V442.40H469.50" stroke="#111" stroke-width="2.0" fill="none"/>
<path d="M353.30 442.40H357.80M353.30 420.10H357.80M353.30 397.80H357.80M353.30 375.50H357.80M353.30 353.20H357.80M353.30 330.90H357.80M375.10 442.40V447.20M400.60 442.40V447.20M425.80 442.40V447.20M451.20 442.40V447.20" stroke="#111" stroke-width="1.70" fill="none"/>
<text x="351.50" y="446.26" font-size="8.5" font-weight="bold" text-anchor="end" fill="#111" stroke="#111" stroke-width="0.35" letter-spacing="-0.3">0</text>
<text x="351.50" y="423.96" font-size="8.5" font-weight="bold" text-anchor="end" fill="#111" stroke="#111" stroke-width="0.35" letter-spacing="-0.3">5</text>
<text x="351.50" y="401.66" font-size="8.5" font-weight="bold" text-anchor="end" fill="#111" stroke="#111" stroke-width="0.35" letter-spacing="-0.3">10</text>
<text x="351.50" y="379.36" font-size="8.5" font-weight="bold" text-anchor="end" fill="#111" stroke="#111" stroke-width="0.35" letter-spacing="-0.3">15</text>
<text x="351.50" y="357.06" font-size="8.5" font-weight="bold" text-anchor="end" fill="#111" stroke="#111" stroke-width="0.35" letter-spacing="-0.3">20</text>
<text x="351.50" y="334.76" font-size="8.5" font-weight="bold" text-anchor="end" fill="#111" stroke="#111" stroke-width="0.35" letter-spacing="-0.3">25</text>
<text transform="translate(338.5,386.6) rotate(-90)" font-size="10" font-weight="bold" text-anchor="middle" textLength="58.4" lengthAdjust="spacingAndGlyphs" fill="#111" stroke="#111" stroke-width="0.45">Cell ratio [%]</text>
<text transform="translate(379.50,453.90) rotate(-40)" font-size="10.8" font-weight="bold" text-anchor="end" textLength="24.0" lengthAdjust="spacingAndGlyphs" fill="#111" stroke="#111" stroke-width="0.4">CTRL</text>
<text transform="translate(405.50,455.40) rotate(-40)" font-size="10.8" font-weight="bold" text-anchor="end" textLength="13.8" lengthAdjust="spacingAndGlyphs" fill="#111" stroke="#111" stroke-width="0.4">OS</text>
<text transform="translate(431.40,454.90) rotate(-40)" font-size="10.8" font-weight="bold" text-anchor="end" textLength="63.5" lengthAdjust="spacingAndGlyphs" fill="#111" stroke="#111" stroke-width="0.4">OS + ASTA10</text>
<text transform="translate(458.70,453.40) rotate(-40)" font-size="10.8" font-weight="bold" text-anchor="end" textLength="63.5" lengthAdjust="spacingAndGlyphs" fill="#111" stroke="#111" stroke-width="0.4">OS + ASTA20</text>
<path d="M375.10 273.50V266.60H451.50V273.50" stroke="#111" stroke-width="1.9" fill="none"/>
<path d="M398.91 258.30L404.89 258.30M399.78 256.18L404.02 260.42M401.90 255.31L401.90 261.29M404.02 256.18L399.78 260.42" stroke="#111" stroke-width="1.85" stroke-linecap="round"/><circle cx="401.90" cy="258.30" r="1.64" fill="#111"/><path d="M407.71 258.30L413.69 258.30M408.58 256.18L412.82 260.42M410.70 255.31L410.70 261.29M412.82 256.18L408.58 260.42" stroke="#111" stroke-width="1.85" stroke-linecap="round"/><circle cx="410.70" cy="258.30" r="1.64" fill="#111"/><path d="M416.51 258.30L422.49 258.30M417.38 256.18L421.62 260.42M419.50 255.31L419.50 261.29M421.62 256.18L417.38 260.42" stroke="#111" stroke-width="1.85" stroke-linecap="round"/><circle cx="419.50" cy="258.30" r="1.64" fill="#111"/><path d="M425.31 258.30L431.29 258.30M426.18 256.18L430.42 260.42M428.30 255.31L428.30 261.29M430.42 256.18L426.18 260.42" stroke="#111" stroke-width="1.85" stroke-linecap="round"/><circle cx="428.30" cy="258.30" r="1.64" fill="#111"/>
<path d="M400.60 297.10V290.20H451.50V297.10" stroke="#111" stroke-width="1.9" fill="none"/>
<path d="M416.06 281.80L422.04 281.80M416.93 279.68L421.17 283.92M419.05 278.81L419.05 284.79M421.17 279.68L416.93 283.92" stroke="#111" stroke-width="1.85" stroke-linecap="round"/><circle cx="419.05" cy="281.80" r="1.64" fill="#111"/><path d="M424.86 281.80L430.84 281.80M425.73 279.68L429.97 283.92M427.85 278.81L427.85 284.79M429.97 279.68L425.73 283.92" stroke="#111" stroke-width="1.85" stroke-linecap="round"/><circle cx="427.85" cy="281.80" r="1.64" fill="#111"/><path d="M433.66 281.80L439.64 281.80M434.53 279.68L438.77 283.92M436.65 278.81L436.65 284.79M438.77 279.68L434.53 283.92" stroke="#111" stroke-width="1.85" stroke-linecap="round"/><circle cx="436.65" cy="281.80" r="1.64" fill="#111"/>
<path d="M375.10 320.70V313.70H426.20V320.70" stroke="#111" stroke-width="1.9" fill="none"/>
<text x="400.65" y="309.27" font-size="9.5" text-anchor="middle" fill="#111" stroke="#111" stroke-width="0.35" letter-spacing="-0.1">ns</text>
<path d="M375.10 343.80V337.50H398.50V343.80" stroke="#111" stroke-width="1.9" fill="none"/>
<text x="386.80" y="332.77" font-size="9.5" text-anchor="middle" fill="#111" stroke="#111" stroke-width="0.35" letter-spacing="-0.1">ns</text>
<path d="M402.40 343.80V337.50H424.00V343.80" stroke="#111" stroke-width="1.9" fill="none"/>
<text x="413.20" y="332.77" font-size="9.5" text-anchor="middle" fill="#111" stroke="#111" stroke-width="0.35" letter-spacing="-0.1">ns</text>
<path d="M428.20 343.80V337.50H451.50V343.80" stroke="#111" stroke-width="1.9" fill="none"/>
<path d="M429.86 329.50L435.84 329.50M430.73 327.38L434.97 331.62M432.85 326.51L432.85 332.49M434.97 327.38L430.73 331.62" stroke="#111" stroke-width="1.85" stroke-linecap="round"/><circle cx="432.85" cy="329.50" r="1.64" fill="#111"/><path d="M438.66 329.50L444.64 329.50M439.53 327.38L443.77 331.62M441.65 326.51L441.65 332.49M443.77 327.38L439.53 331.62" stroke="#111" stroke-width="1.85" stroke-linecap="round"/><circle cx="441.65" cy="329.50" r="1.64" fill="#111"/><path d="M447.46 329.50L453.44 329.50M448.33 327.38L452.57 331.62M450.45 326.51L450.45 332.49M452.57 327.38L448.33 331.62" stroke="#111" stroke-width="1.85" stroke-linecap="round"/><circle cx="450.45" cy="329.50" r="1.64" fill="#111"/>
<text x="70.2" y="544.8" font-size="19.5" font-weight="bold" fill="#111" stroke="#111" stroke-width="0.5">D</text>
<text x="110.2" y="539.9" textLength="99.3" lengthAdjust="spacingAndGlyphs" font-size="14.5" font-weight="bold" fill="#111">Live cells (RNS+)</text>
<rect x="110.15" y="717.87" width="14.50" height="22.43" fill="#f0b77c" stroke="#111" stroke-width="2.0"/>
<rect x="135.95" y="706.82" width="14.50" height="33.48" fill="#f0187e" stroke="#111" stroke-width="2.0"/>
<rect x="161.65" y="706.82" width="14.50" height="33.48" fill="#5a5af2" stroke="#111" stroke-width="2.0"/>
<rect x="187.05" y="672.35" width="14.50" height="67.95" fill="#00c200" stroke="#111" stroke-width="2.0"/>
<path d="M117.40 716.87V710.69M113.90 710.69H120.90" stroke="#111" stroke-width="1.60" fill="none"/>
<path d="M143.20 705.82V696.54M139.70 696.54H146.70" stroke="#111" stroke-width="1.60" fill="none"/>
<path d="M168.90 705.82V699.86M165.40 699.86H172.40" stroke="#111" stroke-width="1.60" fill="none"/>
<path d="M194.30 671.35V653.23M190.80 653.23H197.80" stroke="#111" stroke-width="1.60" fill="none"/>
<circle cx="117.40" cy="708.92" r="2.4" fill="#111"/>
<circle cx="117.40" cy="713.78" r="2.4" fill="#111"/>
<circle cx="117.40" cy="715.99" r="2.4" fill="#111"/>
<circle cx="114.40" cy="723.95" r="2.4" fill="#111"/>
<circle cx="121.00" cy="721.29" r="2.4" fill="#111"/>
<circle cx="143.20" cy="694.77" r="2.4" fill="#111"/>
<circle cx="139.80" cy="698.75" r="2.4" fill="#111"/>
<circle cx="146.60" cy="701.40" r="2.4" fill="#111"/>
<circle cx="139.80" cy="708.03" r="2.4" fill="#111"/>
<circle cx="146.60" cy="708.92" r="2.4" fill="#111"/>
<circle cx="143.20" cy="720.41" r="2.4" fill="#111"/>
<circle cx="162.20" cy="699.64" r="2.4" fill="#111"/>
<circle cx="175.60" cy="699.64" r="2.4" fill="#111"/>
<circle cx="168.90" cy="702.29" r="2.4" fill="#111"/>
<circle cx="168.90" cy="708.03" r="2.4" fill="#111"/>
<circle cx="168.90" cy="715.55" r="2.4" fill="#111"/>
<circle cx="168.90" cy="704.94" r="2.4" fill="#111"/>
<circle cx="194.30" cy="650.13" r="2.4" fill="#111"/>
<circle cx="194.30" cy="654.11" r="2.4" fill="#111"/>
<circle cx="190.90" cy="677.98" r="2.4" fill="#111"/>
<circle cx="197.10" cy="680.19" r="2.4" fill="#111"/>
<circle cx="194.30" cy="693.01" r="2.4" fill="#111"/>
<path d="M100.20 629.80V740.30H211.80" stroke="#111" stroke-width="2.0" fill="none"/>
<path d="M95.70 740.30H100.20M95.70 718.20H100.20M95.70 696.10H100.20M95.70 674.00H100.20M95.70 651.90H100.20M95.70 629.80H100.20M117.40 740.30V745.10M143.20 740.30V745.10M168.90 740.30V745.10M194.30 740.30V745.10" stroke="#111" stroke-width="1.70" fill="none"/>
<text x="93.90" y="744.16" font-size="8.5" font-weight="bold" text-anchor="end" fill="#111" stroke="#111" stroke-width="0.35" letter-spacing="-0.3">0</text>
<text x="93.90" y="722.06" font-size="8.5" font-weight="bold" text-anchor="end" fill="#111" stroke="#111" stroke-width="0.35" letter-spacing="-0.3">5</text>
<text x="93.90" y="699.96" font-size="8.5" font-weight="bold" text-anchor="end" fill="#111" stroke="#111" stroke-width="0.35" letter-spacing="-0.3">10</text>
<text x="93.90" y="677.86" font-size="8.5" font-weight="bold" text-anchor="end" fill="#111" stroke="#111" stroke-width="0.35" letter-spacing="-0.3">15</text>
<text x="93.90" y="655.76" font-size="8.5" font-weight="bold" text-anchor="end" fill="#111" stroke="#111" stroke-width="0.35" letter-spacing="-0.3">20</text>
<text x="93.90" y="633.66" font-size="8.5" font-weight="bold" text-anchor="end" fill="#111" stroke="#111" stroke-width="0.35" letter-spacing="-0.3">25</text>
<text transform="translate(80.6,685.4) rotate(-90)" font-size="10.5" font-weight="bold" text-anchor="middle" textLength="56" lengthAdjust="spacingAndGlyphs" fill="#111" stroke="#111" stroke-width="0.45">Cell ratio [%]</text>
<text transform="translate(125.00,754.80) rotate(-40)" font-size="10.8" font-weight="bold" text-anchor="end" textLength="24.0" lengthAdjust="spacingAndGlyphs" fill="#111" stroke="#111" stroke-width="0.4">CTRL</text>
<text transform="translate(145.60,754.30) rotate(-40)" font-size="10.8" font-weight="bold" text-anchor="end" textLength="13.8" lengthAdjust="spacingAndGlyphs" fill="#111" stroke="#111" stroke-width="0.4">OS</text>
<text transform="translate(173.50,754.30) rotate(-40)" font-size="10.8" font-weight="bold" text-anchor="end" textLength="63.5" lengthAdjust="spacingAndGlyphs" fill="#111" stroke="#111" stroke-width="0.4">OS + ASTA10</text>
<text transform="translate(199.30,753.30) rotate(-40)" font-size="10.8" font-weight="bold" text-anchor="end" textLength="63.5" lengthAdjust="spacingAndGlyphs" fill="#111" stroke="#111" stroke-width="0.4">OS + ASTA20</text>
<path d="M117.20 572.60V566.70H194.30V572.60" stroke="#111" stroke-width="1.9" fill="none"/>
<path d="M141.26 557.40L147.24 557.40M142.13 555.28L146.37 559.52M144.25 554.41L144.25 560.39M146.37 555.28L142.13 559.52" stroke="#111" stroke-width="1.85" stroke-linecap="round"/><circle cx="144.25" cy="557.40" r="1.64" fill="#111"/><path d="M150.16 557.40L156.14 557.40M151.03 555.28L155.27 559.52M153.15 554.41L153.15 560.39M155.27 555.28L151.03 559.52" stroke="#111" stroke-width="1.85" stroke-linecap="round"/><circle cx="153.15" cy="557.40" r="1.64" fill="#111"/><path d="M159.06 557.40L165.04 557.40M159.93 555.28L164.17 559.52M162.05 554.41L162.05 560.39M164.17 555.28L159.93 559.52" stroke="#111" stroke-width="1.85" stroke-linecap="round"/><circle cx="162.05" cy="557.40" r="1.64" fill="#111"/><path d="M167.96 557.40L173.94 557.40M168.83 555.28L173.07 559.52M170.95 554.41L170.95 560.39M173.07 555.28L168.83 559.52" stroke="#111" stroke-width="1.85" stroke-linecap="round"/><circle cx="170.95" cy="557.40" r="1.64" fill="#111"/>
<path d="M142.90 596.20V589.60H194.30V596.20" stroke="#111" stroke-width="1.9" fill="none"/>
<path d="M158.51 581.90L164.49 581.90M159.38 579.78L163.62 584.02M161.50 578.91L161.50 584.89M163.62 579.78L159.38 584.02" stroke="#111" stroke-width="1.85" stroke-linecap="round"/><circle cx="161.50" cy="581.90" r="1.64" fill="#111"/><path d="M167.41 581.90L173.39 581.90M168.28 579.78L172.52 584.02M170.40 578.91L170.40 584.89M172.52 579.78L168.28 584.02" stroke="#111" stroke-width="1.85" stroke-linecap="round"/><circle cx="170.40" cy="581.90" r="1.64" fill="#111"/><path d="M176.31 581.90L182.29 581.90M177.18 579.78L181.42 584.02M179.30 578.91L179.30 584.89M181.42 579.78L177.18 584.02" stroke="#111" stroke-width="1.85" stroke-linecap="round"/><circle cx="179.30" cy="581.90" r="1.64" fill="#111"/>
<path d="M117.20 620.00V613.90H169.30V620.00" stroke="#111" stroke-width="1.9" fill="none"/>
<text x="143.25" y="609.67" font-size="9.5" text-anchor="middle" fill="#111" stroke="#111" stroke-width="0.35" letter-spacing="-0.1">ns</text>
<path d="M117.20 645.00V638.00H140.60V645.00" stroke="#111" stroke-width="1.9" fill="none"/>
<text x="128.90" y="631.87" font-size="9.5" text-anchor="middle" fill="#111" stroke="#111" stroke-width="0.35" letter-spacing="-0.1">ns</text>
<path d="M144.60 645.00V638.00H166.30V645.00" stroke="#111" stroke-width="1.9" fill="none"/>
<text x="155.45" y="631.87" font-size="9.5" text-anchor="middle" fill="#111" stroke="#111" stroke-width="0.35" letter-spacing="-0.1">ns</text>
<path d="M170.30 645.00V638.00H194.30V645.00" stroke="#111" stroke-width="1.9" fill="none"/>
<path d="M172.21 628.60L178.19 628.60M173.08 626.48L177.32 630.72M175.20 625.61L175.20 631.59M177.32 626.48L173.08 630.72" stroke="#111" stroke-width="1.85" stroke-linecap="round"/><circle cx="175.20" cy="628.60" r="1.64" fill="#111"/><path d="M181.11 628.60L187.09 628.60M181.98 626.48L186.22 630.72M184.10 625.61L184.10 631.59M186.22 626.48L181.98 630.72" stroke="#111" stroke-width="1.85" stroke-linecap="round"/><circle cx="184.10" cy="628.60" r="1.64" fill="#111"/><path d="M190.01 628.60L195.99 628.60M190.88 626.48L195.12 630.72M193.00 625.61L193.00 631.59M195.12 626.48L190.88 630.72" stroke="#111" stroke-width="1.85" stroke-linecap="round"/><circle cx="193.00" cy="628.60" r="1.64" fill="#111"/>
<text x="254" y="545.9" font-size="18" font-weight="bold" fill="#111" stroke="#111" stroke-width="0.5">E</text>
<text x="288.1" y="539.4" textLength="106.7" lengthAdjust="spacingAndGlyphs" font-size="14.5" font-weight="bold" fill="#111">Dead cells (RNS+)</text>
<rect x="290.80" y="712.56" width="15.20" height="24.74" fill="#f0b77c" stroke="#111" stroke-width="2.0"/>
<rect x="317.70" y="689.39" width="15.20" height="47.91" fill="#f0187e" stroke="#111" stroke-width="2.0"/>
<rect x="344.30" y="698.83" width="15.20" height="38.47" fill="#5a5af2" stroke="#111" stroke-width="2.0"/>
<rect x="370.50" y="730.12" width="15.20" height="7.18" fill="#00c200" stroke="#111" stroke-width="2.0"/>
<path d="M298.40 711.56V702.41M294.90 702.41H301.90" stroke="#111" stroke-width="1.60" fill="none"/>
<path d="M325.30 688.39V668.66M321.80 668.66H328.80" stroke="#111" stroke-width="1.60" fill="none"/>
<path d="M351.90 697.83V693.26M348.40 693.26H355.40" stroke="#111" stroke-width="1.60" fill="none"/>
<path d="M378.10 729.12V722.43M374.60 722.43H381.60" stroke="#111" stroke-width="1.60" fill="none"/>
<circle cx="291.00" cy="706.98" r="2.4" fill="#111"/>
<circle cx="305.20" cy="706.98" r="2.4" fill="#111"/>
<circle cx="298.40" cy="704.70" r="2.4" fill="#111"/>
<circle cx="298.40" cy="708.70" r="2.4" fill="#111"/>
<circle cx="298.40" cy="725.86" r="2.4" fill="#111"/>
<circle cx="325.30" cy="653.22" r="2.4" fill="#111"/>
<circle cx="325.30" cy="681.24" r="2.4" fill="#111"/>
<circle cx="325.30" cy="684.10" r="2.4" fill="#111"/>
<circle cx="321.40" cy="701.26" r="2.4" fill="#111"/>
<circle cx="329.00" cy="701.26" r="2.4" fill="#111"/>
<circle cx="325.30" cy="706.98" r="2.4" fill="#111"/>
<circle cx="351.90" cy="690.40" r="2.4" fill="#111"/>
<circle cx="351.90" cy="693.26" r="2.4" fill="#111"/>
<circle cx="344.70" cy="698.40" r="2.4" fill="#111"/>
<circle cx="358.90" cy="698.40" r="2.4" fill="#111"/>
<circle cx="351.90" cy="702.12" r="2.4" fill="#111"/>
<circle cx="351.90" cy="705.84" r="2.4" fill="#111"/>
<circle cx="370.60" cy="725.86" r="2.4" fill="#111"/>
<circle cx="385.40" cy="725.86" r="2.4" fill="#111"/>
<circle cx="378.10" cy="723.00" r="2.4" fill="#111"/>
<circle cx="378.10" cy="729.29" r="2.4" fill="#111"/>
<circle cx="378.10" cy="737.87" r="2.4" fill="#111"/>
<path d="M280.50 622.90V737.30H396.70" stroke="#111" stroke-width="2.0" fill="none"/>
<path d="M276.00 737.30H280.50M276.00 708.70H280.50M276.00 680.10H280.50M276.00 651.50H280.50M276.00 622.90H280.50M298.40 737.30V742.10M325.30 737.30V742.10M351.90 737.30V742.10M378.10 737.30V742.10" stroke="#111" stroke-width="1.70" fill="none"/>
<text x="274.20" y="741.16" font-size="8.5" font-weight="bold" text-anchor="end" fill="#111" stroke="#111" stroke-width="0.35" letter-spacing="-0.3">0.0</text>
<text x="274.20" y="712.56" font-size="8.5" font-weight="bold" text-anchor="end" fill="#111" stroke="#111" stroke-width="0.35" letter-spacing="-0.3">0.5</text>
<text x="274.20" y="683.96" font-size="8.5" font-weight="bold" text-anchor="end" fill="#111" stroke="#111" stroke-width="0.35" letter-spacing="-0.3">1.0</text>
<text x="274.20" y="655.36" font-size="8.5" font-weight="bold" text-anchor="end" fill="#111" stroke="#111" stroke-width="0.35" letter-spacing="-0.3">1.5</text>
<text x="274.20" y="626.76" font-size="8.5" font-weight="bold" text-anchor="end" fill="#111" stroke="#111" stroke-width="0.35" letter-spacing="-0.3">2.0</text>
<text transform="translate(258.3,680.7) rotate(-90)" font-size="10" font-weight="bold" text-anchor="middle" textLength="58.4" lengthAdjust="spacingAndGlyphs" fill="#111" stroke="#111" stroke-width="0.45">Cell ratio [%]</text>
<text transform="translate(306.50,750.80) rotate(-40)" font-size="10.8" font-weight="bold" text-anchor="end" textLength="24.0" lengthAdjust="spacingAndGlyphs" fill="#111" stroke="#111" stroke-width="0.4">CTRL</text>
<text transform="translate(327.70,751.30) rotate(-40)" font-size="10.8" font-weight="bold" text-anchor="end" textLength="13.8" lengthAdjust="spacingAndGlyphs" fill="#111" stroke="#111" stroke-width="0.4">OS</text>
<text transform="translate(355.10,751.30) rotate(-40)" font-size="10.8" font-weight="bold" text-anchor="end" textLength="63.5" lengthAdjust="spacingAndGlyphs" fill="#111" stroke="#111" stroke-width="0.4">OS + ASTA10</text>
<text transform="translate(384.10,750.80) rotate(-40)" font-size="10.8" font-weight="bold" text-anchor="end" textLength="63.5" lengthAdjust="spacingAndGlyphs" fill="#111" stroke="#111" stroke-width="0.4">OS + ASTA20</text>
<path d="M298.40 572.60V566.70H378.00V572.60" stroke="#111" stroke-width="1.9" fill="none"/>
<text x="338.20" y="561.77" font-size="9.5" text-anchor="middle" fill="#111" stroke="#111" stroke-width="0.35" letter-spacing="-0.1">ns</text>
<path d="M325.20 597.10V590.10H378.00V597.10" stroke="#111" stroke-width="1.9" fill="none"/>
<path d="M345.60 582.60L352.00 582.60M346.54 580.34L351.06 584.86M348.80 579.40L348.80 585.80M351.06 580.34L346.54 584.86" stroke="#111" stroke-width="1.85" stroke-linecap="round"/><circle cx="348.80" cy="582.60" r="1.75" fill="#111"/><path d="M354.80 582.60L361.20 582.60M355.74 580.34L360.26 584.86M358.00 579.40L358.00 585.80M360.26 580.34L355.74 584.86" stroke="#111" stroke-width="1.85" stroke-linecap="round"/><circle cx="358.00" cy="582.60" r="1.75" fill="#111"/>
<path d="M298.40 621.60V614.60H352.10V621.60" stroke="#111" stroke-width="1.9" fill="none"/>
<text x="325.25" y="610.17" font-size="9.5" text-anchor="middle" fill="#111" stroke="#111" stroke-width="0.35" letter-spacing="-0.1">ns</text>
<path d="M298.40 646.50V640.30H322.90V646.50" stroke="#111" stroke-width="1.9" fill="none"/>
<text x="310.65" y="634.27" font-size="9.5" text-anchor="middle" fill="#111" stroke="#111" stroke-width="0.35" letter-spacing="-0.1">ns</text>
<path d="M327.10 646.50V640.30H349.30V646.50" stroke="#111" stroke-width="1.9" fill="none"/>
<text x="338.20" y="634.27" font-size="9.5" text-anchor="middle" fill="#111" stroke="#111" stroke-width="0.35" letter-spacing="-0.1">ns</text>
<path d="M354.00 646.50V640.30H378.00V646.50" stroke="#111" stroke-width="1.9" fill="none"/>
<path d="M364.60 631.00L371.00 631.00M365.54 628.74L370.06 633.26M367.80 627.80L367.80 634.20M370.06 628.74L365.54 633.26" stroke="#111" stroke-width="1.85" stroke-linecap="round"/><circle cx="367.80" cy="631.00" r="1.75" fill="#111"/>
<text x="438" y="545.7" font-size="18" font-weight="bold" fill="#111" stroke="#111" stroke-width="0.5">F</text>
<text x="470.3" y="528.5" textLength="103.0" lengthAdjust="spacingAndGlyphs" font-size="14.5" font-weight="bold" fill="#111">Dead cells (RNS-)</text>
<rect x="468.40" y="723.90" width="13.60" height="11.00" fill="#f0b77c" stroke="#111" stroke-width="2.0"/>
<rect x="491.30" y="707.90" width="13.60" height="27.00" fill="#f0187e" stroke="#111" stroke-width="2.0"/>
<rect x="515.00" y="679.90" width="13.60" height="55.00" fill="#5a5af2" stroke="#111" stroke-width="2.0"/>
<rect x="537.60" y="727.40" width="13.60" height="7.50" fill="#00c200" stroke="#111" stroke-width="2.0"/>
<path d="M475.20 722.90V720.90M471.70 720.90H478.70" stroke="#111" stroke-width="1.60" fill="none"/>
<path d="M498.10 706.90V700.40M494.60 700.40H501.60" stroke="#111" stroke-width="1.60" fill="none"/>
<path d="M521.80 678.90V658.40M518.30 658.40H525.30" stroke="#111" stroke-width="1.60" fill="none"/>
<path d="M544.40 726.40V721.90M540.90 721.90H547.90" stroke="#111" stroke-width="1.60" fill="none"/>
<circle cx="469.00" cy="723.90" r="1.9" fill="#111"/>
<circle cx="475.20" cy="720.40" r="1.9" fill="#111"/>
<circle cx="481.20" cy="725.90" r="1.9" fill="#111"/>
<circle cx="469.00" cy="727.90" r="1.9" fill="#111"/>
<circle cx="475.20" cy="726.40" r="1.9" fill="#111"/>
<circle cx="498.10" cy="696.40" r="1.9" fill="#111"/>
<circle cx="498.10" cy="701.40" r="1.9" fill="#111"/>
<circle cx="495.10" cy="708.40" r="1.9" fill="#111"/>
<circle cx="501.10" cy="708.40" r="1.9" fill="#111"/>
<circle cx="495.10" cy="714.90" r="1.9" fill="#111"/>
<circle cx="501.10" cy="713.40" r="1.9" fill="#111"/>
<circle cx="521.80" cy="646.40" r="1.9" fill="#111"/>
<circle cx="521.80" cy="671.40" r="1.9" fill="#111"/>
<circle cx="521.80" cy="676.40" r="1.9" fill="#111"/>
<circle cx="525.80" cy="677.40" r="1.9" fill="#111"/>
<circle cx="521.80" cy="698.90" r="1.9" fill="#111"/>
<circle cx="521.80" cy="704.90" r="1.9" fill="#111"/>
<circle cx="544.40" cy="720.90" r="1.9" fill="#111"/>
<circle cx="541.40" cy="722.40" r="1.9" fill="#111"/>
<circle cx="547.40" cy="724.90" r="1.9" fill="#111"/>
<circle cx="544.40" cy="727.40" r="1.9" fill="#111"/>
<circle cx="544.40" cy="733.90" r="1.9" fill="#111"/>
<path d="M459.70 634.90V734.90H560.20" stroke="#111" stroke-width="2.0" fill="none"/>
<path d="M456.20 734.90H459.70M456.20 709.90H459.70M456.20 684.90H459.70M456.20 659.90H459.70M456.20 634.90H459.70M475.20 734.90V739.70M498.10 734.90V739.70M521.80 734.90V739.70M544.40 734.90V739.70" stroke="#111" stroke-width="1.70" fill="none"/>
<text x="454.40" y="738.29" font-size="7.2" font-weight="bold" text-anchor="end" fill="#111" stroke="#111" stroke-width="0.35" letter-spacing="-0.3">0.0</text>
<text x="454.40" y="713.29" font-size="7.2" font-weight="bold" text-anchor="end" fill="#111" stroke="#111" stroke-width="0.35" letter-spacing="-0.3">0.5</text>
<text x="454.40" y="688.29" font-size="7.2" font-weight="bold" text-anchor="end" fill="#111" stroke="#111" stroke-width="0.35" letter-spacing="-0.3">1.0</text>
<text x="454.40" y="663.29" font-size="7.2" font-weight="bold" text-anchor="end" fill="#111" stroke="#111" stroke-width="0.35" letter-spacing="-0.3">1.5</text>
<text x="454.40" y="638.29" font-size="7.2" font-weight="bold" text-anchor="end" fill="#111" stroke="#111" stroke-width="0.35" letter-spacing="-0.3">2.0</text>
<text transform="translate(441,685.4) rotate(-90)" font-size="9.5" font-weight="bold" text-anchor="middle" textLength="51.4" lengthAdjust="spacingAndGlyphs" fill="#111" stroke="#111" stroke-width="0.45">Cell ratio [%]</text>
<text transform="translate(477.60,746.90) rotate(-40)" font-size="10.8" font-weight="bold" text-anchor="end" textLength="24.0" lengthAdjust="spacingAndGlyphs" fill="#111" stroke="#111" stroke-width="0.4">CTRL</text>
<text transform="translate(500.50,747.40) rotate(-40)" font-size="10.8" font-weight="bold" text-anchor="end" textLength="13.8" lengthAdjust="spacingAndGlyphs" fill="#111" stroke="#111" stroke-width="0.4">OS</text>
<text transform="translate(526.40,747.90) rotate(-40)" font-size="10.8" font-weight="bold" text-anchor="end" textLength="63.5" lengthAdjust="spacingAndGlyphs" fill="#111" stroke="#111" stroke-width="0.4">OS + ASTA10</text>
<text transform="translate(551.40,746.90) rotate(-40)" font-size="10.8" font-weight="bold" text-anchor="end" textLength="63.5" lengthAdjust="spacingAndGlyphs" fill="#111" stroke="#111" stroke-width="0.4">OS + ASTA20</text>
<path d="M474.70 555.60V549.50H544.80V555.60" stroke="#111" stroke-width="1.5" fill="none"/>
<text x="509.75" y="545.45" font-size="7.5" text-anchor="middle" fill="#111" stroke="#111" stroke-width="0.35" letter-spacing="-0.1">ns</text>
<path d="M497.60 577.00V570.50H544.80V577.00" stroke="#111" stroke-width="1.5" fill="none"/>
<text x="521.20" y="566.95" font-size="7.5" text-anchor="middle" fill="#111" stroke="#111" stroke-width="0.35" letter-spacing="-0.1">ns</text>
<path d="M474.70 598.60V592.70H521.40V598.60" stroke="#111" stroke-width="1.5" fill="none"/>
<path d="M484.95 584.60L490.45 584.60M485.76 582.66L489.64 586.54M487.70 581.85L487.70 587.35M489.64 582.66L485.76 586.54" stroke="#111" stroke-width="1.85" stroke-linecap="round"/><circle cx="487.70" cy="584.60" r="1.51" fill="#111"/><path d="M493.05 584.60L498.55 584.60M493.86 582.66L497.74 586.54M495.80 581.85L495.80 587.35M497.74 582.66L493.86 586.54" stroke="#111" stroke-width="1.85" stroke-linecap="round"/><circle cx="495.80" cy="584.60" r="1.51" fill="#111"/><path d="M501.15 584.60L506.65 584.60M501.96 582.66L505.84 586.54M503.90 581.85L503.90 587.35M505.84 582.66L501.96 586.54" stroke="#111" stroke-width="1.85" stroke-linecap="round"/><circle cx="503.90" cy="584.60" r="1.51" fill="#111"/><path d="M509.25 584.60L514.75 584.60M510.06 582.66L513.94 586.54M512.00 581.85L512.00 587.35M513.94 582.66L510.06 586.54" stroke="#111" stroke-width="1.85" stroke-linecap="round"/><circle cx="512.00" cy="584.60" r="1.51" fill="#111"/>
<path d="M521.40 619.60V613.80H544.80V619.60" stroke="#111" stroke-width="1.5" fill="none"/>
<path d="M520.00 606.30L525.50 606.30M520.81 604.36L524.69 608.24M522.75 603.55L522.75 609.05M524.69 604.36L520.81 608.24" stroke="#111" stroke-width="1.85" stroke-linecap="round"/><circle cx="522.75" cy="606.30" r="1.51" fill="#111"/><path d="M528.10 606.30L533.60 606.30M528.91 604.36L532.79 608.24M530.85 603.55L530.85 609.05M532.79 604.36L528.91 608.24" stroke="#111" stroke-width="1.85" stroke-linecap="round"/><circle cx="530.85" cy="606.30" r="1.51" fill="#111"/><path d="M536.20 606.30L541.70 606.30M537.01 604.36L540.89 608.24M538.95 603.55L538.95 609.05M540.89 604.36L537.01 608.24" stroke="#111" stroke-width="1.85" stroke-linecap="round"/><circle cx="538.95" cy="606.30" r="1.51" fill="#111"/><path d="M544.30 606.30L549.80 606.30M545.11 604.36L548.99 608.24M547.05 603.55L547.05 609.05M548.99 604.36L545.11 608.24" stroke="#111" stroke-width="1.85" stroke-linecap="round"/><circle cx="547.05" cy="606.30" r="1.51" fill="#111"/>
<path d="M474.50 640.80V634.50H496.30V640.80" stroke="#111" stroke-width="1.5" fill="none"/>
<text x="485.40" y="630.65" font-size="7.5" text-anchor="middle" fill="#111" stroke="#111" stroke-width="0.35" letter-spacing="-0.1">ns</text>
<path d="M499.50 640.80V634.50H521.20V640.80" stroke="#111" stroke-width="1.5" fill="none"/>
<path d="M505.35 627.00L510.85 627.00M506.16 625.06L510.04 628.94M508.10 624.25L508.10 629.75M510.04 625.06L506.16 628.94" stroke="#111" stroke-width="1.85" stroke-linecap="round"/><circle cx="508.10" cy="627.00" r="1.51" fill="#111"/><path d="M513.45 627.00L518.95 627.00M514.26 625.06L518.14 628.94M516.20 624.25L516.20 629.75M518.14 625.06L514.26 628.94" stroke="#111" stroke-width="1.85" stroke-linecap="round"/><circle cx="516.20" cy="627.00" r="1.51" fill="#111"/>
</svg></body></html>
